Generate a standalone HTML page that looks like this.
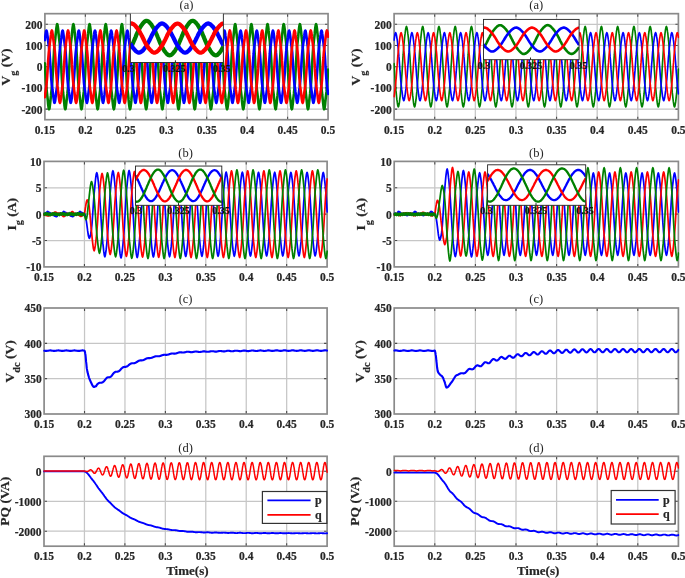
<!DOCTYPE html>
<html lang="en"><head><meta charset="utf-8"><title>Simulation results</title>
<style>
html,body{margin:0;padding:0;background:#fff}
svg{display:block;filter:blur(0.35px)}
text{stroke:#262626;stroke-width:0.2px;font-family:'Liberation Serif', serif;fill:#262626}
.tk{font-size:11.5px;font-weight:bold}
.tt{font-size:12.5px;stroke:none}
.in{font-size:10px;font-weight:bold;fill:#111}
.lg{font-size:12px;font-weight:bold}
.yl{font-size:13.5px;font-weight:bold}
.xl{font-size:13px;font-weight:bold}
</style></head><body>
<svg width="685" height="578" viewBox="0 0 685 578">
<defs>
<clipPath id="caL"><rect x="44.00" y="13.67" width="285.15" height="106.03"/></clipPath>
<clipPath id="cbL"><rect x="43.10" y="161.40" width="285.10" height="105.50"/></clipPath>
<clipPath id="ccL"><rect x="43.20" y="308.00" width="285.00" height="106.00"/></clipPath>
<clipPath id="cdL"><rect x="43.10" y="456.30" width="285.10" height="89.90"/></clipPath>
<clipPath id="caR"><rect x="393.20" y="13.67" width="286.30" height="106.03"/></clipPath>
<clipPath id="cbR"><rect x="393.30" y="161.40" width="286.20" height="105.50"/></clipPath>
<clipPath id="ccR"><rect x="393.30" y="308.00" width="286.20" height="106.00"/></clipPath>
<clipPath id="cdR"><rect x="393.30" y="456.30" width="286.20" height="89.90"/></clipPath>
</defs>
<rect width="685" height="578" fill="#fff"/>
<path d="M85.35,13.67V119.70M125.80,13.67V119.70M166.25,13.67V119.70M206.70,13.67V119.70M247.15,13.67V119.70M287.60,13.67V119.70M44.90,109.10H328.05M44.90,87.89H328.05M44.90,66.69H328.05M44.90,45.48H328.05M44.90,24.27H328.05" stroke="#c6c6c6" stroke-width="1.25" fill="none"/>
<path d="M84.44,161.40V266.90M124.89,161.40V266.90M165.33,161.40V266.90M205.77,161.40V266.90M246.21,161.40V266.90M286.66,161.40V266.90M44.00,240.52H327.10M44.00,214.15H327.10M44.00,187.78H327.10" stroke="#c6c6c6" stroke-width="1.25" fill="none"/>
<path d="M84.53,308.00V414.00M124.96,308.00V414.00M165.39,308.00V414.00M205.81,308.00V414.00M246.24,308.00V414.00M286.67,308.00V414.00M44.10,378.67H327.10M44.10,343.33H327.10" stroke="#c6c6c6" stroke-width="1.25" fill="none"/>
<path d="M84.44,456.30V546.20M124.89,456.30V546.20M165.33,456.30V546.20M205.77,456.30V546.20M246.21,456.30V546.20M286.66,456.30V546.20M44.00,531.22H327.10M44.00,501.25H327.10M44.00,471.28H327.10" stroke="#c6c6c6" stroke-width="1.25" fill="none"/>
<path d="M434.71,13.67V119.70M475.33,13.67V119.70M515.94,13.67V119.70M556.56,13.67V119.70M597.17,13.67V119.70M637.79,13.67V119.70M394.10,109.10H678.40M394.10,87.89H678.40M394.10,66.69H678.40M394.10,45.48H678.40M394.10,24.27H678.40" stroke="#c6c6c6" stroke-width="1.25" fill="none"/>
<path d="M434.80,161.40V266.90M475.40,161.40V266.90M516.00,161.40V266.90M556.60,161.40V266.90M597.20,161.40V266.90M637.80,161.40V266.90M394.20,240.52H678.40M394.20,214.15H678.40M394.20,187.78H678.40" stroke="#c6c6c6" stroke-width="1.25" fill="none"/>
<path d="M434.80,308.00V414.00M475.40,308.00V414.00M516.00,308.00V414.00M556.60,308.00V414.00M597.20,308.00V414.00M637.80,308.00V414.00M394.20,378.67H678.40M394.20,343.33H678.40" stroke="#c6c6c6" stroke-width="1.25" fill="none"/>
<path d="M434.80,456.30V546.20M475.40,456.30V546.20M516.00,456.30V546.20M556.60,456.30V546.20M597.20,456.30V546.20M637.80,456.30V546.20M394.20,531.22H678.40M394.20,501.25H678.40M394.20,471.28H678.40" stroke="#c6c6c6" stroke-width="1.25" fill="none"/>
<path d="M85.35,119.70v-3.0M85.35,13.67v3.0M125.80,119.70v-3.0M125.80,13.67v3.0M166.25,119.70v-3.0M166.25,13.67v3.0M206.70,119.70v-3.0M206.70,13.67v3.0M247.15,119.70v-3.0M247.15,13.67v3.0M287.60,119.70v-3.0M287.60,13.67v3.0M44.90,109.10h3.0M328.05,109.10h-3.0M44.90,87.89h3.0M328.05,87.89h-3.0M44.90,66.69h3.0M328.05,66.69h-3.0M44.90,45.48h3.0M328.05,45.48h-3.0M44.90,24.27h3.0M328.05,24.27h-3.0" stroke="#4a4a4a" stroke-width="1.1" fill="none"/>
<rect x="44.90" y="13.67" width="283.15" height="106.03" fill="none" stroke="#8a8a8a" stroke-width="1.7"/>
<path d="M84.44,266.90v-3.0M84.44,161.40v3.0M124.89,266.90v-3.0M124.89,161.40v3.0M165.33,266.90v-3.0M165.33,161.40v3.0M205.77,266.90v-3.0M205.77,161.40v3.0M246.21,266.90v-3.0M246.21,161.40v3.0M286.66,266.90v-3.0M286.66,161.40v3.0M44.00,240.52h3.0M327.10,240.52h-3.0M44.00,214.15h3.0M327.10,214.15h-3.0M44.00,187.78h3.0M327.10,187.78h-3.0" stroke="#4a4a4a" stroke-width="1.1" fill="none"/>
<rect x="44.00" y="161.40" width="283.10" height="105.50" fill="none" stroke="#8a8a8a" stroke-width="1.7"/>
<path d="M84.53,414.00v-3.0M84.53,308.00v3.0M124.96,414.00v-3.0M124.96,308.00v3.0M165.39,414.00v-3.0M165.39,308.00v3.0M205.81,414.00v-3.0M205.81,308.00v3.0M246.24,414.00v-3.0M246.24,308.00v3.0M286.67,414.00v-3.0M286.67,308.00v3.0M44.10,378.67h3.0M327.10,378.67h-3.0M44.10,343.33h3.0M327.10,343.33h-3.0" stroke="#4a4a4a" stroke-width="1.1" fill="none"/>
<rect x="44.10" y="308.00" width="283.00" height="106.00" fill="none" stroke="#8a8a8a" stroke-width="1.7"/>
<path d="M84.44,546.20v-3.0M84.44,456.30v3.0M124.89,546.20v-3.0M124.89,456.30v3.0M165.33,546.20v-3.0M165.33,456.30v3.0M205.77,546.20v-3.0M205.77,456.30v3.0M246.21,546.20v-3.0M246.21,456.30v3.0M286.66,546.20v-3.0M286.66,456.30v3.0M44.00,531.22h3.0M327.10,531.22h-3.0M44.00,501.25h3.0M327.10,501.25h-3.0M44.00,471.28h3.0M327.10,471.28h-3.0" stroke="#4a4a4a" stroke-width="1.1" fill="none"/>
<rect x="44.00" y="456.30" width="283.10" height="89.90" fill="none" stroke="#8a8a8a" stroke-width="1.7"/>
<path d="M434.71,119.70v-3.0M434.71,13.67v3.0M475.33,119.70v-3.0M475.33,13.67v3.0M515.94,119.70v-3.0M515.94,13.67v3.0M556.56,119.70v-3.0M556.56,13.67v3.0M597.17,119.70v-3.0M597.17,13.67v3.0M637.79,119.70v-3.0M637.79,13.67v3.0M394.10,109.10h3.0M678.40,109.10h-3.0M394.10,87.89h3.0M678.40,87.89h-3.0M394.10,66.69h3.0M678.40,66.69h-3.0M394.10,45.48h3.0M678.40,45.48h-3.0M394.10,24.27h3.0M678.40,24.27h-3.0" stroke="#4a4a4a" stroke-width="1.1" fill="none"/>
<rect x="394.10" y="13.67" width="284.30" height="106.03" fill="none" stroke="#8a8a8a" stroke-width="1.7"/>
<path d="M434.80,266.90v-3.0M434.80,161.40v3.0M475.40,266.90v-3.0M475.40,161.40v3.0M516.00,266.90v-3.0M516.00,161.40v3.0M556.60,266.90v-3.0M556.60,161.40v3.0M597.20,266.90v-3.0M597.20,161.40v3.0M637.80,266.90v-3.0M637.80,161.40v3.0M394.20,240.52h3.0M678.40,240.52h-3.0M394.20,214.15h3.0M678.40,214.15h-3.0M394.20,187.78h3.0M678.40,187.78h-3.0" stroke="#4a4a4a" stroke-width="1.1" fill="none"/>
<rect x="394.20" y="161.40" width="284.20" height="105.50" fill="none" stroke="#8a8a8a" stroke-width="1.7"/>
<path d="M434.80,414.00v-3.0M434.80,308.00v3.0M475.40,414.00v-3.0M475.40,308.00v3.0M516.00,414.00v-3.0M516.00,308.00v3.0M556.60,414.00v-3.0M556.60,308.00v3.0M597.20,414.00v-3.0M597.20,308.00v3.0M637.80,414.00v-3.0M637.80,308.00v3.0M394.20,378.67h3.0M678.40,378.67h-3.0M394.20,343.33h3.0M678.40,343.33h-3.0" stroke="#4a4a4a" stroke-width="1.1" fill="none"/>
<rect x="394.20" y="308.00" width="284.20" height="106.00" fill="none" stroke="#8a8a8a" stroke-width="1.7"/>
<path d="M434.80,546.20v-3.0M434.80,456.30v3.0M475.40,546.20v-3.0M475.40,456.30v3.0M516.00,546.20v-3.0M516.00,456.30v3.0M556.60,546.20v-3.0M556.60,456.30v3.0M597.20,546.20v-3.0M597.20,456.30v3.0M637.80,546.20v-3.0M637.80,456.30v3.0M394.20,531.22h3.0M678.40,531.22h-3.0M394.20,501.25h3.0M678.40,501.25h-3.0M394.20,471.28h3.0M678.40,471.28h-3.0" stroke="#4a4a4a" stroke-width="1.1" fill="none"/>
<rect x="394.20" y="456.30" width="284.20" height="89.90" fill="none" stroke="#8a8a8a" stroke-width="1.7"/>
<g clip-path="url(#caL)"><path transform="scale(0.8125,1)" d="M55.3,63.6 L55.5,68.0 L55.8,72.4 L56.1,76.5 L56.4,80.3 L56.7,83.6 L57.0,86.5 L57.3,88.9 L57.5,91.1 L57.8,93.1 L58.1,95.1 L58.4,97.2 L58.7,99.4 L59.0,101.6 L59.2,103.8 L59.5,105.8 L59.8,107.4 L60.1,108.5 L60.4,109.0 L60.7,108.8 L61.0,107.9 L61.2,106.5 L61.5,104.6 L61.8,102.5 L62.1,100.2 L62.4,98.0 L62.7,95.9 L62.9,93.9 L63.2,91.9 L63.5,89.8 L63.8,87.5 L64.1,84.8 L64.4,81.7 L64.6,78.1 L64.9,74.1 L65.2,69.8 L65.5,65.4 L65.8,61.0 L66.1,56.8 L66.4,53.1 L66.6,49.7 L66.9,46.9 L67.2,44.4 L67.5,42.3 L67.8,40.2 L68.1,38.2 L68.3,36.2 L68.6,34.0 L68.9,31.8 L69.2,29.6 L69.5,27.6 L69.8,26.0 L70.1,24.9 L70.3,24.4 L70.6,24.6 L70.9,25.5 L71.2,26.9 L71.5,28.8 L71.8,30.9 L72.0,33.1 L72.3,35.3 L72.6,37.4 L72.9,39.4 L73.2,41.4 L73.5,43.5 L73.8,45.9 L74.0,48.5 L74.3,51.7 L74.6,55.3 L74.9,59.3 L75.2,63.6 L75.5,68.0 L75.7,72.4 L76.0,76.5 L76.3,80.3 L76.6,83.6 L76.9,86.5 L77.2,88.9 L77.5,91.1 L77.7,93.1 L78.0,95.1 L78.3,97.2 L78.6,99.4 L78.9,101.6 L79.2,103.8 L79.4,105.8 L79.7,107.4 L80.0,108.5 L80.3,109.0 L80.6,108.8 L80.9,107.9 L81.1,106.5 L81.4,104.6 L81.7,102.5 L82.0,100.2 L82.3,98.0 L82.6,95.9 L82.9,93.9 L83.1,91.9 L83.4,89.8 L83.7,87.5 L84.0,84.8 L84.3,81.7 L84.6,78.1 L84.8,74.1 L85.1,69.8 L85.4,65.4 L85.7,61.0 L86.0,56.8 L86.3,53.1 L86.6,49.7 L86.8,46.9 L87.1,44.4 L87.4,42.3 L87.7,40.2 L88.0,38.2 L88.3,36.2 L88.5,34.0 L88.8,31.8 L89.1,29.6 L89.4,27.6 L89.7,26.0 L90.0,24.9 L90.3,24.4 L90.5,24.6 L90.8,25.5 L91.1,26.9 L91.4,28.8 L91.7,30.9 L92.0,33.1 L92.2,35.3 L92.5,37.4 L92.8,39.4 L93.1,41.4 L93.4,43.5 L93.7,45.9 L94.0,48.5 L94.2,51.7 L94.5,55.3 L94.8,59.3 L95.1,63.6 L95.4,68.0 L95.7,72.4 L95.9,76.5 L96.2,80.3 L96.5,83.6 L96.8,86.5 L97.1,88.9 L97.4,91.1 L97.6,93.1 L97.9,95.1 L98.2,97.2 L98.5,99.4 L98.8,101.6 L99.1,103.8 L99.4,105.8 L99.6,107.4 L99.9,108.5 L100.2,109.0 L100.5,108.8 L100.8,107.9 L101.1,106.5 L101.3,104.6 L101.6,102.5 L101.9,100.2 L102.2,98.0 L102.5,95.9 L102.8,93.9 L103.1,91.9 L103.3,89.8 L103.6,87.5 L103.9,84.8 L104.2,81.7 L104.5,78.1 L104.8,74.1 L105.0,69.8 L105.3,65.4 L105.6,61.0 L105.9,56.8 L106.2,53.1 L106.5,49.7 L106.8,46.9 L107.0,44.4 L107.3,42.3 L107.6,40.2 L107.9,38.2 L108.2,36.2 L108.5,34.0 L108.7,31.8 L109.0,29.6 L109.3,27.6 L109.6,26.0 L109.9,24.9 L110.2,24.4 L110.5,24.6 L110.7,25.5 L111.0,26.9 L111.3,28.8 L111.6,30.9 L111.9,33.1 L112.2,35.3 L112.4,37.4 L112.7,39.4 L113.0,41.4 L113.3,43.5 L113.6,45.9 L113.9,48.5 L114.1,51.7 L114.4,55.3 L114.7,59.3 L115.0,63.6 L115.3,68.0 L115.6,72.4 L115.9,76.5 L116.1,80.3 L116.4,83.6 L116.7,86.5 L117.0,88.9 L117.3,91.1 L117.6,93.1 L117.8,95.1 L118.1,97.2 L118.4,99.4 L118.7,101.6 L119.0,103.8 L119.3,105.8 L119.6,107.4 L119.8,108.5 L120.1,109.0 L120.4,108.8 L120.7,107.9 L121.0,106.5 L121.3,104.6 L121.5,102.5 L121.8,100.2 L122.1,98.0 L122.4,95.9 L122.7,93.9 L123.0,91.9 L123.3,89.8 L123.5,87.5 L123.8,84.8 L124.1,81.7 L124.4,78.1 L124.7,74.1 L125.0,69.8 L125.2,65.4 L125.5,61.0 L125.8,56.8 L126.1,53.1 L126.4,49.7 L126.7,46.9 L127.0,44.4 L127.2,42.3 L127.5,40.2 L127.8,38.2 L128.1,36.2 L128.4,34.0 L128.7,31.8 L128.9,29.6 L129.2,27.6 L129.5,26.0 L129.8,24.9 L130.1,24.4 L130.4,24.6 L130.6,25.5 L130.9,26.9 L131.2,28.8 L131.5,30.9 L131.8,33.1 L132.1,35.3 L132.4,37.4 L132.6,39.4 L132.9,41.4 L133.2,43.5 L133.5,45.9 L133.8,48.5 L134.1,51.7 L134.3,55.3 L134.6,59.3 L134.9,63.6 L135.2,68.0 L135.5,72.4 L135.8,76.5 L136.1,80.3 L136.3,83.6 L136.6,86.5 L136.9,88.9 L137.2,91.1 L137.5,93.1 L137.8,95.1 L138.0,97.2 L138.3,99.4 L138.6,101.6 L138.9,103.8 L139.2,105.8 L139.5,107.4 L139.8,108.5 L140.0,109.0 L140.3,108.8 L140.6,107.9 L140.9,106.5 L141.2,104.6 L141.5,102.5 L141.7,100.2 L142.0,98.0 L142.3,95.9 L142.6,93.9 L142.9,91.9 L143.2,89.8 L143.5,87.5 L143.7,84.8 L144.0,81.7 L144.3,78.1 L144.6,74.1 L144.9,69.8 L145.2,65.4 L145.4,61.0 L145.7,56.8 L146.0,53.1 L146.3,49.7 L146.6,46.9 L146.9,44.4 L147.1,42.3 L147.4,40.2 L147.7,38.2 L148.0,36.2 L148.3,34.0 L148.6,31.8 L148.9,29.6 L149.1,27.6 L149.4,26.0 L149.7,24.9 L150.0,24.4 L150.3,24.6 L150.6,25.5 L150.8,26.9 L151.1,28.8 L151.4,30.9 L151.7,33.1 L152.0,35.3 L152.3,37.4 L152.6,39.4 L152.8,41.4 L153.1,43.5 L153.4,45.9 L153.7,48.5 L154.0,51.7 L154.3,55.3 L154.5,59.3 L154.8,63.6 L155.1,68.0 L155.4,72.4 L155.7,76.5 L156.0,80.3 L156.3,83.6 L156.5,86.5 L156.8,88.9 L157.1,91.1 L157.4,93.1 L157.7,95.1 L158.0,97.2 L158.2,99.4 L158.5,101.6 L158.8,103.8 L159.1,105.8 L159.4,107.4 L159.7,108.5 L160.0,109.0 L160.2,108.8 L160.5,107.9 L160.8,106.5 L161.1,104.6 L161.4,102.5 L161.7,100.2 L161.9,98.0 L162.2,95.9 L162.5,93.9 L162.8,91.9 L163.1,89.8 L163.4,87.5 L163.6,84.8 L163.9,81.7 L164.2,78.1 L164.5,74.1 L164.8,69.8 L165.1,65.4 L165.4,61.0 L165.6,56.8 L165.9,53.1 L166.2,49.7 L166.5,46.9 L166.8,44.4 L167.1,42.3 L167.3,40.2 L167.6,38.2 L167.9,36.2 L168.2,34.0 L168.5,31.8 L168.8,29.6 L169.1,27.6 L169.3,26.0 L169.6,24.9 L169.9,24.4 L170.2,24.6 L170.5,25.5 L170.8,26.9 L171.0,28.8 L171.3,30.9 L171.6,33.1 L171.9,35.3 L172.2,37.4 L172.5,39.4 L172.8,41.4 L173.0,43.5 L173.3,45.9 L173.6,48.5 L173.9,51.7 L174.2,55.3 L174.5,59.3 L174.7,63.6 L175.0,68.0 L175.3,72.4 L175.6,76.5 L175.9,80.3 L176.2,83.6 L176.5,86.5 L176.7,88.9 L177.0,91.1 L177.3,93.1 L177.6,95.1 L177.9,97.2 L178.2,99.4 L178.4,101.6 L178.7,103.8 L179.0,105.8 L179.3,107.4 L179.6,108.5 L179.9,109.0 L180.1,108.8 L180.4,107.9 L180.7,106.5 L181.0,104.6 L181.3,102.5 L181.6,100.2 L181.9,98.0 L182.1,95.9 L182.4,93.9 L182.7,91.9 L183.0,89.8 L183.3,87.5 L183.6,84.8 L183.8,81.7 L184.1,78.1 L184.4,74.1 L184.7,69.8 L185.0,65.4 L185.3,61.0 L185.6,56.8 L185.8,53.1 L186.1,49.7 L186.4,46.9 L186.7,44.4 L187.0,42.3 L187.3,40.2 L187.5,38.2 L187.8,36.2 L188.1,34.0 L188.4,31.8 L188.7,29.6 L189.0,27.6 L189.3,26.0 L189.5,24.9 L189.8,24.4 L190.1,24.6 L190.4,25.5 L190.7,26.9 L191.0,28.8 L191.2,30.9 L191.5,33.1 L191.8,35.3 L192.1,37.4 L192.4,39.4 L192.7,41.4 L193.0,43.5 L193.2,45.9 L193.5,48.5 L193.8,51.7 L194.1,55.3 L194.4,59.3 L194.7,63.6 L194.9,68.0 L195.2,72.4 L195.5,76.5 L195.8,80.3 L196.1,83.6 L196.4,86.5 L196.6,88.9 L196.9,91.1 L197.2,93.1 L197.5,95.1 L197.8,97.2 L198.1,99.4 L198.4,101.6 L198.6,103.8 L198.9,105.8 L199.2,107.4 L199.5,108.5 L199.8,109.0 L200.1,108.8 L200.3,107.9 L200.6,106.5 L200.9,104.6 L201.2,102.5 L201.5,100.2 L201.8,98.0 L202.1,95.9 L202.3,93.9 L202.6,91.9 L202.9,89.8 L203.2,87.5 L203.5,84.8 L203.8,81.7 L204.0,78.1 L204.3,74.1 L204.6,69.8 L204.9,65.4 L205.2,61.0 L205.5,56.8 L205.8,53.1 L206.0,49.7 L206.3,46.9 L206.6,44.4 L206.9,42.3 L207.2,40.2 L207.5,38.2 L207.7,36.2 L208.0,34.0 L208.3,31.8 L208.6,29.6 L208.9,27.6 L209.2,26.0 L209.5,24.9 L209.7,24.4 L210.0,24.6 L210.3,25.5 L210.6,26.9 L210.9,28.8 L211.2,30.9 L211.4,33.1 L211.7,35.3 L212.0,37.4 L212.3,39.4 L212.6,41.4 L212.9,43.5 L213.1,45.9 L213.4,48.5 L213.7,51.7 L214.0,55.3 L214.3,59.3 L214.6,63.6 L214.9,68.0 L215.1,72.4 L215.4,76.5 L215.7,80.3 L216.0,83.6 L216.3,86.5 L216.6,88.9 L216.8,91.1 L217.1,93.1 L217.4,95.1 L217.7,97.2 L218.0,99.4 L218.3,101.6 L218.6,103.8 L218.8,105.8 L219.1,107.4 L219.4,108.5 L219.7,109.0 L220.0,108.8 L220.3,107.9 L220.5,106.5 L220.8,104.6 L221.1,102.5 L221.4,100.2 L221.7,98.0 L222.0,95.9 L222.3,93.9 L222.5,91.9 L222.8,89.8 L223.1,87.5 L223.4,84.8 L223.7,81.7 L224.0,78.1 L224.2,74.1 L224.5,69.8 L224.8,65.4 L225.1,61.0 L225.4,56.8 L225.7,53.1 L226.0,49.7 L226.2,46.9 L226.5,44.4 L226.8,42.3 L227.1,40.2 L227.4,38.2 L227.7,36.2 L227.9,34.0 L228.2,31.8 L228.5,29.6 L228.8,27.6 L229.1,26.0 L229.4,24.9 L229.6,24.4 L229.9,24.6 L230.2,25.5 L230.5,26.9 L230.8,28.8 L231.1,30.9 L231.4,33.1 L231.6,35.3 L231.9,37.4 L232.2,39.4 L232.5,41.4 L232.8,43.5 L233.1,45.9 L233.3,48.5 L233.6,51.7 L233.9,55.3 L234.2,59.3 L234.5,63.6 L234.8,68.0 L235.1,72.4 L235.3,76.5 L235.6,80.3 L235.9,83.6 L236.2,86.5 L236.5,88.9 L236.8,91.1 L237.0,93.1 L237.3,95.1 L237.6,97.2 L237.9,99.4 L238.2,101.6 L238.5,103.8 L238.8,105.8 L239.0,107.4 L239.3,108.5 L239.6,109.0 L239.9,108.8 L240.2,107.9 L240.5,106.5 L240.7,104.6 L241.0,102.5 L241.3,100.2 L241.6,98.0 L241.9,95.9 L242.2,93.9 L242.5,91.9 L242.7,89.8 L243.0,87.5 L243.3,84.8 L243.6,81.7 L243.9,78.1 L244.2,74.1 L244.4,69.8 L244.7,65.4 L245.0,61.0 L245.3,56.8 L245.6,53.1 L245.9,49.7 L246.1,46.9 L246.4,44.4 L246.7,42.3 L247.0,40.2 L247.3,38.2 L247.6,36.2 L247.9,34.0 L248.1,31.8 L248.4,29.6 L248.7,27.6 L249.0,26.0 L249.3,24.9 L249.6,24.4 L249.8,24.6 L250.1,25.5 L250.4,26.9 L250.7,28.8 L251.0,30.9 L251.3,33.1 L251.6,35.3 L251.8,37.4 L252.1,39.4 L252.4,41.4 L252.7,43.5 L253.0,45.9 L253.3,48.5 L253.5,51.7 L253.8,55.3 L254.1,59.3 L254.4,63.6 L254.7,68.0 L255.0,72.4 L255.3,76.5 L255.5,80.3 L255.8,83.6 L256.1,86.5 L256.4,88.9 L256.7,91.1 L257.0,93.1 L257.2,95.1 L257.5,97.2 L257.8,99.4 L258.1,101.6 L258.4,103.8 L258.7,105.8 L259.0,107.4 L259.2,108.5 L259.5,109.0 L259.8,108.8 L260.1,107.9 L260.4,106.5 L260.7,104.6 L260.9,102.5 L261.2,100.2 L261.5,98.0 L261.8,95.9 L262.1,93.9 L262.4,91.9 L262.7,89.8 L262.9,87.5 L263.2,84.8 L263.5,81.7 L263.8,78.1 L264.1,74.1 L264.4,69.8 L264.6,65.4 L264.9,61.0 L265.2,56.8 L265.5,53.1 L265.8,49.7 L266.1,46.9 L266.3,44.4 L266.6,42.3 L266.9,40.2 L267.2,38.2 L267.5,36.2 L267.8,34.0 L268.1,31.8 L268.3,29.6 L268.6,27.6 L268.9,26.0 L269.2,24.9 L269.5,24.4 L269.8,24.6 L270.0,25.5 L270.3,26.9 L270.6,28.8 L270.9,30.9 L271.2,33.1 L271.5,35.3 L271.8,37.4 L272.0,39.4 L272.3,41.4 L272.6,43.5 L272.9,45.9 L273.2,48.5 L273.5,51.7 L273.7,55.3 L274.0,59.3 L274.3,63.6 L274.6,68.0 L274.9,72.4 L275.2,76.5 L275.5,80.3 L275.7,83.6 L276.0,86.5 L276.3,88.9 L276.6,91.1 L276.9,93.1 L277.2,95.1 L277.4,97.2 L277.7,99.4 L278.0,101.6 L278.3,103.8 L278.6,105.8 L278.9,107.4 L279.2,108.5 L279.4,109.0 L279.7,108.8 L280.0,107.9 L280.3,106.5 L280.6,104.6 L280.9,102.5 L281.1,100.2 L281.4,98.0 L281.7,95.9 L282.0,93.9 L282.3,91.9 L282.6,89.8 L282.8,87.5 L283.1,84.8 L283.4,81.7 L283.7,78.1 L284.0,74.1 L284.3,69.8 L284.6,65.4 L284.8,61.0 L285.1,56.8 L285.4,53.1 L285.7,49.7 L286.0,46.9 L286.3,44.4 L286.5,42.3 L286.8,40.2 L287.1,38.2 L287.4,36.2 L287.7,34.0 L288.0,31.8 L288.3,29.6 L288.5,27.6 L288.8,26.0 L289.1,24.9 L289.4,24.4 L289.7,24.6 L290.0,25.5 L290.2,26.9 L290.5,28.8 L290.8,30.9 L291.1,33.1 L291.4,35.3 L291.7,37.4 L292.0,39.4 L292.2,41.4 L292.5,43.5 L292.8,45.9 L293.1,48.5 L293.4,51.7 L293.7,55.3 L293.9,59.3 L294.2,63.6 L294.5,68.0 L294.8,72.4 L295.1,76.5 L295.4,80.3 L295.7,83.6 L295.9,86.5 L296.2,88.9 L296.5,91.1 L296.8,93.1 L297.1,95.1 L297.4,97.2 L297.6,99.4 L297.9,101.6 L298.2,103.8 L298.5,105.8 L298.8,107.4 L299.1,108.5 L299.3,109.0 L299.6,108.8 L299.9,107.9 L300.2,106.5 L300.5,104.6 L300.8,102.5 L301.1,100.2 L301.3,98.0 L301.6,95.9 L301.9,93.9 L302.2,91.9 L302.5,89.8 L302.8,87.5 L303.0,84.8 L303.3,81.7 L303.6,78.1 L303.9,74.1 L304.2,69.8 L304.5,65.4 L304.8,61.0 L305.0,56.8 L305.3,53.1 L305.6,49.7 L305.9,46.9 L306.2,44.4 L306.5,42.3 L306.7,40.2 L307.0,38.2 L307.3,36.2 L307.6,34.0 L307.9,31.8 L308.2,29.6 L308.5,27.6 L308.7,26.0 L309.0,24.9 L309.3,24.4 L309.6,24.6 L309.9,25.5 L310.2,26.9 L310.4,28.8 L310.7,30.9 L311.0,33.1 L311.3,35.3 L311.6,37.4 L311.9,39.4 L312.2,41.4 L312.4,43.5 L312.7,45.9 L313.0,48.5 L313.3,51.7 L313.6,55.3 L313.9,59.3 L314.1,63.6 L314.4,68.0 L314.7,72.4 L315.0,76.5 L315.3,80.3 L315.6,83.6 L315.8,86.5 L316.1,88.9 L316.4,91.1 L316.7,93.1 L317.0,95.1 L317.3,97.2 L317.6,99.4 L317.8,101.6 L318.1,103.8 L318.4,105.8 L318.7,107.4 L319.0,108.5 L319.3,109.0 L319.5,108.8 L319.8,107.9 L320.1,106.5 L320.4,104.6 L320.7,102.5 L321.0,100.2 L321.3,98.0 L321.5,95.9 L321.8,93.9 L322.1,91.9 L322.4,89.8 L322.7,87.5 L323.0,84.8 L323.2,81.7 L323.5,78.1 L323.8,74.1 L324.1,69.8 L324.4,65.4 L324.7,61.0 L325.0,56.8 L325.2,53.1 L325.5,49.7 L325.8,46.9 L326.1,44.4 L326.4,42.3 L326.7,40.2 L326.9,38.2 L327.2,36.2 L327.5,34.0 L327.8,31.8 L328.1,29.6 L328.4,27.6 L328.7,26.0 L328.9,24.9 L329.2,24.4 L329.5,24.6 L329.8,25.5 L330.1,26.9 L330.4,28.8 L330.6,30.9 L330.9,33.1 L331.2,35.3 L331.5,37.4 L331.8,39.4 L332.1,41.4 L332.3,43.5 L332.6,45.9 L332.9,48.5 L333.2,51.7 L333.5,55.3 L333.8,59.3 L334.1,63.6 L334.3,68.0 L334.6,72.4 L334.9,76.5 L335.2,80.3 L335.5,83.6 L335.8,86.5 L336.0,88.9 L336.3,91.1 L336.6,93.1 L336.9,95.1 L337.2,97.2 L337.5,99.4 L337.8,101.6 L338.0,103.8 L338.3,105.8 L338.6,107.4 L338.9,108.5 L339.2,109.0 L339.5,108.8 L339.7,107.9 L340.0,106.5 L340.3,104.6 L340.6,102.5 L340.9,100.2 L341.2,98.0 L341.5,95.9 L341.7,93.9 L342.0,91.9 L342.3,89.8 L342.6,87.5 L342.9,84.8 L343.2,81.7 L343.4,78.1 L343.7,74.1 L344.0,69.8 L344.3,65.4 L344.6,61.0 L344.9,56.8 L345.2,53.1 L345.4,49.7 L345.7,46.9 L346.0,44.4 L346.3,42.3 L346.6,40.2 L346.9,38.2 L347.1,36.2 L347.4,34.0 L347.7,31.8 L348.0,29.6 L348.3,27.6 L348.6,26.0 L348.8,24.9 L349.1,24.4 L349.4,24.6 L349.7,25.5 L350.0,26.9 L350.3,28.8 L350.6,30.9 L350.8,33.1 L351.1,35.3 L351.4,37.4 L351.7,39.4 L352.0,41.4 L352.3,43.5 L352.5,45.9 L352.8,48.5 L353.1,51.7 L353.4,55.3 L353.7,59.3 L354.0,63.6 L354.3,68.0 L354.5,72.4 L354.8,76.5 L355.1,80.3 L355.4,83.6 L355.7,86.5 L356.0,88.9 L356.2,91.1 L356.5,93.1 L356.8,95.1 L357.1,97.2 L357.4,99.4 L357.7,101.6 L358.0,103.8 L358.2,105.8 L358.5,107.4 L358.8,108.5 L359.1,109.0 L359.4,108.8 L359.7,107.9 L359.9,106.5 L360.2,104.6 L360.5,102.5 L360.8,100.2 L361.1,98.0 L361.4,95.9 L361.7,93.9 L361.9,91.9 L362.2,89.8 L362.5,87.5 L362.8,84.8 L363.1,81.7 L363.4,78.1 L363.6,74.1 L363.9,69.8 L364.2,65.4 L364.5,61.0 L364.8,56.8 L365.1,53.1 L365.3,49.7 L365.6,46.9 L365.9,44.4 L366.2,42.3 L366.5,40.2 L366.8,38.2 L367.1,36.2 L367.3,34.0 L367.6,31.8 L367.9,29.6 L368.2,27.6 L368.5,26.0 L368.8,24.9 L369.0,24.4 L369.3,24.6 L369.6,25.5 L369.9,26.9 L370.2,28.8 L370.5,30.9 L370.8,33.1 L371.0,35.3 L371.3,37.4 L371.6,39.4 L371.9,41.4 L372.2,43.5 L372.5,45.9 L372.7,48.5 L373.0,51.7 L373.3,55.3 L373.6,59.3 L373.9,63.6 L374.2,68.0 L374.5,72.4 L374.7,76.5 L375.0,80.3 L375.3,83.6 L375.6,86.5 L375.9,88.9 L376.2,91.1 L376.4,93.1 L376.7,95.1 L377.0,97.2 L377.3,99.4 L377.6,101.6 L377.9,103.8 L378.2,105.8 L378.4,107.4 L378.7,108.5 L379.0,109.0 L379.3,108.8 L379.6,107.9 L379.9,106.5 L380.1,104.6 L380.4,102.5 L380.7,100.2 L381.0,98.0 L381.3,95.9 L381.6,93.9 L381.8,91.9 L382.1,89.8 L382.4,87.5 L382.7,84.8 L383.0,81.7 L383.3,78.1 L383.6,74.1 L383.8,69.8 L384.1,65.4 L384.4,61.0 L384.7,56.8 L385.0,53.1 L385.3,49.7 L385.5,46.9 L385.8,44.4 L386.1,42.3 L386.4,40.2 L386.7,38.2 L387.0,36.2 L387.3,34.0 L387.5,31.8 L387.8,29.6 L388.1,27.6 L388.4,26.0 L388.7,24.9 L389.0,24.4 L389.2,24.6 L389.5,25.5 L389.8,26.9 L390.1,28.8 L390.4,30.9 L390.7,33.1 L391.0,35.3 L391.2,37.4 L391.5,39.4 L391.8,41.4 L392.1,43.5 L392.4,45.9 L392.7,48.5 L392.9,51.7 L393.2,55.3 L393.5,59.3 L393.8,63.6 L394.1,68.0 L394.4,72.4 L394.7,76.5 L394.9,80.3 L395.2,83.6 L395.5,86.5 L395.8,88.9 L396.1,91.1 L396.4,93.1 L396.6,95.1 L396.9,97.2 L397.2,99.4 L397.5,101.6 L397.8,103.8 L398.1,105.8 L398.3,107.4 L398.6,108.5 L398.9,109.0 L399.2,108.8 L399.5,107.9 L399.8,106.5 L400.1,104.6 L400.3,102.5 L400.6,100.2 L400.9,98.0 L401.2,95.9 L401.5,93.9 L401.8,91.9 L402.0,89.8 L402.3,87.5 L402.6,84.8 L402.9,81.7 L403.2,78.1 L403.5,74.1 L403.8,69.8" stroke="#008000" stroke-width="3.2" fill="none" stroke-linejoin="round" stroke-linecap="round"/></g>
<g clip-path="url(#caL)"><path transform="scale(0.8125,1)" d="M55.3,39.8 L55.5,37.9 L55.8,36.0 L56.1,34.2 L56.4,32.7 L56.7,31.5 L57.0,30.9 L57.3,30.8 L57.5,31.3 L57.8,32.3 L58.1,33.7 L58.4,35.5 L58.7,37.3 L59.0,39.2 L59.2,41.0 L59.5,42.8 L59.8,44.5 L60.1,46.2 L60.4,48.1 L60.7,50.2 L61.0,52.7 L61.2,55.6 L61.5,58.8 L61.8,62.4 L62.1,66.1 L62.4,69.9 L62.7,73.5 L62.9,76.9 L63.2,79.9 L63.5,82.5 L63.8,84.7 L64.1,86.6 L64.4,88.4 L64.6,90.1 L64.9,91.8 L65.2,93.6 L65.5,95.5 L65.8,97.4 L66.1,99.1 L66.4,100.7 L66.6,101.8 L66.9,102.5 L67.2,102.6 L67.5,102.1 L67.8,101.1 L68.1,99.6 L68.3,97.9 L68.6,96.0 L68.9,94.2 L69.2,92.3 L69.5,90.6 L69.8,88.9 L70.1,87.2 L70.3,85.3 L70.6,83.2 L70.9,80.7 L71.2,77.8 L71.5,74.6 L71.8,71.0 L72.0,67.3 L72.3,63.5 L72.6,59.9 L72.9,56.5 L73.2,53.5 L73.5,50.9 L73.8,48.7 L74.0,46.7 L74.3,45.0 L74.6,43.3 L74.9,41.6 L75.2,39.8 L75.5,37.9 L75.7,36.0 L76.0,34.2 L76.3,32.7 L76.6,31.5 L76.9,30.9 L77.2,30.8 L77.5,31.3 L77.7,32.3 L78.0,33.7 L78.3,35.5 L78.6,37.3 L78.9,39.2 L79.2,41.0 L79.4,42.8 L79.7,44.5 L80.0,46.2 L80.3,48.1 L80.6,50.2 L80.9,52.7 L81.1,55.6 L81.4,58.8 L81.7,62.4 L82.0,66.1 L82.3,69.9 L82.6,73.5 L82.9,76.9 L83.1,79.9 L83.4,82.5 L83.7,84.7 L84.0,86.6 L84.3,88.4 L84.6,90.1 L84.8,91.8 L85.1,93.6 L85.4,95.5 L85.7,97.4 L86.0,99.1 L86.3,100.7 L86.6,101.8 L86.8,102.5 L87.1,102.6 L87.4,102.1 L87.7,101.1 L88.0,99.6 L88.3,97.9 L88.5,96.0 L88.8,94.2 L89.1,92.3 L89.4,90.6 L89.7,88.9 L90.0,87.2 L90.3,85.3 L90.5,83.2 L90.8,80.7 L91.1,77.8 L91.4,74.6 L91.7,71.0 L92.0,67.3 L92.2,63.5 L92.5,59.9 L92.8,56.5 L93.1,53.5 L93.4,50.9 L93.7,48.7 L94.0,46.7 L94.2,45.0 L94.5,43.3 L94.8,41.6 L95.1,39.8 L95.4,37.9 L95.7,36.0 L95.9,34.2 L96.2,32.7 L96.5,31.5 L96.8,30.9 L97.1,30.8 L97.4,31.3 L97.6,32.3 L97.9,33.7 L98.2,35.5 L98.5,37.3 L98.8,39.2 L99.1,41.0 L99.4,42.8 L99.6,44.5 L99.9,46.2 L100.2,48.1 L100.5,50.2 L100.8,52.7 L101.1,55.6 L101.3,58.8 L101.6,62.4 L101.9,66.1 L102.2,69.9 L102.5,73.5 L102.8,76.9 L103.1,79.9 L103.3,82.5 L103.6,84.7 L103.9,86.6 L104.2,88.4 L104.5,90.1 L104.8,91.8 L105.0,93.6 L105.3,95.5 L105.6,97.4 L105.9,99.1 L106.2,100.7 L106.5,101.8 L106.8,102.5 L107.0,102.6 L107.3,102.1 L107.6,101.1 L107.9,99.6 L108.2,97.9 L108.5,96.0 L108.7,94.2 L109.0,92.3 L109.3,90.6 L109.6,88.9 L109.9,87.2 L110.2,85.3 L110.5,83.2 L110.7,80.7 L111.0,77.8 L111.3,74.6 L111.6,71.0 L111.9,67.3 L112.2,63.5 L112.4,59.9 L112.7,56.5 L113.0,53.5 L113.3,50.9 L113.6,48.7 L113.9,46.7 L114.1,45.0 L114.4,43.3 L114.7,41.6 L115.0,39.8 L115.3,37.9 L115.6,36.0 L115.9,34.2 L116.1,32.7 L116.4,31.5 L116.7,30.9 L117.0,30.8 L117.3,31.3 L117.6,32.3 L117.8,33.7 L118.1,35.5 L118.4,37.3 L118.7,39.2 L119.0,41.0 L119.3,42.8 L119.6,44.5 L119.8,46.2 L120.1,48.1 L120.4,50.2 L120.7,52.7 L121.0,55.6 L121.3,58.8 L121.5,62.4 L121.8,66.1 L122.1,69.9 L122.4,73.5 L122.7,76.9 L123.0,79.9 L123.3,82.5 L123.5,84.7 L123.8,86.6 L124.1,88.4 L124.4,90.1 L124.7,91.8 L125.0,93.6 L125.2,95.5 L125.5,97.4 L125.8,99.1 L126.1,100.7 L126.4,101.8 L126.7,102.5 L127.0,102.6 L127.2,102.1 L127.5,101.1 L127.8,99.6 L128.1,97.9 L128.4,96.0 L128.7,94.2 L128.9,92.3 L129.2,90.6 L129.5,88.9 L129.8,87.2 L130.1,85.3 L130.4,83.2 L130.6,80.7 L130.9,77.8 L131.2,74.6 L131.5,71.0 L131.8,67.3 L132.1,63.5 L132.4,59.9 L132.6,56.5 L132.9,53.5 L133.2,50.9 L133.5,48.7 L133.8,46.7 L134.1,45.0 L134.3,43.3 L134.6,41.6 L134.9,39.8 L135.2,37.9 L135.5,36.0 L135.8,34.2 L136.1,32.7 L136.3,31.5 L136.6,30.9 L136.9,30.8 L137.2,31.3 L137.5,32.3 L137.8,33.7 L138.0,35.5 L138.3,37.3 L138.6,39.2 L138.9,41.0 L139.2,42.8 L139.5,44.5 L139.8,46.2 L140.0,48.1 L140.3,50.2 L140.6,52.7 L140.9,55.6 L141.2,58.8 L141.5,62.4 L141.7,66.1 L142.0,69.9 L142.3,73.5 L142.6,76.9 L142.9,79.9 L143.2,82.5 L143.5,84.7 L143.7,86.6 L144.0,88.4 L144.3,90.1 L144.6,91.8 L144.9,93.6 L145.2,95.5 L145.4,97.4 L145.7,99.1 L146.0,100.7 L146.3,101.8 L146.6,102.5 L146.9,102.6 L147.1,102.1 L147.4,101.1 L147.7,99.6 L148.0,97.9 L148.3,96.0 L148.6,94.2 L148.9,92.3 L149.1,90.6 L149.4,88.9 L149.7,87.2 L150.0,85.3 L150.3,83.2 L150.6,80.7 L150.8,77.8 L151.1,74.6 L151.4,71.0 L151.7,67.3 L152.0,63.5 L152.3,59.9 L152.6,56.5 L152.8,53.5 L153.1,50.9 L153.4,48.7 L153.7,46.7 L154.0,45.0 L154.3,43.3 L154.5,41.6 L154.8,39.8 L155.1,37.9 L155.4,36.0 L155.7,34.2 L156.0,32.7 L156.3,31.5 L156.5,30.9 L156.8,30.8 L157.1,31.3 L157.4,32.3 L157.7,33.7 L158.0,35.5 L158.2,37.3 L158.5,39.2 L158.8,41.0 L159.1,42.8 L159.4,44.5 L159.7,46.2 L160.0,48.1 L160.2,50.2 L160.5,52.7 L160.8,55.6 L161.1,58.8 L161.4,62.4 L161.7,66.1 L161.9,69.9 L162.2,73.5 L162.5,76.9 L162.8,79.9 L163.1,82.5 L163.4,84.7 L163.6,86.6 L163.9,88.4 L164.2,90.1 L164.5,91.8 L164.8,93.6 L165.1,95.5 L165.4,97.4 L165.6,99.1 L165.9,100.7 L166.2,101.8 L166.5,102.5 L166.8,102.6 L167.1,102.1 L167.3,101.1 L167.6,99.6 L167.9,97.9 L168.2,96.0 L168.5,94.2 L168.8,92.3 L169.1,90.6 L169.3,88.9 L169.6,87.2 L169.9,85.3 L170.2,83.2 L170.5,80.7 L170.8,77.8 L171.0,74.6 L171.3,71.0 L171.6,67.3 L171.9,63.5 L172.2,59.9 L172.5,56.5 L172.8,53.5 L173.0,50.9 L173.3,48.7 L173.6,46.7 L173.9,45.0 L174.2,43.3 L174.5,41.6 L174.7,39.8 L175.0,37.9 L175.3,36.0 L175.6,34.2 L175.9,32.7 L176.2,31.5 L176.5,30.9 L176.7,30.8 L177.0,31.3 L177.3,32.3 L177.6,33.7 L177.9,35.5 L178.2,37.3 L178.4,39.2 L178.7,41.0 L179.0,42.8 L179.3,44.5 L179.6,46.2 L179.9,48.1 L180.1,50.2 L180.4,52.7 L180.7,55.6 L181.0,58.8 L181.3,62.4 L181.6,66.1 L181.9,69.9 L182.1,73.5 L182.4,76.9 L182.7,79.9 L183.0,82.5 L183.3,84.7 L183.6,86.6 L183.8,88.4 L184.1,90.1 L184.4,91.8 L184.7,93.6 L185.0,95.5 L185.3,97.4 L185.6,99.1 L185.8,100.7 L186.1,101.8 L186.4,102.5 L186.7,102.6 L187.0,102.1 L187.3,101.1 L187.5,99.6 L187.8,97.9 L188.1,96.0 L188.4,94.2 L188.7,92.3 L189.0,90.6 L189.3,88.9 L189.5,87.2 L189.8,85.3 L190.1,83.2 L190.4,80.7 L190.7,77.8 L191.0,74.6 L191.2,71.0 L191.5,67.3 L191.8,63.5 L192.1,59.9 L192.4,56.5 L192.7,53.5 L193.0,50.9 L193.2,48.7 L193.5,46.7 L193.8,45.0 L194.1,43.3 L194.4,41.6 L194.7,39.8 L194.9,37.9 L195.2,36.0 L195.5,34.2 L195.8,32.7 L196.1,31.5 L196.4,30.9 L196.6,30.8 L196.9,31.3 L197.2,32.3 L197.5,33.7 L197.8,35.5 L198.1,37.3 L198.4,39.2 L198.6,41.0 L198.9,42.8 L199.2,44.5 L199.5,46.2 L199.8,48.1 L200.1,50.2 L200.3,52.7 L200.6,55.6 L200.9,58.8 L201.2,62.4 L201.5,66.1 L201.8,69.9 L202.1,73.5 L202.3,76.9 L202.6,79.9 L202.9,82.5 L203.2,84.7 L203.5,86.6 L203.8,88.4 L204.0,90.1 L204.3,91.8 L204.6,93.6 L204.9,95.5 L205.2,97.4 L205.5,99.1 L205.8,100.7 L206.0,101.8 L206.3,102.5 L206.6,102.6 L206.9,102.1 L207.2,101.1 L207.5,99.6 L207.7,97.9 L208.0,96.0 L208.3,94.2 L208.6,92.3 L208.9,90.6 L209.2,88.9 L209.5,87.2 L209.7,85.3 L210.0,83.2 L210.3,80.7 L210.6,77.8 L210.9,74.6 L211.2,71.0 L211.4,67.3 L211.7,63.5 L212.0,59.9 L212.3,56.5 L212.6,53.5 L212.9,50.9 L213.1,48.7 L213.4,46.7 L213.7,45.0 L214.0,43.3 L214.3,41.6 L214.6,39.8 L214.9,37.9 L215.1,36.0 L215.4,34.2 L215.7,32.7 L216.0,31.5 L216.3,30.9 L216.6,30.8 L216.8,31.3 L217.1,32.3 L217.4,33.7 L217.7,35.5 L218.0,37.3 L218.3,39.2 L218.6,41.0 L218.8,42.8 L219.1,44.5 L219.4,46.2 L219.7,48.1 L220.0,50.2 L220.3,52.7 L220.5,55.6 L220.8,58.8 L221.1,62.4 L221.4,66.1 L221.7,69.9 L222.0,73.5 L222.3,76.9 L222.5,79.9 L222.8,82.5 L223.1,84.7 L223.4,86.6 L223.7,88.4 L224.0,90.1 L224.2,91.8 L224.5,93.6 L224.8,95.5 L225.1,97.4 L225.4,99.1 L225.7,100.7 L226.0,101.8 L226.2,102.5 L226.5,102.6 L226.8,102.1 L227.1,101.1 L227.4,99.6 L227.7,97.9 L227.9,96.0 L228.2,94.2 L228.5,92.3 L228.8,90.6 L229.1,88.9 L229.4,87.2 L229.6,85.3 L229.9,83.2 L230.2,80.7 L230.5,77.8 L230.8,74.6 L231.1,71.0 L231.4,67.3 L231.6,63.5 L231.9,59.9 L232.2,56.5 L232.5,53.5 L232.8,50.9 L233.1,48.7 L233.3,46.7 L233.6,45.0 L233.9,43.3 L234.2,41.6 L234.5,39.8 L234.8,37.9 L235.1,36.0 L235.3,34.2 L235.6,32.7 L235.9,31.5 L236.2,30.9 L236.5,30.8 L236.8,31.3 L237.0,32.3 L237.3,33.7 L237.6,35.5 L237.9,37.3 L238.2,39.2 L238.5,41.0 L238.8,42.8 L239.0,44.5 L239.3,46.2 L239.6,48.1 L239.9,50.2 L240.2,52.7 L240.5,55.6 L240.7,58.8 L241.0,62.4 L241.3,66.1 L241.6,69.9 L241.9,73.5 L242.2,76.9 L242.5,79.9 L242.7,82.5 L243.0,84.7 L243.3,86.6 L243.6,88.4 L243.9,90.1 L244.2,91.8 L244.4,93.6 L244.7,95.5 L245.0,97.4 L245.3,99.1 L245.6,100.7 L245.9,101.8 L246.1,102.5 L246.4,102.6 L246.7,102.1 L247.0,101.1 L247.3,99.6 L247.6,97.9 L247.9,96.0 L248.1,94.2 L248.4,92.3 L248.7,90.6 L249.0,88.9 L249.3,87.2 L249.6,85.3 L249.8,83.2 L250.1,80.7 L250.4,77.8 L250.7,74.6 L251.0,71.0 L251.3,67.3 L251.6,63.5 L251.8,59.9 L252.1,56.5 L252.4,53.5 L252.7,50.9 L253.0,48.7 L253.3,46.7 L253.5,45.0 L253.8,43.3 L254.1,41.6 L254.4,39.8 L254.7,37.9 L255.0,36.0 L255.3,34.2 L255.5,32.7 L255.8,31.5 L256.1,30.9 L256.4,30.8 L256.7,31.3 L257.0,32.3 L257.2,33.7 L257.5,35.5 L257.8,37.3 L258.1,39.2 L258.4,41.0 L258.7,42.8 L259.0,44.5 L259.2,46.2 L259.5,48.1 L259.8,50.2 L260.1,52.7 L260.4,55.6 L260.7,58.8 L260.9,62.4 L261.2,66.1 L261.5,69.9 L261.8,73.5 L262.1,76.9 L262.4,79.9 L262.7,82.5 L262.9,84.7 L263.2,86.6 L263.5,88.4 L263.8,90.1 L264.1,91.8 L264.4,93.6 L264.6,95.5 L264.9,97.4 L265.2,99.1 L265.5,100.7 L265.8,101.8 L266.1,102.5 L266.3,102.6 L266.6,102.1 L266.9,101.1 L267.2,99.6 L267.5,97.9 L267.8,96.0 L268.1,94.2 L268.3,92.3 L268.6,90.6 L268.9,88.9 L269.2,87.2 L269.5,85.3 L269.8,83.2 L270.0,80.7 L270.3,77.8 L270.6,74.6 L270.9,71.0 L271.2,67.3 L271.5,63.5 L271.8,59.9 L272.0,56.5 L272.3,53.5 L272.6,50.9 L272.9,48.7 L273.2,46.7 L273.5,45.0 L273.7,43.3 L274.0,41.6 L274.3,39.8 L274.6,37.9 L274.9,36.0 L275.2,34.2 L275.5,32.7 L275.7,31.5 L276.0,30.9 L276.3,30.8 L276.6,31.3 L276.9,32.3 L277.2,33.7 L277.4,35.5 L277.7,37.3 L278.0,39.2 L278.3,41.0 L278.6,42.8 L278.9,44.5 L279.2,46.2 L279.4,48.1 L279.7,50.2 L280.0,52.7 L280.3,55.6 L280.6,58.8 L280.9,62.4 L281.1,66.1 L281.4,69.9 L281.7,73.5 L282.0,76.9 L282.3,79.9 L282.6,82.5 L282.8,84.7 L283.1,86.6 L283.4,88.4 L283.7,90.1 L284.0,91.8 L284.3,93.6 L284.6,95.5 L284.8,97.4 L285.1,99.1 L285.4,100.7 L285.7,101.8 L286.0,102.5 L286.3,102.6 L286.5,102.1 L286.8,101.1 L287.1,99.6 L287.4,97.9 L287.7,96.0 L288.0,94.2 L288.3,92.3 L288.5,90.6 L288.8,88.9 L289.1,87.2 L289.4,85.3 L289.7,83.2 L290.0,80.7 L290.2,77.8 L290.5,74.6 L290.8,71.0 L291.1,67.3 L291.4,63.5 L291.7,59.9 L292.0,56.5 L292.2,53.5 L292.5,50.9 L292.8,48.7 L293.1,46.7 L293.4,45.0 L293.7,43.3 L293.9,41.6 L294.2,39.8 L294.5,37.9 L294.8,36.0 L295.1,34.2 L295.4,32.7 L295.7,31.5 L295.9,30.9 L296.2,30.8 L296.5,31.3 L296.8,32.3 L297.1,33.7 L297.4,35.5 L297.6,37.3 L297.9,39.2 L298.2,41.0 L298.5,42.8 L298.8,44.5 L299.1,46.2 L299.3,48.1 L299.6,50.2 L299.9,52.7 L300.2,55.6 L300.5,58.8 L300.8,62.4 L301.1,66.1 L301.3,69.9 L301.6,73.5 L301.9,76.9 L302.2,79.9 L302.5,82.5 L302.8,84.7 L303.0,86.6 L303.3,88.4 L303.6,90.1 L303.9,91.8 L304.2,93.6 L304.5,95.5 L304.8,97.4 L305.0,99.1 L305.3,100.7 L305.6,101.8 L305.9,102.5 L306.2,102.6 L306.5,102.1 L306.7,101.1 L307.0,99.6 L307.3,97.9 L307.6,96.0 L307.9,94.2 L308.2,92.3 L308.5,90.6 L308.7,88.9 L309.0,87.2 L309.3,85.3 L309.6,83.2 L309.9,80.7 L310.2,77.8 L310.4,74.6 L310.7,71.0 L311.0,67.3 L311.3,63.5 L311.6,59.9 L311.9,56.5 L312.2,53.5 L312.4,50.9 L312.7,48.7 L313.0,46.7 L313.3,45.0 L313.6,43.3 L313.9,41.6 L314.1,39.8 L314.4,37.9 L314.7,36.0 L315.0,34.2 L315.3,32.7 L315.6,31.5 L315.8,30.9 L316.1,30.8 L316.4,31.3 L316.7,32.3 L317.0,33.7 L317.3,35.5 L317.6,37.3 L317.8,39.2 L318.1,41.0 L318.4,42.8 L318.7,44.5 L319.0,46.2 L319.3,48.1 L319.5,50.2 L319.8,52.7 L320.1,55.6 L320.4,58.8 L320.7,62.4 L321.0,66.1 L321.3,69.9 L321.5,73.5 L321.8,76.9 L322.1,79.9 L322.4,82.5 L322.7,84.7 L323.0,86.6 L323.2,88.4 L323.5,90.1 L323.8,91.8 L324.1,93.6 L324.4,95.5 L324.7,97.4 L325.0,99.1 L325.2,100.7 L325.5,101.8 L325.8,102.5 L326.1,102.6 L326.4,102.1 L326.7,101.1 L326.9,99.6 L327.2,97.9 L327.5,96.0 L327.8,94.2 L328.1,92.3 L328.4,90.6 L328.7,88.9 L328.9,87.2 L329.2,85.3 L329.5,83.2 L329.8,80.7 L330.1,77.8 L330.4,74.6 L330.6,71.0 L330.9,67.3 L331.2,63.5 L331.5,59.9 L331.8,56.5 L332.1,53.5 L332.3,50.9 L332.6,48.7 L332.9,46.7 L333.2,45.0 L333.5,43.3 L333.8,41.6 L334.1,39.8 L334.3,37.9 L334.6,36.0 L334.9,34.2 L335.2,32.7 L335.5,31.5 L335.8,30.9 L336.0,30.8 L336.3,31.3 L336.6,32.3 L336.9,33.7 L337.2,35.5 L337.5,37.3 L337.8,39.2 L338.0,41.0 L338.3,42.8 L338.6,44.5 L338.9,46.2 L339.2,48.1 L339.5,50.2 L339.7,52.7 L340.0,55.6 L340.3,58.8 L340.6,62.4 L340.9,66.1 L341.2,69.9 L341.5,73.5 L341.7,76.9 L342.0,79.9 L342.3,82.5 L342.6,84.7 L342.9,86.6 L343.2,88.4 L343.4,90.1 L343.7,91.8 L344.0,93.6 L344.3,95.5 L344.6,97.4 L344.9,99.1 L345.2,100.7 L345.4,101.8 L345.7,102.5 L346.0,102.6 L346.3,102.1 L346.6,101.1 L346.9,99.6 L347.1,97.9 L347.4,96.0 L347.7,94.2 L348.0,92.3 L348.3,90.6 L348.6,88.9 L348.8,87.2 L349.1,85.3 L349.4,83.2 L349.7,80.7 L350.0,77.8 L350.3,74.6 L350.6,71.0 L350.8,67.3 L351.1,63.5 L351.4,59.9 L351.7,56.5 L352.0,53.5 L352.3,50.9 L352.5,48.7 L352.8,46.7 L353.1,45.0 L353.4,43.3 L353.7,41.6 L354.0,39.8 L354.3,37.9 L354.5,36.0 L354.8,34.2 L355.1,32.7 L355.4,31.5 L355.7,30.9 L356.0,30.8 L356.2,31.3 L356.5,32.3 L356.8,33.7 L357.1,35.5 L357.4,37.3 L357.7,39.2 L358.0,41.0 L358.2,42.8 L358.5,44.5 L358.8,46.2 L359.1,48.1 L359.4,50.2 L359.7,52.7 L359.9,55.6 L360.2,58.8 L360.5,62.4 L360.8,66.1 L361.1,69.9 L361.4,73.5 L361.7,76.9 L361.9,79.9 L362.2,82.5 L362.5,84.7 L362.8,86.6 L363.1,88.4 L363.4,90.1 L363.6,91.8 L363.9,93.6 L364.2,95.5 L364.5,97.4 L364.8,99.1 L365.1,100.7 L365.3,101.8 L365.6,102.5 L365.9,102.6 L366.2,102.1 L366.5,101.1 L366.8,99.6 L367.1,97.9 L367.3,96.0 L367.6,94.2 L367.9,92.3 L368.2,90.6 L368.5,88.9 L368.8,87.2 L369.0,85.3 L369.3,83.2 L369.6,80.7 L369.9,77.8 L370.2,74.6 L370.5,71.0 L370.8,67.3 L371.0,63.5 L371.3,59.9 L371.6,56.5 L371.9,53.5 L372.2,50.9 L372.5,48.7 L372.7,46.7 L373.0,45.0 L373.3,43.3 L373.6,41.6 L373.9,39.8 L374.2,37.9 L374.5,36.0 L374.7,34.2 L375.0,32.7 L375.3,31.5 L375.6,30.9 L375.9,30.8 L376.2,31.3 L376.4,32.3 L376.7,33.7 L377.0,35.5 L377.3,37.3 L377.6,39.2 L377.9,41.0 L378.2,42.8 L378.4,44.5 L378.7,46.2 L379.0,48.1 L379.3,50.2 L379.6,52.7 L379.9,55.6 L380.1,58.8 L380.4,62.4 L380.7,66.1 L381.0,69.9 L381.3,73.5 L381.6,76.9 L381.8,79.9 L382.1,82.5 L382.4,84.7 L382.7,86.6 L383.0,88.4 L383.3,90.1 L383.6,91.8 L383.8,93.6 L384.1,95.5 L384.4,97.4 L384.7,99.1 L385.0,100.7 L385.3,101.8 L385.5,102.5 L385.8,102.6 L386.1,102.1 L386.4,101.1 L386.7,99.6 L387.0,97.9 L387.3,96.0 L387.5,94.2 L387.8,92.3 L388.1,90.6 L388.4,88.9 L388.7,87.2 L389.0,85.3 L389.2,83.2 L389.5,80.7 L389.8,77.8 L390.1,74.6 L390.4,71.0 L390.7,67.3 L391.0,63.5 L391.2,59.9 L391.5,56.5 L391.8,53.5 L392.1,50.9 L392.4,48.7 L392.7,46.7 L392.9,45.0 L393.2,43.3 L393.5,41.6 L393.8,39.8 L394.1,37.9 L394.4,36.0 L394.7,34.2 L394.9,32.7 L395.2,31.5 L395.5,30.9 L395.8,30.8 L396.1,31.3 L396.4,32.3 L396.6,33.7 L396.9,35.5 L397.2,37.3 L397.5,39.2 L397.8,41.0 L398.1,42.8 L398.3,44.5 L398.6,46.2 L398.9,48.1 L399.2,50.2 L399.5,52.7 L399.8,55.6 L400.1,58.8 L400.3,62.4 L400.6,66.1 L400.9,69.9 L401.2,73.5 L401.5,76.9 L401.8,79.9 L402.0,82.5 L402.3,84.7 L402.6,86.6 L402.9,88.4 L403.2,90.1 L403.5,91.8 L403.8,93.6" stroke="#0000ff" stroke-width="3.2" fill="none" stroke-linejoin="round" stroke-linecap="round"/></g>
<g clip-path="url(#caL)"><path transform="scale(0.8125,1)" d="M55.3,96.9 L55.5,95.0 L55.8,93.1 L56.1,91.4 L56.4,89.7 L56.7,88.0 L57.0,86.2 L57.3,84.2 L57.5,81.8 L57.8,79.2 L58.1,76.1 L58.4,72.6 L58.7,68.9 L59.0,65.2 L59.2,61.5 L59.5,58.0 L59.8,54.8 L60.1,52.0 L60.4,49.6 L60.7,47.6 L61.0,45.8 L61.2,44.0 L61.5,42.3 L61.8,40.6 L62.1,38.7 L62.4,36.8 L62.7,35.0 L62.9,33.3 L63.2,32.0 L63.5,31.1 L63.8,30.7 L64.1,31.0 L64.4,31.8 L64.6,33.0 L64.9,34.7 L65.2,36.5 L65.5,38.4 L65.8,40.2 L66.1,42.0 L66.4,43.7 L66.6,45.4 L66.9,47.2 L67.2,49.2 L67.5,51.5 L67.8,54.2 L68.1,57.3 L68.3,60.7 L68.6,64.4 L68.9,68.2 L69.2,71.9 L69.5,75.4 L69.8,78.6 L70.1,81.3 L70.3,83.7 L70.6,85.8 L70.9,87.6 L71.2,89.3 L71.5,91.0 L71.8,92.8 L72.0,94.6 L72.3,96.5 L72.6,98.4 L72.9,100.0 L73.2,101.4 L73.5,102.3 L73.8,102.6 L74.0,102.4 L74.3,101.6 L74.6,100.3 L74.9,98.7 L75.2,96.9 L75.5,95.0 L75.7,93.1 L76.0,91.4 L76.3,89.7 L76.6,88.0 L76.9,86.2 L77.2,84.2 L77.5,81.8 L77.7,79.2 L78.0,76.1 L78.3,72.6 L78.6,68.9 L78.9,65.2 L79.2,61.5 L79.4,58.0 L79.7,54.8 L80.0,52.0 L80.3,49.6 L80.6,47.6 L80.9,45.8 L81.1,44.0 L81.4,42.3 L81.7,40.6 L82.0,38.7 L82.3,36.8 L82.6,35.0 L82.9,33.3 L83.1,32.0 L83.4,31.1 L83.7,30.7 L84.0,31.0 L84.3,31.8 L84.6,33.0 L84.8,34.7 L85.1,36.5 L85.4,38.4 L85.7,40.2 L86.0,42.0 L86.3,43.7 L86.6,45.4 L86.8,47.2 L87.1,49.2 L87.4,51.5 L87.7,54.2 L88.0,57.3 L88.3,60.7 L88.5,64.4 L88.8,68.2 L89.1,71.9 L89.4,75.4 L89.7,78.6 L90.0,81.3 L90.3,83.7 L90.5,85.8 L90.8,87.6 L91.1,89.3 L91.4,91.0 L91.7,92.8 L92.0,94.6 L92.2,96.5 L92.5,98.4 L92.8,100.0 L93.1,101.4 L93.4,102.3 L93.7,102.6 L94.0,102.4 L94.2,101.6 L94.5,100.3 L94.8,98.7 L95.1,96.9 L95.4,95.0 L95.7,93.1 L95.9,91.4 L96.2,89.7 L96.5,88.0 L96.8,86.2 L97.1,84.2 L97.4,81.8 L97.6,79.2 L97.9,76.1 L98.2,72.6 L98.5,68.9 L98.8,65.2 L99.1,61.5 L99.4,58.0 L99.6,54.8 L99.9,52.0 L100.2,49.6 L100.5,47.6 L100.8,45.8 L101.1,44.0 L101.3,42.3 L101.6,40.6 L101.9,38.7 L102.2,36.8 L102.5,35.0 L102.8,33.3 L103.1,32.0 L103.3,31.1 L103.6,30.7 L103.9,31.0 L104.2,31.8 L104.5,33.0 L104.8,34.7 L105.0,36.5 L105.3,38.4 L105.6,40.2 L105.9,42.0 L106.2,43.7 L106.5,45.4 L106.8,47.2 L107.0,49.2 L107.3,51.5 L107.6,54.2 L107.9,57.3 L108.2,60.7 L108.5,64.4 L108.7,68.2 L109.0,71.9 L109.3,75.4 L109.6,78.6 L109.9,81.3 L110.2,83.7 L110.5,85.8 L110.7,87.6 L111.0,89.3 L111.3,91.0 L111.6,92.8 L111.9,94.6 L112.2,96.5 L112.4,98.4 L112.7,100.0 L113.0,101.4 L113.3,102.3 L113.6,102.6 L113.9,102.4 L114.1,101.6 L114.4,100.3 L114.7,98.7 L115.0,96.9 L115.3,95.0 L115.6,93.1 L115.9,91.4 L116.1,89.7 L116.4,88.0 L116.7,86.2 L117.0,84.2 L117.3,81.8 L117.6,79.2 L117.8,76.1 L118.1,72.6 L118.4,68.9 L118.7,65.2 L119.0,61.5 L119.3,58.0 L119.6,54.8 L119.8,52.0 L120.1,49.6 L120.4,47.6 L120.7,45.8 L121.0,44.0 L121.3,42.3 L121.5,40.6 L121.8,38.7 L122.1,36.8 L122.4,35.0 L122.7,33.3 L123.0,32.0 L123.3,31.1 L123.5,30.7 L123.8,31.0 L124.1,31.8 L124.4,33.0 L124.7,34.7 L125.0,36.5 L125.2,38.4 L125.5,40.2 L125.8,42.0 L126.1,43.7 L126.4,45.4 L126.7,47.2 L127.0,49.2 L127.2,51.5 L127.5,54.2 L127.8,57.3 L128.1,60.7 L128.4,64.4 L128.7,68.2 L128.9,71.9 L129.2,75.4 L129.5,78.6 L129.8,81.3 L130.1,83.7 L130.4,85.8 L130.6,87.6 L130.9,89.3 L131.2,91.0 L131.5,92.8 L131.8,94.6 L132.1,96.5 L132.4,98.4 L132.6,100.0 L132.9,101.4 L133.2,102.3 L133.5,102.6 L133.8,102.4 L134.1,101.6 L134.3,100.3 L134.6,98.7 L134.9,96.9 L135.2,95.0 L135.5,93.1 L135.8,91.4 L136.1,89.7 L136.3,88.0 L136.6,86.2 L136.9,84.2 L137.2,81.8 L137.5,79.2 L137.8,76.1 L138.0,72.6 L138.3,68.9 L138.6,65.2 L138.9,61.5 L139.2,58.0 L139.5,54.8 L139.8,52.0 L140.0,49.6 L140.3,47.6 L140.6,45.8 L140.9,44.0 L141.2,42.3 L141.5,40.6 L141.7,38.7 L142.0,36.8 L142.3,35.0 L142.6,33.3 L142.9,32.0 L143.2,31.1 L143.5,30.7 L143.7,31.0 L144.0,31.8 L144.3,33.0 L144.6,34.7 L144.9,36.5 L145.2,38.4 L145.4,40.2 L145.7,42.0 L146.0,43.7 L146.3,45.4 L146.6,47.2 L146.9,49.2 L147.1,51.5 L147.4,54.2 L147.7,57.3 L148.0,60.7 L148.3,64.4 L148.6,68.2 L148.9,71.9 L149.1,75.4 L149.4,78.6 L149.7,81.3 L150.0,83.7 L150.3,85.8 L150.6,87.6 L150.8,89.3 L151.1,91.0 L151.4,92.8 L151.7,94.6 L152.0,96.5 L152.3,98.4 L152.6,100.0 L152.8,101.4 L153.1,102.3 L153.4,102.6 L153.7,102.4 L154.0,101.6 L154.3,100.3 L154.5,98.7 L154.8,96.9 L155.1,95.0 L155.4,93.1 L155.7,91.4 L156.0,89.7 L156.3,88.0 L156.5,86.2 L156.8,84.2 L157.1,81.8 L157.4,79.2 L157.7,76.1 L158.0,72.6 L158.2,68.9 L158.5,65.2 L158.8,61.5 L159.1,58.0 L159.4,54.8 L159.7,52.0 L160.0,49.6 L160.2,47.6 L160.5,45.8 L160.8,44.0 L161.1,42.3 L161.4,40.6 L161.7,38.7 L161.9,36.8 L162.2,35.0 L162.5,33.3 L162.8,32.0 L163.1,31.1 L163.4,30.7 L163.6,31.0 L163.9,31.8 L164.2,33.0 L164.5,34.7 L164.8,36.5 L165.1,38.4 L165.4,40.2 L165.6,42.0 L165.9,43.7 L166.2,45.4 L166.5,47.2 L166.8,49.2 L167.1,51.5 L167.3,54.2 L167.6,57.3 L167.9,60.7 L168.2,64.4 L168.5,68.2 L168.8,71.9 L169.1,75.4 L169.3,78.6 L169.6,81.3 L169.9,83.7 L170.2,85.8 L170.5,87.6 L170.8,89.3 L171.0,91.0 L171.3,92.8 L171.6,94.6 L171.9,96.5 L172.2,98.4 L172.5,100.0 L172.8,101.4 L173.0,102.3 L173.3,102.6 L173.6,102.4 L173.9,101.6 L174.2,100.3 L174.5,98.7 L174.7,96.9 L175.0,95.0 L175.3,93.1 L175.6,91.4 L175.9,89.7 L176.2,88.0 L176.5,86.2 L176.7,84.2 L177.0,81.8 L177.3,79.2 L177.6,76.1 L177.9,72.6 L178.2,68.9 L178.4,65.2 L178.7,61.5 L179.0,58.0 L179.3,54.8 L179.6,52.0 L179.9,49.6 L180.1,47.6 L180.4,45.8 L180.7,44.0 L181.0,42.3 L181.3,40.6 L181.6,38.7 L181.9,36.8 L182.1,35.0 L182.4,33.3 L182.7,32.0 L183.0,31.1 L183.3,30.7 L183.6,31.0 L183.8,31.8 L184.1,33.0 L184.4,34.7 L184.7,36.5 L185.0,38.4 L185.3,40.2 L185.6,42.0 L185.8,43.7 L186.1,45.4 L186.4,47.2 L186.7,49.2 L187.0,51.5 L187.3,54.2 L187.5,57.3 L187.8,60.7 L188.1,64.4 L188.4,68.2 L188.7,71.9 L189.0,75.4 L189.3,78.6 L189.5,81.3 L189.8,83.7 L190.1,85.8 L190.4,87.6 L190.7,89.3 L191.0,91.0 L191.2,92.8 L191.5,94.6 L191.8,96.5 L192.1,98.4 L192.4,100.0 L192.7,101.4 L193.0,102.3 L193.2,102.6 L193.5,102.4 L193.8,101.6 L194.1,100.3 L194.4,98.7 L194.7,96.9 L194.9,95.0 L195.2,93.1 L195.5,91.4 L195.8,89.7 L196.1,88.0 L196.4,86.2 L196.6,84.2 L196.9,81.8 L197.2,79.2 L197.5,76.1 L197.8,72.6 L198.1,68.9 L198.4,65.2 L198.6,61.5 L198.9,58.0 L199.2,54.8 L199.5,52.0 L199.8,49.6 L200.1,47.6 L200.3,45.8 L200.6,44.0 L200.9,42.3 L201.2,40.6 L201.5,38.7 L201.8,36.8 L202.1,35.0 L202.3,33.3 L202.6,32.0 L202.9,31.1 L203.2,30.7 L203.5,31.0 L203.8,31.8 L204.0,33.0 L204.3,34.7 L204.6,36.5 L204.9,38.4 L205.2,40.2 L205.5,42.0 L205.8,43.7 L206.0,45.4 L206.3,47.2 L206.6,49.2 L206.9,51.5 L207.2,54.2 L207.5,57.3 L207.7,60.7 L208.0,64.4 L208.3,68.2 L208.6,71.9 L208.9,75.4 L209.2,78.6 L209.5,81.3 L209.7,83.7 L210.0,85.8 L210.3,87.6 L210.6,89.3 L210.9,91.0 L211.2,92.8 L211.4,94.6 L211.7,96.5 L212.0,98.4 L212.3,100.0 L212.6,101.4 L212.9,102.3 L213.1,102.6 L213.4,102.4 L213.7,101.6 L214.0,100.3 L214.3,98.7 L214.6,96.9 L214.9,95.0 L215.1,93.1 L215.4,91.4 L215.7,89.7 L216.0,88.0 L216.3,86.2 L216.6,84.2 L216.8,81.8 L217.1,79.2 L217.4,76.1 L217.7,72.6 L218.0,68.9 L218.3,65.2 L218.6,61.5 L218.8,58.0 L219.1,54.8 L219.4,52.0 L219.7,49.6 L220.0,47.6 L220.3,45.8 L220.5,44.0 L220.8,42.3 L221.1,40.6 L221.4,38.7 L221.7,36.8 L222.0,35.0 L222.3,33.3 L222.5,32.0 L222.8,31.1 L223.1,30.7 L223.4,31.0 L223.7,31.8 L224.0,33.0 L224.2,34.7 L224.5,36.5 L224.8,38.4 L225.1,40.2 L225.4,42.0 L225.7,43.7 L226.0,45.4 L226.2,47.2 L226.5,49.2 L226.8,51.5 L227.1,54.2 L227.4,57.3 L227.7,60.7 L227.9,64.4 L228.2,68.2 L228.5,71.9 L228.8,75.4 L229.1,78.6 L229.4,81.3 L229.6,83.7 L229.9,85.8 L230.2,87.6 L230.5,89.3 L230.8,91.0 L231.1,92.8 L231.4,94.6 L231.6,96.5 L231.9,98.4 L232.2,100.0 L232.5,101.4 L232.8,102.3 L233.1,102.6 L233.3,102.4 L233.6,101.6 L233.9,100.3 L234.2,98.7 L234.5,96.9 L234.8,95.0 L235.1,93.1 L235.3,91.4 L235.6,89.7 L235.9,88.0 L236.2,86.2 L236.5,84.2 L236.8,81.8 L237.0,79.2 L237.3,76.1 L237.6,72.6 L237.9,68.9 L238.2,65.2 L238.5,61.5 L238.8,58.0 L239.0,54.8 L239.3,52.0 L239.6,49.6 L239.9,47.6 L240.2,45.8 L240.5,44.0 L240.7,42.3 L241.0,40.6 L241.3,38.7 L241.6,36.8 L241.9,35.0 L242.2,33.3 L242.5,32.0 L242.7,31.1 L243.0,30.7 L243.3,31.0 L243.6,31.8 L243.9,33.0 L244.2,34.7 L244.4,36.5 L244.7,38.4 L245.0,40.2 L245.3,42.0 L245.6,43.7 L245.9,45.4 L246.1,47.2 L246.4,49.2 L246.7,51.5 L247.0,54.2 L247.3,57.3 L247.6,60.7 L247.9,64.4 L248.1,68.2 L248.4,71.9 L248.7,75.4 L249.0,78.6 L249.3,81.3 L249.6,83.7 L249.8,85.8 L250.1,87.6 L250.4,89.3 L250.7,91.0 L251.0,92.8 L251.3,94.6 L251.6,96.5 L251.8,98.4 L252.1,100.0 L252.4,101.4 L252.7,102.3 L253.0,102.6 L253.3,102.4 L253.5,101.6 L253.8,100.3 L254.1,98.7 L254.4,96.9 L254.7,95.0 L255.0,93.1 L255.3,91.4 L255.5,89.7 L255.8,88.0 L256.1,86.2 L256.4,84.2 L256.7,81.8 L257.0,79.2 L257.2,76.1 L257.5,72.6 L257.8,68.9 L258.1,65.2 L258.4,61.5 L258.7,58.0 L259.0,54.8 L259.2,52.0 L259.5,49.6 L259.8,47.6 L260.1,45.8 L260.4,44.0 L260.7,42.3 L260.9,40.6 L261.2,38.7 L261.5,36.8 L261.8,35.0 L262.1,33.3 L262.4,32.0 L262.7,31.1 L262.9,30.7 L263.2,31.0 L263.5,31.8 L263.8,33.0 L264.1,34.7 L264.4,36.5 L264.6,38.4 L264.9,40.2 L265.2,42.0 L265.5,43.7 L265.8,45.4 L266.1,47.2 L266.3,49.2 L266.6,51.5 L266.9,54.2 L267.2,57.3 L267.5,60.7 L267.8,64.4 L268.1,68.2 L268.3,71.9 L268.6,75.4 L268.9,78.6 L269.2,81.3 L269.5,83.7 L269.8,85.8 L270.0,87.6 L270.3,89.3 L270.6,91.0 L270.9,92.8 L271.2,94.6 L271.5,96.5 L271.8,98.4 L272.0,100.0 L272.3,101.4 L272.6,102.3 L272.9,102.6 L273.2,102.4 L273.5,101.6 L273.7,100.3 L274.0,98.7 L274.3,96.9 L274.6,95.0 L274.9,93.1 L275.2,91.4 L275.5,89.7 L275.7,88.0 L276.0,86.2 L276.3,84.2 L276.6,81.8 L276.9,79.2 L277.2,76.1 L277.4,72.6 L277.7,68.9 L278.0,65.2 L278.3,61.5 L278.6,58.0 L278.9,54.8 L279.2,52.0 L279.4,49.6 L279.7,47.6 L280.0,45.8 L280.3,44.0 L280.6,42.3 L280.9,40.6 L281.1,38.7 L281.4,36.8 L281.7,35.0 L282.0,33.3 L282.3,32.0 L282.6,31.1 L282.8,30.7 L283.1,31.0 L283.4,31.8 L283.7,33.0 L284.0,34.7 L284.3,36.5 L284.6,38.4 L284.8,40.2 L285.1,42.0 L285.4,43.7 L285.7,45.4 L286.0,47.2 L286.3,49.2 L286.5,51.5 L286.8,54.2 L287.1,57.3 L287.4,60.7 L287.7,64.4 L288.0,68.2 L288.3,71.9 L288.5,75.4 L288.8,78.6 L289.1,81.3 L289.4,83.7 L289.7,85.8 L290.0,87.6 L290.2,89.3 L290.5,91.0 L290.8,92.8 L291.1,94.6 L291.4,96.5 L291.7,98.4 L292.0,100.0 L292.2,101.4 L292.5,102.3 L292.8,102.6 L293.1,102.4 L293.4,101.6 L293.7,100.3 L293.9,98.7 L294.2,96.9 L294.5,95.0 L294.8,93.1 L295.1,91.4 L295.4,89.7 L295.7,88.0 L295.9,86.2 L296.2,84.2 L296.5,81.8 L296.8,79.2 L297.1,76.1 L297.4,72.6 L297.6,68.9 L297.9,65.2 L298.2,61.5 L298.5,58.0 L298.8,54.8 L299.1,52.0 L299.3,49.6 L299.6,47.6 L299.9,45.8 L300.2,44.0 L300.5,42.3 L300.8,40.6 L301.1,38.7 L301.3,36.8 L301.6,35.0 L301.9,33.3 L302.2,32.0 L302.5,31.1 L302.8,30.7 L303.0,31.0 L303.3,31.8 L303.6,33.0 L303.9,34.7 L304.2,36.5 L304.5,38.4 L304.8,40.2 L305.0,42.0 L305.3,43.7 L305.6,45.4 L305.9,47.2 L306.2,49.2 L306.5,51.5 L306.7,54.2 L307.0,57.3 L307.3,60.7 L307.6,64.4 L307.9,68.2 L308.2,71.9 L308.5,75.4 L308.7,78.6 L309.0,81.3 L309.3,83.7 L309.6,85.8 L309.9,87.6 L310.2,89.3 L310.4,91.0 L310.7,92.8 L311.0,94.6 L311.3,96.5 L311.6,98.4 L311.9,100.0 L312.2,101.4 L312.4,102.3 L312.7,102.6 L313.0,102.4 L313.3,101.6 L313.6,100.3 L313.9,98.7 L314.1,96.9 L314.4,95.0 L314.7,93.1 L315.0,91.4 L315.3,89.7 L315.6,88.0 L315.8,86.2 L316.1,84.2 L316.4,81.8 L316.7,79.2 L317.0,76.1 L317.3,72.6 L317.6,68.9 L317.8,65.2 L318.1,61.5 L318.4,58.0 L318.7,54.8 L319.0,52.0 L319.3,49.6 L319.5,47.6 L319.8,45.8 L320.1,44.0 L320.4,42.3 L320.7,40.6 L321.0,38.7 L321.3,36.8 L321.5,35.0 L321.8,33.3 L322.1,32.0 L322.4,31.1 L322.7,30.7 L323.0,31.0 L323.2,31.8 L323.5,33.0 L323.8,34.7 L324.1,36.5 L324.4,38.4 L324.7,40.2 L325.0,42.0 L325.2,43.7 L325.5,45.4 L325.8,47.2 L326.1,49.2 L326.4,51.5 L326.7,54.2 L326.9,57.3 L327.2,60.7 L327.5,64.4 L327.8,68.2 L328.1,71.9 L328.4,75.4 L328.7,78.6 L328.9,81.3 L329.2,83.7 L329.5,85.8 L329.8,87.6 L330.1,89.3 L330.4,91.0 L330.6,92.8 L330.9,94.6 L331.2,96.5 L331.5,98.4 L331.8,100.0 L332.1,101.4 L332.3,102.3 L332.6,102.6 L332.9,102.4 L333.2,101.6 L333.5,100.3 L333.8,98.7 L334.1,96.9 L334.3,95.0 L334.6,93.1 L334.9,91.4 L335.2,89.7 L335.5,88.0 L335.8,86.2 L336.0,84.2 L336.3,81.8 L336.6,79.2 L336.9,76.1 L337.2,72.6 L337.5,68.9 L337.8,65.2 L338.0,61.5 L338.3,58.0 L338.6,54.8 L338.9,52.0 L339.2,49.6 L339.5,47.6 L339.7,45.8 L340.0,44.0 L340.3,42.3 L340.6,40.6 L340.9,38.7 L341.2,36.8 L341.5,35.0 L341.7,33.3 L342.0,32.0 L342.3,31.1 L342.6,30.7 L342.9,31.0 L343.2,31.8 L343.4,33.0 L343.7,34.7 L344.0,36.5 L344.3,38.4 L344.6,40.2 L344.9,42.0 L345.2,43.7 L345.4,45.4 L345.7,47.2 L346.0,49.2 L346.3,51.5 L346.6,54.2 L346.9,57.3 L347.1,60.7 L347.4,64.4 L347.7,68.2 L348.0,71.9 L348.3,75.4 L348.6,78.6 L348.8,81.3 L349.1,83.7 L349.4,85.8 L349.7,87.6 L350.0,89.3 L350.3,91.0 L350.6,92.8 L350.8,94.6 L351.1,96.5 L351.4,98.4 L351.7,100.0 L352.0,101.4 L352.3,102.3 L352.5,102.6 L352.8,102.4 L353.1,101.6 L353.4,100.3 L353.7,98.7 L354.0,96.9 L354.3,95.0 L354.5,93.1 L354.8,91.4 L355.1,89.7 L355.4,88.0 L355.7,86.2 L356.0,84.2 L356.2,81.8 L356.5,79.2 L356.8,76.1 L357.1,72.6 L357.4,68.9 L357.7,65.2 L358.0,61.5 L358.2,58.0 L358.5,54.8 L358.8,52.0 L359.1,49.6 L359.4,47.6 L359.7,45.8 L359.9,44.0 L360.2,42.3 L360.5,40.6 L360.8,38.7 L361.1,36.8 L361.4,35.0 L361.7,33.3 L361.9,32.0 L362.2,31.1 L362.5,30.7 L362.8,31.0 L363.1,31.8 L363.4,33.0 L363.6,34.7 L363.9,36.5 L364.2,38.4 L364.5,40.2 L364.8,42.0 L365.1,43.7 L365.3,45.4 L365.6,47.2 L365.9,49.2 L366.2,51.5 L366.5,54.2 L366.8,57.3 L367.1,60.7 L367.3,64.4 L367.6,68.2 L367.9,71.9 L368.2,75.4 L368.5,78.6 L368.8,81.3 L369.0,83.7 L369.3,85.8 L369.6,87.6 L369.9,89.3 L370.2,91.0 L370.5,92.8 L370.8,94.6 L371.0,96.5 L371.3,98.4 L371.6,100.0 L371.9,101.4 L372.2,102.3 L372.5,102.6 L372.7,102.4 L373.0,101.6 L373.3,100.3 L373.6,98.7 L373.9,96.9 L374.2,95.0 L374.5,93.1 L374.7,91.4 L375.0,89.7 L375.3,88.0 L375.6,86.2 L375.9,84.2 L376.2,81.8 L376.4,79.2 L376.7,76.1 L377.0,72.6 L377.3,68.9 L377.6,65.2 L377.9,61.5 L378.2,58.0 L378.4,54.8 L378.7,52.0 L379.0,49.6 L379.3,47.6 L379.6,45.8 L379.9,44.0 L380.1,42.3 L380.4,40.6 L380.7,38.7 L381.0,36.8 L381.3,35.0 L381.6,33.3 L381.8,32.0 L382.1,31.1 L382.4,30.7 L382.7,31.0 L383.0,31.8 L383.3,33.0 L383.6,34.7 L383.8,36.5 L384.1,38.4 L384.4,40.2 L384.7,42.0 L385.0,43.7 L385.3,45.4 L385.5,47.2 L385.8,49.2 L386.1,51.5 L386.4,54.2 L386.7,57.3 L387.0,60.7 L387.3,64.4 L387.5,68.2 L387.8,71.9 L388.1,75.4 L388.4,78.6 L388.7,81.3 L389.0,83.7 L389.2,85.8 L389.5,87.6 L389.8,89.3 L390.1,91.0 L390.4,92.8 L390.7,94.6 L391.0,96.5 L391.2,98.4 L391.5,100.0 L391.8,101.4 L392.1,102.3 L392.4,102.6 L392.7,102.4 L392.9,101.6 L393.2,100.3 L393.5,98.7 L393.8,96.9 L394.1,95.0 L394.4,93.1 L394.7,91.4 L394.9,89.7 L395.2,88.0 L395.5,86.2 L395.8,84.2 L396.1,81.8 L396.4,79.2 L396.6,76.1 L396.9,72.6 L397.2,68.9 L397.5,65.2 L397.8,61.5 L398.1,58.0 L398.3,54.8 L398.6,52.0 L398.9,49.6 L399.2,47.6 L399.5,45.8 L399.8,44.0 L400.1,42.3 L400.3,40.6 L400.6,38.7 L400.9,36.8 L401.2,35.0 L401.5,33.3 L401.8,32.0 L402.0,31.1 L402.3,30.7 L402.6,31.0 L402.9,31.8 L403.2,33.0 L403.5,34.7 L403.8,36.5" stroke="#ff0000" stroke-width="3.2" fill="none" stroke-linejoin="round" stroke-linecap="round"/></g>
<g clip-path="url(#caR)"><path transform="scale(0.7174,1)" d="M549.4,64.0 L549.7,67.8 L550.0,71.6 L550.3,75.3 L550.6,78.9 L551.0,82.1 L551.3,85.2 L551.6,87.9 L551.9,90.5 L552.3,92.9 L552.6,95.2 L552.9,97.3 L553.2,99.4 L553.6,101.3 L553.9,103.0 L554.2,104.4 L554.5,105.6 L554.9,106.3 L555.2,106.6 L555.5,106.5 L555.8,105.9 L556.1,104.9 L556.5,103.6 L556.8,102.0 L557.1,100.1 L557.4,98.2 L557.8,96.1 L558.1,93.8 L558.4,91.5 L558.7,89.0 L559.1,86.3 L559.4,83.4 L559.7,80.2 L560.0,76.8 L560.4,73.1 L560.7,69.4 L561.0,65.5 L561.3,61.7 L561.6,58.0 L562.0,54.5 L562.3,51.2 L562.6,48.2 L562.9,45.4 L563.3,42.9 L563.6,40.5 L563.9,38.2 L564.2,36.0 L564.6,34.0 L564.9,32.1 L565.2,30.4 L565.5,28.9 L565.9,27.8 L566.2,27.0 L566.5,26.7 L566.8,26.9 L567.1,27.4 L567.5,28.4 L567.8,29.8 L568.1,31.4 L568.4,33.2 L568.8,35.2 L569.1,37.3 L569.4,39.5 L569.7,41.9 L570.1,44.4 L570.4,47.1 L570.7,50.0 L571.0,53.2 L571.4,56.6 L571.7,60.2 L572.0,64.0 L572.3,67.8 L572.6,71.6 L573.0,75.3 L573.3,78.9 L573.6,82.1 L573.9,85.2 L574.3,87.9 L574.6,90.5 L574.9,92.9 L575.2,95.2 L575.6,97.3 L575.9,99.4 L576.2,101.3 L576.5,103.0 L576.8,104.4 L577.2,105.6 L577.5,106.3 L577.8,106.6 L578.1,106.5 L578.5,105.9 L578.8,104.9 L579.1,103.6 L579.4,102.0 L579.8,100.1 L580.1,98.2 L580.4,96.1 L580.7,93.8 L581.1,91.5 L581.4,89.0 L581.7,86.3 L582.0,83.4 L582.3,80.2 L582.7,76.8 L583.0,73.1 L583.3,69.4 L583.6,65.5 L584.0,61.7 L584.3,58.0 L584.6,54.5 L584.9,51.2 L585.3,48.2 L585.6,45.4 L585.9,42.9 L586.2,40.5 L586.6,38.2 L586.9,36.0 L587.2,34.0 L587.5,32.1 L587.8,30.4 L588.2,28.9 L588.5,27.8 L588.8,27.0 L589.1,26.7 L589.5,26.9 L589.8,27.4 L590.1,28.4 L590.4,29.8 L590.8,31.4 L591.1,33.2 L591.4,35.2 L591.7,37.3 L592.1,39.5 L592.4,41.9 L592.7,44.4 L593.0,47.1 L593.3,50.0 L593.7,53.2 L594.0,56.6 L594.3,60.2 L594.6,64.0 L595.0,67.8 L595.3,71.6 L595.6,75.3 L595.9,78.9 L596.3,82.1 L596.6,85.2 L596.9,87.9 L597.2,90.5 L597.6,92.9 L597.9,95.2 L598.2,97.3 L598.5,99.4 L598.8,101.3 L599.2,103.0 L599.5,104.4 L599.8,105.6 L600.1,106.3 L600.5,106.6 L600.8,106.5 L601.1,105.9 L601.4,104.9 L601.8,103.6 L602.1,102.0 L602.4,100.1 L602.7,98.2 L603.1,96.1 L603.4,93.8 L603.7,91.5 L604.0,89.0 L604.3,86.3 L604.7,83.4 L605.0,80.2 L605.3,76.8 L605.6,73.1 L606.0,69.4 L606.3,65.5 L606.6,61.7 L606.9,58.0 L607.3,54.5 L607.6,51.2 L607.9,48.2 L608.2,45.4 L608.6,42.9 L608.9,40.5 L609.2,38.2 L609.5,36.0 L609.8,34.0 L610.2,32.1 L610.5,30.4 L610.8,28.9 L611.1,27.8 L611.5,27.0 L611.8,26.7 L612.1,26.9 L612.4,27.4 L612.8,28.4 L613.1,29.8 L613.4,31.4 L613.7,33.2 L614.1,35.2 L614.4,37.3 L614.7,39.5 L615.0,41.9 L615.3,44.4 L615.7,47.1 L616.0,50.0 L616.3,53.2 L616.6,56.6 L617.0,60.2 L617.3,64.0 L617.6,67.8 L617.9,71.6 L618.3,75.3 L618.6,78.9 L618.9,82.1 L619.2,85.2 L619.6,87.9 L619.9,90.5 L620.2,92.9 L620.5,95.2 L620.8,97.3 L621.2,99.4 L621.5,101.3 L621.8,103.0 L622.1,104.4 L622.5,105.6 L622.8,106.3 L623.1,106.6 L623.4,106.5 L623.8,105.9 L624.1,104.9 L624.4,103.6 L624.7,102.0 L625.1,100.1 L625.4,98.2 L625.7,96.1 L626.0,93.8 L626.3,91.5 L626.7,89.0 L627.0,86.3 L627.3,83.4 L627.6,80.2 L628.0,76.8 L628.3,73.1 L628.6,69.4 L628.9,65.5 L629.3,61.7 L629.6,58.0 L629.9,54.5 L630.2,51.2 L630.6,48.2 L630.9,45.4 L631.2,42.9 L631.5,40.5 L631.8,38.2 L632.2,36.0 L632.5,34.0 L632.8,32.1 L633.1,30.4 L633.5,28.9 L633.8,27.8 L634.1,27.0 L634.4,26.7 L634.8,26.9 L635.1,27.4 L635.4,28.4 L635.7,29.8 L636.1,31.4 L636.4,33.2 L636.7,35.2 L637.0,37.3 L637.3,39.5 L637.7,41.9 L638.0,44.4 L638.3,47.1 L638.6,50.0 L639.0,53.2 L639.3,56.6 L639.6,60.2 L639.9,64.0 L640.3,67.8 L640.6,71.6 L640.9,75.3 L641.2,78.9 L641.6,82.1 L641.9,85.2 L642.2,87.9 L642.5,90.5 L642.8,92.9 L643.2,95.2 L643.5,97.3 L643.8,99.4 L644.1,101.3 L644.5,103.0 L644.8,104.4 L645.1,105.6 L645.4,106.3 L645.8,106.6 L646.1,106.5 L646.4,105.9 L646.7,104.9 L647.1,103.6 L647.4,102.0 L647.7,100.1 L648.0,98.2 L648.3,96.1 L648.7,93.8 L649.0,91.5 L649.3,89.0 L649.6,86.3 L650.0,83.4 L650.3,80.2 L650.6,76.8 L650.9,73.1 L651.3,69.4 L651.6,65.5 L651.9,61.7 L652.2,58.0 L652.6,54.5 L652.9,51.2 L653.2,48.2 L653.5,45.4 L653.8,42.9 L654.2,40.5 L654.5,38.2 L654.8,36.0 L655.1,34.0 L655.5,32.1 L655.8,30.4 L656.1,28.9 L656.4,27.8 L656.8,27.0 L657.1,26.7 L657.4,26.9 L657.7,27.4 L658.1,28.4 L658.4,29.8 L658.7,31.4 L659.0,33.2 L659.3,35.2 L659.7,37.3 L660.0,39.5 L660.3,41.9 L660.6,44.4 L661.0,47.1 L661.3,50.0 L661.6,53.2 L661.9,56.6 L662.3,60.2 L662.6,64.0 L662.9,67.8 L663.2,71.6 L663.5,75.3 L663.9,78.9 L664.2,82.1 L664.5,85.2 L664.8,87.9 L665.2,90.5 L665.5,92.9 L665.8,95.2 L666.1,97.3 L666.5,99.4 L666.8,101.3 L667.1,103.0 L667.4,104.4 L667.8,105.6 L668.1,106.3 L668.4,106.6 L668.7,106.5 L669.0,105.9 L669.4,104.9 L669.7,103.6 L670.0,102.0 L670.3,100.1 L670.7,98.2 L671.0,96.1 L671.3,93.8 L671.6,91.5 L672.0,89.0 L672.3,86.3 L672.6,83.4 L672.9,80.2 L673.3,76.8 L673.6,73.1 L673.9,69.4 L674.2,65.5 L674.5,61.7 L674.9,58.0 L675.2,54.5 L675.5,51.2 L675.8,48.2 L676.2,45.4 L676.5,42.9 L676.8,40.5 L677.1,38.2 L677.5,36.0 L677.8,34.0 L678.1,32.1 L678.4,30.4 L678.8,28.9 L679.1,27.8 L679.4,27.0 L679.7,26.7 L680.0,26.9 L680.4,27.4 L680.7,28.4 L681.0,29.8 L681.3,31.4 L681.7,33.2 L682.0,35.2 L682.3,37.3 L682.6,39.5 L683.0,41.9 L683.3,44.4 L683.6,47.1 L683.9,50.0 L684.3,53.2 L684.6,56.6 L684.9,60.2 L685.2,64.0 L685.5,67.8 L685.9,71.6 L686.2,75.3 L686.5,78.9 L686.8,82.1 L687.2,85.2 L687.5,87.9 L687.8,90.5 L688.1,92.9 L688.5,95.2 L688.8,97.3 L689.1,99.4 L689.4,101.3 L689.8,103.0 L690.1,104.4 L690.4,105.6 L690.7,106.3 L691.0,106.6 L691.4,106.5 L691.7,105.9 L692.0,104.9 L692.3,103.6 L692.7,102.0 L693.0,100.1 L693.3,98.2 L693.6,96.1 L694.0,93.8 L694.3,91.5 L694.6,89.0 L694.9,86.3 L695.3,83.4 L695.6,80.2 L695.9,76.8 L696.2,73.1 L696.5,69.4 L696.9,65.5 L697.2,61.7 L697.5,58.0 L697.8,54.5 L698.2,51.2 L698.5,48.2 L698.8,45.4 L699.1,42.9 L699.5,40.5 L699.8,38.2 L700.1,36.0 L700.4,34.0 L700.8,32.1 L701.1,30.4 L701.4,28.9 L701.7,27.8 L702.0,27.0 L702.4,26.7 L702.7,26.9 L703.0,27.4 L703.3,28.4 L703.7,29.8 L704.0,31.4 L704.3,33.2 L704.6,35.2 L705.0,37.3 L705.3,39.5 L705.6,41.9 L705.9,44.4 L706.3,47.1 L706.6,50.0 L706.9,53.2 L707.2,56.6 L707.5,60.2 L707.9,64.0 L708.2,67.8 L708.5,71.6 L708.8,75.3 L709.2,78.9 L709.5,82.1 L709.8,85.2 L710.1,87.9 L710.5,90.5 L710.8,92.9 L711.1,95.2 L711.4,97.3 L711.8,99.4 L712.1,101.3 L712.4,103.0 L712.7,104.4 L713.0,105.6 L713.4,106.3 L713.7,106.6 L714.0,106.5 L714.3,105.9 L714.7,104.9 L715.0,103.6 L715.3,102.0 L715.6,100.1 L716.0,98.2 L716.3,96.1 L716.6,93.8 L716.9,91.5 L717.3,89.0 L717.6,86.3 L717.9,83.4 L718.2,80.2 L718.5,76.8 L718.9,73.1 L719.2,69.4 L719.5,65.5 L719.8,61.7 L720.2,58.0 L720.5,54.5 L720.8,51.2 L721.1,48.2 L721.5,45.4 L721.8,42.9 L722.1,40.5 L722.4,38.2 L722.8,36.0 L723.1,34.0 L723.4,32.1 L723.7,30.4 L724.0,28.9 L724.4,27.8 L724.7,27.0 L725.0,26.7 L725.3,26.9 L725.7,27.4 L726.0,28.4 L726.3,29.8 L726.6,31.4 L727.0,33.2 L727.3,35.2 L727.6,37.3 L727.9,39.5 L728.3,41.9 L728.6,44.4 L728.9,47.1 L729.2,50.0 L729.5,53.2 L729.9,56.6 L730.2,60.2 L730.5,64.0 L730.8,67.8 L731.2,71.6 L731.5,75.3 L731.8,78.9 L732.1,82.1 L732.5,85.2 L732.8,87.9 L733.1,90.5 L733.4,92.9 L733.8,95.2 L734.1,97.3 L734.4,99.4 L734.7,101.3 L735.0,103.0 L735.4,104.4 L735.7,105.6 L736.0,106.3 L736.3,106.6 L736.7,106.5 L737.0,105.9 L737.3,104.9 L737.6,103.6 L738.0,102.0 L738.3,100.1 L738.6,98.2 L738.9,96.1 L739.3,93.8 L739.6,91.5 L739.9,89.0 L740.2,86.3 L740.5,83.4 L740.9,80.2 L741.2,76.8 L741.5,73.1 L741.8,69.4 L742.2,65.5 L742.5,61.7 L742.8,58.0 L743.1,54.5 L743.5,51.2 L743.8,48.2 L744.1,45.4 L744.4,42.9 L744.8,40.5 L745.1,38.2 L745.4,36.0 L745.7,34.0 L746.0,32.1 L746.4,30.4 L746.7,28.9 L747.0,27.8 L747.3,27.0 L747.7,26.7 L748.0,26.9 L748.3,27.4 L748.6,28.4 L749.0,29.8 L749.3,31.4 L749.6,33.2 L749.9,35.2 L750.2,37.3 L750.6,39.5 L750.9,41.9 L751.2,44.4 L751.5,47.1 L751.9,50.0 L752.2,53.2 L752.5,56.6 L752.8,60.2 L753.2,64.0 L753.5,67.8 L753.8,71.6 L754.1,75.3 L754.5,78.9 L754.8,82.1 L755.1,85.2 L755.4,87.9 L755.7,90.5 L756.1,92.9 L756.4,95.2 L756.7,97.3 L757.0,99.4 L757.4,101.3 L757.7,103.0 L758.0,104.4 L758.3,105.6 L758.7,106.3 L759.0,106.6 L759.3,106.5 L759.6,105.9 L760.0,104.9 L760.3,103.6 L760.6,102.0 L760.9,100.1 L761.2,98.2 L761.6,96.1 L761.9,93.8 L762.2,91.5 L762.5,89.0 L762.9,86.3 L763.2,83.4 L763.5,80.2 L763.8,76.8 L764.2,73.1 L764.5,69.4 L764.8,65.5 L765.1,61.7 L765.5,58.0 L765.8,54.5 L766.1,51.2 L766.4,48.2 L766.7,45.4 L767.1,42.9 L767.4,40.5 L767.7,38.2 L768.0,36.0 L768.4,34.0 L768.7,32.1 L769.0,30.4 L769.3,28.9 L769.7,27.8 L770.0,27.0 L770.3,26.7 L770.6,26.9 L771.0,27.4 L771.3,28.4 L771.6,29.8 L771.9,31.4 L772.2,33.2 L772.6,35.2 L772.9,37.3 L773.2,39.5 L773.5,41.9 L773.9,44.4 L774.2,47.1 L774.5,50.0 L774.8,53.2 L775.2,56.6 L775.5,60.2 L775.8,64.0 L776.1,67.8 L776.5,71.6 L776.8,75.3 L777.1,78.9 L777.4,82.1 L777.7,85.2 L778.1,87.9 L778.4,90.5 L778.7,92.9 L779.0,95.2 L779.4,97.3 L779.7,99.4 L780.0,101.3 L780.3,103.0 L780.7,104.4 L781.0,105.6 L781.3,106.3 L781.6,106.6 L782.0,106.5 L782.3,105.9 L782.6,104.9 L782.9,103.6 L783.2,102.0 L783.6,100.1 L783.9,98.2 L784.2,96.1 L784.5,93.8 L784.9,91.5 L785.2,89.0 L785.5,86.3 L785.8,83.4 L786.2,80.2 L786.5,76.8 L786.8,73.1 L787.1,69.4 L787.5,65.5 L787.8,61.7 L788.1,58.0 L788.4,54.5 L788.7,51.2 L789.1,48.2 L789.4,45.4 L789.7,42.9 L790.0,40.5 L790.4,38.2 L790.7,36.0 L791.0,34.0 L791.3,32.1 L791.7,30.4 L792.0,28.9 L792.3,27.8 L792.6,27.0 L793.0,26.7 L793.3,26.9 L793.6,27.4 L793.9,28.4 L794.2,29.8 L794.6,31.4 L794.9,33.2 L795.2,35.2 L795.5,37.3 L795.9,39.5 L796.2,41.9 L796.5,44.4 L796.8,47.1 L797.2,50.0 L797.5,53.2 L797.8,56.6 L798.1,60.2 L798.5,64.0 L798.8,67.8 L799.1,71.6 L799.4,75.3 L799.7,78.9 L800.1,82.1 L800.4,85.2 L800.7,87.9 L801.0,90.5 L801.4,92.9 L801.7,95.2 L802.0,97.3 L802.3,99.4 L802.7,101.3 L803.0,103.0 L803.3,104.4 L803.6,105.6 L804.0,106.3 L804.3,106.6 L804.6,106.5 L804.9,105.9 L805.2,104.9 L805.6,103.6 L805.9,102.0 L806.2,100.1 L806.5,98.2 L806.9,96.1 L807.2,93.8 L807.5,91.5 L807.8,89.0 L808.2,86.3 L808.5,83.4 L808.8,80.2 L809.1,76.8 L809.5,73.1 L809.8,69.4 L810.1,65.5 L810.4,61.7 L810.7,58.0 L811.1,54.5 L811.4,51.2 L811.7,48.2 L812.0,45.4 L812.4,42.9 L812.7,40.5 L813.0,38.2 L813.3,36.0 L813.7,34.0 L814.0,32.1 L814.3,30.4 L814.6,28.9 L815.0,27.8 L815.3,27.0 L815.6,26.7 L815.9,26.9 L816.2,27.4 L816.6,28.4 L816.9,29.8 L817.2,31.4 L817.5,33.2 L817.9,35.2 L818.2,37.3 L818.5,39.5 L818.8,41.9 L819.2,44.4 L819.5,47.1 L819.8,50.0 L820.1,53.2 L820.5,56.6 L820.8,60.2 L821.1,64.0 L821.4,67.8 L821.7,71.6 L822.1,75.3 L822.4,78.9 L822.7,82.1 L823.0,85.2 L823.4,87.9 L823.7,90.5 L824.0,92.9 L824.3,95.2 L824.7,97.3 L825.0,99.4 L825.3,101.3 L825.6,103.0 L826.0,104.4 L826.3,105.6 L826.6,106.3 L826.9,106.6 L827.2,106.5 L827.6,105.9 L827.9,104.9 L828.2,103.6 L828.5,102.0 L828.9,100.1 L829.2,98.2 L829.5,96.1 L829.8,93.8 L830.2,91.5 L830.5,89.0 L830.8,86.3 L831.1,83.4 L831.5,80.2 L831.8,76.8 L832.1,73.1 L832.4,69.4 L832.7,65.5 L833.1,61.7 L833.4,58.0 L833.7,54.5 L834.0,51.2 L834.4,48.2 L834.7,45.4 L835.0,42.9 L835.3,40.5 L835.7,38.2 L836.0,36.0 L836.3,34.0 L836.6,32.1 L836.9,30.4 L837.3,28.9 L837.6,27.8 L837.9,27.0 L838.2,26.7 L838.6,26.9 L838.9,27.4 L839.2,28.4 L839.5,29.8 L839.9,31.4 L840.2,33.2 L840.5,35.2 L840.8,37.3 L841.2,39.5 L841.5,41.9 L841.8,44.4 L842.1,47.1 L842.4,50.0 L842.8,53.2 L843.1,56.6 L843.4,60.2 L843.7,64.0 L844.1,67.8 L844.4,71.6 L844.7,75.3 L845.0,78.9 L845.4,82.1 L845.7,85.2 L846.0,87.9 L846.3,90.5 L846.7,92.9 L847.0,95.2 L847.3,97.3 L847.6,99.4 L847.9,101.3 L848.3,103.0 L848.6,104.4 L848.9,105.6 L849.2,106.3 L849.6,106.6 L849.9,106.5 L850.2,105.9 L850.5,104.9 L850.9,103.6 L851.2,102.0 L851.5,100.1 L851.8,98.2 L852.2,96.1 L852.5,93.8 L852.8,91.5 L853.1,89.0 L853.4,86.3 L853.8,83.4 L854.1,80.2 L854.4,76.8 L854.7,73.1 L855.1,69.4 L855.4,65.5 L855.7,61.7 L856.0,58.0 L856.4,54.5 L856.7,51.2 L857.0,48.2 L857.3,45.4 L857.7,42.9 L858.0,40.5 L858.3,38.2 L858.6,36.0 L858.9,34.0 L859.3,32.1 L859.6,30.4 L859.9,28.9 L860.2,27.8 L860.6,27.0 L860.9,26.7 L861.2,26.9 L861.5,27.4 L861.9,28.4 L862.2,29.8 L862.5,31.4 L862.8,33.2 L863.2,35.2 L863.5,37.3 L863.8,39.5 L864.1,41.9 L864.4,44.4 L864.8,47.1 L865.1,50.0 L865.4,53.2 L865.7,56.6 L866.1,60.2 L866.4,64.0 L866.7,67.8 L867.0,71.6 L867.4,75.3 L867.7,78.9 L868.0,82.1 L868.3,85.2 L868.7,87.9 L869.0,90.5 L869.3,92.9 L869.6,95.2 L869.9,97.3 L870.3,99.4 L870.6,101.3 L870.9,103.0 L871.2,104.4 L871.6,105.6 L871.9,106.3 L872.2,106.6 L872.5,106.5 L872.9,105.9 L873.2,104.9 L873.5,103.6 L873.8,102.0 L874.2,100.1 L874.5,98.2 L874.8,96.1 L875.1,93.8 L875.4,91.5 L875.8,89.0 L876.1,86.3 L876.4,83.4 L876.7,80.2 L877.1,76.8 L877.4,73.1 L877.7,69.4 L878.0,65.5 L878.4,61.7 L878.7,58.0 L879.0,54.5 L879.3,51.2 L879.7,48.2 L880.0,45.4 L880.3,42.9 L880.6,40.5 L880.9,38.2 L881.3,36.0 L881.6,34.0 L881.9,32.1 L882.2,30.4 L882.6,28.9 L882.9,27.8 L883.2,27.0 L883.5,26.7 L883.9,26.9 L884.2,27.4 L884.5,28.4 L884.8,29.8 L885.2,31.4 L885.5,33.2 L885.8,35.2 L886.1,37.3 L886.4,39.5 L886.8,41.9 L887.1,44.4 L887.4,47.1 L887.7,50.0 L888.1,53.2 L888.4,56.6 L888.7,60.2 L889.0,64.0 L889.4,67.8 L889.7,71.6 L890.0,75.3 L890.3,78.9 L890.7,82.1 L891.0,85.2 L891.3,87.9 L891.6,90.5 L891.9,92.9 L892.3,95.2 L892.6,97.3 L892.9,99.4 L893.2,101.3 L893.6,103.0 L893.9,104.4 L894.2,105.6 L894.5,106.3 L894.9,106.6 L895.2,106.5 L895.5,105.9 L895.8,104.9 L896.2,103.6 L896.5,102.0 L896.8,100.1 L897.1,98.2 L897.4,96.1 L897.8,93.8 L898.1,91.5 L898.4,89.0 L898.7,86.3 L899.1,83.4 L899.4,80.2 L899.7,76.8 L900.0,73.1 L900.4,69.4 L900.7,65.5 L901.0,61.7 L901.3,58.0 L901.7,54.5 L902.0,51.2 L902.3,48.2 L902.6,45.4 L902.9,42.9 L903.3,40.5 L903.6,38.2 L903.9,36.0 L904.2,34.0 L904.6,32.1 L904.9,30.4 L905.2,28.9 L905.5,27.8 L905.9,27.0 L906.2,26.7 L906.5,26.9 L906.8,27.4 L907.2,28.4 L907.5,29.8 L907.8,31.4 L908.1,33.2 L908.4,35.2 L908.8,37.3 L909.1,39.5 L909.4,41.9 L909.7,44.4 L910.1,47.1 L910.4,50.0 L910.7,53.2 L911.0,56.6 L911.4,60.2 L911.7,64.0 L912.0,67.8 L912.3,71.6 L912.7,75.3 L913.0,78.9 L913.3,82.1 L913.6,85.2 L913.9,87.9 L914.3,90.5 L914.6,92.9 L914.9,95.2 L915.2,97.3 L915.6,99.4 L915.9,101.3 L916.2,103.0 L916.5,104.4 L916.9,105.6 L917.2,106.3 L917.5,106.6 L917.8,106.5 L918.2,105.9 L918.5,104.9 L918.8,103.6 L919.1,102.0 L919.4,100.1 L919.8,98.2 L920.1,96.1 L920.4,93.8 L920.7,91.5 L921.1,89.0 L921.4,86.3 L921.7,83.4 L922.0,80.2 L922.4,76.8 L922.7,73.1 L923.0,69.4 L923.3,65.5 L923.6,61.7 L924.0,58.0 L924.3,54.5 L924.6,51.2 L924.9,48.2 L925.3,45.4 L925.6,42.9 L925.9,40.5 L926.2,38.2 L926.6,36.0 L926.9,34.0 L927.2,32.1 L927.5,30.4 L927.9,28.9 L928.2,27.8 L928.5,27.0 L928.8,26.7 L929.1,26.9 L929.5,27.4 L929.8,28.4 L930.1,29.8 L930.4,31.4 L930.8,33.2 L931.1,35.2 L931.4,37.3 L931.7,39.5 L932.1,41.9 L932.4,44.4 L932.7,47.1 L933.0,50.0 L933.4,53.2 L933.7,56.6 L934.0,60.2 L934.3,64.0 L934.6,67.8 L935.0,71.6 L935.3,75.3 L935.6,78.9 L935.9,82.1 L936.3,85.2 L936.6,87.9 L936.9,90.5 L937.2,92.9 L937.6,95.2 L937.9,97.3 L938.2,99.4 L938.5,101.3 L938.9,103.0 L939.2,104.4 L939.5,105.6 L939.8,106.3 L940.1,106.6 L940.5,106.5 L940.8,105.9 L941.1,104.9 L941.4,103.6 L941.8,102.0 L942.1,100.1 L942.4,98.2 L942.7,96.1 L943.1,93.8 L943.4,91.5 L943.7,89.0 L944.0,86.3 L944.4,83.4 L944.7,80.2 L945.0,76.8 L945.3,73.1 L945.6,69.4" stroke="#008000" stroke-width="2.3" fill="none" stroke-linejoin="round" stroke-linecap="round"/></g>
<g clip-path="url(#caR)"><path transform="scale(0.7174,1)" d="M549.4,39.9 L549.7,38.2 L550.0,36.7 L550.3,35.4 L550.6,34.3 L551.0,33.5 L551.3,33.0 L551.6,33.0 L551.9,33.3 L552.3,34.0 L552.6,35.0 L552.9,36.3 L553.2,37.7 L553.6,39.4 L553.9,41.1 L554.2,42.9 L554.5,44.9 L554.9,46.9 L555.2,49.1 L555.5,51.5 L555.8,54.1 L556.1,56.9 L556.5,59.8 L556.8,63.0 L557.1,66.2 L557.4,69.4 L557.8,72.6 L558.1,75.6 L558.4,78.5 L558.7,81.1 L559.1,83.6 L559.4,85.8 L559.7,87.9 L560.0,89.9 L560.4,91.7 L560.7,93.5 L561.0,95.1 L561.3,96.7 L561.6,98.0 L562.0,99.1 L562.3,99.9 L562.6,100.3 L562.9,100.4 L563.3,100.1 L563.6,99.4 L563.9,98.4 L564.2,97.1 L564.6,95.6 L564.9,94.0 L565.2,92.3 L565.5,90.4 L565.9,88.5 L566.2,86.5 L566.5,84.3 L566.8,81.9 L567.1,79.3 L567.5,76.5 L567.8,73.5 L568.1,70.4 L568.4,67.2 L568.8,63.9 L569.1,60.8 L569.4,57.7 L569.7,54.9 L570.1,52.2 L570.4,49.8 L570.7,47.5 L571.0,45.5 L571.4,43.5 L571.7,41.6 L572.0,39.9 L572.3,38.2 L572.6,36.7 L573.0,35.4 L573.3,34.3 L573.6,33.5 L573.9,33.0 L574.3,33.0 L574.6,33.3 L574.9,34.0 L575.2,35.0 L575.6,36.3 L575.9,37.7 L576.2,39.4 L576.5,41.1 L576.8,42.9 L577.2,44.9 L577.5,46.9 L577.8,49.1 L578.1,51.5 L578.5,54.1 L578.8,56.9 L579.1,59.8 L579.4,63.0 L579.8,66.2 L580.1,69.4 L580.4,72.6 L580.7,75.6 L581.1,78.5 L581.4,81.1 L581.7,83.6 L582.0,85.8 L582.3,87.9 L582.7,89.9 L583.0,91.7 L583.3,93.5 L583.6,95.1 L584.0,96.7 L584.3,98.0 L584.6,99.1 L584.9,99.9 L585.3,100.3 L585.6,100.4 L585.9,100.1 L586.2,99.4 L586.6,98.4 L586.9,97.1 L587.2,95.6 L587.5,94.0 L587.8,92.3 L588.2,90.4 L588.5,88.5 L588.8,86.5 L589.1,84.3 L589.5,81.9 L589.8,79.3 L590.1,76.5 L590.4,73.5 L590.8,70.4 L591.1,67.2 L591.4,63.9 L591.7,60.8 L592.1,57.7 L592.4,54.9 L592.7,52.2 L593.0,49.8 L593.3,47.5 L593.7,45.5 L594.0,43.5 L594.3,41.6 L594.6,39.9 L595.0,38.2 L595.3,36.7 L595.6,35.4 L595.9,34.3 L596.3,33.5 L596.6,33.0 L596.9,33.0 L597.2,33.3 L597.6,34.0 L597.9,35.0 L598.2,36.3 L598.5,37.7 L598.8,39.4 L599.2,41.1 L599.5,42.9 L599.8,44.9 L600.1,46.9 L600.5,49.1 L600.8,51.5 L601.1,54.1 L601.4,56.9 L601.8,59.8 L602.1,63.0 L602.4,66.2 L602.7,69.4 L603.1,72.6 L603.4,75.6 L603.7,78.5 L604.0,81.1 L604.3,83.6 L604.7,85.8 L605.0,87.9 L605.3,89.9 L605.6,91.7 L606.0,93.5 L606.3,95.1 L606.6,96.7 L606.9,98.0 L607.3,99.1 L607.6,99.9 L607.9,100.3 L608.2,100.4 L608.6,100.1 L608.9,99.4 L609.2,98.4 L609.5,97.1 L609.8,95.6 L610.2,94.0 L610.5,92.3 L610.8,90.4 L611.1,88.5 L611.5,86.5 L611.8,84.3 L612.1,81.9 L612.4,79.3 L612.8,76.5 L613.1,73.5 L613.4,70.4 L613.7,67.2 L614.1,63.9 L614.4,60.8 L614.7,57.7 L615.0,54.9 L615.3,52.2 L615.7,49.8 L616.0,47.5 L616.3,45.5 L616.6,43.5 L617.0,41.6 L617.3,39.9 L617.6,38.2 L617.9,36.7 L618.3,35.4 L618.6,34.3 L618.9,33.5 L619.2,33.0 L619.6,33.0 L619.9,33.3 L620.2,34.0 L620.5,35.0 L620.8,36.3 L621.2,37.7 L621.5,39.4 L621.8,41.1 L622.1,42.9 L622.5,44.9 L622.8,46.9 L623.1,49.1 L623.4,51.5 L623.8,54.1 L624.1,56.9 L624.4,59.8 L624.7,63.0 L625.1,66.2 L625.4,69.4 L625.7,72.6 L626.0,75.6 L626.3,78.5 L626.7,81.1 L627.0,83.6 L627.3,85.8 L627.6,87.9 L628.0,89.9 L628.3,91.7 L628.6,93.5 L628.9,95.1 L629.3,96.7 L629.6,98.0 L629.9,99.1 L630.2,99.9 L630.6,100.3 L630.9,100.4 L631.2,100.1 L631.5,99.4 L631.8,98.4 L632.2,97.1 L632.5,95.6 L632.8,94.0 L633.1,92.3 L633.5,90.4 L633.8,88.5 L634.1,86.5 L634.4,84.3 L634.8,81.9 L635.1,79.3 L635.4,76.5 L635.7,73.5 L636.1,70.4 L636.4,67.2 L636.7,63.9 L637.0,60.8 L637.3,57.7 L637.7,54.9 L638.0,52.2 L638.3,49.8 L638.6,47.5 L639.0,45.5 L639.3,43.5 L639.6,41.6 L639.9,39.9 L640.3,38.2 L640.6,36.7 L640.9,35.4 L641.2,34.3 L641.6,33.5 L641.9,33.0 L642.2,33.0 L642.5,33.3 L642.8,34.0 L643.2,35.0 L643.5,36.3 L643.8,37.7 L644.1,39.4 L644.5,41.1 L644.8,42.9 L645.1,44.9 L645.4,46.9 L645.8,49.1 L646.1,51.5 L646.4,54.1 L646.7,56.9 L647.1,59.8 L647.4,63.0 L647.7,66.2 L648.0,69.4 L648.3,72.6 L648.7,75.6 L649.0,78.5 L649.3,81.1 L649.6,83.6 L650.0,85.8 L650.3,87.9 L650.6,89.9 L650.9,91.7 L651.3,93.5 L651.6,95.1 L651.9,96.7 L652.2,98.0 L652.6,99.1 L652.9,99.9 L653.2,100.3 L653.5,100.4 L653.8,100.1 L654.2,99.4 L654.5,98.4 L654.8,97.1 L655.1,95.6 L655.5,94.0 L655.8,92.3 L656.1,90.4 L656.4,88.5 L656.8,86.5 L657.1,84.3 L657.4,81.9 L657.7,79.3 L658.1,76.5 L658.4,73.5 L658.7,70.4 L659.0,67.2 L659.3,63.9 L659.7,60.8 L660.0,57.7 L660.3,54.9 L660.6,52.2 L661.0,49.8 L661.3,47.5 L661.6,45.5 L661.9,43.5 L662.3,41.6 L662.6,39.9 L662.9,38.2 L663.2,36.7 L663.5,35.4 L663.9,34.3 L664.2,33.5 L664.5,33.0 L664.8,33.0 L665.2,33.3 L665.5,34.0 L665.8,35.0 L666.1,36.3 L666.5,37.7 L666.8,39.4 L667.1,41.1 L667.4,42.9 L667.8,44.9 L668.1,46.9 L668.4,49.1 L668.7,51.5 L669.0,54.1 L669.4,56.9 L669.7,59.8 L670.0,63.0 L670.3,66.2 L670.7,69.4 L671.0,72.6 L671.3,75.6 L671.6,78.5 L672.0,81.1 L672.3,83.6 L672.6,85.8 L672.9,87.9 L673.3,89.9 L673.6,91.7 L673.9,93.5 L674.2,95.1 L674.5,96.7 L674.9,98.0 L675.2,99.1 L675.5,99.9 L675.8,100.3 L676.2,100.4 L676.5,100.1 L676.8,99.4 L677.1,98.4 L677.5,97.1 L677.8,95.6 L678.1,94.0 L678.4,92.3 L678.8,90.4 L679.1,88.5 L679.4,86.5 L679.7,84.3 L680.0,81.9 L680.4,79.3 L680.7,76.5 L681.0,73.5 L681.3,70.4 L681.7,67.2 L682.0,63.9 L682.3,60.8 L682.6,57.7 L683.0,54.9 L683.3,52.2 L683.6,49.8 L683.9,47.5 L684.3,45.5 L684.6,43.5 L684.9,41.6 L685.2,39.9 L685.5,38.2 L685.9,36.7 L686.2,35.4 L686.5,34.3 L686.8,33.5 L687.2,33.0 L687.5,33.0 L687.8,33.3 L688.1,34.0 L688.5,35.0 L688.8,36.3 L689.1,37.7 L689.4,39.4 L689.8,41.1 L690.1,42.9 L690.4,44.9 L690.7,46.9 L691.0,49.1 L691.4,51.5 L691.7,54.1 L692.0,56.9 L692.3,59.8 L692.7,63.0 L693.0,66.2 L693.3,69.4 L693.6,72.6 L694.0,75.6 L694.3,78.5 L694.6,81.1 L694.9,83.6 L695.3,85.8 L695.6,87.9 L695.9,89.9 L696.2,91.7 L696.5,93.5 L696.9,95.1 L697.2,96.7 L697.5,98.0 L697.8,99.1 L698.2,99.9 L698.5,100.3 L698.8,100.4 L699.1,100.1 L699.5,99.4 L699.8,98.4 L700.1,97.1 L700.4,95.6 L700.8,94.0 L701.1,92.3 L701.4,90.4 L701.7,88.5 L702.0,86.5 L702.4,84.3 L702.7,81.9 L703.0,79.3 L703.3,76.5 L703.7,73.5 L704.0,70.4 L704.3,67.2 L704.6,63.9 L705.0,60.8 L705.3,57.7 L705.6,54.9 L705.9,52.2 L706.3,49.8 L706.6,47.5 L706.9,45.5 L707.2,43.5 L707.5,41.6 L707.9,39.9 L708.2,38.2 L708.5,36.7 L708.8,35.4 L709.2,34.3 L709.5,33.5 L709.8,33.0 L710.1,33.0 L710.5,33.3 L710.8,34.0 L711.1,35.0 L711.4,36.3 L711.8,37.7 L712.1,39.4 L712.4,41.1 L712.7,42.9 L713.0,44.9 L713.4,46.9 L713.7,49.1 L714.0,51.5 L714.3,54.1 L714.7,56.9 L715.0,59.8 L715.3,63.0 L715.6,66.2 L716.0,69.4 L716.3,72.6 L716.6,75.6 L716.9,78.5 L717.3,81.1 L717.6,83.6 L717.9,85.8 L718.2,87.9 L718.5,89.9 L718.9,91.7 L719.2,93.5 L719.5,95.1 L719.8,96.7 L720.2,98.0 L720.5,99.1 L720.8,99.9 L721.1,100.3 L721.5,100.4 L721.8,100.1 L722.1,99.4 L722.4,98.4 L722.8,97.1 L723.1,95.6 L723.4,94.0 L723.7,92.3 L724.0,90.4 L724.4,88.5 L724.7,86.5 L725.0,84.3 L725.3,81.9 L725.7,79.3 L726.0,76.5 L726.3,73.5 L726.6,70.4 L727.0,67.2 L727.3,63.9 L727.6,60.8 L727.9,57.7 L728.3,54.9 L728.6,52.2 L728.9,49.8 L729.2,47.5 L729.5,45.5 L729.9,43.5 L730.2,41.6 L730.5,39.9 L730.8,38.2 L731.2,36.7 L731.5,35.4 L731.8,34.3 L732.1,33.5 L732.5,33.0 L732.8,33.0 L733.1,33.3 L733.4,34.0 L733.8,35.0 L734.1,36.3 L734.4,37.7 L734.7,39.4 L735.0,41.1 L735.4,42.9 L735.7,44.9 L736.0,46.9 L736.3,49.1 L736.7,51.5 L737.0,54.1 L737.3,56.9 L737.6,59.8 L738.0,63.0 L738.3,66.2 L738.6,69.4 L738.9,72.6 L739.3,75.6 L739.6,78.5 L739.9,81.1 L740.2,83.6 L740.5,85.8 L740.9,87.9 L741.2,89.9 L741.5,91.7 L741.8,93.5 L742.2,95.1 L742.5,96.7 L742.8,98.0 L743.1,99.1 L743.5,99.9 L743.8,100.3 L744.1,100.4 L744.4,100.1 L744.8,99.4 L745.1,98.4 L745.4,97.1 L745.7,95.6 L746.0,94.0 L746.4,92.3 L746.7,90.4 L747.0,88.5 L747.3,86.5 L747.7,84.3 L748.0,81.9 L748.3,79.3 L748.6,76.5 L749.0,73.5 L749.3,70.4 L749.6,67.2 L749.9,63.9 L750.2,60.8 L750.6,57.7 L750.9,54.9 L751.2,52.2 L751.5,49.8 L751.9,47.5 L752.2,45.5 L752.5,43.5 L752.8,41.6 L753.2,39.9 L753.5,38.2 L753.8,36.7 L754.1,35.4 L754.5,34.3 L754.8,33.5 L755.1,33.0 L755.4,33.0 L755.7,33.3 L756.1,34.0 L756.4,35.0 L756.7,36.3 L757.0,37.7 L757.4,39.4 L757.7,41.1 L758.0,42.9 L758.3,44.9 L758.7,46.9 L759.0,49.1 L759.3,51.5 L759.6,54.1 L760.0,56.9 L760.3,59.8 L760.6,63.0 L760.9,66.2 L761.2,69.4 L761.6,72.6 L761.9,75.6 L762.2,78.5 L762.5,81.1 L762.9,83.6 L763.2,85.8 L763.5,87.9 L763.8,89.9 L764.2,91.7 L764.5,93.5 L764.8,95.1 L765.1,96.7 L765.5,98.0 L765.8,99.1 L766.1,99.9 L766.4,100.3 L766.7,100.4 L767.1,100.1 L767.4,99.4 L767.7,98.4 L768.0,97.1 L768.4,95.6 L768.7,94.0 L769.0,92.3 L769.3,90.4 L769.7,88.5 L770.0,86.5 L770.3,84.3 L770.6,81.9 L771.0,79.3 L771.3,76.5 L771.6,73.5 L771.9,70.4 L772.2,67.2 L772.6,63.9 L772.9,60.8 L773.2,57.7 L773.5,54.9 L773.9,52.2 L774.2,49.8 L774.5,47.5 L774.8,45.5 L775.2,43.5 L775.5,41.6 L775.8,39.9 L776.1,38.2 L776.5,36.7 L776.8,35.4 L777.1,34.3 L777.4,33.5 L777.7,33.0 L778.1,33.0 L778.4,33.3 L778.7,34.0 L779.0,35.0 L779.4,36.3 L779.7,37.7 L780.0,39.4 L780.3,41.1 L780.7,42.9 L781.0,44.9 L781.3,46.9 L781.6,49.1 L782.0,51.5 L782.3,54.1 L782.6,56.9 L782.9,59.8 L783.2,63.0 L783.6,66.2 L783.9,69.4 L784.2,72.6 L784.5,75.6 L784.9,78.5 L785.2,81.1 L785.5,83.6 L785.8,85.8 L786.2,87.9 L786.5,89.9 L786.8,91.7 L787.1,93.5 L787.5,95.1 L787.8,96.7 L788.1,98.0 L788.4,99.1 L788.7,99.9 L789.1,100.3 L789.4,100.4 L789.7,100.1 L790.0,99.4 L790.4,98.4 L790.7,97.1 L791.0,95.6 L791.3,94.0 L791.7,92.3 L792.0,90.4 L792.3,88.5 L792.6,86.5 L793.0,84.3 L793.3,81.9 L793.6,79.3 L793.9,76.5 L794.2,73.5 L794.6,70.4 L794.9,67.2 L795.2,63.9 L795.5,60.8 L795.9,57.7 L796.2,54.9 L796.5,52.2 L796.8,49.8 L797.2,47.5 L797.5,45.5 L797.8,43.5 L798.1,41.6 L798.5,39.9 L798.8,38.2 L799.1,36.7 L799.4,35.4 L799.7,34.3 L800.1,33.5 L800.4,33.0 L800.7,33.0 L801.0,33.3 L801.4,34.0 L801.7,35.0 L802.0,36.3 L802.3,37.7 L802.7,39.4 L803.0,41.1 L803.3,42.9 L803.6,44.9 L804.0,46.9 L804.3,49.1 L804.6,51.5 L804.9,54.1 L805.2,56.9 L805.6,59.8 L805.9,63.0 L806.2,66.2 L806.5,69.4 L806.9,72.6 L807.2,75.6 L807.5,78.5 L807.8,81.1 L808.2,83.6 L808.5,85.8 L808.8,87.9 L809.1,89.9 L809.5,91.7 L809.8,93.5 L810.1,95.1 L810.4,96.7 L810.7,98.0 L811.1,99.1 L811.4,99.9 L811.7,100.3 L812.0,100.4 L812.4,100.1 L812.7,99.4 L813.0,98.4 L813.3,97.1 L813.7,95.6 L814.0,94.0 L814.3,92.3 L814.6,90.4 L815.0,88.5 L815.3,86.5 L815.6,84.3 L815.9,81.9 L816.2,79.3 L816.6,76.5 L816.9,73.5 L817.2,70.4 L817.5,67.2 L817.9,63.9 L818.2,60.8 L818.5,57.7 L818.8,54.9 L819.2,52.2 L819.5,49.8 L819.8,47.5 L820.1,45.5 L820.5,43.5 L820.8,41.6 L821.1,39.9 L821.4,38.2 L821.7,36.7 L822.1,35.4 L822.4,34.3 L822.7,33.5 L823.0,33.0 L823.4,33.0 L823.7,33.3 L824.0,34.0 L824.3,35.0 L824.7,36.3 L825.0,37.7 L825.3,39.4 L825.6,41.1 L826.0,42.9 L826.3,44.9 L826.6,46.9 L826.9,49.1 L827.2,51.5 L827.6,54.1 L827.9,56.9 L828.2,59.8 L828.5,63.0 L828.9,66.2 L829.2,69.4 L829.5,72.6 L829.8,75.6 L830.2,78.5 L830.5,81.1 L830.8,83.6 L831.1,85.8 L831.5,87.9 L831.8,89.9 L832.1,91.7 L832.4,93.5 L832.7,95.1 L833.1,96.7 L833.4,98.0 L833.7,99.1 L834.0,99.9 L834.4,100.3 L834.7,100.4 L835.0,100.1 L835.3,99.4 L835.7,98.4 L836.0,97.1 L836.3,95.6 L836.6,94.0 L836.9,92.3 L837.3,90.4 L837.6,88.5 L837.9,86.5 L838.2,84.3 L838.6,81.9 L838.9,79.3 L839.2,76.5 L839.5,73.5 L839.9,70.4 L840.2,67.2 L840.5,63.9 L840.8,60.8 L841.2,57.7 L841.5,54.9 L841.8,52.2 L842.1,49.8 L842.4,47.5 L842.8,45.5 L843.1,43.5 L843.4,41.6 L843.7,39.9 L844.1,38.2 L844.4,36.7 L844.7,35.4 L845.0,34.3 L845.4,33.5 L845.7,33.0 L846.0,33.0 L846.3,33.3 L846.7,34.0 L847.0,35.0 L847.3,36.3 L847.6,37.7 L847.9,39.4 L848.3,41.1 L848.6,42.9 L848.9,44.9 L849.2,46.9 L849.6,49.1 L849.9,51.5 L850.2,54.1 L850.5,56.9 L850.9,59.8 L851.2,63.0 L851.5,66.2 L851.8,69.4 L852.2,72.6 L852.5,75.6 L852.8,78.5 L853.1,81.1 L853.4,83.6 L853.8,85.8 L854.1,87.9 L854.4,89.9 L854.7,91.7 L855.1,93.5 L855.4,95.1 L855.7,96.7 L856.0,98.0 L856.4,99.1 L856.7,99.9 L857.0,100.3 L857.3,100.4 L857.7,100.1 L858.0,99.4 L858.3,98.4 L858.6,97.1 L858.9,95.6 L859.3,94.0 L859.6,92.3 L859.9,90.4 L860.2,88.5 L860.6,86.5 L860.9,84.3 L861.2,81.9 L861.5,79.3 L861.9,76.5 L862.2,73.5 L862.5,70.4 L862.8,67.2 L863.2,63.9 L863.5,60.8 L863.8,57.7 L864.1,54.9 L864.4,52.2 L864.8,49.8 L865.1,47.5 L865.4,45.5 L865.7,43.5 L866.1,41.6 L866.4,39.9 L866.7,38.2 L867.0,36.7 L867.4,35.4 L867.7,34.3 L868.0,33.5 L868.3,33.0 L868.7,33.0 L869.0,33.3 L869.3,34.0 L869.6,35.0 L869.9,36.3 L870.3,37.7 L870.6,39.4 L870.9,41.1 L871.2,42.9 L871.6,44.9 L871.9,46.9 L872.2,49.1 L872.5,51.5 L872.9,54.1 L873.2,56.9 L873.5,59.8 L873.8,63.0 L874.2,66.2 L874.5,69.4 L874.8,72.6 L875.1,75.6 L875.4,78.5 L875.8,81.1 L876.1,83.6 L876.4,85.8 L876.7,87.9 L877.1,89.9 L877.4,91.7 L877.7,93.5 L878.0,95.1 L878.4,96.7 L878.7,98.0 L879.0,99.1 L879.3,99.9 L879.7,100.3 L880.0,100.4 L880.3,100.1 L880.6,99.4 L880.9,98.4 L881.3,97.1 L881.6,95.6 L881.9,94.0 L882.2,92.3 L882.6,90.4 L882.9,88.5 L883.2,86.5 L883.5,84.3 L883.9,81.9 L884.2,79.3 L884.5,76.5 L884.8,73.5 L885.2,70.4 L885.5,67.2 L885.8,63.9 L886.1,60.8 L886.4,57.7 L886.8,54.9 L887.1,52.2 L887.4,49.8 L887.7,47.5 L888.1,45.5 L888.4,43.5 L888.7,41.6 L889.0,39.9 L889.4,38.2 L889.7,36.7 L890.0,35.4 L890.3,34.3 L890.7,33.5 L891.0,33.0 L891.3,33.0 L891.6,33.3 L891.9,34.0 L892.3,35.0 L892.6,36.3 L892.9,37.7 L893.2,39.4 L893.6,41.1 L893.9,42.9 L894.2,44.9 L894.5,46.9 L894.9,49.1 L895.2,51.5 L895.5,54.1 L895.8,56.9 L896.2,59.8 L896.5,63.0 L896.8,66.2 L897.1,69.4 L897.4,72.6 L897.8,75.6 L898.1,78.5 L898.4,81.1 L898.7,83.6 L899.1,85.8 L899.4,87.9 L899.7,89.9 L900.0,91.7 L900.4,93.5 L900.7,95.1 L901.0,96.7 L901.3,98.0 L901.7,99.1 L902.0,99.9 L902.3,100.3 L902.6,100.4 L902.9,100.1 L903.3,99.4 L903.6,98.4 L903.9,97.1 L904.2,95.6 L904.6,94.0 L904.9,92.3 L905.2,90.4 L905.5,88.5 L905.9,86.5 L906.2,84.3 L906.5,81.9 L906.8,79.3 L907.2,76.5 L907.5,73.5 L907.8,70.4 L908.1,67.2 L908.4,63.9 L908.8,60.8 L909.1,57.7 L909.4,54.9 L909.7,52.2 L910.1,49.8 L910.4,47.5 L910.7,45.5 L911.0,43.5 L911.4,41.6 L911.7,39.9 L912.0,38.2 L912.3,36.7 L912.7,35.4 L913.0,34.3 L913.3,33.5 L913.6,33.0 L913.9,33.0 L914.3,33.3 L914.6,34.0 L914.9,35.0 L915.2,36.3 L915.6,37.7 L915.9,39.4 L916.2,41.1 L916.5,42.9 L916.9,44.9 L917.2,46.9 L917.5,49.1 L917.8,51.5 L918.2,54.1 L918.5,56.9 L918.8,59.8 L919.1,63.0 L919.4,66.2 L919.8,69.4 L920.1,72.6 L920.4,75.6 L920.7,78.5 L921.1,81.1 L921.4,83.6 L921.7,85.8 L922.0,87.9 L922.4,89.9 L922.7,91.7 L923.0,93.5 L923.3,95.1 L923.6,96.7 L924.0,98.0 L924.3,99.1 L924.6,99.9 L924.9,100.3 L925.3,100.4 L925.6,100.1 L925.9,99.4 L926.2,98.4 L926.6,97.1 L926.9,95.6 L927.2,94.0 L927.5,92.3 L927.9,90.4 L928.2,88.5 L928.5,86.5 L928.8,84.3 L929.1,81.9 L929.5,79.3 L929.8,76.5 L930.1,73.5 L930.4,70.4 L930.8,67.2 L931.1,63.9 L931.4,60.8 L931.7,57.7 L932.1,54.9 L932.4,52.2 L932.7,49.8 L933.0,47.5 L933.4,45.5 L933.7,43.5 L934.0,41.6 L934.3,39.9 L934.6,38.2 L935.0,36.7 L935.3,35.4 L935.6,34.3 L935.9,33.5 L936.3,33.0 L936.6,33.0 L936.9,33.3 L937.2,34.0 L937.6,35.0 L937.9,36.3 L938.2,37.7 L938.5,39.4 L938.9,41.1 L939.2,42.9 L939.5,44.9 L939.8,46.9 L940.1,49.1 L940.5,51.5 L940.8,54.1 L941.1,56.9 L941.4,59.8 L941.8,63.0 L942.1,66.2 L942.4,69.4 L942.7,72.6 L943.1,75.6 L943.4,78.5 L943.7,81.1 L944.0,83.6 L944.4,85.8 L944.7,87.9 L945.0,89.9 L945.3,91.7 L945.6,93.5" stroke="#0000ff" stroke-width="2.3" fill="none" stroke-linejoin="round" stroke-linecap="round"/></g>
<g clip-path="url(#caR)"><path transform="scale(0.7174,1)" d="M549.4,96.3 L549.7,94.7 L550.0,93.1 L550.3,91.3 L550.6,89.4 L551.0,87.4 L551.3,85.3 L551.6,83.0 L551.9,80.5 L552.3,77.8 L552.6,74.9 L552.9,71.8 L553.2,68.6 L553.6,65.4 L553.9,62.2 L554.2,59.1 L554.5,56.1 L554.9,53.4 L555.2,50.9 L555.5,48.5 L555.8,46.4 L556.1,44.4 L556.5,42.5 L556.8,40.7 L557.1,39.0 L557.4,37.4 L557.8,35.9 L558.1,34.7 L558.4,33.8 L558.7,33.2 L559.1,33.0 L559.4,33.1 L559.7,33.7 L560.0,34.5 L560.4,35.7 L560.7,37.1 L561.0,38.6 L561.3,40.3 L561.6,42.1 L562.0,44.0 L562.3,46.0 L562.6,48.1 L562.9,50.4 L563.3,52.9 L563.6,55.6 L563.9,58.5 L564.2,61.6 L564.6,64.7 L564.9,68.0 L565.2,71.2 L565.5,74.3 L565.9,77.2 L566.2,80.0 L566.5,82.5 L566.8,84.8 L567.1,87.0 L567.5,89.0 L567.8,90.9 L568.1,92.7 L568.4,94.4 L568.8,96.0 L569.1,97.4 L569.4,98.6 L569.7,99.6 L570.1,100.2 L570.4,100.4 L570.7,100.2 L571.0,99.7 L571.4,98.8 L571.7,97.7 L572.0,96.3 L572.3,94.7 L572.6,93.1 L573.0,91.3 L573.3,89.4 L573.6,87.4 L573.9,85.3 L574.3,83.0 L574.6,80.5 L574.9,77.8 L575.2,74.9 L575.6,71.8 L575.9,68.6 L576.2,65.4 L576.5,62.2 L576.8,59.1 L577.2,56.1 L577.5,53.4 L577.8,50.9 L578.1,48.5 L578.5,46.4 L578.8,44.4 L579.1,42.5 L579.4,40.7 L579.8,39.0 L580.1,37.4 L580.4,35.9 L580.7,34.7 L581.1,33.8 L581.4,33.2 L581.7,33.0 L582.0,33.1 L582.3,33.7 L582.7,34.5 L583.0,35.7 L583.3,37.1 L583.6,38.6 L584.0,40.3 L584.3,42.1 L584.6,44.0 L584.9,46.0 L585.3,48.1 L585.6,50.4 L585.9,52.9 L586.2,55.6 L586.6,58.5 L586.9,61.6 L587.2,64.7 L587.5,68.0 L587.8,71.2 L588.2,74.3 L588.5,77.2 L588.8,80.0 L589.1,82.5 L589.5,84.8 L589.8,87.0 L590.1,89.0 L590.4,90.9 L590.8,92.7 L591.1,94.4 L591.4,96.0 L591.7,97.4 L592.1,98.6 L592.4,99.6 L592.7,100.2 L593.0,100.4 L593.3,100.2 L593.7,99.7 L594.0,98.8 L594.3,97.7 L594.6,96.3 L595.0,94.7 L595.3,93.1 L595.6,91.3 L595.9,89.4 L596.3,87.4 L596.6,85.3 L596.9,83.0 L597.2,80.5 L597.6,77.8 L597.9,74.9 L598.2,71.8 L598.5,68.6 L598.8,65.4 L599.2,62.2 L599.5,59.1 L599.8,56.1 L600.1,53.4 L600.5,50.9 L600.8,48.5 L601.1,46.4 L601.4,44.4 L601.8,42.5 L602.1,40.7 L602.4,39.0 L602.7,37.4 L603.1,35.9 L603.4,34.7 L603.7,33.8 L604.0,33.2 L604.3,33.0 L604.7,33.1 L605.0,33.7 L605.3,34.5 L605.6,35.7 L606.0,37.1 L606.3,38.6 L606.6,40.3 L606.9,42.1 L607.3,44.0 L607.6,46.0 L607.9,48.1 L608.2,50.4 L608.6,52.9 L608.9,55.6 L609.2,58.5 L609.5,61.6 L609.8,64.7 L610.2,68.0 L610.5,71.2 L610.8,74.3 L611.1,77.2 L611.5,80.0 L611.8,82.5 L612.1,84.8 L612.4,87.0 L612.8,89.0 L613.1,90.9 L613.4,92.7 L613.7,94.4 L614.1,96.0 L614.4,97.4 L614.7,98.6 L615.0,99.6 L615.3,100.2 L615.7,100.4 L616.0,100.2 L616.3,99.7 L616.6,98.8 L617.0,97.7 L617.3,96.3 L617.6,94.7 L617.9,93.1 L618.3,91.3 L618.6,89.4 L618.9,87.4 L619.2,85.3 L619.6,83.0 L619.9,80.5 L620.2,77.8 L620.5,74.9 L620.8,71.8 L621.2,68.6 L621.5,65.4 L621.8,62.2 L622.1,59.1 L622.5,56.1 L622.8,53.4 L623.1,50.9 L623.4,48.5 L623.8,46.4 L624.1,44.4 L624.4,42.5 L624.7,40.7 L625.1,39.0 L625.4,37.4 L625.7,35.9 L626.0,34.7 L626.3,33.8 L626.7,33.2 L627.0,33.0 L627.3,33.1 L627.6,33.7 L628.0,34.5 L628.3,35.7 L628.6,37.1 L628.9,38.6 L629.3,40.3 L629.6,42.1 L629.9,44.0 L630.2,46.0 L630.6,48.1 L630.9,50.4 L631.2,52.9 L631.5,55.6 L631.8,58.5 L632.2,61.6 L632.5,64.7 L632.8,68.0 L633.1,71.2 L633.5,74.3 L633.8,77.2 L634.1,80.0 L634.4,82.5 L634.8,84.8 L635.1,87.0 L635.4,89.0 L635.7,90.9 L636.1,92.7 L636.4,94.4 L636.7,96.0 L637.0,97.4 L637.3,98.6 L637.7,99.6 L638.0,100.2 L638.3,100.4 L638.6,100.2 L639.0,99.7 L639.3,98.8 L639.6,97.7 L639.9,96.3 L640.3,94.7 L640.6,93.1 L640.9,91.3 L641.2,89.4 L641.6,87.4 L641.9,85.3 L642.2,83.0 L642.5,80.5 L642.8,77.8 L643.2,74.9 L643.5,71.8 L643.8,68.6 L644.1,65.4 L644.5,62.2 L644.8,59.1 L645.1,56.1 L645.4,53.4 L645.8,50.9 L646.1,48.5 L646.4,46.4 L646.7,44.4 L647.1,42.5 L647.4,40.7 L647.7,39.0 L648.0,37.4 L648.3,35.9 L648.7,34.7 L649.0,33.8 L649.3,33.2 L649.6,33.0 L650.0,33.1 L650.3,33.7 L650.6,34.5 L650.9,35.7 L651.3,37.1 L651.6,38.6 L651.9,40.3 L652.2,42.1 L652.6,44.0 L652.9,46.0 L653.2,48.1 L653.5,50.4 L653.8,52.9 L654.2,55.6 L654.5,58.5 L654.8,61.6 L655.1,64.7 L655.5,68.0 L655.8,71.2 L656.1,74.3 L656.4,77.2 L656.8,80.0 L657.1,82.5 L657.4,84.8 L657.7,87.0 L658.1,89.0 L658.4,90.9 L658.7,92.7 L659.0,94.4 L659.3,96.0 L659.7,97.4 L660.0,98.6 L660.3,99.6 L660.6,100.2 L661.0,100.4 L661.3,100.2 L661.6,99.7 L661.9,98.8 L662.3,97.7 L662.6,96.3 L662.9,94.7 L663.2,93.1 L663.5,91.3 L663.9,89.4 L664.2,87.4 L664.5,85.3 L664.8,83.0 L665.2,80.5 L665.5,77.8 L665.8,74.9 L666.1,71.8 L666.5,68.6 L666.8,65.4 L667.1,62.2 L667.4,59.1 L667.8,56.1 L668.1,53.4 L668.4,50.9 L668.7,48.5 L669.0,46.4 L669.4,44.4 L669.7,42.5 L670.0,40.7 L670.3,39.0 L670.7,37.4 L671.0,35.9 L671.3,34.7 L671.6,33.8 L672.0,33.2 L672.3,33.0 L672.6,33.1 L672.9,33.7 L673.3,34.5 L673.6,35.7 L673.9,37.1 L674.2,38.6 L674.5,40.3 L674.9,42.1 L675.2,44.0 L675.5,46.0 L675.8,48.1 L676.2,50.4 L676.5,52.9 L676.8,55.6 L677.1,58.5 L677.5,61.6 L677.8,64.7 L678.1,68.0 L678.4,71.2 L678.8,74.3 L679.1,77.2 L679.4,80.0 L679.7,82.5 L680.0,84.8 L680.4,87.0 L680.7,89.0 L681.0,90.9 L681.3,92.7 L681.7,94.4 L682.0,96.0 L682.3,97.4 L682.6,98.6 L683.0,99.6 L683.3,100.2 L683.6,100.4 L683.9,100.2 L684.3,99.7 L684.6,98.8 L684.9,97.7 L685.2,96.3 L685.5,94.7 L685.9,93.1 L686.2,91.3 L686.5,89.4 L686.8,87.4 L687.2,85.3 L687.5,83.0 L687.8,80.5 L688.1,77.8 L688.5,74.9 L688.8,71.8 L689.1,68.6 L689.4,65.4 L689.8,62.2 L690.1,59.1 L690.4,56.1 L690.7,53.4 L691.0,50.9 L691.4,48.5 L691.7,46.4 L692.0,44.4 L692.3,42.5 L692.7,40.7 L693.0,39.0 L693.3,37.4 L693.6,35.9 L694.0,34.7 L694.3,33.8 L694.6,33.2 L694.9,33.0 L695.3,33.1 L695.6,33.7 L695.9,34.5 L696.2,35.7 L696.5,37.1 L696.9,38.6 L697.2,40.3 L697.5,42.1 L697.8,44.0 L698.2,46.0 L698.5,48.1 L698.8,50.4 L699.1,52.9 L699.5,55.6 L699.8,58.5 L700.1,61.6 L700.4,64.7 L700.8,68.0 L701.1,71.2 L701.4,74.3 L701.7,77.2 L702.0,80.0 L702.4,82.5 L702.7,84.8 L703.0,87.0 L703.3,89.0 L703.7,90.9 L704.0,92.7 L704.3,94.4 L704.6,96.0 L705.0,97.4 L705.3,98.6 L705.6,99.6 L705.9,100.2 L706.3,100.4 L706.6,100.2 L706.9,99.7 L707.2,98.8 L707.5,97.7 L707.9,96.3 L708.2,94.7 L708.5,93.1 L708.8,91.3 L709.2,89.4 L709.5,87.4 L709.8,85.3 L710.1,83.0 L710.5,80.5 L710.8,77.8 L711.1,74.9 L711.4,71.8 L711.8,68.6 L712.1,65.4 L712.4,62.2 L712.7,59.1 L713.0,56.1 L713.4,53.4 L713.7,50.9 L714.0,48.5 L714.3,46.4 L714.7,44.4 L715.0,42.5 L715.3,40.7 L715.6,39.0 L716.0,37.4 L716.3,35.9 L716.6,34.7 L716.9,33.8 L717.3,33.2 L717.6,33.0 L717.9,33.1 L718.2,33.7 L718.5,34.5 L718.9,35.7 L719.2,37.1 L719.5,38.6 L719.8,40.3 L720.2,42.1 L720.5,44.0 L720.8,46.0 L721.1,48.1 L721.5,50.4 L721.8,52.9 L722.1,55.6 L722.4,58.5 L722.8,61.6 L723.1,64.7 L723.4,68.0 L723.7,71.2 L724.0,74.3 L724.4,77.2 L724.7,80.0 L725.0,82.5 L725.3,84.8 L725.7,87.0 L726.0,89.0 L726.3,90.9 L726.6,92.7 L727.0,94.4 L727.3,96.0 L727.6,97.4 L727.9,98.6 L728.3,99.6 L728.6,100.2 L728.9,100.4 L729.2,100.2 L729.5,99.7 L729.9,98.8 L730.2,97.7 L730.5,96.3 L730.8,94.7 L731.2,93.1 L731.5,91.3 L731.8,89.4 L732.1,87.4 L732.5,85.3 L732.8,83.0 L733.1,80.5 L733.4,77.8 L733.8,74.9 L734.1,71.8 L734.4,68.6 L734.7,65.4 L735.0,62.2 L735.4,59.1 L735.7,56.1 L736.0,53.4 L736.3,50.9 L736.7,48.5 L737.0,46.4 L737.3,44.4 L737.6,42.5 L738.0,40.7 L738.3,39.0 L738.6,37.4 L738.9,35.9 L739.3,34.7 L739.6,33.8 L739.9,33.2 L740.2,33.0 L740.5,33.1 L740.9,33.7 L741.2,34.5 L741.5,35.7 L741.8,37.1 L742.2,38.6 L742.5,40.3 L742.8,42.1 L743.1,44.0 L743.5,46.0 L743.8,48.1 L744.1,50.4 L744.4,52.9 L744.8,55.6 L745.1,58.5 L745.4,61.6 L745.7,64.7 L746.0,68.0 L746.4,71.2 L746.7,74.3 L747.0,77.2 L747.3,80.0 L747.7,82.5 L748.0,84.8 L748.3,87.0 L748.6,89.0 L749.0,90.9 L749.3,92.7 L749.6,94.4 L749.9,96.0 L750.2,97.4 L750.6,98.6 L750.9,99.6 L751.2,100.2 L751.5,100.4 L751.9,100.2 L752.2,99.7 L752.5,98.8 L752.8,97.7 L753.2,96.3 L753.5,94.7 L753.8,93.1 L754.1,91.3 L754.5,89.4 L754.8,87.4 L755.1,85.3 L755.4,83.0 L755.7,80.5 L756.1,77.8 L756.4,74.9 L756.7,71.8 L757.0,68.6 L757.4,65.4 L757.7,62.2 L758.0,59.1 L758.3,56.1 L758.7,53.4 L759.0,50.9 L759.3,48.5 L759.6,46.4 L760.0,44.4 L760.3,42.5 L760.6,40.7 L760.9,39.0 L761.2,37.4 L761.6,35.9 L761.9,34.7 L762.2,33.8 L762.5,33.2 L762.9,33.0 L763.2,33.1 L763.5,33.7 L763.8,34.5 L764.2,35.7 L764.5,37.1 L764.8,38.6 L765.1,40.3 L765.5,42.1 L765.8,44.0 L766.1,46.0 L766.4,48.1 L766.7,50.4 L767.1,52.9 L767.4,55.6 L767.7,58.5 L768.0,61.6 L768.4,64.7 L768.7,68.0 L769.0,71.2 L769.3,74.3 L769.7,77.2 L770.0,80.0 L770.3,82.5 L770.6,84.8 L771.0,87.0 L771.3,89.0 L771.6,90.9 L771.9,92.7 L772.2,94.4 L772.6,96.0 L772.9,97.4 L773.2,98.6 L773.5,99.6 L773.9,100.2 L774.2,100.4 L774.5,100.2 L774.8,99.7 L775.2,98.8 L775.5,97.7 L775.8,96.3 L776.1,94.7 L776.5,93.1 L776.8,91.3 L777.1,89.4 L777.4,87.4 L777.7,85.3 L778.1,83.0 L778.4,80.5 L778.7,77.8 L779.0,74.9 L779.4,71.8 L779.7,68.6 L780.0,65.4 L780.3,62.2 L780.7,59.1 L781.0,56.1 L781.3,53.4 L781.6,50.9 L782.0,48.5 L782.3,46.4 L782.6,44.4 L782.9,42.5 L783.2,40.7 L783.6,39.0 L783.9,37.4 L784.2,35.9 L784.5,34.7 L784.9,33.8 L785.2,33.2 L785.5,33.0 L785.8,33.1 L786.2,33.7 L786.5,34.5 L786.8,35.7 L787.1,37.1 L787.5,38.6 L787.8,40.3 L788.1,42.1 L788.4,44.0 L788.7,46.0 L789.1,48.1 L789.4,50.4 L789.7,52.9 L790.0,55.6 L790.4,58.5 L790.7,61.6 L791.0,64.7 L791.3,68.0 L791.7,71.2 L792.0,74.3 L792.3,77.2 L792.6,80.0 L793.0,82.5 L793.3,84.8 L793.6,87.0 L793.9,89.0 L794.2,90.9 L794.6,92.7 L794.9,94.4 L795.2,96.0 L795.5,97.4 L795.9,98.6 L796.2,99.6 L796.5,100.2 L796.8,100.4 L797.2,100.2 L797.5,99.7 L797.8,98.8 L798.1,97.7 L798.5,96.3 L798.8,94.7 L799.1,93.1 L799.4,91.3 L799.7,89.4 L800.1,87.4 L800.4,85.3 L800.7,83.0 L801.0,80.5 L801.4,77.8 L801.7,74.9 L802.0,71.8 L802.3,68.6 L802.7,65.4 L803.0,62.2 L803.3,59.1 L803.6,56.1 L804.0,53.4 L804.3,50.9 L804.6,48.5 L804.9,46.4 L805.2,44.4 L805.6,42.5 L805.9,40.7 L806.2,39.0 L806.5,37.4 L806.9,35.9 L807.2,34.7 L807.5,33.8 L807.8,33.2 L808.2,33.0 L808.5,33.1 L808.8,33.7 L809.1,34.5 L809.5,35.7 L809.8,37.1 L810.1,38.6 L810.4,40.3 L810.7,42.1 L811.1,44.0 L811.4,46.0 L811.7,48.1 L812.0,50.4 L812.4,52.9 L812.7,55.6 L813.0,58.5 L813.3,61.6 L813.7,64.7 L814.0,68.0 L814.3,71.2 L814.6,74.3 L815.0,77.2 L815.3,80.0 L815.6,82.5 L815.9,84.8 L816.2,87.0 L816.6,89.0 L816.9,90.9 L817.2,92.7 L817.5,94.4 L817.9,96.0 L818.2,97.4 L818.5,98.6 L818.8,99.6 L819.2,100.2 L819.5,100.4 L819.8,100.2 L820.1,99.7 L820.5,98.8 L820.8,97.7 L821.1,96.3 L821.4,94.7 L821.7,93.1 L822.1,91.3 L822.4,89.4 L822.7,87.4 L823.0,85.3 L823.4,83.0 L823.7,80.5 L824.0,77.8 L824.3,74.9 L824.7,71.8 L825.0,68.6 L825.3,65.4 L825.6,62.2 L826.0,59.1 L826.3,56.1 L826.6,53.4 L826.9,50.9 L827.2,48.5 L827.6,46.4 L827.9,44.4 L828.2,42.5 L828.5,40.7 L828.9,39.0 L829.2,37.4 L829.5,35.9 L829.8,34.7 L830.2,33.8 L830.5,33.2 L830.8,33.0 L831.1,33.1 L831.5,33.7 L831.8,34.5 L832.1,35.7 L832.4,37.1 L832.7,38.6 L833.1,40.3 L833.4,42.1 L833.7,44.0 L834.0,46.0 L834.4,48.1 L834.7,50.4 L835.0,52.9 L835.3,55.6 L835.7,58.5 L836.0,61.6 L836.3,64.7 L836.6,68.0 L836.9,71.2 L837.3,74.3 L837.6,77.2 L837.9,80.0 L838.2,82.5 L838.6,84.8 L838.9,87.0 L839.2,89.0 L839.5,90.9 L839.9,92.7 L840.2,94.4 L840.5,96.0 L840.8,97.4 L841.2,98.6 L841.5,99.6 L841.8,100.2 L842.1,100.4 L842.4,100.2 L842.8,99.7 L843.1,98.8 L843.4,97.7 L843.7,96.3 L844.1,94.7 L844.4,93.1 L844.7,91.3 L845.0,89.4 L845.4,87.4 L845.7,85.3 L846.0,83.0 L846.3,80.5 L846.7,77.8 L847.0,74.9 L847.3,71.8 L847.6,68.6 L847.9,65.4 L848.3,62.2 L848.6,59.1 L848.9,56.1 L849.2,53.4 L849.6,50.9 L849.9,48.5 L850.2,46.4 L850.5,44.4 L850.9,42.5 L851.2,40.7 L851.5,39.0 L851.8,37.4 L852.2,35.9 L852.5,34.7 L852.8,33.8 L853.1,33.2 L853.4,33.0 L853.8,33.1 L854.1,33.7 L854.4,34.5 L854.7,35.7 L855.1,37.1 L855.4,38.6 L855.7,40.3 L856.0,42.1 L856.4,44.0 L856.7,46.0 L857.0,48.1 L857.3,50.4 L857.7,52.9 L858.0,55.6 L858.3,58.5 L858.6,61.6 L858.9,64.7 L859.3,68.0 L859.6,71.2 L859.9,74.3 L860.2,77.2 L860.6,80.0 L860.9,82.5 L861.2,84.8 L861.5,87.0 L861.9,89.0 L862.2,90.9 L862.5,92.7 L862.8,94.4 L863.2,96.0 L863.5,97.4 L863.8,98.6 L864.1,99.6 L864.4,100.2 L864.8,100.4 L865.1,100.2 L865.4,99.7 L865.7,98.8 L866.1,97.7 L866.4,96.3 L866.7,94.7 L867.0,93.1 L867.4,91.3 L867.7,89.4 L868.0,87.4 L868.3,85.3 L868.7,83.0 L869.0,80.5 L869.3,77.8 L869.6,74.9 L869.9,71.8 L870.3,68.6 L870.6,65.4 L870.9,62.2 L871.2,59.1 L871.6,56.1 L871.9,53.4 L872.2,50.9 L872.5,48.5 L872.9,46.4 L873.2,44.4 L873.5,42.5 L873.8,40.7 L874.2,39.0 L874.5,37.4 L874.8,35.9 L875.1,34.7 L875.4,33.8 L875.8,33.2 L876.1,33.0 L876.4,33.1 L876.7,33.7 L877.1,34.5 L877.4,35.7 L877.7,37.1 L878.0,38.6 L878.4,40.3 L878.7,42.1 L879.0,44.0 L879.3,46.0 L879.7,48.1 L880.0,50.4 L880.3,52.9 L880.6,55.6 L880.9,58.5 L881.3,61.6 L881.6,64.7 L881.9,68.0 L882.2,71.2 L882.6,74.3 L882.9,77.2 L883.2,80.0 L883.5,82.5 L883.9,84.8 L884.2,87.0 L884.5,89.0 L884.8,90.9 L885.2,92.7 L885.5,94.4 L885.8,96.0 L886.1,97.4 L886.4,98.6 L886.8,99.6 L887.1,100.2 L887.4,100.4 L887.7,100.2 L888.1,99.7 L888.4,98.8 L888.7,97.7 L889.0,96.3 L889.4,94.7 L889.7,93.1 L890.0,91.3 L890.3,89.4 L890.7,87.4 L891.0,85.3 L891.3,83.0 L891.6,80.5 L891.9,77.8 L892.3,74.9 L892.6,71.8 L892.9,68.6 L893.2,65.4 L893.6,62.2 L893.9,59.1 L894.2,56.1 L894.5,53.4 L894.9,50.9 L895.2,48.5 L895.5,46.4 L895.8,44.4 L896.2,42.5 L896.5,40.7 L896.8,39.0 L897.1,37.4 L897.4,35.9 L897.8,34.7 L898.1,33.8 L898.4,33.2 L898.7,33.0 L899.1,33.1 L899.4,33.7 L899.7,34.5 L900.0,35.7 L900.4,37.1 L900.7,38.6 L901.0,40.3 L901.3,42.1 L901.7,44.0 L902.0,46.0 L902.3,48.1 L902.6,50.4 L902.9,52.9 L903.3,55.6 L903.6,58.5 L903.9,61.6 L904.2,64.7 L904.6,68.0 L904.9,71.2 L905.2,74.3 L905.5,77.2 L905.9,80.0 L906.2,82.5 L906.5,84.8 L906.8,87.0 L907.2,89.0 L907.5,90.9 L907.8,92.7 L908.1,94.4 L908.4,96.0 L908.8,97.4 L909.1,98.6 L909.4,99.6 L909.7,100.2 L910.1,100.4 L910.4,100.2 L910.7,99.7 L911.0,98.8 L911.4,97.7 L911.7,96.3 L912.0,94.7 L912.3,93.1 L912.7,91.3 L913.0,89.4 L913.3,87.4 L913.6,85.3 L913.9,83.0 L914.3,80.5 L914.6,77.8 L914.9,74.9 L915.2,71.8 L915.6,68.6 L915.9,65.4 L916.2,62.2 L916.5,59.1 L916.9,56.1 L917.2,53.4 L917.5,50.9 L917.8,48.5 L918.2,46.4 L918.5,44.4 L918.8,42.5 L919.1,40.7 L919.4,39.0 L919.8,37.4 L920.1,35.9 L920.4,34.7 L920.7,33.8 L921.1,33.2 L921.4,33.0 L921.7,33.1 L922.0,33.7 L922.4,34.5 L922.7,35.7 L923.0,37.1 L923.3,38.6 L923.6,40.3 L924.0,42.1 L924.3,44.0 L924.6,46.0 L924.9,48.1 L925.3,50.4 L925.6,52.9 L925.9,55.6 L926.2,58.5 L926.6,61.6 L926.9,64.7 L927.2,68.0 L927.5,71.2 L927.9,74.3 L928.2,77.2 L928.5,80.0 L928.8,82.5 L929.1,84.8 L929.5,87.0 L929.8,89.0 L930.1,90.9 L930.4,92.7 L930.8,94.4 L931.1,96.0 L931.4,97.4 L931.7,98.6 L932.1,99.6 L932.4,100.2 L932.7,100.4 L933.0,100.2 L933.4,99.7 L933.7,98.8 L934.0,97.7 L934.3,96.3 L934.6,94.7 L935.0,93.1 L935.3,91.3 L935.6,89.4 L935.9,87.4 L936.3,85.3 L936.6,83.0 L936.9,80.5 L937.2,77.8 L937.6,74.9 L937.9,71.8 L938.2,68.6 L938.5,65.4 L938.9,62.2 L939.2,59.1 L939.5,56.1 L939.8,53.4 L940.1,50.9 L940.5,48.5 L940.8,46.4 L941.1,44.4 L941.4,42.5 L941.8,40.7 L942.1,39.0 L942.4,37.4 L942.7,35.9 L943.1,34.7 L943.4,33.8 L943.7,33.2 L944.0,33.0 L944.4,33.1 L944.7,33.7 L945.0,34.5 L945.3,35.7 L945.6,37.1" stroke="#ff0000" stroke-width="2.3" fill="none" stroke-linejoin="round" stroke-linecap="round"/></g>
<g clip-path="url(#cbL)"><path transform="scale(0.5667,1)" d="M77.6,214.1 L78.1,214.0 L78.5,213.9 L78.9,213.8 L79.3,213.8 L79.7,213.8 L80.1,213.8 L80.5,213.8 L80.9,213.7 L81.3,213.6 L81.7,213.3 L82.1,213.0 L82.5,212.7 L82.9,212.4 L83.4,212.2 L83.8,212.1 L84.2,212.1 L84.6,212.2 L85.0,212.4 L85.4,212.6 L85.8,212.7 L86.2,212.9 L86.6,213.0 L87.0,213.0 L87.4,213.1 L87.8,213.2 L88.3,213.3 L88.7,213.5 L89.1,213.7 L89.5,213.9 L89.9,214.2 L90.3,214.3 L90.7,214.4 L91.1,214.4 L91.5,214.3 L91.9,214.2 L92.3,214.0 L92.7,213.9 L93.1,214.0 L93.6,214.1 L94.0,214.3 L94.4,214.5 L94.8,214.8 L95.2,215.1 L95.6,215.3 L96.0,215.4 L96.4,215.5 L96.8,215.5 L97.2,215.6 L97.6,215.6 L98.0,215.7 L98.4,215.8 L98.9,216.0 L99.3,216.1 L99.7,216.1 L100.1,216.1 L100.5,215.9 L100.9,215.7 L101.3,215.4 L101.7,215.0 L102.1,214.7 L102.5,214.5 L102.9,214.3 L103.3,214.3 L103.7,214.3 L104.2,214.4 L104.6,214.4 L105.0,214.4 L105.4,214.4 L105.8,214.3 L106.2,214.1 L106.6,214.0 L107.0,213.9 L107.4,213.8 L107.8,213.8 L108.2,213.8 L108.6,213.8 L109.0,213.8 L109.5,213.7 L109.9,213.6 L110.3,213.3 L110.7,213.0 L111.1,212.7 L111.5,212.4 L111.9,212.2 L112.3,212.1 L112.7,212.1 L113.1,212.2 L113.5,212.4 L113.9,212.6 L114.4,212.7 L114.8,212.9 L115.2,213.0 L115.6,213.0 L116.0,213.1 L116.4,213.2 L116.8,213.3 L117.2,213.5 L117.6,213.7 L118.0,213.9 L118.4,214.2 L118.8,214.3 L119.2,214.4 L119.7,214.4 L120.1,214.3 L120.5,214.2 L120.9,214.0 L121.3,213.9 L121.7,214.0 L122.1,214.1 L122.5,214.3 L122.9,214.5 L123.3,214.8 L123.7,215.1 L124.1,215.3 L124.5,215.4 L125.0,215.5 L125.4,215.5 L125.8,215.6 L126.2,215.6 L126.6,215.7 L127.0,215.8 L127.4,216.0 L127.8,216.1 L128.2,216.1 L128.6,216.1 L129.0,215.9 L129.4,215.7 L129.8,215.4 L130.3,215.0 L130.7,214.7 L131.1,214.5 L131.5,214.3 L131.9,214.3 L132.3,214.3 L132.7,214.4 L133.1,214.4 L133.5,214.4 L133.9,214.4 L134.3,214.3 L134.7,214.1 L135.2,214.0 L135.6,213.9 L136.0,213.8 L136.4,213.8 L136.8,213.8 L137.2,213.8 L137.6,213.8 L138.0,213.7 L138.4,213.6 L138.8,213.3 L139.2,213.0 L139.6,212.7 L140.0,212.4 L140.5,212.2 L140.9,212.1 L141.3,212.1 L141.7,212.2 L142.1,212.4 L142.5,212.6 L142.9,212.7 L143.3,212.9 L143.7,213.0 L144.1,213.0 L144.5,213.1 L144.9,213.2 L145.3,213.3 L145.8,213.5 L146.2,213.7 L146.6,213.9 L147.0,214.2 L147.4,214.3 L147.8,214.4 L148.2,214.4 L148.6,214.3 L149.0,214.2 L149.4,214.2 L149.8,214.5 L150.2,215.1 L150.6,215.9 L151.1,216.9 L151.5,218.1 L151.9,219.4 L152.3,220.8 L152.7,222.3 L153.1,223.9 L153.5,225.6 L153.9,227.3 L154.3,229.0 L154.7,230.8 L155.1,232.4 L155.5,234.0 L155.9,235.3 L156.4,236.3 L156.8,237.1 L157.2,237.5 L157.6,237.7 L158.0,237.5 L158.4,237.2 L158.8,236.6 L159.2,235.9 L159.6,235.0 L160.0,234.0 L160.4,232.8 L160.8,231.3 L161.3,229.6 L161.7,227.6 L162.1,225.3 L162.5,222.7 L162.9,219.7 L163.3,216.5 L163.7,213.1 L164.1,209.6 L164.5,206.2 L164.9,202.8 L165.3,199.5 L165.7,196.5 L166.1,193.6 L166.6,190.9 L167.0,188.4 L167.4,186.0 L167.8,183.6 L168.2,181.4 L168.6,179.3 L169.0,177.4 L169.4,175.8 L169.8,174.5 L170.2,173.7 L170.6,173.3 L171.0,173.3 L171.4,173.9 L171.9,174.9 L172.3,176.3 L172.7,177.9 L173.1,179.8 L173.5,181.8 L173.9,184.0 L174.3,186.2 L174.7,188.6 L175.1,191.1 L175.5,193.8 L175.9,196.8 L176.3,200.1 L176.7,203.6 L177.2,207.4 L177.6,211.3 L178.0,215.4 L178.4,219.4 L178.8,223.2 L179.2,226.9 L179.6,230.3 L180.0,233.5 L180.4,236.3 L180.8,239.0 L181.2,241.5 L181.6,243.8 L182.1,246.1 L182.5,248.2 L182.9,250.3 L183.3,252.1 L183.7,253.7 L184.1,255.0 L184.5,255.8 L184.9,256.2 L185.3,256.1 L185.7,255.5 L186.1,254.4 L186.5,253.0 L186.9,251.3 L187.4,249.3 L187.8,247.3 L188.2,245.1 L188.6,242.8 L189.0,240.3 L189.4,237.7 L189.8,234.9 L190.2,231.9 L190.6,228.5 L191.0,224.9 L191.4,221.1 L191.8,217.0 L192.2,212.9 L192.7,208.8 L193.1,204.9 L193.5,201.1 L193.9,197.6 L194.3,194.4 L194.7,191.5 L195.1,188.8 L195.5,186.2 L195.9,183.8 L196.3,181.6 L196.7,179.4 L197.1,177.3 L197.5,175.4 L198.0,173.8 L198.4,172.5 L198.8,171.7 L199.2,171.3 L199.6,171.5 L200.0,172.1 L200.4,173.2 L200.8,174.6 L201.2,176.4 L201.6,178.4 L202.0,180.5 L202.4,182.7 L202.8,185.1 L203.3,187.5 L203.7,190.2 L204.1,193.0 L204.5,196.1 L204.9,199.5 L205.3,203.2 L205.7,207.1 L206.1,211.2 L206.5,215.4 L206.9,219.5 L207.3,223.5 L207.7,227.3 L208.2,230.9 L208.6,234.1 L209.0,237.1 L209.4,239.8 L209.8,242.4 L210.2,244.8 L210.6,247.1 L211.0,249.3 L211.4,251.4 L211.8,253.3 L212.2,254.9 L212.6,256.1 L213.0,257.0 L213.5,257.3 L213.9,257.2 L214.3,256.5 L214.7,255.4 L215.1,253.9 L215.5,252.2 L215.9,250.2 L216.3,248.0 L216.7,245.7 L217.1,243.4 L217.5,240.9 L217.9,238.2 L218.3,235.3 L218.8,232.2 L219.2,228.8 L219.6,225.1 L220.0,221.2 L220.4,217.1 L220.8,212.9 L221.2,208.8 L221.6,204.8 L222.0,201.0 L222.4,197.4 L222.8,194.2 L223.2,191.2 L223.6,188.5 L224.1,185.9 L224.5,183.5 L224.9,181.2 L225.3,179.0 L225.7,177.0 L226.1,175.1 L226.5,173.5 L226.9,172.3 L227.3,171.4 L227.7,171.1 L228.1,171.2 L228.5,171.9 L229.0,173.0 L229.4,174.5 L229.8,176.3 L230.2,178.3 L230.6,180.4 L231.0,182.7 L231.4,185.0 L231.8,187.5 L232.2,190.2 L232.6,193.0 L233.0,196.2 L233.4,199.6 L233.8,203.2 L234.3,207.2 L234.7,211.2 L235.1,215.4 L235.5,219.5 L235.9,223.5 L236.3,227.3 L236.7,230.8 L237.1,234.0 L237.5,237.0 L237.9,239.7 L238.3,242.2 L238.7,244.6 L239.1,246.9 L239.6,249.1 L240.0,251.1 L240.4,253.0 L240.8,254.6 L241.2,255.8 L241.6,256.6 L242.0,257.0 L242.4,256.8 L242.8,256.2 L243.2,255.1 L243.6,253.6 L244.0,251.8 L244.4,249.8 L244.9,247.7 L245.3,245.4 L245.7,243.1 L246.1,240.6 L246.5,238.0 L246.9,235.1 L247.3,232.0 L247.7,228.6 L248.1,225.0 L248.5,221.1 L248.9,217.0 L249.3,212.9 L249.8,208.8 L250.2,204.9 L250.6,201.1 L251.0,197.6 L251.4,194.4 L251.8,191.5 L252.2,188.8 L252.6,186.3 L253.0,183.9 L253.4,181.6 L253.8,179.5 L254.2,177.4 L254.6,175.6 L255.1,174.0 L255.5,172.8 L255.9,172.0 L256.3,171.6 L256.7,171.8 L257.1,172.4 L257.5,173.5 L257.9,175.0 L258.3,176.8 L258.7,178.7 L259.1,180.9 L259.5,183.1 L259.9,185.4 L260.4,187.9 L260.8,190.5 L261.2,193.3 L261.6,196.4 L262.0,199.8 L262.4,203.4 L262.8,207.3 L263.2,211.3 L263.6,215.4 L264.0,219.4 L264.4,223.4 L264.8,227.1 L265.2,230.6 L265.7,233.7 L266.1,236.6 L266.5,239.3 L266.9,241.8 L267.3,244.2 L267.7,246.4 L268.1,248.6 L268.5,250.6 L268.9,252.4 L269.3,254.0 L269.7,255.2 L270.1,256.0 L270.5,256.4 L271.0,256.2 L271.4,255.6 L271.8,254.5 L272.2,253.0 L272.6,251.3 L273.0,249.3 L273.4,247.2 L273.8,245.0 L274.2,242.7 L274.6,240.2 L275.0,237.7 L275.4,234.8 L275.9,231.8 L276.3,228.4 L276.7,224.8 L277.1,221.0 L277.5,217.0 L277.9,212.9 L278.3,208.9 L278.7,205.0 L279.1,201.3 L279.5,197.8 L279.9,194.7 L280.3,191.8 L280.7,189.1 L281.2,186.6 L281.6,184.3 L282.0,182.1 L282.4,179.9 L282.8,177.9 L283.2,176.1 L283.6,174.5 L284.0,173.3 L284.4,172.5 L284.8,172.1 L285.2,172.3 L285.6,172.9 L286.0,174.0 L286.5,175.4 L286.9,177.2 L287.3,179.1 L287.7,181.2 L288.1,183.4 L288.5,185.7 L288.9,188.2 L289.3,190.8 L289.7,193.5 L290.1,196.6 L290.5,199.9 L290.9,203.5 L291.3,207.3 L291.8,211.3 L292.2,215.4 L292.6,219.4 L293.0,223.3 L293.4,227.0 L293.8,230.4 L294.2,233.6 L294.6,236.4 L295.0,239.1 L295.4,241.6 L295.8,243.9 L296.2,246.2 L296.7,248.3 L297.1,250.3 L297.5,252.1 L297.9,253.7 L298.3,254.9 L298.7,255.7 L299.1,256.1 L299.5,255.9 L299.9,255.3 L300.3,254.2 L300.7,252.8 L301.1,251.0 L301.5,249.1 L302.0,247.0 L302.4,244.8 L302.8,242.5 L303.2,240.1 L303.6,237.5 L304.0,234.7 L304.4,231.7 L304.8,228.4 L305.2,224.8 L305.6,221.0 L306.0,217.0 L306.4,212.9 L306.8,208.9 L307.3,205.0 L307.7,201.3 L308.1,197.9 L308.5,194.8 L308.9,191.9 L309.3,189.2 L309.7,186.8 L310.1,184.4 L310.5,182.2 L310.9,180.1 L311.3,178.1 L311.7,176.2 L312.1,174.7 L312.6,173.5 L313.0,172.7 L313.4,172.3 L313.8,172.5 L314.2,173.1 L314.6,174.2 L315.0,175.6 L315.4,177.3 L315.8,179.3 L316.2,181.4 L316.6,183.6 L317.0,185.8 L317.4,188.3 L317.9,190.8 L318.3,193.6 L318.7,196.7 L319.1,200.0 L319.5,203.5 L319.9,207.4 L320.3,211.3 L320.7,215.4 L321.1,219.4 L321.5,223.3 L321.9,226.9 L322.3,230.3 L322.8,233.5 L323.2,236.4 L323.6,239.0 L324.0,241.5 L324.4,243.8 L324.8,246.0 L325.2,248.2 L325.6,250.2 L326.0,252.0 L326.4,253.5 L326.8,254.8 L327.2,255.6 L327.6,255.9 L328.1,255.8 L328.5,255.1 L328.9,254.1 L329.3,252.6 L329.7,250.9 L330.1,249.0 L330.5,246.9 L330.9,244.7 L331.3,242.4 L331.7,240.0 L332.1,237.4 L332.5,234.6 L332.9,231.6 L333.4,228.3 L333.8,224.7 L334.2,220.9 L334.6,217.0 L335.0,212.9 L335.4,208.9 L335.8,205.1 L336.2,201.4 L336.6,198.0 L337.0,194.8 L337.4,192.0 L337.8,189.3 L338.2,186.9 L338.7,184.5 L339.1,182.3 L339.5,180.2 L339.9,178.2 L340.3,176.4 L340.7,174.8 L341.1,173.6 L341.5,172.8 L341.9,172.4 L342.3,172.6 L342.7,173.2 L343.1,174.3 L343.6,175.7 L344.0,177.5 L344.4,179.4 L344.8,181.5 L345.2,183.7 L345.6,185.9 L346.0,188.3 L346.4,190.9 L346.8,193.7 L347.2,196.7 L347.6,200.0 L348.0,203.6 L348.4,207.4 L348.9,211.3 L349.3,215.4 L349.7,219.4 L350.1,223.2 L350.5,226.9 L350.9,230.3 L351.3,233.4 L351.7,236.3 L352.1,238.9 L352.5,241.4 L352.9,243.7 L353.3,245.9 L353.7,248.1 L354.2,250.1 L354.6,251.9 L355.0,253.4 L355.4,254.6 L355.8,255.4 L356.2,255.8 L356.6,255.6 L357.0,255.0 L357.4,253.9 L357.8,252.5 L358.2,250.8 L358.6,248.9 L359.0,246.8 L359.5,244.6 L359.9,242.3 L360.3,239.9 L360.7,237.3 L361.1,234.6 L361.5,231.6 L361.9,228.3 L362.3,224.7 L362.7,220.9 L363.1,217.0 L363.5,212.9 L363.9,209.0 L364.3,205.1 L364.8,201.4 L365.2,198.0 L365.6,194.9 L366.0,192.0 L366.4,189.4 L366.8,186.9 L367.2,184.6 L367.6,182.4 L368.0,180.3 L368.4,178.3 L368.8,176.5 L369.2,174.9 L369.7,173.7 L370.1,172.9 L370.5,172.6 L370.9,172.7 L371.3,173.4 L371.7,174.4 L372.1,175.8 L372.5,177.6 L372.9,179.5 L373.3,181.6 L373.7,183.7 L374.1,186.0 L374.5,188.4 L375.0,191.0 L375.4,193.8 L375.8,196.8 L376.2,200.1 L376.6,203.6 L377.0,207.4 L377.4,211.3 L377.8,215.4 L378.2,219.3 L378.6,223.2 L379.0,226.9 L379.4,230.2 L379.8,233.4 L380.3,236.2 L380.7,238.9 L381.1,241.3 L381.5,243.6 L381.9,245.9 L382.3,248.0 L382.7,250.0 L383.1,251.8 L383.5,253.3 L383.9,254.5 L384.3,255.3 L384.7,255.7 L385.1,255.5 L385.6,254.9 L386.0,253.8 L386.4,252.4 L386.8,250.7 L387.2,248.8 L387.6,246.7 L388.0,244.5 L388.4,242.2 L388.8,239.8 L389.2,237.3 L389.6,234.5 L390.0,231.5 L390.5,228.2 L390.9,224.7 L391.3,220.9 L391.7,217.0 L392.1,212.9 L392.5,209.0 L392.9,205.1 L393.3,201.5 L393.7,198.1 L394.1,195.0 L394.5,192.1 L394.9,189.5 L395.3,187.0 L395.8,184.7 L396.2,182.5 L396.6,180.4 L397.0,178.4 L397.4,176.6 L397.8,175.0 L398.2,173.8 L398.6,173.0 L399.0,172.7 L399.4,172.8 L399.8,173.5 L400.2,174.5 L400.6,175.9 L401.1,177.7 L401.5,179.6 L401.9,181.6 L402.3,183.8 L402.7,186.1 L403.1,188.5 L403.5,191.0 L403.9,193.8 L404.3,196.8 L404.7,200.1 L405.1,203.6 L405.5,207.4 L405.9,211.3 L406.4,215.4 L406.8,219.3 L407.2,223.2 L407.6,226.8 L408.0,230.2 L408.4,233.3 L408.8,236.2 L409.2,238.8 L409.6,241.2 L410.0,243.6 L410.4,245.8 L410.8,247.9 L411.2,249.9 L411.7,251.7 L412.1,253.2 L412.5,254.4 L412.9,255.2 L413.3,255.6 L413.7,255.4 L414.1,254.8 L414.5,253.7 L414.9,252.3 L415.3,250.6 L415.7,248.7 L416.1,246.6 L416.6,244.4 L417.0,242.2 L417.4,239.8 L417.8,237.2 L418.2,234.5 L418.6,231.5 L419.0,228.2 L419.4,224.7 L419.8,220.9 L420.2,216.9 L420.6,212.9 L421.0,209.0 L421.4,205.1 L421.9,201.5 L422.3,198.1 L422.7,195.0 L423.1,192.2 L423.5,189.5 L423.9,187.1 L424.3,184.8 L424.7,182.6 L425.1,180.5 L425.5,178.5 L425.9,176.7 L426.3,175.1 L426.7,173.9 L427.2,173.1 L427.6,172.8 L428.0,172.9 L428.4,173.6 L428.8,174.6 L429.2,176.0 L429.6,177.7 L430.0,179.7 L430.4,181.7 L430.8,183.9 L431.2,186.2 L431.6,188.5 L432.0,191.1 L432.5,193.8 L432.9,196.8 L433.3,200.1 L433.7,203.7 L434.1,207.4 L434.5,211.4 L434.9,215.4 L435.3,219.3 L435.7,223.2 L436.1,226.8 L436.5,230.2 L436.9,233.3 L437.4,236.1 L437.8,238.7 L438.2,241.2 L438.6,243.5 L439.0,245.7 L439.4,247.8 L439.8,249.8 L440.2,251.6 L440.6,253.1 L441.0,254.3 L441.4,255.1 L441.8,255.5 L442.2,255.3 L442.7,254.7 L443.1,253.7 L443.5,252.2 L443.9,250.5 L444.3,248.6 L444.7,246.5 L445.1,244.4 L445.5,242.1 L445.9,239.7 L446.3,237.2 L446.7,234.4 L447.1,231.4 L447.5,228.2 L448.0,224.6 L448.4,220.9 L448.8,216.9 L449.2,213.0 L449.6,209.0 L450.0,205.2 L450.4,201.5 L450.8,198.1 L451.2,195.0 L451.6,192.2 L452.0,189.6 L452.4,187.1 L452.8,184.8 L453.3,182.6 L453.7,180.5 L454.1,178.5 L454.5,176.8 L454.9,175.2 L455.3,174.0 L455.7,173.2 L456.1,172.9 L456.5,173.0 L456.9,173.6 L457.3,174.7 L457.7,176.1 L458.1,177.8 L458.6,179.7 L459.0,181.8 L459.4,183.9 L459.8,186.2 L460.2,188.6 L460.6,191.1 L461.0,193.9 L461.4,196.9 L461.8,200.1 L462.2,203.7 L462.6,207.4 L463.0,211.4 L463.5,215.3 L463.9,219.3 L464.3,223.1 L464.7,226.8 L465.1,230.1 L465.5,233.2 L465.9,236.1 L466.3,238.7 L466.7,241.1 L467.1,243.4 L467.5,245.6 L467.9,247.7 L468.3,249.7 L468.8,251.5 L469.2,253.1 L469.6,254.3 L470.0,255.1 L470.4,255.4 L470.8,255.3 L471.2,254.6 L471.6,253.6 L472.0,252.2 L472.4,250.5 L472.8,248.5 L473.2,246.5 L473.6,244.3 L474.1,242.1 L474.5,239.7 L474.9,237.1 L475.3,234.4 L475.7,231.4 L476.1,228.1 L476.5,224.6 L476.9,220.9 L477.3,216.9 L477.7,213.0 L478.1,209.0 L478.5,205.2 L478.9,201.5 L479.4,198.2 L479.8,195.1 L480.2,192.2 L480.6,189.6 L481.0,187.2 L481.4,184.9 L481.8,182.7 L482.2,180.6 L482.6,178.6 L483.0,176.8 L483.4,175.3 L483.8,174.1 L484.3,173.3 L484.7,172.9 L485.1,173.1 L485.5,173.7 L485.9,174.7 L486.3,176.2 L486.7,177.9 L487.1,179.8 L487.5,181.8 L487.9,184.0 L488.3,186.3 L488.7,188.6 L489.1,191.2 L489.6,193.9 L490.0,196.9 L490.4,200.2 L490.8,203.7 L491.2,207.4 L491.6,211.4 L492.0,215.3 L492.4,219.3 L492.8,223.1 L493.2,226.8 L493.6,230.1 L494.0,233.2 L494.4,236.1 L494.9,238.7 L495.3,241.1 L495.7,243.4 L496.1,245.6 L496.5,247.7 L496.9,249.7 L497.3,251.5 L497.7,253.0 L498.1,254.2 L498.5,255.0 L498.9,255.4 L499.3,255.2 L499.7,254.6 L500.2,253.5 L500.6,252.1 L501.0,250.4 L501.4,248.5 L501.8,246.4 L502.2,244.3 L502.6,242.0 L503.0,239.6 L503.4,237.1 L503.8,234.4 L504.2,231.4 L504.6,228.1 L505.0,224.6 L505.5,220.8 L505.9,216.9 L506.3,213.0 L506.7,209.0 L507.1,205.2 L507.5,201.6 L507.9,198.2 L508.3,195.1 L508.7,192.3 L509.1,189.6 L509.5,187.2 L509.9,184.9 L510.4,182.7 L510.8,180.6 L511.2,178.6 L511.6,176.9 L512.0,175.3 L512.4,174.1 L512.8,173.3 L513.2,173.0 L513.6,173.1 L514.0,173.7 L514.4,174.8 L514.8,176.2 L515.2,177.9 L515.7,179.8 L516.1,181.9 L516.5,184.0 L516.9,186.3 L517.3,188.7 L517.7,191.2 L518.1,193.9 L518.5,196.9 L518.9,200.2 L519.3,203.7 L519.7,207.5 L520.1,211.4 L520.5,215.3 L521.0,219.3 L521.4,223.1 L521.8,226.7 L522.2,230.1 L522.6,233.2 L523.0,236.0 L523.4,238.6 L523.8,241.1 L524.2,243.4 L524.6,245.6 L525.0,247.7 L525.4,249.6 L525.8,251.4 L526.3,253.0 L526.7,254.2 L527.1,255.0 L527.5,255.3 L527.9,255.2 L528.3,254.5 L528.7,253.5 L529.1,252.1 L529.5,250.4 L529.9,248.5 L530.3,246.4 L530.7,244.3 L531.2,242.0 L531.6,239.6 L532.0,237.1 L532.4,234.4 L532.8,231.4 L533.2,228.1 L533.6,224.6 L534.0,220.8 L534.4,216.9 L534.8,213.0 L535.2,209.0 L535.6,205.2 L536.0,201.6 L536.5,198.2 L536.9,195.1 L537.3,192.3 L537.7,189.7 L538.1,187.2 L538.5,184.9 L538.9,182.7 L539.3,180.6 L539.7,178.7 L540.1,176.9 L540.5,175.3 L540.9,174.1 L541.3,173.3 L541.8,173.0 L542.2,173.1 L542.6,173.8 L543.0,174.8 L543.4,176.2 L543.8,177.9 L544.2,179.8 L544.6,181.9 L545.0,184.0 L545.4,186.3 L545.8,188.7 L546.2,191.2 L546.6,194.0 L547.1,196.9 L547.5,200.2 L547.9,203.7 L548.3,207.5 L548.7,211.4 L549.1,215.3 L549.5,219.3 L549.9,223.1 L550.3,226.7 L550.7,230.1 L551.1,233.2 L551.5,236.0 L552.0,238.6 L552.4,241.1 L552.8,243.4 L553.2,245.6 L553.6,247.7 L554.0,249.6 L554.4,251.4 L554.8,252.9 L555.2,254.2 L555.6,255.0 L556.0,255.3 L556.4,255.1 L556.8,254.5 L557.3,253.5 L557.7,252.1 L558.1,250.4 L558.5,248.5 L558.9,246.4 L559.3,244.2 L559.7,242.0 L560.1,239.6 L560.5,237.1 L560.9,234.3 L561.3,231.4 L561.7,228.1 L562.1,224.6 L562.6,220.8 L563.0,216.9 L563.4,213.0 L563.8,209.0 L564.2,205.2 L564.6,201.6 L565.0,198.2 L565.4,195.1 L565.8,192.3 L566.2,189.7 L566.6,187.2 L567.0,184.9 L567.4,182.7 L567.9,180.7 L568.3,178.7 L568.7,176.9 L569.1,175.4 L569.5,174.2 L569.9,173.4 L570.3,173.0 L570.7,173.2 L571.1,173.8 L571.5,174.8 L571.9,176.2 L572.3,177.9 L572.7,179.8 L573.2,181.9 L573.6,184.1 L574.0,186.3 L574.4,188.7 L574.8,191.2 L575.2,194.0 L575.6,196.9 L576.0,200.2 L576.4,203.7 L576.8,207.5 L577.2,211.4" stroke="#0000ff" stroke-width="3.0" fill="none" stroke-linejoin="round" stroke-linecap="round"/></g>
<g clip-path="url(#cbL)"><path transform="scale(0.5667,1)" d="M77.6,214.5 L78.1,214.6 L78.5,214.6 L78.9,214.6 L79.3,214.6 L79.7,214.7 L80.1,214.7 L80.5,214.7 L80.9,214.8 L81.3,214.8 L81.7,214.9 L82.1,214.9 L82.5,215.0 L82.9,215.1 L83.4,215.1 L83.8,215.2 L84.2,215.2 L84.6,215.2 L85.0,215.2 L85.4,215.2 L85.8,215.2 L86.2,215.2 L86.6,215.1 L87.0,215.1 L87.4,215.0 L87.8,215.0 L88.3,214.9 L88.7,214.8 L89.1,214.8 L89.5,214.7 L89.9,214.6 L90.3,214.6 L90.7,214.5 L91.1,214.4 L91.5,214.3 L91.9,214.3 L92.3,214.2 L92.7,214.0 L93.1,213.9 L93.6,213.8 L94.0,213.6 L94.4,213.5 L94.8,213.4 L95.2,213.2 L95.6,213.1 L96.0,213.0 L96.4,212.9 L96.8,212.8 L97.2,212.8 L97.6,212.8 L98.0,212.8 L98.4,212.8 L98.9,212.9 L99.3,213.0 L99.7,213.1 L100.1,213.3 L100.5,213.4 L100.9,213.5 L101.3,213.6 L101.7,213.7 L102.1,213.8 L102.5,213.9 L102.9,213.9 L103.3,213.9 L103.7,213.9 L104.2,213.9 L104.6,213.8 L105.0,213.8 L105.4,213.8 L105.8,213.7 L106.2,213.7 L106.6,213.8 L107.0,213.8 L107.4,213.9 L107.8,214.0 L108.2,214.2 L108.6,214.4 L109.0,214.6 L109.5,214.8 L109.9,215.0 L110.3,215.3 L110.7,215.5 L111.1,215.7 L111.5,215.8 L111.9,215.9 L112.3,216.0 L112.7,216.0 L113.1,215.9 L113.5,215.8 L113.9,215.6 L114.4,215.4 L114.8,215.2 L115.2,215.0 L115.6,214.8 L116.0,214.6 L116.4,214.4 L116.8,214.2 L117.2,214.1 L117.6,214.0 L118.0,213.9 L118.4,213.9 L118.8,214.0 L119.2,214.0 L119.7,214.1 L120.1,214.2 L120.5,214.3 L120.9,214.4 L121.3,214.4 L121.7,214.5 L122.1,214.5 L122.5,214.4 L122.9,214.3 L123.3,214.2 L123.7,214.0 L124.1,213.8 L124.5,213.5 L125.0,213.3 L125.4,213.0 L125.8,212.8 L126.2,212.6 L126.6,212.4 L127.0,212.3 L127.4,212.3 L127.8,212.3 L128.2,212.3 L128.6,212.4 L129.0,212.6 L129.4,212.8 L129.8,213.0 L130.3,213.3 L130.7,213.5 L131.1,213.8 L131.5,214.0 L131.9,214.2 L132.3,214.3 L132.7,214.4 L133.1,214.5 L133.5,214.6 L133.9,214.6 L134.3,214.5 L134.7,214.5 L135.2,214.4 L135.6,214.3 L136.0,214.3 L136.4,214.2 L136.8,214.2 L137.2,214.2 L137.6,214.2 L138.0,214.3 L138.4,214.4 L138.8,214.5 L139.2,214.7 L139.6,214.9 L140.0,215.0 L140.5,215.2 L140.9,215.4 L141.3,215.5 L141.7,215.6 L142.1,215.7 L142.5,215.7 L142.9,215.7 L143.3,215.7 L143.7,215.6 L144.1,215.5 L144.5,215.3 L144.9,215.2 L145.3,215.0 L145.8,214.8 L146.2,214.6 L146.6,214.5 L147.0,214.3 L147.4,214.2 L147.8,214.0 L148.2,213.9 L148.6,213.9 L149.0,213.8 L149.4,212.8 L149.8,211.3 L150.2,209.8 L150.6,208.2 L151.1,206.6 L151.5,205.1 L151.9,203.7 L152.3,202.6 L152.7,201.7 L153.1,201.0 L153.5,200.7 L153.9,200.5 L154.3,200.6 L154.7,200.7 L155.1,201.1 L155.5,201.6 L155.9,202.3 L156.4,203.2 L156.8,204.4 L157.2,205.9 L157.6,207.7 L158.0,209.8 L158.4,212.1 L158.8,214.7 L159.2,217.4 L159.6,220.1 L160.0,222.9 L160.4,225.6 L160.8,228.2 L161.3,230.6 L161.7,233.0 L162.1,235.3 L162.5,237.5 L162.9,239.6 L163.3,241.7 L163.7,243.7 L164.1,245.5 L164.5,247.2 L164.9,248.5 L165.3,249.4 L165.7,250.0 L166.1,250.2 L166.6,249.9 L167.0,249.2 L167.4,248.2 L167.8,246.8 L168.2,245.3 L168.6,243.6 L169.0,241.8 L169.4,239.9 L169.8,237.9 L170.2,235.6 L170.6,233.2 L171.0,230.5 L171.4,227.6 L171.9,224.3 L172.3,220.8 L172.7,217.2 L173.1,213.4 L173.5,209.6 L173.9,205.9 L174.3,202.4 L174.7,199.1 L175.1,196.1 L175.5,193.3 L175.9,190.7 L176.3,188.3 L176.7,186.0 L177.2,183.8 L177.6,181.7 L178.0,179.7 L178.4,178.0 L178.8,176.4 L179.2,175.2 L179.6,174.4 L180.0,174.0 L180.4,174.1 L180.8,174.7 L181.2,175.7 L181.6,177.0 L182.1,178.7 L182.5,180.5 L182.9,182.5 L183.3,184.6 L183.7,186.8 L184.1,189.1 L184.5,191.6 L184.9,194.2 L185.3,197.1 L185.7,200.3 L186.1,203.7 L186.5,207.3 L186.9,211.1 L187.4,214.9 L187.8,218.8 L188.2,222.5 L188.6,226.0 L189.0,229.3 L189.4,232.3 L189.8,235.0 L190.2,237.6 L190.6,239.9 L191.0,242.2 L191.4,244.3 L191.8,246.3 L192.2,248.2 L192.7,250.0 L193.1,251.5 L193.5,252.7 L193.9,253.5 L194.3,253.9 L194.7,253.8 L195.1,253.3 L195.5,252.3 L195.9,251.0 L196.3,249.4 L196.7,247.6 L197.1,245.6 L197.5,243.6 L198.0,241.4 L198.4,239.2 L198.8,236.7 L199.2,234.1 L199.6,231.3 L200.0,228.1 L200.4,224.7 L200.8,221.1 L201.2,217.3 L201.6,213.4 L202.0,209.5 L202.4,205.7 L202.8,202.1 L203.3,198.7 L203.7,195.6 L204.1,192.8 L204.5,190.2 L204.9,187.7 L205.3,185.4 L205.7,183.2 L206.1,181.0 L206.5,179.0 L206.9,177.2 L207.3,175.6 L207.7,174.4 L208.2,173.5 L208.6,173.1 L209.0,173.2 L209.4,173.7 L209.8,174.7 L210.2,176.1 L210.6,177.7 L211.0,179.6 L211.4,181.6 L211.8,183.8 L212.2,186.0 L212.6,188.3 L213.0,190.9 L213.5,193.6 L213.9,196.5 L214.3,199.8 L214.7,203.3 L215.1,207.0 L215.5,210.9 L215.9,215.0 L216.3,218.9 L216.7,222.8 L217.1,226.5 L217.5,229.9 L217.9,233.1 L218.3,236.0 L218.8,238.6 L219.2,241.1 L219.6,243.4 L220.0,245.7 L220.4,247.8 L220.8,249.8 L221.2,251.7 L221.6,253.3 L222.0,254.5 L222.4,255.4 L222.8,255.8 L223.2,255.7 L223.6,255.2 L224.1,254.1 L224.5,252.7 L224.9,251.1 L225.3,249.2 L225.7,247.1 L226.1,244.9 L226.5,242.6 L226.9,240.3 L227.3,237.7 L227.7,235.0 L228.1,232.0 L228.5,228.7 L229.0,225.1 L229.4,221.3 L229.8,217.4 L230.2,213.3 L230.6,209.3 L231.0,205.4 L231.4,201.7 L231.8,198.2 L232.2,195.1 L232.6,192.1 L233.0,189.5 L233.4,187.0 L233.8,184.6 L234.3,182.3 L234.7,180.2 L235.1,178.2 L235.5,176.3 L235.9,174.7 L236.3,173.4 L236.7,172.5 L237.1,172.1 L237.5,172.2 L237.9,172.8 L238.3,173.8 L238.7,175.2 L239.1,176.9 L239.6,178.9 L240.0,180.9 L240.4,183.1 L240.8,185.4 L241.2,187.8 L241.6,190.4 L242.0,193.2 L242.4,196.2 L242.8,199.5 L243.2,203.1 L243.6,206.9 L244.0,210.9 L244.4,215.0 L244.9,219.0 L245.3,223.0 L245.7,226.7 L246.1,230.2 L246.5,233.4 L246.9,236.3 L247.3,239.0 L247.7,241.5 L248.1,243.9 L248.5,246.2 L248.9,248.4 L249.3,250.4 L249.8,252.3 L250.2,253.9 L250.6,255.2 L251.0,256.0 L251.4,256.4 L251.8,256.4 L252.2,255.8 L252.6,254.7 L253.0,253.3 L253.4,251.6 L253.8,249.7 L254.2,247.6 L254.6,245.4 L255.1,243.1 L255.5,240.6 L255.9,238.1 L256.3,235.3 L256.7,232.2 L257.1,228.9 L257.5,225.3 L257.9,221.4 L258.3,217.4 L258.7,213.3 L259.1,209.2 L259.5,205.3 L259.9,201.5 L260.4,198.0 L260.8,194.8 L261.2,191.9 L261.6,189.1 L262.0,186.6 L262.4,184.2 L262.8,181.9 L263.2,179.7 L263.6,177.7 L264.0,175.8 L264.4,174.2 L264.8,172.9 L265.2,172.0 L265.7,171.6 L266.1,171.7 L266.5,172.3 L266.9,173.3 L267.3,174.8 L267.7,176.5 L268.1,178.4 L268.5,180.6 L268.9,182.8 L269.3,185.1 L269.7,187.5 L270.1,190.1 L270.5,192.9 L271.0,196.0 L271.4,199.3 L271.8,203.0 L272.2,206.8 L272.6,210.9 L273.0,215.0 L273.4,219.1 L273.8,223.0 L274.2,226.8 L274.6,230.3 L275.0,233.6 L275.4,236.5 L275.9,239.3 L276.3,241.8 L276.7,244.2 L277.1,246.5 L277.5,248.7 L277.9,250.7 L278.3,252.6 L278.7,254.2 L279.1,255.5 L279.5,256.4 L279.9,256.8 L280.3,256.7 L280.7,256.1 L281.2,255.1 L281.6,253.6 L282.0,251.9 L282.4,250.0 L282.8,247.8 L283.2,245.6 L283.6,243.3 L284.0,240.8 L284.4,238.2 L284.8,235.4 L285.2,232.3 L285.6,229.0 L286.0,225.4 L286.5,221.5 L286.9,217.4 L287.3,213.3 L287.7,209.2 L288.1,205.2 L288.5,201.5 L288.9,197.9 L289.3,194.7 L289.7,191.7 L290.1,189.0 L290.5,186.5 L290.9,184.1 L291.3,181.8 L291.8,179.6 L292.2,177.5 L292.6,175.6 L293.0,174.0 L293.4,172.7 L293.8,171.8 L294.2,171.4 L294.6,171.5 L295.0,172.1 L295.4,173.2 L295.8,174.6 L296.2,176.4 L296.7,178.3 L297.1,180.4 L297.5,182.7 L297.9,185.0 L298.3,187.5 L298.7,190.1 L299.1,192.9 L299.5,196.0 L299.9,199.3 L300.3,202.9 L300.7,206.8 L301.1,210.9 L301.5,215.0 L302.0,219.1 L302.4,223.1 L302.8,226.8 L303.2,230.4 L303.6,233.6 L304.0,236.6 L304.4,239.3 L304.8,241.8 L305.2,244.2 L305.6,246.5 L306.0,248.7 L306.4,250.8 L306.8,252.7 L307.3,254.3 L307.7,255.6 L308.1,256.5 L308.5,256.9 L308.9,256.8 L309.3,256.2 L309.7,255.1 L310.1,253.7 L310.5,251.9 L310.9,250.0 L311.3,247.9 L311.7,245.6 L312.1,243.3 L312.6,240.8 L313.0,238.2 L313.4,235.4 L313.8,232.3 L314.2,229.0 L314.6,225.4 L315.0,221.5 L315.4,217.4 L315.8,213.3 L316.2,209.2 L316.6,205.2 L317.0,201.5 L317.4,197.9 L317.9,194.7 L318.3,191.7 L318.7,189.0 L319.1,186.5 L319.5,184.1 L319.9,181.8 L320.3,179.6 L320.7,177.5 L321.1,175.6 L321.5,174.0 L321.9,172.7 L322.3,171.8 L322.8,171.4 L323.2,171.5 L323.6,172.1 L324.0,173.2 L324.4,174.6 L324.8,176.4 L325.2,178.3 L325.6,180.4 L326.0,182.7 L326.4,185.0 L326.8,187.5 L327.2,190.1 L327.6,192.9 L328.1,196.0 L328.5,199.3 L328.9,202.9 L329.3,206.8 L329.7,210.9 L330.1,215.0 L330.5,219.1 L330.9,223.1 L331.3,226.8 L331.7,230.4 L332.1,233.6 L332.5,236.6 L332.9,239.3 L333.4,241.8 L333.8,244.2 L334.2,246.5 L334.6,248.7 L335.0,250.8 L335.4,252.7 L335.8,254.3 L336.2,255.6 L336.6,256.5 L337.0,256.9 L337.4,256.8 L337.8,256.2 L338.2,255.1 L338.7,253.7 L339.1,251.9 L339.5,250.0 L339.9,247.9 L340.3,245.6 L340.7,243.3 L341.1,240.8 L341.5,238.2 L341.9,235.4 L342.3,232.3 L342.7,229.0 L343.1,225.4 L343.6,221.5 L344.0,217.4 L344.4,213.3 L344.8,209.2 L345.2,205.2 L345.6,201.5 L346.0,197.9 L346.4,194.7 L346.8,191.7 L347.2,189.0 L347.6,186.5 L348.0,184.1 L348.4,181.8 L348.9,179.6 L349.3,177.5 L349.7,175.6 L350.1,174.0 L350.5,172.7 L350.9,171.8 L351.3,171.4 L351.7,171.5 L352.1,172.1 L352.5,173.2 L352.9,174.6 L353.3,176.4 L353.7,178.3 L354.2,180.4 L354.6,182.7 L355.0,185.0 L355.4,187.5 L355.8,190.1 L356.2,192.9 L356.6,196.0 L357.0,199.3 L357.4,202.9 L357.8,206.8 L358.2,210.9 L358.6,215.0 L359.0,219.1 L359.5,223.1 L359.9,226.8 L360.3,230.4 L360.7,233.6 L361.1,236.6 L361.5,239.3 L361.9,241.8 L362.3,244.2 L362.7,246.5 L363.1,248.7 L363.5,250.8 L363.9,252.7 L364.3,254.3 L364.8,255.6 L365.2,256.5 L365.6,256.9 L366.0,256.8 L366.4,256.2 L366.8,255.1 L367.2,253.7 L367.6,251.9 L368.0,250.0 L368.4,247.9 L368.8,245.6 L369.2,243.3 L369.7,240.8 L370.1,238.2 L370.5,235.4 L370.9,232.3 L371.3,229.0 L371.7,225.4 L372.1,221.5 L372.5,217.4 L372.9,213.3 L373.3,209.2 L373.7,205.2 L374.1,201.5 L374.5,197.9 L375.0,194.7 L375.4,191.7 L375.8,189.0 L376.2,186.5 L376.6,184.1 L377.0,181.8 L377.4,179.6 L377.8,177.5 L378.2,175.6 L378.6,174.0 L379.0,172.7 L379.4,171.8 L379.8,171.4 L380.3,171.5 L380.7,172.1 L381.1,173.2 L381.5,174.6 L381.9,176.4 L382.3,178.3 L382.7,180.4 L383.1,182.7 L383.5,185.0 L383.9,187.5 L384.3,190.1 L384.7,192.9 L385.1,196.0 L385.6,199.3 L386.0,202.9 L386.4,206.8 L386.8,210.9 L387.2,215.0 L387.6,219.1 L388.0,223.1 L388.4,226.8 L388.8,230.4 L389.2,233.6 L389.6,236.6 L390.0,239.3 L390.5,241.8 L390.9,244.2 L391.3,246.5 L391.7,248.7 L392.1,250.8 L392.5,252.7 L392.9,254.3 L393.3,255.6 L393.7,256.5 L394.1,256.9 L394.5,256.8 L394.9,256.2 L395.3,255.1 L395.8,253.7 L396.2,251.9 L396.6,250.0 L397.0,247.9 L397.4,245.6 L397.8,243.3 L398.2,240.8 L398.6,238.2 L399.0,235.4 L399.4,232.3 L399.8,229.0 L400.2,225.4 L400.6,221.5 L401.1,217.4 L401.5,213.3 L401.9,209.2 L402.3,205.2 L402.7,201.5 L403.1,197.9 L403.5,194.7 L403.9,191.7 L404.3,189.0 L404.7,186.5 L405.1,184.1 L405.5,181.8 L405.9,179.6 L406.4,177.5 L406.8,175.6 L407.2,174.0 L407.6,172.7 L408.0,171.8 L408.4,171.4 L408.8,171.5 L409.2,172.1 L409.6,173.2 L410.0,174.6 L410.4,176.4 L410.8,178.3 L411.2,180.4 L411.7,182.7 L412.1,185.0 L412.5,187.5 L412.9,190.1 L413.3,192.9 L413.7,196.0 L414.1,199.3 L414.5,202.9 L414.9,206.8 L415.3,210.9 L415.7,215.0 L416.1,219.1 L416.6,223.1 L417.0,226.8 L417.4,230.4 L417.8,233.6 L418.2,236.6 L418.6,239.3 L419.0,241.8 L419.4,244.2 L419.8,246.5 L420.2,248.7 L420.6,250.8 L421.0,252.7 L421.4,254.3 L421.9,255.6 L422.3,256.5 L422.7,256.9 L423.1,256.8 L423.5,256.2 L423.9,255.1 L424.3,253.7 L424.7,251.9 L425.1,250.0 L425.5,247.9 L425.9,245.6 L426.3,243.3 L426.7,240.8 L427.2,238.2 L427.6,235.4 L428.0,232.3 L428.4,229.0 L428.8,225.4 L429.2,221.5 L429.6,217.4 L430.0,213.3 L430.4,209.2 L430.8,205.2 L431.2,201.5 L431.6,197.9 L432.0,194.7 L432.5,191.7 L432.9,189.0 L433.3,186.5 L433.7,184.1 L434.1,181.8 L434.5,179.6 L434.9,177.5 L435.3,175.6 L435.7,174.0 L436.1,172.7 L436.5,171.8 L436.9,171.4 L437.4,171.5 L437.8,172.1 L438.2,173.2 L438.6,174.6 L439.0,176.4 L439.4,178.3 L439.8,180.4 L440.2,182.7 L440.6,185.0 L441.0,187.5 L441.4,190.1 L441.8,192.9 L442.2,196.0 L442.7,199.3 L443.1,202.9 L443.5,206.8 L443.9,210.9 L444.3,215.0 L444.7,219.1 L445.1,223.1 L445.5,226.8 L445.9,230.4 L446.3,233.6 L446.7,236.6 L447.1,239.3 L447.5,241.8 L448.0,244.2 L448.4,246.5 L448.8,248.7 L449.2,250.8 L449.6,252.7 L450.0,254.3 L450.4,255.6 L450.8,256.5 L451.2,256.9 L451.6,256.8 L452.0,256.2 L452.4,255.1 L452.8,253.7 L453.3,251.9 L453.7,250.0 L454.1,247.9 L454.5,245.6 L454.9,243.3 L455.3,240.8 L455.7,238.2 L456.1,235.4 L456.5,232.3 L456.9,229.0 L457.3,225.4 L457.7,221.5 L458.1,217.4 L458.6,213.3 L459.0,209.2 L459.4,205.2 L459.8,201.5 L460.2,197.9 L460.6,194.7 L461.0,191.7 L461.4,189.0 L461.8,186.5 L462.2,184.1 L462.6,181.8 L463.0,179.6 L463.5,177.5 L463.9,175.6 L464.3,174.0 L464.7,172.7 L465.1,171.8 L465.5,171.4 L465.9,171.5 L466.3,172.1 L466.7,173.2 L467.1,174.6 L467.5,176.4 L467.9,178.3 L468.3,180.4 L468.8,182.7 L469.2,185.0 L469.6,187.5 L470.0,190.1 L470.4,192.9 L470.8,196.0 L471.2,199.3 L471.6,202.9 L472.0,206.8 L472.4,210.9 L472.8,215.0 L473.2,219.1 L473.6,223.1 L474.1,226.8 L474.5,230.4 L474.9,233.6 L475.3,236.6 L475.7,239.3 L476.1,241.8 L476.5,244.2 L476.9,246.5 L477.3,248.7 L477.7,250.8 L478.1,252.7 L478.5,254.3 L478.9,255.6 L479.4,256.5 L479.8,256.9 L480.2,256.8 L480.6,256.2 L481.0,255.1 L481.4,253.7 L481.8,251.9 L482.2,250.0 L482.6,247.9 L483.0,245.6 L483.4,243.3 L483.8,240.8 L484.3,238.2 L484.7,235.4 L485.1,232.3 L485.5,229.0 L485.9,225.4 L486.3,221.5 L486.7,217.4 L487.1,213.3 L487.5,209.2 L487.9,205.2 L488.3,201.5 L488.7,197.9 L489.1,194.7 L489.6,191.7 L490.0,189.0 L490.4,186.5 L490.8,184.1 L491.2,181.8 L491.6,179.6 L492.0,177.5 L492.4,175.6 L492.8,174.0 L493.2,172.7 L493.6,171.8 L494.0,171.4 L494.4,171.5 L494.9,172.1 L495.3,173.2 L495.7,174.6 L496.1,176.4 L496.5,178.3 L496.9,180.4 L497.3,182.7 L497.7,185.0 L498.1,187.5 L498.5,190.1 L498.9,192.9 L499.3,196.0 L499.7,199.3 L500.2,202.9 L500.6,206.8 L501.0,210.9 L501.4,215.0 L501.8,219.1 L502.2,223.1 L502.6,226.8 L503.0,230.4 L503.4,233.6 L503.8,236.6 L504.2,239.3 L504.6,241.8 L505.0,244.2 L505.5,246.5 L505.9,248.7 L506.3,250.8 L506.7,252.7 L507.1,254.3 L507.5,255.6 L507.9,256.5 L508.3,256.9 L508.7,256.8 L509.1,256.2 L509.5,255.1 L509.9,253.7 L510.4,251.9 L510.8,250.0 L511.2,247.9 L511.6,245.6 L512.0,243.3 L512.4,240.8 L512.8,238.2 L513.2,235.4 L513.6,232.3 L514.0,229.0 L514.4,225.4 L514.8,221.5 L515.2,217.4 L515.7,213.3 L516.1,209.2 L516.5,205.2 L516.9,201.5 L517.3,197.9 L517.7,194.7 L518.1,191.7 L518.5,189.0 L518.9,186.5 L519.3,184.1 L519.7,181.8 L520.1,179.6 L520.5,177.5 L521.0,175.6 L521.4,174.0 L521.8,172.7 L522.2,171.8 L522.6,171.4 L523.0,171.5 L523.4,172.1 L523.8,173.2 L524.2,174.6 L524.6,176.4 L525.0,178.3 L525.4,180.4 L525.8,182.7 L526.3,185.0 L526.7,187.5 L527.1,190.1 L527.5,192.9 L527.9,196.0 L528.3,199.3 L528.7,202.9 L529.1,206.8 L529.5,210.9 L529.9,215.0 L530.3,219.1 L530.7,223.1 L531.2,226.8 L531.6,230.4 L532.0,233.6 L532.4,236.6 L532.8,239.3 L533.2,241.8 L533.6,244.2 L534.0,246.5 L534.4,248.7 L534.8,250.8 L535.2,252.7 L535.6,254.3 L536.0,255.6 L536.5,256.5 L536.9,256.9 L537.3,256.8 L537.7,256.2 L538.1,255.1 L538.5,253.7 L538.9,251.9 L539.3,250.0 L539.7,247.9 L540.1,245.6 L540.5,243.3 L540.9,240.8 L541.3,238.2 L541.8,235.4 L542.2,232.3 L542.6,229.0 L543.0,225.4 L543.4,221.5 L543.8,217.4 L544.2,213.3 L544.6,209.2 L545.0,205.2 L545.4,201.5 L545.8,197.9 L546.2,194.7 L546.6,191.7 L547.1,189.0 L547.5,186.5 L547.9,184.1 L548.3,181.8 L548.7,179.6 L549.1,177.5 L549.5,175.6 L549.9,174.0 L550.3,172.7 L550.7,171.8 L551.1,171.4 L551.5,171.5 L552.0,172.1 L552.4,173.2 L552.8,174.6 L553.2,176.4 L553.6,178.3 L554.0,180.4 L554.4,182.7 L554.8,185.0 L555.2,187.5 L555.6,190.1 L556.0,192.9 L556.4,196.0 L556.8,199.3 L557.3,202.9 L557.7,206.8 L558.1,210.9 L558.5,215.0 L558.9,219.1 L559.3,223.1 L559.7,226.8 L560.1,230.4 L560.5,233.6 L560.9,236.6 L561.3,239.3 L561.7,241.8 L562.1,244.2 L562.6,246.5 L563.0,248.7 L563.4,250.8 L563.8,252.7 L564.2,254.3 L564.6,255.6 L565.0,256.5 L565.4,256.9 L565.8,256.8 L566.2,256.2 L566.6,255.1 L567.0,253.7 L567.4,251.9 L567.9,250.0 L568.3,247.9 L568.7,245.6 L569.1,243.3 L569.5,240.8 L569.9,238.2 L570.3,235.4 L570.7,232.3 L571.1,229.0 L571.5,225.4 L571.9,221.5 L572.3,217.4 L572.7,213.3 L573.2,209.2 L573.6,205.2 L574.0,201.5 L574.4,197.9 L574.8,194.7 L575.2,191.7 L575.6,189.0 L576.0,186.5 L576.4,184.1 L576.8,181.8 L577.2,179.6" stroke="#ff0000" stroke-width="3.0" fill="none" stroke-linejoin="round" stroke-linecap="round"/></g>
<g clip-path="url(#cbL)"><path transform="scale(0.5667,1)" d="M77.6,214.1 L78.1,214.5 L78.5,214.6 L78.9,214.4 L79.3,214.0 L79.7,213.5 L80.1,213.3 L80.5,213.4 L80.9,213.8 L81.3,214.2 L81.7,214.4 L82.1,214.3 L82.5,214.0 L82.9,213.6 L83.4,213.4 L83.8,213.5 L84.2,213.9 L84.6,214.4 L85.0,214.7 L85.4,214.7 L85.8,214.4 L86.2,214.1 L86.6,213.8 L87.0,213.9 L87.4,214.3 L87.8,214.7 L88.3,215.0 L88.7,215.0 L89.1,214.7 L89.5,214.2 L89.9,213.9 L90.3,213.8 L90.7,214.1 L91.1,214.5 L91.5,214.7 L91.9,214.7 L92.3,214.4 L92.7,213.9 L93.1,213.5 L93.6,213.4 L94.0,213.6 L94.4,214.0 L94.8,214.3 L95.2,214.4 L95.6,214.2 L96.0,213.7 L96.4,213.4 L96.8,213.3 L97.2,213.6 L97.6,214.0 L98.0,214.5 L98.4,214.6 L98.9,214.5 L99.3,214.1 L99.7,213.8 L100.1,213.7 L100.5,213.9 L100.9,214.4 L101.3,214.8 L101.7,215.0 L102.1,214.9 L102.5,214.5 L102.9,214.1 L103.3,213.9 L103.7,214.0 L104.2,214.3 L104.6,214.7 L105.0,214.9 L105.4,214.7 L105.8,214.3 L106.2,213.8 L106.6,213.5 L107.0,213.6 L107.4,213.9 L107.8,214.3 L108.2,214.5 L108.6,214.4 L109.0,214.0 L109.5,213.5 L109.9,213.3 L110.3,213.3 L110.7,213.7 L111.1,214.1 L111.5,214.5 L111.9,214.5 L112.3,214.2 L112.7,213.8 L113.1,213.6 L113.5,213.6 L113.9,214.0 L114.4,214.5 L114.8,214.9 L115.2,214.9 L115.6,214.7 L116.0,214.3 L116.4,213.9 L116.8,213.9 L117.2,214.2 L117.6,214.6 L118.0,214.9 L118.4,215.0 L118.8,214.7 L119.2,214.2 L119.7,213.8 L120.1,213.6 L120.5,213.8 L120.9,214.2 L121.3,214.5 L121.7,214.6 L122.1,214.3 L122.5,213.9 L122.9,213.4 L123.3,213.3 L123.7,213.4 L124.1,213.9 L124.5,214.3 L125.0,214.4 L125.4,214.3 L125.8,213.9 L126.2,213.6 L126.6,213.4 L127.0,213.6 L127.4,214.1 L127.8,214.6 L128.2,214.8 L128.6,214.7 L129.0,214.4 L129.4,214.0 L129.8,213.8 L130.3,214.0 L130.7,214.4 L131.1,214.8 L131.5,215.0 L131.9,214.9 L132.3,214.6 L132.7,214.1 L133.1,213.8 L133.5,213.8 L133.9,214.1 L134.3,214.5 L134.7,214.7 L135.2,214.6 L135.6,214.2 L136.0,213.7 L136.4,213.4 L136.8,213.4 L137.2,213.6 L137.6,214.1 L138.0,214.4 L138.4,214.4 L138.8,214.1 L139.2,213.7 L139.6,213.4 L140.0,213.4 L140.5,213.7 L140.9,214.2 L141.3,214.6 L141.7,214.7 L142.1,214.5 L142.5,214.1 L142.9,213.8 L143.3,213.8 L143.7,214.0 L144.1,214.5 L144.5,214.9 L144.9,215.0 L145.3,214.8 L145.8,214.4 L146.2,214.0 L146.6,213.9 L147.0,214.0 L147.4,214.4 L147.8,214.7 L148.2,214.8 L148.6,214.6 L149.0,214.2 L149.4,215.4 L149.8,216.5 L150.2,217.4 L150.6,218.2 L151.1,218.7 L151.5,219.0 L151.9,219.1 L152.3,218.8 L152.7,218.3 L153.1,217.4 L153.5,216.1 L153.9,214.6 L154.3,212.8 L154.7,210.7 L155.1,208.6 L155.5,206.4 L155.9,204.1 L156.4,201.9 L156.8,199.7 L157.2,197.5 L157.6,195.4 L158.0,193.4 L158.4,191.3 L158.8,189.4 L159.2,187.6 L159.6,185.9 L160.0,184.6 L160.4,183.4 L160.8,182.6 L161.3,182.2 L161.7,182.2 L162.1,182.5 L162.5,183.2 L162.9,184.2 L163.3,185.4 L163.7,186.8 L164.1,188.3 L164.5,190.0 L164.9,191.7 L165.3,193.6 L165.7,195.7 L166.1,198.0 L166.6,200.6 L167.0,203.4 L167.4,206.5 L167.8,209.8 L168.2,213.3 L168.6,216.8 L169.0,220.3 L169.4,223.6 L169.8,226.8 L170.2,229.8 L170.6,232.5 L171.0,235.0 L171.4,237.4 L171.9,239.7 L172.3,241.8 L172.7,243.9 L173.1,245.8 L173.5,247.7 L173.9,249.4 L174.3,250.8 L174.7,251.8 L175.1,252.5 L175.5,252.7 L175.9,252.4 L176.3,251.8 L176.7,250.7 L177.2,249.3 L177.6,247.7 L178.0,245.9 L178.4,243.9 L178.8,241.9 L179.2,239.8 L179.6,237.5 L180.0,235.0 L180.4,232.3 L180.8,229.3 L181.2,226.1 L181.6,222.6 L182.1,218.9 L182.5,215.1 L182.9,211.3 L183.3,207.5 L183.7,203.8 L184.1,200.4 L184.5,197.2 L184.9,194.3 L185.3,191.6 L185.7,189.1 L186.1,186.7 L186.5,184.5 L186.9,182.3 L187.4,180.3 L187.8,178.4 L188.2,176.6 L188.6,175.2 L189.0,174.2 L189.4,173.5 L189.8,173.4 L190.2,173.7 L190.6,174.4 L191.0,175.6 L191.4,177.1 L191.8,178.9 L192.2,180.8 L192.7,182.9 L193.1,185.1 L193.5,187.3 L193.9,189.8 L194.3,192.4 L194.7,195.2 L195.1,198.3 L195.5,201.7 L195.9,205.3 L196.3,209.2 L196.7,213.1 L197.1,217.2 L197.5,221.1 L198.0,224.9 L198.4,228.4 L198.8,231.7 L199.2,234.7 L199.6,237.5 L200.0,240.1 L200.4,242.5 L200.8,244.8 L201.2,247.1 L201.6,249.2 L202.0,251.1 L202.4,252.9 L202.8,254.3 L203.3,255.4 L203.7,256.1 L204.1,256.2 L204.5,255.9 L204.9,255.1 L205.3,253.9 L205.7,252.3 L206.1,250.5 L206.5,248.5 L206.9,246.4 L207.3,244.2 L207.7,241.8 L208.2,239.3 L208.6,236.7 L209.0,233.7 L209.4,230.5 L209.8,227.0 L210.2,223.3 L210.6,219.3 L211.0,215.2 L211.4,211.0 L211.8,207.0 L212.2,203.1 L212.6,199.4 L213.0,196.0 L213.5,192.8 L213.9,190.0 L214.3,187.3 L214.7,184.8 L215.1,182.4 L215.5,180.1 L215.9,178.0 L216.3,175.9 L216.7,174.2 L217.1,172.7 L217.5,171.6 L217.9,170.9 L218.3,170.8 L218.8,171.2 L219.2,172.0 L219.6,173.3 L220.0,174.9 L220.4,176.8 L220.8,178.9 L221.2,181.1 L221.6,183.4 L222.0,185.9 L222.4,188.4 L222.8,191.2 L223.2,194.2 L223.6,197.5 L224.1,201.0 L224.5,204.9 L224.9,208.9 L225.3,213.1 L225.7,217.3 L226.1,221.4 L226.5,225.4 L226.9,229.1 L227.3,232.5 L227.7,235.7 L228.1,238.5 L228.5,241.2 L229.0,243.7 L229.4,246.1 L229.8,248.4 L230.2,250.6 L230.6,252.6 L231.0,254.4 L231.4,255.9 L231.8,257.0 L232.2,257.6 L232.6,257.7 L233.0,257.3 L233.4,256.5 L233.8,255.2 L234.3,253.6 L234.7,251.6 L235.1,249.6 L235.5,247.3 L235.9,245.0 L236.3,242.6 L236.7,240.0 L237.1,237.2 L237.5,234.2 L237.9,230.9 L238.3,227.3 L238.7,223.5 L239.1,219.4 L239.6,215.2 L240.0,211.0 L240.4,206.8 L240.8,202.9 L241.2,199.2 L241.6,195.7 L242.0,192.6 L242.4,189.7 L242.8,187.0 L243.2,184.5 L243.6,182.1 L244.0,179.8 L244.4,177.6 L244.9,175.6 L245.3,173.8 L245.7,172.3 L246.1,171.2 L246.5,170.6 L246.9,170.4 L247.3,170.8 L247.7,171.7 L248.1,173.0 L248.5,174.6 L248.9,176.5 L249.3,178.6 L249.8,180.9 L250.2,183.2 L250.6,185.7 L251.0,188.3 L251.4,191.0 L251.8,194.1 L252.2,197.4 L252.6,201.0 L253.0,204.8 L253.4,208.9 L253.8,213.1 L254.2,217.3 L254.6,221.5 L255.1,225.4 L255.5,229.2 L255.9,232.6 L256.3,235.8 L256.7,238.7 L257.1,241.4 L257.5,243.9 L257.9,246.3 L258.3,248.6 L258.7,250.8 L259.1,252.8 L259.5,254.6 L259.9,256.1 L260.4,257.2 L260.8,257.8 L261.2,257.9 L261.6,257.5 L262.0,256.7 L262.4,255.4 L262.8,253.7 L263.2,251.8 L263.6,249.7 L264.0,247.4 L264.4,245.1 L264.8,242.7 L265.2,240.1 L265.7,237.3 L266.1,234.2 L266.5,230.9 L266.9,227.3 L267.3,223.5 L267.7,219.4 L268.1,215.2 L268.5,211.0 L268.9,206.8 L269.3,202.9 L269.7,199.1 L270.1,195.7 L270.5,192.5 L271.0,189.6 L271.4,186.9 L271.8,184.4 L272.2,182.0 L272.6,179.7 L273.0,177.5 L273.4,175.5 L273.8,173.7 L274.2,172.2 L274.6,171.1 L275.0,170.5 L275.4,170.4 L275.9,170.8 L276.3,171.6 L276.7,172.9 L277.1,174.6 L277.5,176.5 L277.9,178.6 L278.3,180.9 L278.7,183.2 L279.1,185.6 L279.5,188.2 L279.9,191.0 L280.3,194.1 L280.7,197.4 L281.2,201.0 L281.6,204.8 L282.0,208.9 L282.4,213.1 L282.8,217.3 L283.2,221.5 L283.6,225.4 L284.0,229.2 L284.4,232.6 L284.8,235.8 L285.2,238.7 L285.6,241.4 L286.0,243.9 L286.5,246.3 L286.9,248.6 L287.3,250.8 L287.7,252.8 L288.1,254.6 L288.5,256.1 L288.9,257.2 L289.3,257.8 L289.7,257.9 L290.1,257.5 L290.5,256.7 L290.9,255.4 L291.3,253.7 L291.8,251.8 L292.2,249.7 L292.6,247.4 L293.0,245.1 L293.4,242.7 L293.8,240.1 L294.2,237.3 L294.6,234.2 L295.0,230.9 L295.4,227.3 L295.8,223.5 L296.2,219.4 L296.7,215.2 L297.1,211.0 L297.5,206.8 L297.9,202.9 L298.3,199.1 L298.7,195.7 L299.1,192.5 L299.5,189.6 L299.9,186.9 L300.3,184.4 L300.7,182.0 L301.1,179.7 L301.5,177.5 L302.0,175.5 L302.4,173.7 L302.8,172.2 L303.2,171.1 L303.6,170.5 L304.0,170.4 L304.4,170.8 L304.8,171.6 L305.2,172.9 L305.6,174.6 L306.0,176.5 L306.4,178.6 L306.8,180.9 L307.3,183.2 L307.7,185.6 L308.1,188.2 L308.5,191.0 L308.9,194.1 L309.3,197.4 L309.7,201.0 L310.1,204.8 L310.5,208.9 L310.9,213.1 L311.3,217.3 L311.7,221.5 L312.1,225.4 L312.6,229.2 L313.0,232.6 L313.4,235.8 L313.8,238.7 L314.2,241.4 L314.6,243.9 L315.0,246.3 L315.4,248.6 L315.8,250.8 L316.2,252.8 L316.6,254.6 L317.0,256.1 L317.4,257.2 L317.9,257.8 L318.3,257.9 L318.7,257.5 L319.1,256.7 L319.5,255.4 L319.9,253.7 L320.3,251.8 L320.7,249.7 L321.1,247.4 L321.5,245.1 L321.9,242.7 L322.3,240.1 L322.8,237.3 L323.2,234.2 L323.6,230.9 L324.0,227.3 L324.4,223.5 L324.8,219.4 L325.2,215.2 L325.6,211.0 L326.0,206.8 L326.4,202.9 L326.8,199.1 L327.2,195.7 L327.6,192.5 L328.1,189.6 L328.5,186.9 L328.9,184.4 L329.3,182.0 L329.7,179.7 L330.1,177.5 L330.5,175.5 L330.9,173.7 L331.3,172.2 L331.7,171.1 L332.1,170.5 L332.5,170.4 L332.9,170.8 L333.4,171.6 L333.8,172.9 L334.2,174.6 L334.6,176.5 L335.0,178.6 L335.4,180.9 L335.8,183.2 L336.2,185.6 L336.6,188.2 L337.0,191.0 L337.4,194.1 L337.8,197.4 L338.2,201.0 L338.7,204.8 L339.1,208.9 L339.5,213.1 L339.9,217.3 L340.3,221.5 L340.7,225.4 L341.1,229.2 L341.5,232.6 L341.9,235.8 L342.3,238.7 L342.7,241.4 L343.1,243.9 L343.6,246.3 L344.0,248.6 L344.4,250.8 L344.8,252.8 L345.2,254.6 L345.6,256.1 L346.0,257.2 L346.4,257.8 L346.8,257.9 L347.2,257.5 L347.6,256.7 L348.0,255.4 L348.4,253.7 L348.9,251.8 L349.3,249.7 L349.7,247.4 L350.1,245.1 L350.5,242.7 L350.9,240.1 L351.3,237.3 L351.7,234.2 L352.1,230.9 L352.5,227.3 L352.9,223.5 L353.3,219.4 L353.7,215.2 L354.2,211.0 L354.6,206.8 L355.0,202.9 L355.4,199.1 L355.8,195.7 L356.2,192.5 L356.6,189.6 L357.0,186.9 L357.4,184.4 L357.8,182.0 L358.2,179.7 L358.6,177.5 L359.0,175.5 L359.5,173.7 L359.9,172.2 L360.3,171.1 L360.7,170.5 L361.1,170.4 L361.5,170.8 L361.9,171.6 L362.3,172.9 L362.7,174.6 L363.1,176.5 L363.5,178.6 L363.9,180.9 L364.3,183.2 L364.8,185.6 L365.2,188.2 L365.6,191.0 L366.0,194.1 L366.4,197.4 L366.8,201.0 L367.2,204.8 L367.6,208.9 L368.0,213.1 L368.4,217.3 L368.8,221.5 L369.2,225.4 L369.7,229.2 L370.1,232.6 L370.5,235.8 L370.9,238.7 L371.3,241.4 L371.7,243.9 L372.1,246.3 L372.5,248.6 L372.9,250.8 L373.3,252.8 L373.7,254.6 L374.1,256.1 L374.5,257.2 L375.0,257.8 L375.4,257.9 L375.8,257.5 L376.2,256.7 L376.6,255.4 L377.0,253.7 L377.4,251.8 L377.8,249.7 L378.2,247.4 L378.6,245.1 L379.0,242.7 L379.4,240.1 L379.8,237.3 L380.3,234.2 L380.7,230.9 L381.1,227.3 L381.5,223.5 L381.9,219.4 L382.3,215.2 L382.7,211.0 L383.1,206.8 L383.5,202.9 L383.9,199.1 L384.3,195.7 L384.7,192.5 L385.1,189.6 L385.6,186.9 L386.0,184.4 L386.4,182.0 L386.8,179.7 L387.2,177.5 L387.6,175.5 L388.0,173.7 L388.4,172.2 L388.8,171.1 L389.2,170.5 L389.6,170.4 L390.0,170.8 L390.5,171.6 L390.9,172.9 L391.3,174.6 L391.7,176.5 L392.1,178.6 L392.5,180.9 L392.9,183.2 L393.3,185.6 L393.7,188.2 L394.1,191.0 L394.5,194.1 L394.9,197.4 L395.3,201.0 L395.8,204.8 L396.2,208.9 L396.6,213.1 L397.0,217.3 L397.4,221.5 L397.8,225.4 L398.2,229.2 L398.6,232.6 L399.0,235.8 L399.4,238.7 L399.8,241.4 L400.2,243.9 L400.6,246.3 L401.1,248.6 L401.5,250.8 L401.9,252.8 L402.3,254.6 L402.7,256.1 L403.1,257.2 L403.5,257.8 L403.9,257.9 L404.3,257.5 L404.7,256.7 L405.1,255.4 L405.5,253.7 L405.9,251.8 L406.4,249.7 L406.8,247.4 L407.2,245.1 L407.6,242.7 L408.0,240.1 L408.4,237.3 L408.8,234.2 L409.2,230.9 L409.6,227.3 L410.0,223.5 L410.4,219.4 L410.8,215.2 L411.2,211.0 L411.7,206.8 L412.1,202.9 L412.5,199.1 L412.9,195.7 L413.3,192.5 L413.7,189.6 L414.1,186.9 L414.5,184.4 L414.9,182.0 L415.3,179.7 L415.7,177.5 L416.1,175.5 L416.6,173.7 L417.0,172.2 L417.4,171.1 L417.8,170.5 L418.2,170.4 L418.6,170.8 L419.0,171.6 L419.4,172.9 L419.8,174.6 L420.2,176.5 L420.6,178.6 L421.0,180.9 L421.4,183.2 L421.9,185.6 L422.3,188.2 L422.7,191.0 L423.1,194.1 L423.5,197.4 L423.9,201.0 L424.3,204.8 L424.7,208.9 L425.1,213.1 L425.5,217.3 L425.9,221.5 L426.3,225.4 L426.7,229.2 L427.2,232.6 L427.6,235.8 L428.0,238.7 L428.4,241.4 L428.8,243.9 L429.2,246.3 L429.6,248.6 L430.0,250.8 L430.4,252.8 L430.8,254.6 L431.2,256.1 L431.6,257.2 L432.0,257.8 L432.5,257.9 L432.9,257.5 L433.3,256.7 L433.7,255.4 L434.1,253.7 L434.5,251.8 L434.9,249.7 L435.3,247.4 L435.7,245.1 L436.1,242.7 L436.5,240.1 L436.9,237.3 L437.4,234.2 L437.8,230.9 L438.2,227.3 L438.6,223.5 L439.0,219.4 L439.4,215.2 L439.8,211.0 L440.2,206.8 L440.6,202.9 L441.0,199.1 L441.4,195.7 L441.8,192.5 L442.2,189.6 L442.7,186.9 L443.1,184.4 L443.5,182.0 L443.9,179.7 L444.3,177.5 L444.7,175.5 L445.1,173.7 L445.5,172.2 L445.9,171.1 L446.3,170.5 L446.7,170.4 L447.1,170.8 L447.5,171.6 L448.0,172.9 L448.4,174.6 L448.8,176.5 L449.2,178.6 L449.6,180.9 L450.0,183.2 L450.4,185.6 L450.8,188.2 L451.2,191.0 L451.6,194.1 L452.0,197.4 L452.4,201.0 L452.8,204.8 L453.3,208.9 L453.7,213.1 L454.1,217.3 L454.5,221.5 L454.9,225.4 L455.3,229.2 L455.7,232.6 L456.1,235.8 L456.5,238.7 L456.9,241.4 L457.3,243.9 L457.7,246.3 L458.1,248.6 L458.6,250.8 L459.0,252.8 L459.4,254.6 L459.8,256.1 L460.2,257.2 L460.6,257.8 L461.0,257.9 L461.4,257.5 L461.8,256.7 L462.2,255.4 L462.6,253.7 L463.0,251.8 L463.5,249.7 L463.9,247.4 L464.3,245.1 L464.7,242.7 L465.1,240.1 L465.5,237.3 L465.9,234.2 L466.3,230.9 L466.7,227.3 L467.1,223.5 L467.5,219.4 L467.9,215.2 L468.3,211.0 L468.8,206.8 L469.2,202.9 L469.6,199.1 L470.0,195.7 L470.4,192.5 L470.8,189.6 L471.2,186.9 L471.6,184.4 L472.0,182.0 L472.4,179.7 L472.8,177.5 L473.2,175.5 L473.6,173.7 L474.1,172.2 L474.5,171.1 L474.9,170.5 L475.3,170.4 L475.7,170.8 L476.1,171.6 L476.5,172.9 L476.9,174.6 L477.3,176.5 L477.7,178.6 L478.1,180.9 L478.5,183.2 L478.9,185.6 L479.4,188.2 L479.8,191.0 L480.2,194.1 L480.6,197.4 L481.0,201.0 L481.4,204.8 L481.8,208.9 L482.2,213.1 L482.6,217.3 L483.0,221.5 L483.4,225.4 L483.8,229.2 L484.3,232.6 L484.7,235.8 L485.1,238.7 L485.5,241.4 L485.9,243.9 L486.3,246.3 L486.7,248.6 L487.1,250.8 L487.5,252.8 L487.9,254.6 L488.3,256.1 L488.7,257.2 L489.1,257.8 L489.6,257.9 L490.0,257.5 L490.4,256.7 L490.8,255.4 L491.2,253.7 L491.6,251.8 L492.0,249.7 L492.4,247.4 L492.8,245.1 L493.2,242.7 L493.6,240.1 L494.0,237.3 L494.4,234.2 L494.9,230.9 L495.3,227.3 L495.7,223.5 L496.1,219.4 L496.5,215.2 L496.9,211.0 L497.3,206.8 L497.7,202.9 L498.1,199.1 L498.5,195.7 L498.9,192.5 L499.3,189.6 L499.7,186.9 L500.2,184.4 L500.6,182.0 L501.0,179.7 L501.4,177.5 L501.8,175.5 L502.2,173.7 L502.6,172.2 L503.0,171.1 L503.4,170.5 L503.8,170.4 L504.2,170.8 L504.6,171.6 L505.0,172.9 L505.5,174.6 L505.9,176.5 L506.3,178.6 L506.7,180.9 L507.1,183.2 L507.5,185.6 L507.9,188.2 L508.3,191.0 L508.7,194.1 L509.1,197.4 L509.5,201.0 L509.9,204.8 L510.4,208.9 L510.8,213.1 L511.2,217.3 L511.6,221.5 L512.0,225.4 L512.4,229.2 L512.8,232.6 L513.2,235.8 L513.6,238.7 L514.0,241.4 L514.4,243.9 L514.8,246.3 L515.2,248.6 L515.7,250.8 L516.1,252.8 L516.5,254.6 L516.9,256.1 L517.3,257.2 L517.7,257.8 L518.1,257.9 L518.5,257.5 L518.9,256.7 L519.3,255.4 L519.7,253.7 L520.1,251.8 L520.5,249.7 L521.0,247.4 L521.4,245.1 L521.8,242.7 L522.2,240.1 L522.6,237.3 L523.0,234.2 L523.4,230.9 L523.8,227.3 L524.2,223.5 L524.6,219.4 L525.0,215.2 L525.4,211.0 L525.8,206.8 L526.3,202.9 L526.7,199.1 L527.1,195.7 L527.5,192.5 L527.9,189.6 L528.3,186.9 L528.7,184.4 L529.1,182.0 L529.5,179.7 L529.9,177.5 L530.3,175.5 L530.7,173.7 L531.2,172.2 L531.6,171.1 L532.0,170.5 L532.4,170.4 L532.8,170.8 L533.2,171.6 L533.6,172.9 L534.0,174.6 L534.4,176.5 L534.8,178.6 L535.2,180.9 L535.6,183.2 L536.0,185.6 L536.5,188.2 L536.9,191.0 L537.3,194.1 L537.7,197.4 L538.1,201.0 L538.5,204.8 L538.9,208.9 L539.3,213.1 L539.7,217.3 L540.1,221.5 L540.5,225.4 L540.9,229.2 L541.3,232.6 L541.8,235.8 L542.2,238.7 L542.6,241.4 L543.0,243.9 L543.4,246.3 L543.8,248.6 L544.2,250.8 L544.6,252.8 L545.0,254.6 L545.4,256.1 L545.8,257.2 L546.2,257.8 L546.6,257.9 L547.1,257.5 L547.5,256.7 L547.9,255.4 L548.3,253.7 L548.7,251.8 L549.1,249.7 L549.5,247.4 L549.9,245.1 L550.3,242.7 L550.7,240.1 L551.1,237.3 L551.5,234.2 L552.0,230.9 L552.4,227.3 L552.8,223.5 L553.2,219.4 L553.6,215.2 L554.0,211.0 L554.4,206.8 L554.8,202.9 L555.2,199.1 L555.6,195.7 L556.0,192.5 L556.4,189.6 L556.8,186.9 L557.3,184.4 L557.7,182.0 L558.1,179.7 L558.5,177.5 L558.9,175.5 L559.3,173.7 L559.7,172.2 L560.1,171.1 L560.5,170.5 L560.9,170.4 L561.3,170.8 L561.7,171.6 L562.1,172.9 L562.6,174.6 L563.0,176.5 L563.4,178.6 L563.8,180.9 L564.2,183.2 L564.6,185.6 L565.0,188.2 L565.4,191.0 L565.8,194.1 L566.2,197.4 L566.6,201.0 L567.0,204.8 L567.4,208.9 L567.9,213.1 L568.3,217.3 L568.7,221.5 L569.1,225.4 L569.5,229.2 L569.9,232.6 L570.3,235.8 L570.7,238.7 L571.1,241.4 L571.5,243.9 L571.9,246.3 L572.3,248.6 L572.7,250.8 L573.2,252.8 L573.6,254.6 L574.0,256.1 L574.4,257.2 L574.8,257.8 L575.2,257.9 L575.6,257.5 L576.0,256.7 L576.4,255.4 L576.8,253.7 L577.2,251.8" stroke="#008000" stroke-width="3.0" fill="none" stroke-linejoin="round" stroke-linecap="round"/></g>
<g clip-path="url(#cbR)"><path transform="scale(0.5667,1)" d="M695.6,214.2 L696.1,214.0 L696.5,214.0 L696.9,213.9 L697.3,214.0 L697.7,214.1 L698.1,214.2 L698.5,214.3 L698.9,214.3 L699.3,214.2 L699.7,214.1 L700.2,213.9 L700.6,213.6 L701.0,213.2 L701.4,212.9 L701.8,212.6 L702.2,212.4 L702.6,212.2 L703.0,212.2 L703.4,212.1 L703.8,212.1 L704.2,212.2 L704.7,212.3 L705.1,212.4 L705.5,212.5 L705.9,212.7 L706.3,212.9 L706.7,213.2 L707.1,213.5 L707.5,213.8 L707.9,214.0 L708.3,214.2 L708.7,214.3 L709.2,214.3 L709.6,214.3 L710.0,214.1 L710.4,214.0 L710.8,214.0 L711.2,213.9 L711.6,214.0 L712.0,214.1 L712.4,214.2 L712.8,214.3 L713.3,214.4 L713.7,214.5 L714.1,214.5 L714.5,214.4 L714.9,214.4 L715.3,214.3 L715.7,214.4 L716.1,214.4 L716.5,214.5 L716.9,214.7 L717.3,214.8 L717.8,214.9 L718.2,215.0 L718.6,215.0 L719.0,214.9 L719.4,214.8 L719.8,214.6 L720.2,214.4 L720.6,214.3 L721.0,214.3 L721.4,214.3 L721.8,214.3 L722.3,214.4 L722.7,214.4 L723.1,214.4 L723.5,214.4 L723.9,214.3 L724.3,214.2 L724.7,214.0 L725.1,214.0 L725.5,213.9 L725.9,214.0 L726.4,214.1 L726.8,214.2 L727.2,214.3 L727.6,214.3 L728.0,214.2 L728.4,214.1 L728.8,213.9 L729.2,213.6 L729.6,213.2 L730.0,212.9 L730.4,212.6 L730.9,212.4 L731.3,212.2 L731.7,212.2 L732.1,212.1 L732.5,212.1 L732.9,212.2 L733.3,212.3 L733.7,212.4 L734.1,212.5 L734.5,212.7 L735.0,212.9 L735.4,213.2 L735.8,213.5 L736.2,213.8 L736.6,214.0 L737.0,214.2 L737.4,214.3 L737.8,214.3 L738.2,214.3 L738.6,214.1 L739.0,214.0 L739.5,214.0 L739.9,213.9 L740.3,214.0 L740.7,214.1 L741.1,214.2 L741.5,214.3 L741.9,214.4 L742.3,214.5 L742.7,214.5 L743.1,214.4 L743.5,214.4 L744.0,214.3 L744.4,214.4 L744.8,214.4 L745.2,214.5 L745.6,214.7 L746.0,214.8 L746.4,214.9 L746.8,215.0 L747.2,215.0 L747.6,214.9 L748.1,214.8 L748.5,214.6 L748.9,214.4 L749.3,214.3 L749.7,214.3 L750.1,214.3 L750.5,214.3 L750.9,214.4 L751.3,214.4 L751.7,214.4 L752.1,214.4 L752.6,214.3 L753.0,214.2 L753.4,214.0 L753.8,214.0 L754.2,213.9 L754.6,214.0 L755.0,214.1 L755.4,214.2 L755.8,214.3 L756.2,214.3 L756.6,214.2 L757.1,214.1 L757.5,213.9 L757.9,213.6 L758.3,213.2 L758.7,212.9 L759.1,212.6 L759.5,212.4 L759.9,212.2 L760.3,212.2 L760.7,212.1 L761.2,212.1 L761.6,212.2 L762.0,212.3 L762.4,212.4 L762.8,212.5 L763.2,212.7 L763.6,212.9 L764.0,213.2 L764.4,213.5 L764.8,213.8 L765.2,214.0 L765.7,214.2 L766.1,214.3 L766.5,214.3 L766.9,214.3 L767.3,214.1 L767.7,214.2 L768.1,214.5 L768.5,215.2 L768.9,216.0 L769.3,217.1 L769.8,218.4 L770.2,219.8 L770.6,221.3 L771.0,222.9 L771.4,224.6 L771.8,226.4 L772.2,228.2 L772.6,230.1 L773.0,232.0 L773.4,233.8 L773.8,235.4 L774.3,236.9 L774.7,238.0 L775.1,238.8 L775.5,239.3 L775.9,239.5 L776.3,239.5 L776.7,239.1 L777.1,238.5 L777.5,237.8 L777.9,236.9 L778.3,235.8 L778.8,234.5 L779.2,232.9 L779.6,231.1 L780.0,228.9 L780.4,226.4 L780.8,223.5 L781.2,220.3 L781.6,216.7 L782.0,213.0 L782.4,209.2 L782.9,205.3 L783.3,201.6 L783.7,198.0 L784.1,194.7 L784.5,191.5 L784.9,188.5 L785.3,185.7 L785.7,183.1 L786.1,180.5 L786.5,178.1 L786.9,175.8 L787.4,173.7 L787.8,172.0 L788.2,170.7 L788.6,169.9 L789.0,169.5 L789.4,169.7 L789.8,170.4 L790.2,171.6 L790.6,173.2 L791.0,175.1 L791.4,177.3 L791.9,179.5 L792.3,181.9 L792.7,184.4 L793.1,187.0 L793.5,189.8 L793.9,192.7 L794.3,196.0 L794.7,199.4 L795.1,203.2 L795.5,207.1 L796.0,211.2 L796.4,215.4 L796.8,219.5 L797.2,223.4 L797.6,227.2 L798.0,230.6 L798.4,233.7 L798.8,236.6 L799.2,239.2 L799.6,241.7 L800.0,244.0 L800.5,246.2 L800.9,248.3 L801.3,250.2 L801.7,252.0 L802.1,253.6 L802.5,254.8 L802.9,255.6 L803.3,256.0 L803.7,255.9 L804.1,255.3 L804.6,254.2 L805.0,252.8 L805.4,251.1 L805.8,249.2 L806.2,247.1 L806.6,244.9 L807.0,242.7 L807.4,240.3 L807.8,237.7 L808.2,234.9 L808.6,231.9 L809.1,228.5 L809.5,224.9 L809.9,221.1 L810.3,217.0 L810.7,212.9 L811.1,208.8 L811.5,204.8 L811.9,201.1 L812.3,197.6 L812.7,194.3 L813.1,191.4 L813.6,188.6 L814.0,186.1 L814.4,183.6 L814.8,181.3 L815.2,179.1 L815.6,177.1 L816.0,175.2 L816.4,173.6 L816.8,172.3 L817.2,171.5 L817.7,171.1 L818.1,171.3 L818.5,171.9 L818.9,173.0 L819.3,174.5 L819.7,176.3 L820.1,178.3 L820.5,180.5 L820.9,182.7 L821.3,185.1 L821.7,187.6 L822.2,190.2 L822.6,193.1 L823.0,196.2 L823.4,199.6 L823.8,203.3 L824.2,207.2 L824.6,211.3 L825.0,215.4 L825.4,219.5 L825.8,223.4 L826.2,227.2 L826.7,230.7 L827.1,233.8 L827.5,236.8 L827.9,239.4 L828.3,241.9 L828.7,244.3 L829.1,246.5 L829.5,248.6 L829.9,250.6 L830.3,252.4 L830.8,254.0 L831.2,255.2 L831.6,256.0 L832.0,256.3 L832.4,256.1 L832.8,255.4 L833.2,254.3 L833.6,252.8 L834.0,251.0 L834.4,249.1 L834.8,246.9 L835.3,244.7 L835.7,242.4 L836.1,240.0 L836.5,237.4 L836.9,234.6 L837.3,231.6 L837.7,228.2 L838.1,224.7 L838.5,220.9 L838.9,217.0 L839.4,212.9 L839.8,209.0 L840.2,205.1 L840.6,201.5 L841.0,198.2 L841.4,195.1 L841.8,192.3 L842.2,189.7 L842.6,187.3 L843.0,185.0 L843.4,182.8 L843.9,180.8 L844.3,178.8 L844.7,177.1 L845.1,175.6 L845.5,174.4 L845.9,173.6 L846.3,173.3 L846.7,173.5 L847.1,174.1 L847.5,175.2 L847.9,176.6 L848.4,178.3 L848.8,180.2 L849.2,182.2 L849.6,184.4 L850.0,186.6 L850.4,189.0 L850.8,191.5 L851.2,194.2 L851.6,197.2 L852.0,200.4 L852.5,203.8 L852.9,207.5 L853.3,211.4 L853.7,215.3 L854.1,219.2 L854.5,223.0 L854.9,226.6 L855.3,229.9 L855.7,232.9 L856.1,235.7 L856.5,238.3 L857.0,240.7 L857.4,243.0 L857.8,245.1 L858.2,247.2 L858.6,249.2 L859.0,250.9 L859.4,252.4 L859.8,253.6 L860.2,254.4 L860.6,254.8 L861.0,254.6 L861.5,254.0 L861.9,253.0 L862.3,251.6 L862.7,249.9 L863.1,248.0 L863.5,246.0 L863.9,243.9 L864.3,241.6 L864.7,239.3 L865.1,236.8 L865.6,234.1 L866.0,231.1 L866.4,227.9 L866.8,224.5 L867.2,220.8 L867.6,216.9 L868.0,213.0 L868.4,209.1 L868.8,205.3 L869.2,201.7 L869.6,198.4 L870.1,195.4 L870.5,192.6 L870.9,190.0 L871.3,187.6 L871.7,185.3 L872.1,183.2 L872.5,181.1 L872.9,179.1 L873.3,177.4 L873.7,175.9 L874.2,174.7 L874.6,173.9 L875.0,173.5 L875.4,173.7 L875.8,174.3 L876.2,175.3 L876.6,176.7 L877.0,178.4 L877.4,180.3 L877.8,182.3 L878.2,184.4 L878.7,186.7 L879.1,189.0 L879.5,191.5 L879.9,194.2 L880.3,197.2 L880.7,200.4 L881.1,203.8 L881.5,207.5 L881.9,211.4 L882.3,215.3 L882.7,219.2 L883.2,223.0 L883.6,226.6 L884.0,229.9 L884.4,232.9 L884.8,235.7 L885.2,238.3 L885.6,240.7 L886.0,243.0 L886.4,245.1 L886.8,247.2 L887.3,249.2 L887.7,250.9 L888.1,252.4 L888.5,253.6 L888.9,254.4 L889.3,254.8 L889.7,254.6 L890.1,254.0 L890.5,253.0 L890.9,251.6 L891.3,249.9 L891.8,248.0 L892.2,246.0 L892.6,243.9 L893.0,241.6 L893.4,239.3 L893.8,236.8 L894.2,234.1 L894.6,231.1 L895.0,227.9 L895.4,224.5 L895.8,220.8 L896.3,216.9 L896.7,213.0 L897.1,209.1 L897.5,205.3 L897.9,201.7 L898.3,198.4 L898.7,195.4 L899.1,192.6 L899.5,190.0 L899.9,187.6 L900.4,185.3 L900.8,183.2 L901.2,181.1 L901.6,179.1 L902.0,177.4 L902.4,175.9 L902.8,174.7 L903.2,173.9 L903.6,173.5 L904.0,173.7 L904.4,174.3 L904.9,175.3 L905.3,176.7 L905.7,178.4 L906.1,180.3 L906.5,182.3 L906.9,184.4 L907.3,186.7 L907.7,189.0 L908.1,191.5 L908.5,194.2 L909.0,197.2 L909.4,200.4 L909.8,203.8 L910.2,207.5 L910.6,211.4 L911.0,215.3 L911.4,219.2 L911.8,223.0 L912.2,226.6 L912.6,229.9 L913.0,232.9 L913.5,235.7 L913.9,238.3 L914.3,240.7 L914.7,243.0 L915.1,245.1 L915.5,247.2 L915.9,249.2 L916.3,250.9 L916.7,252.4 L917.1,253.6 L917.5,254.4 L918.0,254.8 L918.4,254.6 L918.8,254.0 L919.2,253.0 L919.6,251.6 L920.0,249.9 L920.4,248.0 L920.8,246.0 L921.2,243.9 L921.6,241.6 L922.1,239.3 L922.5,236.8 L922.9,234.1 L923.3,231.1 L923.7,227.9 L924.1,224.5 L924.5,220.8 L924.9,216.9 L925.3,213.0 L925.7,209.1 L926.1,205.3 L926.6,201.7 L927.0,198.4 L927.4,195.4 L927.8,192.6 L928.2,190.0 L928.6,187.6 L929.0,185.3 L929.4,183.2 L929.8,181.1 L930.2,179.1 L930.6,177.4 L931.1,175.9 L931.5,174.7 L931.9,173.9 L932.3,173.5 L932.7,173.7 L933.1,174.3 L933.5,175.3 L933.9,176.7 L934.3,178.4 L934.7,180.3 L935.2,182.3 L935.6,184.4 L936.0,186.7 L936.4,189.0 L936.8,191.5 L937.2,194.2 L937.6,197.2 L938.0,200.4 L938.4,203.8 L938.8,207.5 L939.2,211.4 L939.7,215.3 L940.1,219.2 L940.5,223.0 L940.9,226.6 L941.3,229.9 L941.7,232.9 L942.1,235.7 L942.5,238.3 L942.9,240.7 L943.3,243.0 L943.8,245.1 L944.2,247.2 L944.6,249.2 L945.0,250.9 L945.4,252.4 L945.8,253.6 L946.2,254.4 L946.6,254.8 L947.0,254.6 L947.4,254.0 L947.8,253.0 L948.3,251.6 L948.7,249.9 L949.1,248.0 L949.5,246.0 L949.9,243.9 L950.3,241.6 L950.7,239.3 L951.1,236.8 L951.5,234.1 L951.9,231.1 L952.3,227.9 L952.8,224.5 L953.2,220.8 L953.6,216.9 L954.0,213.0 L954.4,209.1 L954.8,205.3 L955.2,201.7 L955.6,198.4 L956.0,195.4 L956.4,192.6 L956.9,190.0 L957.3,187.6 L957.7,185.3 L958.1,183.2 L958.5,181.1 L958.9,179.1 L959.3,177.4 L959.7,175.9 L960.1,174.7 L960.5,173.9 L960.9,173.5 L961.4,173.7 L961.8,174.3 L962.2,175.3 L962.6,176.7 L963.0,178.4 L963.4,180.3 L963.8,182.3 L964.2,184.4 L964.6,186.7 L965.0,189.0 L965.4,191.5 L965.9,194.2 L966.3,197.2 L966.7,200.4 L967.1,203.8 L967.5,207.5 L967.9,211.4 L968.3,215.3 L968.7,219.2 L969.1,223.0 L969.5,226.6 L970.0,229.9 L970.4,232.9 L970.8,235.7 L971.2,238.3 L971.6,240.7 L972.0,243.0 L972.4,245.1 L972.8,247.2 L973.2,249.2 L973.6,250.9 L974.0,252.4 L974.5,253.6 L974.9,254.4 L975.3,254.8 L975.7,254.6 L976.1,254.0 L976.5,253.0 L976.9,251.6 L977.3,249.9 L977.7,248.0 L978.1,246.0 L978.6,243.9 L979.0,241.6 L979.4,239.3 L979.8,236.8 L980.2,234.1 L980.6,231.1 L981.0,227.9 L981.4,224.5 L981.8,220.8 L982.2,216.9 L982.6,213.0 L983.1,209.1 L983.5,205.3 L983.9,201.7 L984.3,198.4 L984.7,195.4 L985.1,192.6 L985.5,190.0 L985.9,187.6 L986.3,185.3 L986.7,183.2 L987.1,181.1 L987.6,179.1 L988.0,177.4 L988.4,175.9 L988.8,174.7 L989.2,173.9 L989.6,173.5 L990.0,173.7 L990.4,174.3 L990.8,175.3 L991.2,176.7 L991.7,178.4 L992.1,180.3 L992.5,182.3 L992.9,184.4 L993.3,186.7 L993.7,189.0 L994.1,191.5 L994.5,194.2 L994.9,197.2 L995.3,200.4 L995.7,203.8 L996.2,207.5 L996.6,211.4 L997.0,215.3 L997.4,219.2 L997.8,223.0 L998.2,226.6 L998.6,229.9 L999.0,232.9 L999.4,235.7 L999.8,238.3 L1000.2,240.7 L1000.7,243.0 L1001.1,245.1 L1001.5,247.2 L1001.9,249.2 L1002.3,250.9 L1002.7,252.4 L1003.1,253.6 L1003.5,254.4 L1003.9,254.8 L1004.3,254.6 L1004.8,254.0 L1005.2,253.0 L1005.6,251.6 L1006.0,249.9 L1006.4,248.0 L1006.8,246.0 L1007.2,243.9 L1007.6,241.6 L1008.0,239.3 L1008.4,236.8 L1008.8,234.1 L1009.3,231.1 L1009.7,227.9 L1010.1,224.5 L1010.5,220.8 L1010.9,216.9 L1011.3,213.0 L1011.7,209.1 L1012.1,205.3 L1012.5,201.7 L1012.9,198.4 L1013.4,195.4 L1013.8,192.6 L1014.2,190.0 L1014.6,187.6 L1015.0,185.3 L1015.4,183.2 L1015.8,181.1 L1016.2,179.1 L1016.6,177.4 L1017.0,175.9 L1017.4,174.7 L1017.9,173.9 L1018.3,173.5 L1018.7,173.7 L1019.1,174.3 L1019.5,175.3 L1019.9,176.7 L1020.3,178.4 L1020.7,180.3 L1021.1,182.3 L1021.5,184.4 L1021.9,186.7 L1022.4,189.0 L1022.8,191.5 L1023.2,194.2 L1023.6,197.2 L1024.0,200.4 L1024.4,203.8 L1024.8,207.5 L1025.2,211.4 L1025.6,215.3 L1026.0,219.2 L1026.5,223.0 L1026.9,226.6 L1027.3,229.9 L1027.7,232.9 L1028.1,235.7 L1028.5,238.3 L1028.9,240.7 L1029.3,243.0 L1029.7,245.1 L1030.1,247.2 L1030.5,249.2 L1031.0,250.9 L1031.4,252.4 L1031.8,253.6 L1032.2,254.4 L1032.6,254.8 L1033.0,254.6 L1033.4,254.0 L1033.8,253.0 L1034.2,251.6 L1034.6,249.9 L1035.0,248.0 L1035.5,246.0 L1035.9,243.9 L1036.3,241.6 L1036.7,239.3 L1037.1,236.8 L1037.5,234.1 L1037.9,231.1 L1038.3,227.9 L1038.7,224.5 L1039.1,220.8 L1039.6,216.9 L1040.0,213.0 L1040.4,209.1 L1040.8,205.3 L1041.2,201.7 L1041.6,198.4 L1042.0,195.4 L1042.4,192.6 L1042.8,190.0 L1043.2,187.6 L1043.6,185.3 L1044.1,183.2 L1044.5,181.1 L1044.9,179.1 L1045.3,177.4 L1045.7,175.9 L1046.1,174.7 L1046.5,173.9 L1046.9,173.5 L1047.3,173.7 L1047.7,174.3 L1048.2,175.3 L1048.6,176.7 L1049.0,178.4 L1049.4,180.3 L1049.8,182.3 L1050.2,184.4 L1050.6,186.7 L1051.0,189.0 L1051.4,191.5 L1051.8,194.2 L1052.2,197.2 L1052.7,200.4 L1053.1,203.8 L1053.5,207.5 L1053.9,211.4 L1054.3,215.3 L1054.7,219.2 L1055.1,223.0 L1055.5,226.6 L1055.9,229.9 L1056.3,232.9 L1056.7,235.7 L1057.2,238.3 L1057.6,240.7 L1058.0,243.0 L1058.4,245.1 L1058.8,247.2 L1059.2,249.2 L1059.6,250.9 L1060.0,252.4 L1060.4,253.6 L1060.8,254.4 L1061.3,254.8 L1061.7,254.6 L1062.1,254.0 L1062.5,253.0 L1062.9,251.6 L1063.3,249.9 L1063.7,248.0 L1064.1,246.0 L1064.5,243.9 L1064.9,241.6 L1065.3,239.3 L1065.8,236.8 L1066.2,234.1 L1066.6,231.1 L1067.0,227.9 L1067.4,224.5 L1067.8,220.8 L1068.2,216.9 L1068.6,213.0 L1069.0,209.1 L1069.4,205.3 L1069.8,201.7 L1070.3,198.4 L1070.7,195.4 L1071.1,192.6 L1071.5,190.0 L1071.9,187.6 L1072.3,185.3 L1072.7,183.2 L1073.1,181.1 L1073.5,179.1 L1073.9,177.4 L1074.4,175.9 L1074.8,174.7 L1075.2,173.9 L1075.6,173.5 L1076.0,173.7 L1076.4,174.3 L1076.8,175.3 L1077.2,176.7 L1077.6,178.4 L1078.0,180.3 L1078.4,182.3 L1078.9,184.4 L1079.3,186.7 L1079.7,189.0 L1080.1,191.5 L1080.5,194.2 L1080.9,197.2 L1081.3,200.4 L1081.7,203.8 L1082.1,207.5 L1082.5,211.4 L1083.0,215.3 L1083.4,219.2 L1083.8,223.0 L1084.2,226.6 L1084.6,229.9 L1085.0,232.9 L1085.4,235.7 L1085.8,238.3 L1086.2,240.7 L1086.6,243.0 L1087.0,245.1 L1087.5,247.2 L1087.9,249.2 L1088.3,250.9 L1088.7,252.4 L1089.1,253.6 L1089.5,254.4 L1089.9,254.8 L1090.3,254.6 L1090.7,254.0 L1091.1,253.0 L1091.5,251.6 L1092.0,249.9 L1092.4,248.0 L1092.8,246.0 L1093.2,243.9 L1093.6,241.6 L1094.0,239.3 L1094.4,236.8 L1094.8,234.1 L1095.2,231.1 L1095.6,227.9 L1096.1,224.5 L1096.5,220.8 L1096.9,216.9 L1097.3,213.0 L1097.7,209.1 L1098.1,205.3 L1098.5,201.7 L1098.9,198.4 L1099.3,195.4 L1099.7,192.6 L1100.1,190.0 L1100.6,187.6 L1101.0,185.3 L1101.4,183.2 L1101.8,181.1 L1102.2,179.1 L1102.6,177.4 L1103.0,175.9 L1103.4,174.7 L1103.8,173.9 L1104.2,173.5 L1104.6,173.7 L1105.1,174.3 L1105.5,175.3 L1105.9,176.7 L1106.3,178.4 L1106.7,180.3 L1107.1,182.3 L1107.5,184.4 L1107.9,186.7 L1108.3,189.0 L1108.7,191.5 L1109.2,194.2 L1109.6,197.2 L1110.0,200.4 L1110.4,203.8 L1110.8,207.5 L1111.2,211.4 L1111.6,215.3 L1112.0,219.2 L1112.4,223.0 L1112.8,226.6 L1113.2,229.9 L1113.7,232.9 L1114.1,235.7 L1114.5,238.3 L1114.9,240.7 L1115.3,243.0 L1115.7,245.1 L1116.1,247.2 L1116.5,249.2 L1116.9,250.9 L1117.3,252.4 L1117.8,253.6 L1118.2,254.4 L1118.6,254.8 L1119.0,254.6 L1119.4,254.0 L1119.8,253.0 L1120.2,251.6 L1120.6,249.9 L1121.0,248.0 L1121.4,246.0 L1121.8,243.9 L1122.3,241.6 L1122.7,239.3 L1123.1,236.8 L1123.5,234.1 L1123.9,231.1 L1124.3,227.9 L1124.7,224.5 L1125.1,220.8 L1125.5,216.9 L1125.9,213.0 L1126.3,209.1 L1126.8,205.3 L1127.2,201.7 L1127.6,198.4 L1128.0,195.4 L1128.4,192.6 L1128.8,190.0 L1129.2,187.6 L1129.6,185.3 L1130.0,183.2 L1130.4,181.1 L1130.9,179.1 L1131.3,177.4 L1131.7,175.9 L1132.1,174.7 L1132.5,173.9 L1132.9,173.5 L1133.3,173.7 L1133.7,174.3 L1134.1,175.3 L1134.5,176.7 L1134.9,178.4 L1135.4,180.3 L1135.8,182.3 L1136.2,184.4 L1136.6,186.7 L1137.0,189.0 L1137.4,191.5 L1137.8,194.2 L1138.2,197.2 L1138.6,200.4 L1139.0,203.8 L1139.4,207.5 L1139.9,211.4 L1140.3,215.3 L1140.7,219.2 L1141.1,223.0 L1141.5,226.6 L1141.9,229.9 L1142.3,232.9 L1142.7,235.7 L1143.1,238.3 L1143.5,240.7 L1144.0,243.0 L1144.4,245.1 L1144.8,247.2 L1145.2,249.2 L1145.6,250.9 L1146.0,252.4 L1146.4,253.6 L1146.8,254.4 L1147.2,254.8 L1147.6,254.6 L1148.0,254.0 L1148.5,253.0 L1148.9,251.6 L1149.3,249.9 L1149.7,248.0 L1150.1,246.0 L1150.5,243.9 L1150.9,241.6 L1151.3,239.3 L1151.7,236.8 L1152.1,234.1 L1152.6,231.1 L1153.0,227.9 L1153.4,224.5 L1153.8,220.8 L1154.2,216.9 L1154.6,213.0 L1155.0,209.1 L1155.4,205.3 L1155.8,201.7 L1156.2,198.4 L1156.6,195.4 L1157.1,192.6 L1157.5,190.0 L1157.9,187.6 L1158.3,185.3 L1158.7,183.2 L1159.1,181.1 L1159.5,179.1 L1159.9,177.4 L1160.3,175.9 L1160.7,174.7 L1161.1,173.9 L1161.6,173.5 L1162.0,173.7 L1162.4,174.3 L1162.8,175.3 L1163.2,176.7 L1163.6,178.4 L1164.0,180.3 L1164.4,182.3 L1164.8,184.4 L1165.2,186.7 L1165.7,189.0 L1166.1,191.5 L1166.5,194.2 L1166.9,197.2 L1167.3,200.4 L1167.7,203.8 L1168.1,207.5 L1168.5,211.4 L1168.9,215.3 L1169.3,219.2 L1169.7,223.0 L1170.2,226.6 L1170.6,229.9 L1171.0,232.9 L1171.4,235.7 L1171.8,238.3 L1172.2,240.7 L1172.6,243.0 L1173.0,245.1 L1173.4,247.2 L1173.8,249.2 L1174.2,250.9 L1174.7,252.4 L1175.1,253.6 L1175.5,254.4 L1175.9,254.8 L1176.3,254.6 L1176.7,254.0 L1177.1,253.0 L1177.5,251.6 L1177.9,249.9 L1178.3,248.0 L1178.8,246.0 L1179.2,243.9 L1179.6,241.6 L1180.0,239.3 L1180.4,236.8 L1180.8,234.1 L1181.2,231.1 L1181.6,227.9 L1182.0,224.5 L1182.4,220.8 L1182.8,216.9 L1183.3,213.0 L1183.7,209.1 L1184.1,205.3 L1184.5,201.7 L1184.9,198.4 L1185.3,195.4 L1185.7,192.6 L1186.1,190.0 L1186.5,187.6 L1186.9,185.3 L1187.4,183.2 L1187.8,181.1 L1188.2,179.1 L1188.6,177.4 L1189.0,175.9 L1189.4,174.7 L1189.8,173.9 L1190.2,173.5 L1190.6,173.7 L1191.0,174.3 L1191.4,175.3 L1191.9,176.7 L1192.3,178.4 L1192.7,180.3 L1193.1,182.3 L1193.5,184.4 L1193.9,186.7 L1194.3,189.0 L1194.7,191.5 L1195.1,194.2 L1195.5,197.2 L1195.9,200.4 L1196.4,203.8 L1196.8,207.5 L1197.2,211.4" stroke="#0000ff" stroke-width="3.0" fill="none" stroke-linejoin="round" stroke-linecap="round"/></g>
<g clip-path="url(#cbR)"><path transform="scale(0.5667,1)" d="M695.6,214.5 L696.1,214.5 L696.5,214.5 L696.9,214.5 L697.3,214.5 L697.7,214.5 L698.1,214.4 L698.5,214.4 L698.9,214.3 L699.3,214.3 L699.7,214.3 L700.2,214.3 L700.6,214.3 L701.0,214.3 L701.4,214.4 L701.8,214.4 L702.2,214.5 L702.6,214.6 L703.0,214.6 L703.4,214.7 L703.8,214.8 L704.2,214.8 L704.7,214.9 L705.1,214.9 L705.5,215.0 L705.9,215.0 L706.3,214.9 L706.7,214.9 L707.1,214.9 L707.5,214.8 L707.9,214.7 L708.3,214.6 L708.7,214.5 L709.2,214.4 L709.6,214.3 L710.0,214.3 L710.4,214.2 L710.8,214.1 L711.2,214.0 L711.6,213.9 L712.0,213.8 L712.4,213.8 L712.8,213.7 L713.3,213.7 L713.7,213.7 L714.1,213.6 L714.5,213.6 L714.9,213.6 L715.3,213.6 L715.7,213.6 L716.1,213.6 L716.5,213.6 L716.9,213.6 L717.3,213.6 L717.8,213.6 L718.2,213.7 L718.6,213.7 L719.0,213.7 L719.4,213.7 L719.8,213.8 L720.2,213.8 L720.6,213.8 L721.0,213.8 L721.4,213.8 L721.8,213.8 L722.3,213.8 L722.7,213.8 L723.1,213.8 L723.5,213.8 L723.9,213.8 L724.3,213.8 L724.7,213.8 L725.1,213.8 L725.5,213.9 L725.9,213.9 L726.4,214.0 L726.8,214.1 L727.2,214.2 L727.6,214.4 L728.0,214.5 L728.4,214.6 L728.8,214.8 L729.2,214.9 L729.6,215.0 L730.0,215.1 L730.4,215.1 L730.9,215.1 L731.3,215.1 L731.7,215.1 L732.1,215.1 L732.5,215.0 L732.9,214.9 L733.3,214.8 L733.7,214.7 L734.1,214.5 L734.5,214.4 L735.0,214.3 L735.4,214.2 L735.8,214.2 L736.2,214.1 L736.6,214.1 L737.0,214.1 L737.4,214.1 L737.8,214.2 L738.2,214.2 L738.6,214.3 L739.0,214.4 L739.5,214.4 L739.9,214.5 L740.3,214.5 L740.7,214.5 L741.1,214.5 L741.5,214.4 L741.9,214.3 L742.3,214.2 L742.7,214.1 L743.1,213.9 L743.5,213.8 L744.0,213.6 L744.4,213.4 L744.8,213.3 L745.2,213.2 L745.6,213.0 L746.0,213.0 L746.4,212.9 L746.8,213.0 L747.2,213.0 L747.6,213.1 L748.1,213.2 L748.5,213.3 L748.9,213.5 L749.3,213.7 L749.7,213.8 L750.1,214.0 L750.5,214.2 L750.9,214.3 L751.3,214.4 L751.7,214.4 L752.1,214.5 L752.6,214.5 L753.0,214.4 L753.4,214.4 L753.8,214.3 L754.2,214.2 L754.6,214.1 L755.0,214.1 L755.4,214.0 L755.8,214.0 L756.2,213.9 L756.6,213.9 L757.1,214.0 L757.5,214.1 L757.9,214.2 L758.3,214.3 L758.7,214.4 L759.1,214.6 L759.5,214.7 L759.9,214.9 L760.3,215.0 L760.7,215.1 L761.2,215.2 L761.6,215.3 L762.0,215.3 L762.4,215.3 L762.8,215.2 L763.2,215.1 L763.6,215.0 L764.0,214.9 L764.4,214.7 L764.8,214.6 L765.2,214.4 L765.7,214.3 L766.1,214.1 L766.5,214.0 L766.9,213.9 L767.3,213.8 L767.7,212.8 L768.1,211.3 L768.5,209.7 L768.9,208.0 L769.3,206.4 L769.8,204.9 L770.2,203.6 L770.6,202.5 L771.0,201.6 L771.4,201.1 L771.8,200.9 L772.2,200.9 L772.6,201.2 L773.0,201.5 L773.4,202.0 L773.8,202.7 L774.3,203.5 L774.7,204.5 L775.1,205.7 L775.5,207.1 L775.9,208.7 L776.3,210.5 L776.7,212.5 L777.1,214.6 L777.5,216.8 L777.9,218.9 L778.3,221.1 L778.8,223.2 L779.2,225.1 L779.6,227.0 L780.0,228.8 L780.4,230.5 L780.8,232.2 L781.2,233.9 L781.6,235.5 L782.0,237.2 L782.4,238.8 L782.9,240.2 L783.3,241.5 L783.7,242.6 L784.1,243.4 L784.5,243.9 L784.9,244.1 L785.3,243.9 L785.7,243.4 L786.1,242.7 L786.5,241.8 L786.9,240.7 L787.4,239.5 L787.8,238.1 L788.2,236.5 L788.6,234.7 L789.0,232.6 L789.4,230.3 L789.8,227.5 L790.2,224.4 L790.6,221.0 L791.0,217.3 L791.4,213.4 L791.9,209.3 L792.3,205.3 L792.7,201.4 L793.1,197.7 L793.5,194.2 L793.9,190.9 L794.3,187.8 L794.7,184.9 L795.1,182.2 L795.5,179.5 L796.0,177.0 L796.4,174.7 L796.8,172.5 L797.2,170.7 L797.6,169.3 L798.0,168.4 L798.4,168.0 L798.8,168.2 L799.2,168.9 L799.6,170.1 L800.0,171.8 L800.5,173.8 L800.9,176.0 L801.3,178.4 L801.7,180.9 L802.1,183.5 L802.5,186.2 L802.9,189.0 L803.3,192.1 L803.7,195.3 L804.1,198.9 L804.6,202.7 L805.0,206.7 L805.4,210.8 L805.8,215.0 L806.2,219.1 L806.6,223.1 L807.0,226.8 L807.4,230.2 L807.8,233.3 L808.2,236.2 L808.6,238.8 L809.1,241.2 L809.5,243.4 L809.9,245.6 L810.3,247.6 L810.7,249.6 L811.1,251.4 L811.5,252.9 L811.9,254.2 L812.3,255.0 L812.7,255.4 L813.1,255.3 L813.6,254.7 L814.0,253.7 L814.4,252.3 L814.8,250.7 L815.2,248.8 L815.6,246.8 L816.0,244.6 L816.4,242.4 L816.8,240.0 L817.2,237.5 L817.7,234.8 L818.1,231.8 L818.5,228.5 L818.9,225.0 L819.3,221.3 L819.7,217.4 L820.1,213.3 L820.5,209.4 L820.9,205.5 L821.3,201.8 L821.7,198.4 L822.2,195.2 L822.6,192.3 L823.0,189.6 L823.4,187.2 L823.8,184.8 L824.2,182.6 L824.6,180.4 L825.0,178.4 L825.4,176.6 L825.8,175.0 L826.2,173.7 L826.7,172.9 L827.1,172.5 L827.5,172.6 L827.9,173.2 L828.3,174.2 L828.7,175.6 L829.1,177.3 L829.5,179.2 L829.9,181.3 L830.3,183.4 L830.8,185.7 L831.2,188.1 L831.6,190.7 L832.0,193.4 L832.4,196.4 L832.8,199.7 L833.2,203.2 L833.6,207.0 L834.0,210.9 L834.4,215.0 L834.8,219.0 L835.3,222.8 L835.7,226.5 L836.1,230.0 L836.5,233.1 L836.9,236.0 L837.3,238.7 L837.7,241.2 L838.1,243.5 L838.5,245.7 L838.9,247.9 L839.4,249.9 L839.8,251.7 L840.2,253.3 L840.6,254.6 L841.0,255.4 L841.4,255.8 L841.8,255.7 L842.2,255.1 L842.6,254.1 L843.0,252.7 L843.4,251.0 L843.9,249.1 L844.3,247.0 L844.7,244.9 L845.1,242.6 L845.5,240.2 L845.9,237.6 L846.3,234.9 L846.7,231.9 L847.1,228.6 L847.5,225.1 L847.9,221.3 L848.4,217.4 L848.8,213.3 L849.2,209.3 L849.6,205.5 L850.0,201.8 L850.4,198.3 L850.8,195.2 L851.2,192.3 L851.6,189.6 L852.0,187.1 L852.5,184.8 L852.9,182.6 L853.3,180.4 L853.7,178.4 L854.1,176.6 L854.5,175.0 L854.9,173.7 L855.3,172.9 L855.7,172.5 L856.1,172.6 L856.5,173.2 L857.0,174.2 L857.4,175.6 L857.8,177.3 L858.2,179.2 L858.6,181.3 L859.0,183.4 L859.4,185.7 L859.8,188.1 L860.2,190.7 L860.6,193.4 L861.0,196.4 L861.5,199.7 L861.9,203.2 L862.3,207.0 L862.7,210.9 L863.1,215.0 L863.5,219.0 L863.9,222.8 L864.3,226.5 L864.7,230.0 L865.1,233.1 L865.6,236.0 L866.0,238.7 L866.4,241.2 L866.8,243.5 L867.2,245.7 L867.6,247.9 L868.0,249.9 L868.4,251.7 L868.8,253.3 L869.2,254.6 L869.6,255.4 L870.1,255.8 L870.5,255.7 L870.9,255.1 L871.3,254.1 L871.7,252.7 L872.1,251.0 L872.5,249.1 L872.9,247.0 L873.3,244.9 L873.7,242.6 L874.2,240.2 L874.6,237.6 L875.0,234.9 L875.4,231.9 L875.8,228.6 L876.2,225.1 L876.6,221.3 L877.0,217.4 L877.4,213.3 L877.8,209.3 L878.2,205.5 L878.7,201.8 L879.1,198.3 L879.5,195.2 L879.9,192.3 L880.3,189.6 L880.7,187.1 L881.1,184.8 L881.5,182.6 L881.9,180.4 L882.3,178.4 L882.7,176.6 L883.2,175.0 L883.6,173.7 L884.0,172.9 L884.4,172.5 L884.8,172.6 L885.2,173.2 L885.6,174.2 L886.0,175.6 L886.4,177.3 L886.8,179.2 L887.3,181.3 L887.7,183.4 L888.1,185.7 L888.5,188.1 L888.9,190.7 L889.3,193.4 L889.7,196.4 L890.1,199.7 L890.5,203.2 L890.9,207.0 L891.3,210.9 L891.8,215.0 L892.2,219.0 L892.6,222.8 L893.0,226.5 L893.4,230.0 L893.8,233.1 L894.2,236.0 L894.6,238.7 L895.0,241.2 L895.4,243.5 L895.8,245.7 L896.3,247.9 L896.7,249.9 L897.1,251.7 L897.5,253.3 L897.9,254.6 L898.3,255.4 L898.7,255.8 L899.1,255.7 L899.5,255.1 L899.9,254.1 L900.4,252.7 L900.8,251.0 L901.2,249.1 L901.6,247.0 L902.0,244.9 L902.4,242.6 L902.8,240.2 L903.2,237.6 L903.6,234.9 L904.0,231.9 L904.4,228.6 L904.9,225.1 L905.3,221.3 L905.7,217.4 L906.1,213.3 L906.5,209.3 L906.9,205.5 L907.3,201.8 L907.7,198.3 L908.1,195.2 L908.5,192.3 L909.0,189.6 L909.4,187.1 L909.8,184.8 L910.2,182.6 L910.6,180.4 L911.0,178.4 L911.4,176.6 L911.8,175.0 L912.2,173.7 L912.6,172.9 L913.0,172.5 L913.5,172.6 L913.9,173.2 L914.3,174.2 L914.7,175.6 L915.1,177.3 L915.5,179.2 L915.9,181.3 L916.3,183.4 L916.7,185.7 L917.1,188.1 L917.5,190.7 L918.0,193.4 L918.4,196.4 L918.8,199.7 L919.2,203.2 L919.6,207.0 L920.0,210.9 L920.4,215.0 L920.8,219.0 L921.2,222.8 L921.6,226.5 L922.1,230.0 L922.5,233.1 L922.9,236.0 L923.3,238.7 L923.7,241.2 L924.1,243.5 L924.5,245.7 L924.9,247.9 L925.3,249.9 L925.7,251.7 L926.1,253.3 L926.6,254.6 L927.0,255.4 L927.4,255.8 L927.8,255.7 L928.2,255.1 L928.6,254.1 L929.0,252.7 L929.4,251.0 L929.8,249.1 L930.2,247.0 L930.6,244.9 L931.1,242.6 L931.5,240.2 L931.9,237.6 L932.3,234.9 L932.7,231.9 L933.1,228.6 L933.5,225.1 L933.9,221.3 L934.3,217.4 L934.7,213.3 L935.2,209.3 L935.6,205.5 L936.0,201.8 L936.4,198.3 L936.8,195.2 L937.2,192.3 L937.6,189.6 L938.0,187.1 L938.4,184.8 L938.8,182.6 L939.2,180.4 L939.7,178.4 L940.1,176.6 L940.5,175.0 L940.9,173.7 L941.3,172.9 L941.7,172.5 L942.1,172.6 L942.5,173.2 L942.9,174.2 L943.3,175.6 L943.8,177.3 L944.2,179.2 L944.6,181.3 L945.0,183.4 L945.4,185.7 L945.8,188.1 L946.2,190.7 L946.6,193.4 L947.0,196.4 L947.4,199.7 L947.8,203.2 L948.3,207.0 L948.7,210.9 L949.1,215.0 L949.5,219.0 L949.9,222.8 L950.3,226.5 L950.7,230.0 L951.1,233.1 L951.5,236.0 L951.9,238.7 L952.3,241.2 L952.8,243.5 L953.2,245.7 L953.6,247.9 L954.0,249.9 L954.4,251.7 L954.8,253.3 L955.2,254.6 L955.6,255.4 L956.0,255.8 L956.4,255.7 L956.9,255.1 L957.3,254.1 L957.7,252.7 L958.1,251.0 L958.5,249.1 L958.9,247.0 L959.3,244.9 L959.7,242.6 L960.1,240.2 L960.5,237.6 L960.9,234.9 L961.4,231.9 L961.8,228.6 L962.2,225.1 L962.6,221.3 L963.0,217.4 L963.4,213.3 L963.8,209.3 L964.2,205.5 L964.6,201.8 L965.0,198.3 L965.4,195.2 L965.9,192.3 L966.3,189.6 L966.7,187.1 L967.1,184.8 L967.5,182.6 L967.9,180.4 L968.3,178.4 L968.7,176.6 L969.1,175.0 L969.5,173.7 L970.0,172.9 L970.4,172.5 L970.8,172.6 L971.2,173.2 L971.6,174.2 L972.0,175.6 L972.4,177.3 L972.8,179.2 L973.2,181.3 L973.6,183.4 L974.0,185.7 L974.5,188.1 L974.9,190.7 L975.3,193.4 L975.7,196.4 L976.1,199.7 L976.5,203.2 L976.9,207.0 L977.3,210.9 L977.7,215.0 L978.1,219.0 L978.6,222.8 L979.0,226.5 L979.4,230.0 L979.8,233.1 L980.2,236.0 L980.6,238.7 L981.0,241.2 L981.4,243.5 L981.8,245.7 L982.2,247.9 L982.6,249.9 L983.1,251.7 L983.5,253.3 L983.9,254.6 L984.3,255.4 L984.7,255.8 L985.1,255.7 L985.5,255.1 L985.9,254.1 L986.3,252.7 L986.7,251.0 L987.1,249.1 L987.6,247.0 L988.0,244.9 L988.4,242.6 L988.8,240.2 L989.2,237.6 L989.6,234.9 L990.0,231.9 L990.4,228.6 L990.8,225.1 L991.2,221.3 L991.7,217.4 L992.1,213.3 L992.5,209.3 L992.9,205.5 L993.3,201.8 L993.7,198.3 L994.1,195.2 L994.5,192.3 L994.9,189.6 L995.3,187.1 L995.7,184.8 L996.2,182.6 L996.6,180.4 L997.0,178.4 L997.4,176.6 L997.8,175.0 L998.2,173.7 L998.6,172.9 L999.0,172.5 L999.4,172.6 L999.8,173.2 L1000.2,174.2 L1000.7,175.6 L1001.1,177.3 L1001.5,179.2 L1001.9,181.3 L1002.3,183.4 L1002.7,185.7 L1003.1,188.1 L1003.5,190.7 L1003.9,193.4 L1004.3,196.4 L1004.8,199.7 L1005.2,203.2 L1005.6,207.0 L1006.0,210.9 L1006.4,215.0 L1006.8,219.0 L1007.2,222.8 L1007.6,226.5 L1008.0,230.0 L1008.4,233.1 L1008.8,236.0 L1009.3,238.7 L1009.7,241.2 L1010.1,243.5 L1010.5,245.7 L1010.9,247.9 L1011.3,249.9 L1011.7,251.7 L1012.1,253.3 L1012.5,254.6 L1012.9,255.4 L1013.4,255.8 L1013.8,255.7 L1014.2,255.1 L1014.6,254.1 L1015.0,252.7 L1015.4,251.0 L1015.8,249.1 L1016.2,247.0 L1016.6,244.9 L1017.0,242.6 L1017.4,240.2 L1017.9,237.6 L1018.3,234.9 L1018.7,231.9 L1019.1,228.6 L1019.5,225.1 L1019.9,221.3 L1020.3,217.4 L1020.7,213.3 L1021.1,209.3 L1021.5,205.5 L1021.9,201.8 L1022.4,198.3 L1022.8,195.2 L1023.2,192.3 L1023.6,189.6 L1024.0,187.1 L1024.4,184.8 L1024.8,182.6 L1025.2,180.4 L1025.6,178.4 L1026.0,176.6 L1026.5,175.0 L1026.9,173.7 L1027.3,172.9 L1027.7,172.5 L1028.1,172.6 L1028.5,173.2 L1028.9,174.2 L1029.3,175.6 L1029.7,177.3 L1030.1,179.2 L1030.5,181.3 L1031.0,183.4 L1031.4,185.7 L1031.8,188.1 L1032.2,190.7 L1032.6,193.4 L1033.0,196.4 L1033.4,199.7 L1033.8,203.2 L1034.2,207.0 L1034.6,210.9 L1035.0,215.0 L1035.5,219.0 L1035.9,222.8 L1036.3,226.5 L1036.7,230.0 L1037.1,233.1 L1037.5,236.0 L1037.9,238.7 L1038.3,241.2 L1038.7,243.5 L1039.1,245.7 L1039.6,247.9 L1040.0,249.9 L1040.4,251.7 L1040.8,253.3 L1041.2,254.6 L1041.6,255.4 L1042.0,255.8 L1042.4,255.7 L1042.8,255.1 L1043.2,254.1 L1043.6,252.7 L1044.1,251.0 L1044.5,249.1 L1044.9,247.0 L1045.3,244.9 L1045.7,242.6 L1046.1,240.2 L1046.5,237.6 L1046.9,234.9 L1047.3,231.9 L1047.7,228.6 L1048.2,225.1 L1048.6,221.3 L1049.0,217.4 L1049.4,213.3 L1049.8,209.3 L1050.2,205.5 L1050.6,201.8 L1051.0,198.3 L1051.4,195.2 L1051.8,192.3 L1052.2,189.6 L1052.7,187.1 L1053.1,184.8 L1053.5,182.6 L1053.9,180.4 L1054.3,178.4 L1054.7,176.6 L1055.1,175.0 L1055.5,173.7 L1055.9,172.9 L1056.3,172.5 L1056.7,172.6 L1057.2,173.2 L1057.6,174.2 L1058.0,175.6 L1058.4,177.3 L1058.8,179.2 L1059.2,181.3 L1059.6,183.4 L1060.0,185.7 L1060.4,188.1 L1060.8,190.7 L1061.3,193.4 L1061.7,196.4 L1062.1,199.7 L1062.5,203.2 L1062.9,207.0 L1063.3,210.9 L1063.7,215.0 L1064.1,219.0 L1064.5,222.8 L1064.9,226.5 L1065.3,230.0 L1065.8,233.1 L1066.2,236.0 L1066.6,238.7 L1067.0,241.2 L1067.4,243.5 L1067.8,245.7 L1068.2,247.9 L1068.6,249.9 L1069.0,251.7 L1069.4,253.3 L1069.8,254.6 L1070.3,255.4 L1070.7,255.8 L1071.1,255.7 L1071.5,255.1 L1071.9,254.1 L1072.3,252.7 L1072.7,251.0 L1073.1,249.1 L1073.5,247.0 L1073.9,244.9 L1074.4,242.6 L1074.8,240.2 L1075.2,237.6 L1075.6,234.9 L1076.0,231.9 L1076.4,228.6 L1076.8,225.1 L1077.2,221.3 L1077.6,217.4 L1078.0,213.3 L1078.4,209.3 L1078.9,205.5 L1079.3,201.8 L1079.7,198.3 L1080.1,195.2 L1080.5,192.3 L1080.9,189.6 L1081.3,187.1 L1081.7,184.8 L1082.1,182.6 L1082.5,180.4 L1083.0,178.4 L1083.4,176.6 L1083.8,175.0 L1084.2,173.7 L1084.6,172.9 L1085.0,172.5 L1085.4,172.6 L1085.8,173.2 L1086.2,174.2 L1086.6,175.6 L1087.0,177.3 L1087.5,179.2 L1087.9,181.3 L1088.3,183.4 L1088.7,185.7 L1089.1,188.1 L1089.5,190.7 L1089.9,193.4 L1090.3,196.4 L1090.7,199.7 L1091.1,203.2 L1091.5,207.0 L1092.0,210.9 L1092.4,215.0 L1092.8,219.0 L1093.2,222.8 L1093.6,226.5 L1094.0,230.0 L1094.4,233.1 L1094.8,236.0 L1095.2,238.7 L1095.6,241.2 L1096.1,243.5 L1096.5,245.7 L1096.9,247.9 L1097.3,249.9 L1097.7,251.7 L1098.1,253.3 L1098.5,254.6 L1098.9,255.4 L1099.3,255.8 L1099.7,255.7 L1100.1,255.1 L1100.6,254.1 L1101.0,252.7 L1101.4,251.0 L1101.8,249.1 L1102.2,247.0 L1102.6,244.9 L1103.0,242.6 L1103.4,240.2 L1103.8,237.6 L1104.2,234.9 L1104.6,231.9 L1105.1,228.6 L1105.5,225.1 L1105.9,221.3 L1106.3,217.4 L1106.7,213.3 L1107.1,209.3 L1107.5,205.5 L1107.9,201.8 L1108.3,198.3 L1108.7,195.2 L1109.2,192.3 L1109.6,189.6 L1110.0,187.1 L1110.4,184.8 L1110.8,182.6 L1111.2,180.4 L1111.6,178.4 L1112.0,176.6 L1112.4,175.0 L1112.8,173.7 L1113.2,172.9 L1113.7,172.5 L1114.1,172.6 L1114.5,173.2 L1114.9,174.2 L1115.3,175.6 L1115.7,177.3 L1116.1,179.2 L1116.5,181.3 L1116.9,183.4 L1117.3,185.7 L1117.8,188.1 L1118.2,190.7 L1118.6,193.4 L1119.0,196.4 L1119.4,199.7 L1119.8,203.2 L1120.2,207.0 L1120.6,210.9 L1121.0,215.0 L1121.4,219.0 L1121.8,222.8 L1122.3,226.5 L1122.7,230.0 L1123.1,233.1 L1123.5,236.0 L1123.9,238.7 L1124.3,241.2 L1124.7,243.5 L1125.1,245.7 L1125.5,247.9 L1125.9,249.9 L1126.3,251.7 L1126.8,253.3 L1127.2,254.6 L1127.6,255.4 L1128.0,255.8 L1128.4,255.7 L1128.8,255.1 L1129.2,254.1 L1129.6,252.7 L1130.0,251.0 L1130.4,249.1 L1130.9,247.0 L1131.3,244.9 L1131.7,242.6 L1132.1,240.2 L1132.5,237.6 L1132.9,234.9 L1133.3,231.9 L1133.7,228.6 L1134.1,225.1 L1134.5,221.3 L1134.9,217.4 L1135.4,213.3 L1135.8,209.3 L1136.2,205.5 L1136.6,201.8 L1137.0,198.3 L1137.4,195.2 L1137.8,192.3 L1138.2,189.6 L1138.6,187.1 L1139.0,184.8 L1139.4,182.6 L1139.9,180.4 L1140.3,178.4 L1140.7,176.6 L1141.1,175.0 L1141.5,173.7 L1141.9,172.9 L1142.3,172.5 L1142.7,172.6 L1143.1,173.2 L1143.5,174.2 L1144.0,175.6 L1144.4,177.3 L1144.8,179.2 L1145.2,181.3 L1145.6,183.4 L1146.0,185.7 L1146.4,188.1 L1146.8,190.7 L1147.2,193.4 L1147.6,196.4 L1148.0,199.7 L1148.5,203.2 L1148.9,207.0 L1149.3,210.9 L1149.7,215.0 L1150.1,219.0 L1150.5,222.8 L1150.9,226.5 L1151.3,230.0 L1151.7,233.1 L1152.1,236.0 L1152.6,238.7 L1153.0,241.2 L1153.4,243.5 L1153.8,245.7 L1154.2,247.9 L1154.6,249.9 L1155.0,251.7 L1155.4,253.3 L1155.8,254.6 L1156.2,255.4 L1156.6,255.8 L1157.1,255.7 L1157.5,255.1 L1157.9,254.1 L1158.3,252.7 L1158.7,251.0 L1159.1,249.1 L1159.5,247.0 L1159.9,244.9 L1160.3,242.6 L1160.7,240.2 L1161.1,237.6 L1161.6,234.9 L1162.0,231.9 L1162.4,228.6 L1162.8,225.1 L1163.2,221.3 L1163.6,217.4 L1164.0,213.3 L1164.4,209.3 L1164.8,205.5 L1165.2,201.8 L1165.7,198.3 L1166.1,195.2 L1166.5,192.3 L1166.9,189.6 L1167.3,187.1 L1167.7,184.8 L1168.1,182.6 L1168.5,180.4 L1168.9,178.4 L1169.3,176.6 L1169.7,175.0 L1170.2,173.7 L1170.6,172.9 L1171.0,172.5 L1171.4,172.6 L1171.8,173.2 L1172.2,174.2 L1172.6,175.6 L1173.0,177.3 L1173.4,179.2 L1173.8,181.3 L1174.2,183.4 L1174.7,185.7 L1175.1,188.1 L1175.5,190.7 L1175.9,193.4 L1176.3,196.4 L1176.7,199.7 L1177.1,203.2 L1177.5,207.0 L1177.9,210.9 L1178.3,215.0 L1178.8,219.0 L1179.2,222.8 L1179.6,226.5 L1180.0,230.0 L1180.4,233.1 L1180.8,236.0 L1181.2,238.7 L1181.6,241.2 L1182.0,243.5 L1182.4,245.7 L1182.8,247.9 L1183.3,249.9 L1183.7,251.7 L1184.1,253.3 L1184.5,254.6 L1184.9,255.4 L1185.3,255.8 L1185.7,255.7 L1186.1,255.1 L1186.5,254.1 L1186.9,252.7 L1187.4,251.0 L1187.8,249.1 L1188.2,247.0 L1188.6,244.9 L1189.0,242.6 L1189.4,240.2 L1189.8,237.6 L1190.2,234.9 L1190.6,231.9 L1191.0,228.6 L1191.4,225.1 L1191.9,221.3 L1192.3,217.4 L1192.7,213.3 L1193.1,209.3 L1193.5,205.5 L1193.9,201.8 L1194.3,198.3 L1194.7,195.2 L1195.1,192.3 L1195.5,189.6 L1195.9,187.1 L1196.4,184.8 L1196.8,182.6 L1197.2,180.4" stroke="#ff0000" stroke-width="3.0" fill="none" stroke-linejoin="round" stroke-linecap="round"/></g>
<g clip-path="url(#cbR)"><path transform="scale(0.5667,1)" d="M695.6,214.1 L696.1,214.5 L696.5,214.7 L696.9,214.6 L697.3,214.2 L697.7,213.8 L698.1,213.7 L698.5,213.8 L698.9,214.2 L699.3,214.7 L699.7,214.9 L700.2,214.8 L700.6,214.4 L701.0,214.0 L701.4,213.8 L701.8,213.9 L702.2,214.3 L702.6,214.7 L703.0,215.0 L703.4,214.9 L703.8,214.6 L704.2,214.1 L704.7,213.9 L705.1,213.9 L705.5,214.2 L705.9,214.6 L706.3,214.9 L706.7,214.9 L707.1,214.6 L707.5,214.1 L707.9,213.8 L708.3,213.8 L708.7,214.0 L709.2,214.4 L709.6,214.8 L710.0,214.8 L710.4,214.5 L710.8,214.0 L711.2,213.6 L711.6,213.6 L712.0,213.8 L712.4,214.2 L712.8,214.5 L713.3,214.6 L713.7,214.3 L714.1,213.9 L714.5,213.5 L714.9,213.4 L715.3,213.6 L715.7,214.0 L716.1,214.4 L716.5,214.5 L716.9,214.3 L717.3,213.8 L717.8,213.5 L718.2,213.3 L718.6,213.5 L719.0,213.9 L719.4,214.3 L719.8,214.5 L720.2,214.3 L720.6,213.9 L721.0,213.5 L721.4,213.4 L721.8,213.5 L722.3,213.9 L722.7,214.4 L723.1,214.6 L723.5,214.5 L723.9,214.2 L724.3,213.8 L724.7,213.5 L725.1,213.7 L725.5,214.0 L725.9,214.5 L726.4,214.8 L726.8,214.7 L727.2,214.4 L727.6,214.0 L728.0,213.7 L728.4,213.8 L728.8,214.2 L729.2,214.6 L729.6,214.9 L730.0,214.9 L730.4,214.6 L730.9,214.2 L731.3,213.9 L731.7,213.9 L732.1,214.2 L732.5,214.6 L732.9,214.9 L733.3,215.0 L733.7,214.7 L734.1,214.2 L734.5,213.9 L735.0,213.8 L735.4,214.1 L735.8,214.5 L736.2,214.8 L736.6,214.9 L737.0,214.6 L737.4,214.2 L737.8,213.8 L738.2,213.7 L738.6,213.9 L739.0,214.3 L739.5,214.6 L739.9,214.7 L740.3,214.5 L740.7,214.0 L741.1,213.6 L741.5,213.5 L741.9,213.6 L742.3,214.0 L742.7,214.4 L743.1,214.5 L743.5,214.4 L744.0,213.9 L744.4,213.5 L744.8,213.3 L745.2,213.5 L745.6,213.9 L746.0,214.3 L746.4,214.5 L746.8,214.3 L747.2,214.0 L747.6,213.5 L748.1,213.3 L748.5,213.4 L748.9,213.8 L749.3,214.2 L749.7,214.5 L750.1,214.4 L750.5,214.1 L750.9,213.7 L751.3,213.4 L751.7,213.5 L752.1,213.9 L752.6,214.3 L753.0,214.6 L753.4,214.6 L753.8,214.3 L754.2,213.9 L754.6,213.6 L755.0,213.7 L755.4,214.0 L755.8,214.5 L756.2,214.8 L756.6,214.8 L757.1,214.6 L757.5,214.1 L757.9,213.8 L758.3,213.8 L758.7,214.1 L759.1,214.5 L759.5,214.9 L759.9,215.0 L760.3,214.7 L760.7,214.3 L761.2,213.9 L761.6,213.8 L762.0,214.1 L762.4,214.5 L762.8,214.9 L763.2,215.0 L763.6,214.7 L764.0,214.3 L764.4,213.9 L764.8,213.8 L765.2,213.9 L765.7,214.3 L766.1,214.7 L766.5,214.8 L766.9,214.6 L767.3,214.2 L767.7,215.0 L768.1,215.8 L768.5,216.4 L768.9,216.9 L769.3,217.3 L769.8,217.5 L770.2,217.6 L770.6,217.4 L771.0,217.0 L771.4,216.4 L771.8,215.5 L772.2,214.5 L772.6,213.2 L773.0,211.8 L773.4,210.2 L773.8,208.6 L774.3,206.9 L774.7,205.3 L775.1,203.6 L775.5,201.9 L775.9,200.2 L776.3,198.5 L776.7,196.8 L777.1,195.0 L777.5,193.3 L777.9,191.6 L778.3,190.1 L778.8,188.8 L779.2,187.7 L779.6,186.8 L780.0,186.3 L780.4,186.1 L780.8,186.3 L781.2,186.7 L781.6,187.4 L782.0,188.2 L782.4,189.3 L782.9,190.5 L783.3,191.9 L783.7,193.5 L784.1,195.3 L784.5,197.4 L784.9,199.9 L785.3,202.7 L785.7,205.9 L786.1,209.4 L786.5,213.2 L786.9,217.1 L787.4,221.0 L787.8,224.9 L788.2,228.7 L788.6,232.2 L789.0,235.5 L789.4,238.7 L789.8,241.6 L790.2,244.4 L790.6,247.1 L791.0,249.8 L791.4,252.2 L791.9,254.6 L792.3,256.6 L792.7,258.3 L793.1,259.6 L793.5,260.3 L793.9,260.5 L794.3,260.1 L794.7,259.1 L795.1,257.7 L795.5,255.9 L796.0,253.8 L796.4,251.5 L796.8,249.1 L797.2,246.5 L797.6,243.9 L798.0,241.1 L798.4,238.1 L798.8,234.9 L799.2,231.4 L799.6,227.7 L800.0,223.7 L800.5,219.5 L800.9,215.2 L801.3,211.0 L801.7,206.8 L802.1,202.8 L802.5,199.2 L802.9,195.8 L803.3,192.7 L803.7,190.0 L804.1,187.4 L804.6,185.0 L805.0,182.8 L805.4,180.6 L805.8,178.6 L806.2,176.7 L806.6,175.1 L807.0,173.7 L807.4,172.7 L807.8,172.1 L808.2,172.0 L808.6,172.4 L809.1,173.3 L809.5,174.6 L809.9,176.2 L810.3,178.1 L810.7,180.1 L811.1,182.3 L811.5,184.6 L811.9,187.0 L812.3,189.4 L812.7,192.1 L813.1,195.0 L813.6,198.2 L814.0,201.6 L814.4,205.3 L814.8,209.2 L815.2,213.1 L815.6,217.2 L816.0,221.1 L816.4,224.8 L816.8,228.4 L817.2,231.6 L817.7,234.6 L818.1,237.3 L818.5,239.9 L818.9,242.2 L819.3,244.5 L819.7,246.6 L820.1,248.7 L820.5,250.6 L820.9,252.3 L821.3,253.7 L821.7,254.7 L822.2,255.3 L822.6,255.5 L823.0,255.1 L823.4,254.4 L823.8,253.2 L824.2,251.7 L824.6,249.9 L825.0,248.0 L825.4,245.9 L825.8,243.8 L826.2,241.5 L826.7,239.1 L827.1,236.4 L827.5,233.6 L827.9,230.4 L828.3,227.0 L828.7,223.3 L829.1,219.3 L829.5,215.2 L829.9,211.0 L830.3,206.9 L830.8,203.0 L831.2,199.2 L831.6,195.8 L832.0,192.5 L832.4,189.6 L832.8,186.8 L833.2,184.2 L833.6,181.8 L834.0,179.4 L834.4,177.1 L834.8,175.0 L835.3,173.1 L835.7,171.6 L836.1,170.4 L836.5,169.7 L836.9,169.6 L837.3,169.9 L837.7,170.8 L838.1,172.1 L838.5,173.8 L838.9,175.7 L839.4,177.8 L839.8,180.1 L840.2,182.5 L840.6,184.9 L841.0,187.6 L841.4,190.4 L841.8,193.5 L842.2,196.9 L842.6,200.6 L843.0,204.5 L843.4,208.7 L843.9,213.1 L844.3,217.4 L844.7,221.7 L845.1,225.8 L845.5,229.7 L845.9,233.2 L846.3,236.5 L846.7,239.5 L847.1,242.3 L847.5,244.9 L847.9,247.4 L848.4,249.8 L848.8,252.1 L849.2,254.2 L849.6,256.1 L850.0,257.6 L850.4,258.8 L850.8,259.5 L851.2,259.6 L851.6,259.2 L852.0,258.4 L852.5,257.0 L852.9,255.3 L853.3,253.3 L853.7,251.2 L854.1,248.8 L854.5,246.4 L854.9,243.9 L855.3,241.2 L855.7,238.3 L856.1,235.1 L856.5,231.7 L857.0,227.9 L857.4,223.9 L857.8,219.6 L858.2,215.3 L858.6,210.8 L859.0,206.5 L859.4,202.3 L859.8,198.4 L860.2,194.8 L860.6,191.5 L861.0,188.5 L861.5,185.6 L861.9,183.0 L862.3,180.5 L862.7,178.1 L863.1,175.8 L863.5,173.7 L863.9,171.8 L864.3,170.2 L864.7,169.1 L865.1,168.4 L865.6,168.3 L866.0,168.7 L866.4,169.6 L866.8,171.0 L867.2,172.7 L867.6,174.7 L868.0,176.9 L868.4,179.2 L868.8,181.7 L869.2,184.3 L869.6,187.0 L870.1,189.9 L870.5,193.1 L870.9,196.6 L871.3,200.3 L871.7,204.4 L872.1,208.6 L872.5,213.0 L872.9,217.5 L873.3,221.8 L873.7,226.0 L874.2,229.9 L874.6,233.5 L875.0,236.8 L875.4,239.9 L875.8,242.7 L876.2,245.3 L876.6,247.8 L877.0,250.2 L877.4,252.5 L877.8,254.6 L878.2,256.5 L878.7,258.1 L879.1,259.2 L879.5,259.9 L879.9,260.0 L880.3,259.6 L880.7,258.7 L881.1,257.3 L881.5,255.6 L881.9,253.6 L882.3,251.4 L882.7,249.1 L883.2,246.6 L883.6,244.0 L884.0,241.3 L884.4,238.4 L884.8,235.2 L885.2,231.7 L885.6,228.0 L886.0,223.9 L886.4,219.7 L886.8,215.3 L887.3,210.8 L887.7,206.5 L888.1,202.3 L888.5,198.4 L888.9,194.8 L889.3,191.5 L889.7,188.4 L890.1,185.6 L890.5,183.0 L890.9,180.5 L891.3,178.1 L891.8,175.8 L892.2,173.7 L892.6,171.8 L893.0,170.2 L893.4,169.1 L893.8,168.4 L894.2,168.3 L894.6,168.7 L895.0,169.6 L895.4,171.0 L895.8,172.7 L896.3,174.7 L896.7,176.9 L897.1,179.2 L897.5,181.7 L897.9,184.3 L898.3,187.0 L898.7,189.9 L899.1,193.1 L899.5,196.6 L899.9,200.3 L900.4,204.4 L900.8,208.6 L901.2,213.0 L901.6,217.5 L902.0,221.8 L902.4,226.0 L902.8,229.9 L903.2,233.5 L903.6,236.8 L904.0,239.9 L904.4,242.7 L904.9,245.3 L905.3,247.8 L905.7,250.2 L906.1,252.5 L906.5,254.6 L906.9,256.5 L907.3,258.1 L907.7,259.2 L908.1,259.9 L908.5,260.0 L909.0,259.6 L909.4,258.7 L909.8,257.3 L910.2,255.6 L910.6,253.6 L911.0,251.4 L911.4,249.1 L911.8,246.6 L912.2,244.0 L912.6,241.3 L913.0,238.4 L913.5,235.2 L913.9,231.7 L914.3,228.0 L914.7,223.9 L915.1,219.7 L915.5,215.3 L915.9,210.8 L916.3,206.5 L916.7,202.3 L917.1,198.4 L917.5,194.8 L918.0,191.5 L918.4,188.4 L918.8,185.6 L919.2,183.0 L919.6,180.5 L920.0,178.1 L920.4,175.8 L920.8,173.7 L921.2,171.8 L921.6,170.2 L922.1,169.1 L922.5,168.4 L922.9,168.3 L923.3,168.7 L923.7,169.6 L924.1,171.0 L924.5,172.7 L924.9,174.7 L925.3,176.9 L925.7,179.2 L926.1,181.7 L926.6,184.3 L927.0,187.0 L927.4,189.9 L927.8,193.1 L928.2,196.6 L928.6,200.3 L929.0,204.4 L929.4,208.6 L929.8,213.0 L930.2,217.5 L930.6,221.8 L931.1,226.0 L931.5,229.9 L931.9,233.5 L932.3,236.8 L932.7,239.9 L933.1,242.7 L933.5,245.3 L933.9,247.8 L934.3,250.2 L934.7,252.5 L935.2,254.6 L935.6,256.5 L936.0,258.1 L936.4,259.2 L936.8,259.9 L937.2,260.0 L937.6,259.6 L938.0,258.7 L938.4,257.3 L938.8,255.6 L939.2,253.6 L939.7,251.4 L940.1,249.1 L940.5,246.6 L940.9,244.0 L941.3,241.3 L941.7,238.4 L942.1,235.2 L942.5,231.7 L942.9,228.0 L943.3,223.9 L943.8,219.7 L944.2,215.3 L944.6,210.8 L945.0,206.5 L945.4,202.3 L945.8,198.4 L946.2,194.8 L946.6,191.5 L947.0,188.4 L947.4,185.6 L947.8,183.0 L948.3,180.5 L948.7,178.1 L949.1,175.8 L949.5,173.7 L949.9,171.8 L950.3,170.2 L950.7,169.1 L951.1,168.4 L951.5,168.3 L951.9,168.7 L952.3,169.6 L952.8,171.0 L953.2,172.7 L953.6,174.7 L954.0,176.9 L954.4,179.2 L954.8,181.7 L955.2,184.3 L955.6,187.0 L956.0,189.9 L956.4,193.1 L956.9,196.6 L957.3,200.3 L957.7,204.4 L958.1,208.6 L958.5,213.0 L958.9,217.5 L959.3,221.8 L959.7,226.0 L960.1,229.9 L960.5,233.5 L960.9,236.8 L961.4,239.9 L961.8,242.7 L962.2,245.3 L962.6,247.8 L963.0,250.2 L963.4,252.5 L963.8,254.6 L964.2,256.5 L964.6,258.1 L965.0,259.2 L965.4,259.9 L965.9,260.0 L966.3,259.6 L966.7,258.7 L967.1,257.3 L967.5,255.6 L967.9,253.6 L968.3,251.4 L968.7,249.1 L969.1,246.6 L969.5,244.0 L970.0,241.3 L970.4,238.4 L970.8,235.2 L971.2,231.7 L971.6,228.0 L972.0,223.9 L972.4,219.7 L972.8,215.3 L973.2,210.8 L973.6,206.5 L974.0,202.3 L974.5,198.4 L974.9,194.8 L975.3,191.5 L975.7,188.4 L976.1,185.6 L976.5,183.0 L976.9,180.5 L977.3,178.1 L977.7,175.8 L978.1,173.7 L978.6,171.8 L979.0,170.2 L979.4,169.1 L979.8,168.4 L980.2,168.3 L980.6,168.7 L981.0,169.6 L981.4,171.0 L981.8,172.7 L982.2,174.7 L982.6,176.9 L983.1,179.2 L983.5,181.7 L983.9,184.3 L984.3,187.0 L984.7,189.9 L985.1,193.1 L985.5,196.6 L985.9,200.3 L986.3,204.4 L986.7,208.6 L987.1,213.0 L987.6,217.5 L988.0,221.8 L988.4,226.0 L988.8,229.9 L989.2,233.5 L989.6,236.8 L990.0,239.9 L990.4,242.7 L990.8,245.3 L991.2,247.8 L991.7,250.2 L992.1,252.5 L992.5,254.6 L992.9,256.5 L993.3,258.1 L993.7,259.2 L994.1,259.9 L994.5,260.0 L994.9,259.6 L995.3,258.7 L995.7,257.3 L996.2,255.6 L996.6,253.6 L997.0,251.4 L997.4,249.1 L997.8,246.6 L998.2,244.0 L998.6,241.3 L999.0,238.4 L999.4,235.2 L999.8,231.7 L1000.2,228.0 L1000.7,223.9 L1001.1,219.7 L1001.5,215.3 L1001.9,210.8 L1002.3,206.5 L1002.7,202.3 L1003.1,198.4 L1003.5,194.8 L1003.9,191.5 L1004.3,188.4 L1004.8,185.6 L1005.2,183.0 L1005.6,180.5 L1006.0,178.1 L1006.4,175.8 L1006.8,173.7 L1007.2,171.8 L1007.6,170.2 L1008.0,169.1 L1008.4,168.4 L1008.8,168.3 L1009.3,168.7 L1009.7,169.6 L1010.1,171.0 L1010.5,172.7 L1010.9,174.7 L1011.3,176.9 L1011.7,179.2 L1012.1,181.7 L1012.5,184.3 L1012.9,187.0 L1013.4,189.9 L1013.8,193.1 L1014.2,196.6 L1014.6,200.3 L1015.0,204.4 L1015.4,208.6 L1015.8,213.0 L1016.2,217.5 L1016.6,221.8 L1017.0,226.0 L1017.4,229.9 L1017.9,233.5 L1018.3,236.8 L1018.7,239.9 L1019.1,242.7 L1019.5,245.3 L1019.9,247.8 L1020.3,250.2 L1020.7,252.5 L1021.1,254.6 L1021.5,256.5 L1021.9,258.1 L1022.4,259.2 L1022.8,259.9 L1023.2,260.0 L1023.6,259.6 L1024.0,258.7 L1024.4,257.3 L1024.8,255.6 L1025.2,253.6 L1025.6,251.4 L1026.0,249.1 L1026.5,246.6 L1026.9,244.0 L1027.3,241.3 L1027.7,238.4 L1028.1,235.2 L1028.5,231.7 L1028.9,228.0 L1029.3,223.9 L1029.7,219.7 L1030.1,215.3 L1030.5,210.8 L1031.0,206.5 L1031.4,202.3 L1031.8,198.4 L1032.2,194.8 L1032.6,191.5 L1033.0,188.4 L1033.4,185.6 L1033.8,183.0 L1034.2,180.5 L1034.6,178.1 L1035.0,175.8 L1035.5,173.7 L1035.9,171.8 L1036.3,170.2 L1036.7,169.1 L1037.1,168.4 L1037.5,168.3 L1037.9,168.7 L1038.3,169.6 L1038.7,171.0 L1039.1,172.7 L1039.6,174.7 L1040.0,176.9 L1040.4,179.2 L1040.8,181.7 L1041.2,184.3 L1041.6,187.0 L1042.0,189.9 L1042.4,193.1 L1042.8,196.6 L1043.2,200.3 L1043.6,204.4 L1044.1,208.6 L1044.5,213.0 L1044.9,217.5 L1045.3,221.8 L1045.7,226.0 L1046.1,229.9 L1046.5,233.5 L1046.9,236.8 L1047.3,239.9 L1047.7,242.7 L1048.2,245.3 L1048.6,247.8 L1049.0,250.2 L1049.4,252.5 L1049.8,254.6 L1050.2,256.5 L1050.6,258.1 L1051.0,259.2 L1051.4,259.9 L1051.8,260.0 L1052.2,259.6 L1052.7,258.7 L1053.1,257.3 L1053.5,255.6 L1053.9,253.6 L1054.3,251.4 L1054.7,249.1 L1055.1,246.6 L1055.5,244.0 L1055.9,241.3 L1056.3,238.4 L1056.7,235.2 L1057.2,231.7 L1057.6,228.0 L1058.0,223.9 L1058.4,219.7 L1058.8,215.3 L1059.2,210.8 L1059.6,206.5 L1060.0,202.3 L1060.4,198.4 L1060.8,194.8 L1061.3,191.5 L1061.7,188.4 L1062.1,185.6 L1062.5,183.0 L1062.9,180.5 L1063.3,178.1 L1063.7,175.8 L1064.1,173.7 L1064.5,171.8 L1064.9,170.2 L1065.3,169.1 L1065.8,168.4 L1066.2,168.3 L1066.6,168.7 L1067.0,169.6 L1067.4,171.0 L1067.8,172.7 L1068.2,174.7 L1068.6,176.9 L1069.0,179.2 L1069.4,181.7 L1069.8,184.3 L1070.3,187.0 L1070.7,189.9 L1071.1,193.1 L1071.5,196.6 L1071.9,200.3 L1072.3,204.4 L1072.7,208.6 L1073.1,213.0 L1073.5,217.5 L1073.9,221.8 L1074.4,226.0 L1074.8,229.9 L1075.2,233.5 L1075.6,236.8 L1076.0,239.9 L1076.4,242.7 L1076.8,245.3 L1077.2,247.8 L1077.6,250.2 L1078.0,252.5 L1078.4,254.6 L1078.9,256.5 L1079.3,258.1 L1079.7,259.2 L1080.1,259.9 L1080.5,260.0 L1080.9,259.6 L1081.3,258.7 L1081.7,257.3 L1082.1,255.6 L1082.5,253.6 L1083.0,251.4 L1083.4,249.1 L1083.8,246.6 L1084.2,244.0 L1084.6,241.3 L1085.0,238.4 L1085.4,235.2 L1085.8,231.7 L1086.2,228.0 L1086.6,223.9 L1087.0,219.7 L1087.5,215.3 L1087.9,210.8 L1088.3,206.5 L1088.7,202.3 L1089.1,198.4 L1089.5,194.8 L1089.9,191.5 L1090.3,188.4 L1090.7,185.6 L1091.1,183.0 L1091.5,180.5 L1092.0,178.1 L1092.4,175.8 L1092.8,173.7 L1093.2,171.8 L1093.6,170.2 L1094.0,169.1 L1094.4,168.4 L1094.8,168.3 L1095.2,168.7 L1095.6,169.6 L1096.1,171.0 L1096.5,172.7 L1096.9,174.7 L1097.3,176.9 L1097.7,179.2 L1098.1,181.7 L1098.5,184.3 L1098.9,187.0 L1099.3,189.9 L1099.7,193.1 L1100.1,196.6 L1100.6,200.3 L1101.0,204.4 L1101.4,208.6 L1101.8,213.0 L1102.2,217.5 L1102.6,221.8 L1103.0,226.0 L1103.4,229.9 L1103.8,233.5 L1104.2,236.8 L1104.6,239.9 L1105.1,242.7 L1105.5,245.3 L1105.9,247.8 L1106.3,250.2 L1106.7,252.5 L1107.1,254.6 L1107.5,256.5 L1107.9,258.1 L1108.3,259.2 L1108.7,259.9 L1109.2,260.0 L1109.6,259.6 L1110.0,258.7 L1110.4,257.3 L1110.8,255.6 L1111.2,253.6 L1111.6,251.4 L1112.0,249.1 L1112.4,246.6 L1112.8,244.0 L1113.2,241.3 L1113.7,238.4 L1114.1,235.2 L1114.5,231.7 L1114.9,228.0 L1115.3,223.9 L1115.7,219.7 L1116.1,215.3 L1116.5,210.8 L1116.9,206.5 L1117.3,202.3 L1117.8,198.4 L1118.2,194.8 L1118.6,191.5 L1119.0,188.4 L1119.4,185.6 L1119.8,183.0 L1120.2,180.5 L1120.6,178.1 L1121.0,175.8 L1121.4,173.7 L1121.8,171.8 L1122.3,170.2 L1122.7,169.1 L1123.1,168.4 L1123.5,168.3 L1123.9,168.7 L1124.3,169.6 L1124.7,171.0 L1125.1,172.7 L1125.5,174.7 L1125.9,176.9 L1126.3,179.2 L1126.8,181.7 L1127.2,184.3 L1127.6,187.0 L1128.0,189.9 L1128.4,193.1 L1128.8,196.6 L1129.2,200.3 L1129.6,204.4 L1130.0,208.6 L1130.4,213.0 L1130.9,217.5 L1131.3,221.8 L1131.7,226.0 L1132.1,229.9 L1132.5,233.5 L1132.9,236.8 L1133.3,239.9 L1133.7,242.7 L1134.1,245.3 L1134.5,247.8 L1134.9,250.2 L1135.4,252.5 L1135.8,254.6 L1136.2,256.5 L1136.6,258.1 L1137.0,259.2 L1137.4,259.9 L1137.8,260.0 L1138.2,259.6 L1138.6,258.7 L1139.0,257.3 L1139.4,255.6 L1139.9,253.6 L1140.3,251.4 L1140.7,249.1 L1141.1,246.6 L1141.5,244.0 L1141.9,241.3 L1142.3,238.4 L1142.7,235.2 L1143.1,231.7 L1143.5,228.0 L1144.0,223.9 L1144.4,219.7 L1144.8,215.3 L1145.2,210.8 L1145.6,206.5 L1146.0,202.3 L1146.4,198.4 L1146.8,194.8 L1147.2,191.5 L1147.6,188.4 L1148.0,185.6 L1148.5,183.0 L1148.9,180.5 L1149.3,178.1 L1149.7,175.8 L1150.1,173.7 L1150.5,171.8 L1150.9,170.2 L1151.3,169.1 L1151.7,168.4 L1152.1,168.3 L1152.6,168.7 L1153.0,169.6 L1153.4,171.0 L1153.8,172.7 L1154.2,174.7 L1154.6,176.9 L1155.0,179.2 L1155.4,181.7 L1155.8,184.3 L1156.2,187.0 L1156.6,189.9 L1157.1,193.1 L1157.5,196.6 L1157.9,200.3 L1158.3,204.4 L1158.7,208.6 L1159.1,213.0 L1159.5,217.5 L1159.9,221.8 L1160.3,226.0 L1160.7,229.9 L1161.1,233.5 L1161.6,236.8 L1162.0,239.9 L1162.4,242.7 L1162.8,245.3 L1163.2,247.8 L1163.6,250.2 L1164.0,252.5 L1164.4,254.6 L1164.8,256.5 L1165.2,258.1 L1165.7,259.2 L1166.1,259.9 L1166.5,260.0 L1166.9,259.6 L1167.3,258.7 L1167.7,257.3 L1168.1,255.6 L1168.5,253.6 L1168.9,251.4 L1169.3,249.1 L1169.7,246.6 L1170.2,244.0 L1170.6,241.3 L1171.0,238.4 L1171.4,235.2 L1171.8,231.7 L1172.2,228.0 L1172.6,223.9 L1173.0,219.7 L1173.4,215.3 L1173.8,210.8 L1174.2,206.5 L1174.7,202.3 L1175.1,198.4 L1175.5,194.8 L1175.9,191.5 L1176.3,188.4 L1176.7,185.6 L1177.1,183.0 L1177.5,180.5 L1177.9,178.1 L1178.3,175.8 L1178.8,173.7 L1179.2,171.8 L1179.6,170.2 L1180.0,169.1 L1180.4,168.4 L1180.8,168.3 L1181.2,168.7 L1181.6,169.6 L1182.0,171.0 L1182.4,172.7 L1182.8,174.7 L1183.3,176.9 L1183.7,179.2 L1184.1,181.7 L1184.5,184.3 L1184.9,187.0 L1185.3,189.9 L1185.7,193.1 L1186.1,196.6 L1186.5,200.3 L1186.9,204.4 L1187.4,208.6 L1187.8,213.0 L1188.2,217.5 L1188.6,221.8 L1189.0,226.0 L1189.4,229.9 L1189.8,233.5 L1190.2,236.8 L1190.6,239.9 L1191.0,242.7 L1191.4,245.3 L1191.9,247.8 L1192.3,250.2 L1192.7,252.5 L1193.1,254.6 L1193.5,256.5 L1193.9,258.1 L1194.3,259.2 L1194.7,259.9 L1195.1,260.0 L1195.5,259.6 L1195.9,258.7 L1196.4,257.3 L1196.8,255.6 L1197.2,253.6" stroke="#008000" stroke-width="3.0" fill="none" stroke-linejoin="round" stroke-linecap="round"/></g>
<g clip-path="url(#ccL)"><path d="M44.1,350.7 L44.3,350.7 L44.6,350.8 L44.8,350.8 L45.0,350.8 L45.3,350.9 L45.5,350.9 L45.7,350.9 L45.9,350.9 L46.2,350.9 L46.4,350.9 L46.6,350.9 L46.9,350.9 L47.1,350.9 L47.3,350.8 L47.6,350.8 L47.8,350.7 L48.0,350.7 L48.3,350.7 L48.5,350.6 L48.7,350.6 L49.0,350.5 L49.2,350.5 L49.4,350.5 L49.6,350.5 L49.9,350.4 L50.1,350.4 L50.3,350.4 L50.6,350.4 L50.8,350.5 L51.0,350.5 L51.3,350.5 L51.5,350.6 L51.7,350.6 L52.0,350.6 L52.2,350.7 L52.4,350.7 L52.6,350.8 L52.9,350.8 L53.1,350.8 L53.3,350.9 L53.6,350.9 L53.8,350.9 L54.0,350.9 L54.3,350.9 L54.5,350.9 L54.7,350.9 L55.0,350.9 L55.2,350.9 L55.4,350.8 L55.7,350.8 L55.9,350.7 L56.1,350.7 L56.3,350.7 L56.6,350.6 L56.8,350.6 L57.0,350.5 L57.3,350.5 L57.5,350.5 L57.7,350.5 L58.0,350.4 L58.2,350.4 L58.4,350.4 L58.7,350.4 L58.9,350.5 L59.1,350.5 L59.3,350.5 L59.6,350.6 L59.8,350.6 L60.0,350.6 L60.3,350.7 L60.5,350.7 L60.7,350.8 L61.0,350.8 L61.2,350.8 L61.4,350.9 L61.7,350.9 L61.9,350.9 L62.1,350.9 L62.4,350.9 L62.6,350.9 L62.8,350.9 L63.0,350.9 L63.3,350.9 L63.5,350.8 L63.7,350.8 L64.0,350.7 L64.2,350.7 L64.4,350.7 L64.7,350.6 L64.9,350.6 L65.1,350.5 L65.4,350.5 L65.6,350.5 L65.8,350.5 L66.0,350.4 L66.3,350.4 L66.5,350.4 L66.7,350.4 L67.0,350.5 L67.2,350.5 L67.4,350.5 L67.7,350.6 L67.9,350.6 L68.1,350.6 L68.4,350.7 L68.6,350.7 L68.8,350.8 L69.1,350.8 L69.3,350.8 L69.5,350.9 L69.7,350.9 L70.0,350.9 L70.2,350.9 L70.4,350.9 L70.7,350.9 L70.9,350.9 L71.1,350.9 L71.4,350.9 L71.6,350.8 L71.8,350.8 L72.1,350.7 L72.3,350.7 L72.5,350.7 L72.7,350.6 L73.0,350.6 L73.2,350.5 L73.4,350.5 L73.7,350.5 L73.9,350.5 L74.1,350.4 L74.4,350.4 L74.6,350.4 L74.8,350.4 L75.1,350.5 L75.3,350.5 L75.5,350.5 L75.7,350.6 L76.0,350.6 L76.2,350.6 L76.4,350.7 L76.7,350.7 L76.9,350.8 L77.1,350.8 L77.4,350.8 L77.6,350.9 L77.8,350.9 L78.1,350.9 L78.3,350.9 L78.5,350.9 L78.8,350.9 L79.0,350.9 L79.2,350.9 L79.4,350.9 L79.7,350.8 L79.9,350.8 L80.1,350.7 L80.4,350.7 L80.6,350.7 L80.8,350.6 L81.1,350.6 L81.3,350.5 L81.5,350.5 L81.8,350.5 L82.0,350.5 L82.2,350.4 L82.4,350.4 L82.7,350.4 L82.9,350.4 L83.1,350.5 L83.4,350.5 L83.6,350.5 L83.8,350.6 L84.1,350.6 L84.3,350.6 L84.5,350.7 L84.8,351.2 L85.0,352.2 L85.2,353.5 L85.5,355.0 L85.7,357.0 L85.9,359.3 L86.1,361.7 L86.4,364.2 L86.6,366.4 L86.8,368.4 L87.1,369.9 L87.3,371.1 L87.5,372.1 L87.8,373.1 L88.0,374.1 L88.2,374.9 L88.5,375.8 L88.7,376.5 L88.9,377.3 L89.1,378.0 L89.4,378.6 L89.6,379.2 L89.8,379.8 L90.1,380.4 L90.3,380.9 L90.5,381.4 L90.8,381.9 L91.0,382.4 L91.2,382.9 L91.5,383.4 L91.7,383.9 L91.9,384.4 L92.2,384.9 L92.4,385.3 L92.6,385.7 L92.8,386.0 L93.1,386.3 L93.3,386.6 L93.5,386.8 L93.8,386.9 L94.0,386.9 L94.2,386.9 L94.5,386.9 L94.7,386.8 L94.9,386.6 L95.2,386.5 L95.4,386.3 L95.6,386.2 L95.8,386.0 L96.1,386.2 L96.3,385.9 L96.5,385.5 L96.8,385.1 L97.0,384.7 L97.2,384.4 L97.5,384.2 L97.7,384.0 L97.9,383.7 L98.2,383.5 L98.4,383.4 L98.6,383.2 L98.9,383.1 L99.1,383.0 L99.3,382.9 L99.5,382.8 L99.8,382.8 L100.0,382.8 L100.2,382.7 L100.5,382.7 L100.7,382.7 L100.9,382.7 L101.2,382.7 L101.4,382.7 L101.6,382.7 L101.9,382.6 L102.1,382.5 L102.3,382.5 L102.5,382.4 L102.8,382.2 L103.0,382.1 L103.2,381.9 L103.5,381.7 L103.7,381.5 L103.9,381.2 L104.2,380.9 L104.4,380.7 L104.6,380.4 L104.9,380.1 L105.1,379.8 L105.3,379.5 L105.6,379.2 L105.8,378.9 L106.0,378.6 L106.2,378.3 L106.5,378.1 L106.7,377.9 L106.9,377.7 L107.2,377.6 L107.4,377.5 L107.6,377.4 L107.9,377.3 L108.1,377.3 L108.3,377.3 L108.6,377.2 L108.8,377.2 L109.0,377.2 L109.2,377.2 L109.5,377.2 L109.7,377.1 L109.9,377.1 L110.2,377.0 L110.4,376.9 L110.6,376.7 L110.9,376.6 L111.1,376.4 L111.3,376.1 L111.6,375.9 L111.8,375.6 L112.0,375.3 L112.3,375.0 L112.5,374.7 L112.7,374.4 L112.9,374.1 L113.2,373.8 L113.4,373.5 L113.6,373.2 L113.9,373.0 L114.1,372.8 L114.3,372.5 L114.6,372.4 L114.8,372.2 L115.0,372.0 L115.3,371.9 L115.5,371.8 L115.7,371.8 L115.9,371.7 L116.2,371.7 L116.4,371.7 L116.6,371.7 L116.9,371.7 L117.1,371.7 L117.3,371.6 L117.6,371.6 L117.8,371.6 L118.0,371.5 L118.3,371.5 L118.5,371.4 L118.7,371.3 L119.0,371.1 L119.2,371.0 L119.4,370.8 L119.6,370.6 L119.9,370.4 L120.1,370.1 L120.3,369.9 L120.6,369.6 L120.8,369.4 L121.0,369.1 L121.3,368.8 L121.5,368.6 L121.7,368.3 L122.0,368.1 L122.2,367.9 L122.4,367.7 L122.6,367.5 L122.9,367.4 L123.1,367.2 L123.3,367.1 L123.6,367.1 L123.8,367.0 L124.0,367.0 L124.3,366.9 L124.5,366.9 L124.7,366.9 L125.0,366.9 L125.2,366.9 L125.4,366.9 L125.7,366.9 L125.9,366.8 L126.1,366.8 L126.3,366.7 L126.6,366.6 L126.8,366.5 L127.0,366.4 L127.3,366.3 L127.5,366.1 L127.7,365.9 L128.0,365.8 L128.2,365.6 L128.4,365.4 L128.7,365.2 L128.9,365.0 L129.1,364.8 L129.3,364.6 L129.6,364.4 L129.8,364.2 L130.0,364.1 L130.3,363.9 L130.5,363.8 L130.7,363.7 L131.0,363.6 L131.2,363.5 L131.4,363.4 L131.7,363.3 L131.9,363.3 L132.1,363.3 L132.3,363.3 L132.6,363.2 L132.8,363.2 L133.0,363.2 L133.3,363.2 L133.5,363.2 L133.7,363.2 L134.0,363.2 L134.2,363.2 L134.4,363.1 L134.7,363.1 L134.9,363.0 L135.1,362.9 L135.4,362.8 L135.6,362.7 L135.8,362.6 L136.0,362.5 L136.3,362.3 L136.5,362.2 L136.7,362.0 L137.0,361.9 L137.2,361.7 L137.4,361.5 L137.7,361.4 L137.9,361.2 L138.1,361.1 L138.4,361.0 L138.6,360.9 L138.8,360.8 L139.0,360.7 L139.3,360.6 L139.5,360.6 L139.7,360.5 L140.0,360.5 L140.2,360.4 L140.4,360.4 L140.7,360.4 L140.9,360.4 L141.1,360.4 L141.4,360.4 L141.6,360.4 L141.8,360.4 L142.1,360.4 L142.3,360.3 L142.5,360.3 L142.7,360.3 L143.0,360.2 L143.2,360.1 L143.4,360.1 L143.7,360.0 L143.9,359.9 L144.1,359.7 L144.4,359.6 L144.6,359.5 L144.8,359.4 L145.1,359.3 L145.3,359.1 L145.5,359.0 L145.7,358.9 L146.0,358.8 L146.2,358.6 L146.4,358.5 L146.7,358.5 L146.9,358.4 L147.1,358.3 L147.4,358.2 L147.6,358.2 L147.8,358.2 L148.1,358.1 L148.3,358.1 L148.5,358.1 L148.8,358.1 L149.0,358.1 L149.2,358.1 L149.4,358.1 L149.7,358.1 L149.9,358.1 L150.1,358.1 L150.4,358.0 L150.6,358.0 L150.8,358.0 L151.1,357.9 L151.3,357.9 L151.5,357.8 L151.8,357.7 L152.0,357.6 L152.2,357.6 L152.4,357.5 L152.7,357.4 L152.9,357.3 L153.1,357.2 L153.4,357.1 L153.6,357.0 L153.8,356.9 L154.1,356.8 L154.3,356.7 L154.5,356.6 L154.8,356.5 L155.0,356.5 L155.2,356.4 L155.5,356.4 L155.7,356.3 L155.9,356.3 L156.1,356.3 L156.4,356.3 L156.6,356.3 L156.8,356.3 L157.1,356.3 L157.3,356.3 L157.5,356.3 L157.8,356.3 L158.0,356.3 L158.2,356.3 L158.5,356.3 L158.7,356.3 L158.9,356.3 L159.1,356.2 L159.4,356.2 L159.6,356.1 L159.8,356.1 L160.1,356.0 L160.3,355.9 L160.5,355.9 L160.8,355.8 L161.0,355.7 L161.2,355.6 L161.5,355.5 L161.7,355.4 L161.9,355.3 L162.2,355.3 L162.4,355.2 L162.6,355.1 L162.8,355.0 L163.1,355.0 L163.3,354.9 L163.5,354.9 L163.8,354.9 L164.0,354.8 L164.2,354.8 L164.5,354.8 L164.7,354.8 L164.9,354.8 L165.2,354.8 L165.4,354.9 L165.6,354.9 L165.8,354.9 L166.1,354.9 L166.3,354.9 L166.5,354.9 L166.8,354.9 L167.0,354.8 L167.2,354.8 L167.5,354.8 L167.7,354.7 L167.9,354.7 L168.2,354.6 L168.4,354.5 L168.6,354.5 L168.9,354.4 L169.1,354.3 L169.3,354.2 L169.5,354.1 L169.8,354.0 L170.0,354.0 L170.2,353.9 L170.5,353.8 L170.7,353.7 L170.9,353.7 L171.2,353.6 L171.4,353.6 L171.6,353.5 L171.9,353.5 L172.1,353.5 L172.3,353.5 L172.5,353.5 L172.8,353.5 L173.0,353.5 L173.2,353.5 L173.5,353.6 L173.7,353.6 L173.9,353.6 L174.2,353.6 L174.4,353.6 L174.6,353.6 L174.9,353.6 L175.1,353.6 L175.3,353.6 L175.6,353.5 L175.8,353.5 L176.0,353.5 L176.2,353.4 L176.5,353.3 L176.7,353.3 L176.9,353.2 L177.2,353.1 L177.4,353.0 L177.6,352.9 L177.9,352.8 L178.1,352.8 L178.3,352.7 L178.6,352.6 L178.8,352.5 L179.0,352.5 L179.2,352.4 L179.5,352.4 L179.7,352.4 L179.9,352.3 L180.2,352.3 L180.4,352.3 L180.6,352.3 L180.9,352.4 L181.1,352.4 L181.3,352.4 L181.6,352.4 L181.8,352.4 L182.0,352.5 L182.3,352.5 L182.5,352.5 L182.7,352.5 L182.9,352.5 L183.2,352.5 L183.4,352.5 L183.6,352.5 L183.9,352.5 L184.1,352.4 L184.3,352.4 L184.6,352.3 L184.8,352.3 L185.0,352.2 L185.3,352.2 L185.5,352.1 L185.7,352.1 L185.9,352.0 L186.2,351.9 L186.4,351.9 L186.6,351.8 L186.9,351.8 L187.1,351.8 L187.3,351.7 L187.6,351.7 L187.8,351.7 L188.0,351.7 L188.3,351.7 L188.5,351.8 L188.7,351.8 L188.9,351.8 L189.2,351.9 L189.4,351.9 L189.6,351.9 L189.9,352.0 L190.1,352.0 L190.3,352.1 L190.6,352.1 L190.8,352.1 L191.0,352.1 L191.3,352.2 L191.5,352.2 L191.7,352.2 L192.0,352.2 L192.2,352.1 L192.4,352.1 L192.6,352.1 L192.9,352.0 L193.1,352.0 L193.3,351.9 L193.6,351.9 L193.8,351.8 L194.0,351.8 L194.3,351.7 L194.5,351.7 L194.7,351.6 L195.0,351.6 L195.2,351.5 L195.4,351.5 L195.6,351.5 L195.9,351.5 L196.1,351.5 L196.3,351.5 L196.6,351.6 L196.8,351.6 L197.0,351.6 L197.3,351.7 L197.5,351.7 L197.7,351.8 L198.0,351.8 L198.2,351.9 L198.4,351.9 L198.7,351.9 L198.9,352.0 L199.1,352.0 L199.3,352.0 L199.6,352.0 L199.8,352.0 L200.0,352.0 L200.3,352.0 L200.5,351.9 L200.7,351.9 L201.0,351.9 L201.2,351.8 L201.4,351.8 L201.7,351.7 L201.9,351.7 L202.1,351.6 L202.3,351.6 L202.6,351.5 L202.8,351.5 L203.0,351.4 L203.3,351.4 L203.5,351.4 L203.7,351.4 L204.0,351.4 L204.2,351.4 L204.4,351.4 L204.7,351.4 L204.9,351.4 L205.1,351.5 L205.4,351.5 L205.6,351.6 L205.8,351.6 L206.0,351.6 L206.3,351.7 L206.5,351.7 L206.7,351.8 L207.0,351.8 L207.2,351.8 L207.4,351.8 L207.7,351.8 L207.9,351.8 L208.1,351.8 L208.4,351.8 L208.6,351.8 L208.8,351.7 L209.0,351.7 L209.3,351.6 L209.5,351.6 L209.7,351.5 L210.0,351.5 L210.2,351.4 L210.4,351.4 L210.7,351.3 L210.9,351.3 L211.1,351.2 L211.4,351.2 L211.6,351.2 L211.8,351.2 L212.1,351.2 L212.3,351.2 L212.5,351.2 L212.7,351.2 L213.0,351.2 L213.2,351.3 L213.4,351.3 L213.7,351.3 L213.9,351.4 L214.1,351.4 L214.4,351.5 L214.6,351.5 L214.8,351.6 L215.1,351.6 L215.3,351.6 L215.5,351.6 L215.7,351.6 L216.0,351.6 L216.2,351.6 L216.4,351.6 L216.7,351.6 L216.9,351.5 L217.1,351.5 L217.4,351.4 L217.6,351.4 L217.8,351.3 L218.1,351.3 L218.3,351.2 L218.5,351.1 L218.8,351.1 L219.0,351.1 L219.2,351.0 L219.4,351.0 L219.7,351.0 L219.9,351.0 L220.1,351.0 L220.4,351.0 L220.6,351.0 L220.8,351.0 L221.1,351.0 L221.3,351.1 L221.5,351.1 L221.8,351.1 L222.0,351.2 L222.2,351.2 L222.4,351.3 L222.7,351.3 L222.9,351.4 L223.1,351.4 L223.4,351.4 L223.6,351.4 L223.8,351.4 L224.1,351.4 L224.3,351.4 L224.5,351.4 L224.8,351.4 L225.0,351.3 L225.2,351.3 L225.5,351.2 L225.7,351.2 L225.9,351.1 L226.1,351.1 L226.4,351.0 L226.6,351.0 L226.8,350.9 L227.1,350.9 L227.3,350.8 L227.5,350.8 L227.8,350.8 L228.0,350.8 L228.2,350.8 L228.5,350.8 L228.7,350.8 L228.9,350.8 L229.1,350.9 L229.4,350.9 L229.6,350.9 L229.8,351.0 L230.1,351.0 L230.3,351.1 L230.5,351.1 L230.8,351.2 L231.0,351.2 L231.2,351.2 L231.5,351.3 L231.7,351.3 L231.9,351.3 L232.2,351.3 L232.4,351.3 L232.6,351.3 L232.8,351.2 L233.1,351.2 L233.3,351.1 L233.5,351.1 L233.8,351.1 L234.0,351.0 L234.2,350.9 L234.5,350.9 L234.7,350.8 L234.9,350.8 L235.2,350.8 L235.4,350.7 L235.6,350.7 L235.8,350.7 L236.1,350.7 L236.3,350.7 L236.5,350.7 L236.8,350.7 L237.0,350.7 L237.2,350.7 L237.5,350.8 L237.7,350.8 L237.9,350.9 L238.2,350.9 L238.4,351.0 L238.6,351.0 L238.9,351.0 L239.1,351.1 L239.3,351.1 L239.5,351.1 L239.8,351.2 L240.0,351.2 L240.2,351.2 L240.5,351.2 L240.7,351.1 L240.9,351.1 L241.2,351.1 L241.4,351.0 L241.6,351.0 L241.9,350.9 L242.1,350.9 L242.3,350.8 L242.5,350.8 L242.8,350.7 L243.0,350.7 L243.2,350.6 L243.5,350.6 L243.7,350.6 L243.9,350.6 L244.2,350.6 L244.4,350.6 L244.6,350.6 L244.9,350.6 L245.1,350.6 L245.3,350.6 L245.5,350.7 L245.8,350.7 L246.0,350.8 L246.2,350.8 L246.5,350.9 L246.7,350.9 L246.9,351.0 L247.2,351.0 L247.4,351.0 L247.6,351.1 L247.9,351.1 L248.1,351.1 L248.3,351.1 L248.6,351.1 L248.8,351.1 L249.0,351.0 L249.2,351.0 L249.5,351.0 L249.7,350.9 L249.9,350.9 L250.2,350.8 L250.4,350.8 L250.6,350.7 L250.9,350.7 L251.1,350.6 L251.3,350.6 L251.6,350.5 L251.8,350.5 L252.0,350.5 L252.2,350.5 L252.5,350.5 L252.7,350.5 L252.9,350.5 L253.2,350.5 L253.4,350.6 L253.6,350.6 L253.9,350.7 L254.1,350.7 L254.3,350.8 L254.6,350.8 L254.8,350.9 L255.0,350.9 L255.3,350.9 L255.5,351.0 L255.7,351.0 L255.9,351.0 L256.2,351.0 L256.4,351.0 L256.6,351.0 L256.9,351.0 L257.1,351.0 L257.3,350.9 L257.6,350.9 L257.8,350.9 L258.0,350.8 L258.3,350.8 L258.5,350.7 L258.7,350.7 L258.9,350.6 L259.2,350.6 L259.4,350.5 L259.6,350.5 L259.9,350.5 L260.1,350.4 L260.3,350.4 L260.6,350.4 L260.8,350.4 L261.0,350.5 L261.3,350.5 L261.5,350.5 L261.7,350.6 L262.0,350.6 L262.2,350.7 L262.4,350.7 L262.6,350.8 L262.9,350.8 L263.1,350.8 L263.3,350.9 L263.6,350.9 L263.8,350.9 L264.0,351.0 L264.3,351.0 L264.5,351.0 L264.7,351.0 L265.0,350.9 L265.2,350.9 L265.4,350.9 L265.6,350.8 L265.9,350.8 L266.1,350.8 L266.3,350.7 L266.6,350.7 L266.8,350.6 L267.0,350.6 L267.3,350.5 L267.5,350.5 L267.7,350.4 L268.0,350.4 L268.2,350.4 L268.4,350.4 L268.7,350.4 L268.9,350.4 L269.1,350.4 L269.3,350.4 L269.6,350.5 L269.8,350.5 L270.0,350.6 L270.3,350.6 L270.5,350.7 L270.7,350.7 L271.0,350.8 L271.2,350.8 L271.4,350.8 L271.7,350.9 L271.9,350.9 L272.1,350.9 L272.3,350.9 L272.6,350.9 L272.8,350.9 L273.0,350.9 L273.3,350.9 L273.5,350.8 L273.7,350.8 L274.0,350.8 L274.2,350.7 L274.4,350.7 L274.7,350.6 L274.9,350.6 L275.1,350.5 L275.4,350.5 L275.6,350.4 L275.8,350.4 L276.0,350.4 L276.3,350.4 L276.5,350.3 L276.7,350.3 L277.0,350.4 L277.2,350.4 L277.4,350.4 L277.7,350.4 L277.9,350.5 L278.1,350.5 L278.4,350.6 L278.6,350.6 L278.8,350.7 L279.0,350.7 L279.3,350.8 L279.5,350.8 L279.7,350.8 L280.0,350.9 L280.2,350.9 L280.4,350.9 L280.7,350.9 L280.9,350.9 L281.1,350.9 L281.4,350.9 L281.6,350.8 L281.8,350.8 L282.1,350.7 L282.3,350.7 L282.5,350.6 L282.7,350.6 L283.0,350.5 L283.2,350.5 L283.4,350.4 L283.7,350.4 L283.9,350.4 L284.1,350.4 L284.4,350.3 L284.6,350.3 L284.8,350.3 L285.1,350.3 L285.3,350.4 L285.5,350.4 L285.7,350.4 L286.0,350.5 L286.2,350.5 L286.4,350.6 L286.7,350.6 L286.9,350.7 L287.1,350.7 L287.4,350.8 L287.6,350.8 L287.8,350.8 L288.1,350.9 L288.3,350.9 L288.5,350.9 L288.8,350.9 L289.0,350.9 L289.2,350.9 L289.4,350.8 L289.7,350.8 L289.9,350.8 L290.1,350.7 L290.4,350.7 L290.6,350.6 L290.8,350.6 L291.1,350.5 L291.3,350.5 L291.5,350.4 L291.8,350.4 L292.0,350.4 L292.2,350.4 L292.4,350.3 L292.7,350.3 L292.9,350.3 L293.1,350.3 L293.4,350.4 L293.6,350.4 L293.8,350.4 L294.1,350.5 L294.3,350.5 L294.5,350.6 L294.8,350.6 L295.0,350.7 L295.2,350.7 L295.5,350.8 L295.7,350.8 L295.9,350.8 L296.1,350.9 L296.4,350.9 L296.6,350.9 L296.8,350.9 L297.1,350.9 L297.3,350.9 L297.5,350.8 L297.8,350.8 L298.0,350.8 L298.2,350.7 L298.5,350.7 L298.7,350.6 L298.9,350.6 L299.1,350.5 L299.4,350.5 L299.6,350.4 L299.8,350.4 L300.1,350.4 L300.3,350.4 L300.5,350.3 L300.8,350.3 L301.0,350.3 L301.2,350.3 L301.5,350.4 L301.7,350.4 L301.9,350.4 L302.1,350.5 L302.4,350.5 L302.6,350.6 L302.8,350.6 L303.1,350.7 L303.3,350.7 L303.5,350.8 L303.8,350.8 L304.0,350.8 L304.2,350.9 L304.5,350.9 L304.7,350.9 L304.9,350.9 L305.2,350.9 L305.4,350.9 L305.6,350.8 L305.8,350.8 L306.1,350.8 L306.3,350.7 L306.5,350.7 L306.8,350.6 L307.0,350.6 L307.2,350.5 L307.5,350.5 L307.7,350.4 L307.9,350.4 L308.2,350.4 L308.4,350.4 L308.6,350.3 L308.8,350.3 L309.1,350.3 L309.3,350.3 L309.5,350.4 L309.8,350.4 L310.0,350.4 L310.2,350.5 L310.5,350.5 L310.7,350.6 L310.9,350.6 L311.2,350.7 L311.4,350.7 L311.6,350.8 L311.9,350.8 L312.1,350.8 L312.3,350.9 L312.5,350.9 L312.8,350.9 L313.0,350.9 L313.2,350.9 L313.5,350.9 L313.7,350.8 L313.9,350.8 L314.2,350.8 L314.4,350.7 L314.6,350.7 L314.9,350.6 L315.1,350.6 L315.3,350.5 L315.5,350.5 L315.8,350.4 L316.0,350.4 L316.2,350.4 L316.5,350.4 L316.7,350.3 L316.9,350.3 L317.2,350.3 L317.4,350.3 L317.6,350.4 L317.9,350.4 L318.1,350.4 L318.3,350.5 L318.6,350.5 L318.8,350.6 L319.0,350.6 L319.2,350.7 L319.5,350.7 L319.7,350.8 L319.9,350.8 L320.2,350.8 L320.4,350.9 L320.6,350.9 L320.9,350.9 L321.1,350.9 L321.3,350.9 L321.6,350.9 L321.8,350.8 L322.0,350.8 L322.2,350.8 L322.5,350.7 L322.7,350.7 L322.9,350.6 L323.2,350.6 L323.4,350.5 L323.6,350.5 L323.9,350.4 L324.1,350.4 L324.3,350.4 L324.6,350.4 L324.8,350.3 L325.0,350.3 L325.3,350.3 L325.5,350.3 L325.7,350.4 L325.9,350.4 L326.2,350.4 L326.4,350.5 L326.6,350.5 L326.9,350.6 L327.1,350.6" stroke="#0000ff" stroke-width="2.1" fill="none" stroke-linejoin="round" stroke-linecap="round"/></g>
<g clip-path="url(#ccR)"><path d="M394.2,350.6 L394.4,350.5 L394.7,350.5 L394.9,350.4 L395.1,350.4 L395.4,350.4 L395.6,350.4 L395.8,350.4 L396.1,350.4 L396.3,350.4 L396.5,350.5 L396.8,350.5 L397.0,350.5 L397.2,350.6 L397.4,350.6 L397.7,350.7 L397.9,350.7 L398.1,350.8 L398.4,350.8 L398.6,350.9 L398.8,350.9 L399.1,350.9 L399.3,351.0 L399.5,351.0 L399.8,351.0 L400.0,351.0 L400.2,350.9 L400.5,350.9 L400.7,350.9 L400.9,350.9 L401.2,350.8 L401.4,350.8 L401.6,350.7 L401.9,350.7 L402.1,350.6 L402.3,350.6 L402.6,350.5 L402.8,350.5 L403.0,350.4 L403.2,350.4 L403.5,350.4 L403.7,350.4 L403.9,350.4 L404.2,350.4 L404.4,350.4 L404.6,350.5 L404.9,350.5 L405.1,350.5 L405.3,350.6 L405.6,350.6 L405.8,350.7 L406.0,350.7 L406.3,350.8 L406.5,350.8 L406.7,350.9 L407.0,350.9 L407.2,350.9 L407.4,351.0 L407.7,351.0 L407.9,351.0 L408.1,351.0 L408.4,350.9 L408.6,350.9 L408.8,350.9 L409.0,350.9 L409.3,350.8 L409.5,350.8 L409.7,350.7 L410.0,350.7 L410.2,350.6 L410.4,350.6 L410.7,350.5 L410.9,350.5 L411.1,350.4 L411.4,350.4 L411.6,350.4 L411.8,350.4 L412.1,350.4 L412.3,350.4 L412.5,350.4 L412.8,350.5 L413.0,350.5 L413.2,350.5 L413.5,350.6 L413.7,350.6 L413.9,350.7 L414.2,350.7 L414.4,350.8 L414.6,350.8 L414.8,350.9 L415.1,350.9 L415.3,350.9 L415.5,351.0 L415.8,351.0 L416.0,351.0 L416.2,351.0 L416.5,350.9 L416.7,350.9 L416.9,350.9 L417.2,350.9 L417.4,350.8 L417.6,350.8 L417.9,350.7 L418.1,350.7 L418.3,350.6 L418.6,350.6 L418.8,350.5 L419.0,350.5 L419.3,350.4 L419.5,350.4 L419.7,350.4 L420.0,350.4 L420.2,350.4 L420.4,350.4 L420.6,350.4 L420.9,350.5 L421.1,350.5 L421.3,350.5 L421.6,350.6 L421.8,350.6 L422.0,350.7 L422.3,350.7 L422.5,350.8 L422.7,350.8 L423.0,350.9 L423.2,350.9 L423.4,350.9 L423.7,351.0 L423.9,351.0 L424.1,351.0 L424.4,351.0 L424.6,350.9 L424.8,350.9 L425.1,350.9 L425.3,350.9 L425.5,350.8 L425.8,350.8 L426.0,350.7 L426.2,350.7 L426.4,350.6 L426.7,350.6 L426.9,350.5 L427.1,350.5 L427.4,350.4 L427.6,350.4 L427.8,350.4 L428.1,350.4 L428.3,350.4 L428.5,350.4 L428.8,350.4 L429.0,350.5 L429.2,350.5 L429.5,350.5 L429.7,350.6 L429.9,350.6 L430.2,350.7 L430.4,350.7 L430.6,350.8 L430.9,350.8 L431.1,350.9 L431.3,350.9 L431.6,350.9 L431.8,351.0 L432.0,351.0 L432.2,351.0 L432.5,351.0 L432.7,350.9 L432.9,350.9 L433.2,350.9 L433.4,350.9 L433.6,350.8 L433.9,350.8 L434.1,350.7 L434.3,350.7 L434.6,350.6 L434.8,350.6 L435.0,351.2 L435.3,352.3 L435.5,353.5 L435.7,354.9 L436.0,356.7 L436.2,358.8 L436.4,361.0 L436.7,363.3 L436.9,365.5 L437.1,367.5 L437.4,369.2 L437.6,370.6 L437.8,371.4 L438.0,372.0 L438.3,372.4 L438.5,372.8 L438.7,373.1 L439.0,373.4 L439.2,373.7 L439.4,374.0 L439.7,374.3 L439.9,374.5 L440.1,374.7 L440.4,375.0 L440.6,375.1 L440.8,375.3 L441.1,375.5 L441.3,375.7 L441.5,375.9 L441.8,376.1 L442.0,376.3 L442.2,376.6 L442.5,376.9 L442.7,377.2 L442.9,377.6 L443.2,378.1 L443.4,378.6 L443.6,379.2 L443.8,379.8 L444.1,380.5 L444.3,381.1 L444.5,381.8 L444.8,382.4 L445.0,383.1 L445.2,384.0 L445.5,384.9 L445.7,385.7 L445.9,386.5 L446.2,387.1 L446.4,387.5 L446.6,387.6 L446.9,387.5 L447.1,387.5 L447.3,387.4 L447.6,387.2 L447.8,387.1 L448.0,386.9 L448.3,386.6 L448.5,386.4 L448.7,386.1 L449.0,385.8 L449.2,385.5 L449.4,385.2 L449.6,384.9 L449.9,384.6 L450.1,384.2 L450.3,383.9 L450.6,383.5 L450.8,383.2 L451.0,382.9 L451.3,382.6 L451.5,382.3 L451.7,382.0 L452.0,381.7 L452.2,381.3 L452.4,381.0 L452.7,380.6 L452.9,380.3 L453.1,379.9 L453.4,379.5 L453.6,379.1 L453.8,378.7 L454.1,378.3 L454.3,377.9 L454.5,377.5 L454.8,377.1 L455.0,376.8 L455.2,376.5 L455.4,376.2 L455.7,375.9 L455.9,375.7 L456.1,375.5 L456.4,375.3 L456.6,375.2 L456.8,375.2 L457.1,375.1 L457.3,375.0 L457.5,374.9 L457.8,374.8 L458.0,374.7 L458.2,374.6 L458.5,374.5 L458.7,374.3 L458.9,374.2 L459.2,374.1 L459.4,373.9 L459.6,373.8 L459.9,373.7 L460.1,373.6 L460.3,373.5 L460.6,373.4 L460.8,373.3 L461.0,373.3 L461.2,373.2 L461.5,373.2 L461.7,373.2 L461.9,373.2 L462.2,373.3 L462.4,373.3 L462.6,373.3 L462.9,373.3 L463.1,373.4 L463.3,373.4 L463.6,373.4 L463.8,373.4 L464.0,373.3 L464.3,373.3 L464.5,373.2 L464.7,373.1 L465.0,373.0 L465.2,372.8 L465.4,372.6 L465.7,372.4 L465.9,372.2 L466.1,371.9 L466.4,371.7 L466.6,371.4 L466.8,371.1 L467.0,370.8 L467.3,370.6 L467.5,370.3 L467.7,370.0 L468.0,369.8 L468.2,369.6 L468.4,369.4 L468.7,369.2 L468.9,369.1 L469.1,369.0 L469.4,368.9 L469.6,368.9 L469.8,368.9 L470.1,368.9 L470.3,369.0 L470.5,369.0 L470.8,369.1 L471.0,369.2 L471.2,369.2 L471.5,369.3 L471.7,369.3 L471.9,369.4 L472.2,369.4 L472.4,369.3 L472.6,369.3 L472.8,369.2 L473.1,369.1 L473.3,369.0 L473.5,368.8 L473.8,368.6 L474.0,368.3 L474.2,368.1 L474.5,367.8 L474.7,367.5 L474.9,367.3 L475.2,367.0 L475.4,366.7 L475.6,366.4 L475.9,366.2 L476.1,366.0 L476.3,365.8 L476.6,365.6 L476.8,365.5 L477.0,365.4 L477.3,365.4 L477.5,365.3 L477.7,365.4 L478.0,365.4 L478.2,365.5 L478.4,365.6 L478.6,365.7 L478.9,365.8 L479.1,365.9 L479.3,366.0 L479.6,366.1 L479.8,366.2 L480.0,366.2 L480.3,366.3 L480.5,366.3 L480.7,366.2 L481.0,366.2 L481.2,366.0 L481.4,365.9 L481.7,365.7 L481.9,365.5 L482.1,365.2 L482.4,365.0 L482.6,364.7 L482.8,364.4 L483.1,364.1 L483.3,363.8 L483.5,363.5 L483.8,363.2 L484.0,363.0 L484.2,362.8 L484.4,362.6 L484.7,362.4 L484.9,362.3 L485.1,362.2 L485.4,362.2 L485.6,362.2 L485.8,362.2 L486.1,362.3 L486.3,362.3 L486.5,362.5 L486.8,362.6 L487.0,362.7 L487.2,362.8 L487.5,363.0 L487.7,363.1 L487.9,363.2 L488.2,363.2 L488.4,363.3 L488.6,363.3 L488.9,363.2 L489.1,363.2 L489.3,363.1 L489.6,362.9 L489.8,362.7 L490.0,362.5 L490.2,362.2 L490.5,362.0 L490.7,361.7 L490.9,361.3 L491.2,361.0 L491.4,360.7 L491.6,360.4 L491.9,360.2 L492.1,359.9 L492.3,359.7 L492.6,359.5 L492.8,359.3 L493.0,359.2 L493.3,359.1 L493.5,359.1 L493.7,359.1 L494.0,359.2 L494.2,359.2 L494.4,359.3 L494.7,359.5 L494.9,359.6 L495.1,359.8 L495.4,360.0 L495.6,360.1 L495.8,360.2 L496.0,360.4 L496.3,360.5 L496.5,360.5 L496.7,360.6 L497.0,360.5 L497.2,360.5 L497.4,360.4 L497.7,360.3 L497.9,360.1 L498.1,359.9 L498.4,359.7 L498.6,359.4 L498.8,359.2 L499.1,358.9 L499.3,358.6 L499.5,358.3 L499.8,358.0 L500.0,357.8 L500.2,357.5 L500.5,357.3 L500.7,357.2 L500.9,357.1 L501.2,357.0 L501.4,356.9 L501.6,356.9 L501.8,357.0 L502.1,357.1 L502.3,357.2 L502.5,357.3 L502.8,357.5 L503.0,357.7 L503.2,357.9 L503.5,358.0 L503.7,358.2 L503.9,358.4 L504.2,358.6 L504.4,358.7 L504.6,358.8 L504.9,358.9 L505.1,358.9 L505.3,358.9 L505.6,358.8 L505.8,358.7 L506.0,358.6 L506.3,358.4 L506.5,358.2 L506.7,358.0 L507.0,357.7 L507.2,357.5 L507.4,357.2 L507.6,356.9 L507.9,356.7 L508.1,356.5 L508.3,356.3 L508.6,356.1 L508.8,355.9 L509.0,355.8 L509.3,355.8 L509.5,355.8 L509.7,355.8 L510.0,355.8 L510.2,355.9 L510.4,356.1 L510.7,356.2 L510.9,356.4 L511.1,356.6 L511.4,356.8 L511.6,357.0 L511.8,357.2 L512.1,357.4 L512.3,357.5 L512.5,357.7 L512.8,357.8 L513.0,357.8 L513.2,357.8 L513.4,357.8 L513.7,357.7 L513.9,357.6 L514.1,357.4 L514.4,357.2 L514.6,357.0 L514.8,356.7 L515.1,356.5 L515.3,356.2 L515.5,355.9 L515.8,355.6 L516.0,355.3 L516.2,355.0 L516.5,354.8 L516.7,354.6 L516.9,354.4 L517.2,354.3 L517.4,354.2 L517.6,354.2 L517.9,354.2 L518.1,354.2 L518.3,354.3 L518.6,354.4 L518.8,354.6 L519.0,354.8 L519.2,354.9 L519.5,355.2 L519.7,355.4 L519.9,355.6 L520.2,355.7 L520.4,355.9 L520.6,356.0 L520.9,356.1 L521.1,356.2 L521.3,356.2 L521.6,356.2 L521.8,356.2 L522.0,356.1 L522.3,355.9 L522.5,355.7 L522.7,355.5 L523.0,355.3 L523.2,355.0 L523.4,354.8 L523.7,354.5 L523.9,354.2 L524.1,354.0 L524.4,353.7 L524.6,353.5 L524.8,353.3 L525.0,353.2 L525.3,353.1 L525.5,353.0 L525.7,353.0 L526.0,353.0 L526.2,353.1 L526.4,353.2 L526.7,353.3 L526.9,353.5 L527.1,353.7 L527.4,353.9 L527.6,354.1 L527.8,354.3 L528.1,354.6 L528.3,354.8 L528.5,354.9 L528.8,355.1 L529.0,355.2 L529.2,355.3 L529.5,355.3 L529.7,355.3 L529.9,355.2 L530.2,355.1 L530.4,355.0 L530.6,354.8 L530.8,354.6 L531.1,354.4 L531.3,354.1 L531.5,353.8 L531.8,353.5 L532.0,353.3 L532.2,353.0 L532.5,352.8 L532.7,352.5 L532.9,352.4 L533.2,352.2 L533.4,352.1 L533.6,352.0 L533.9,352.0 L534.1,352.1 L534.3,352.1 L534.6,352.3 L534.8,352.4 L535.0,352.6 L535.3,352.8 L535.5,353.0 L535.7,353.2 L536.0,353.5 L536.2,353.7 L536.4,353.9 L536.6,354.1 L536.9,354.3 L537.1,354.4 L537.3,354.5 L537.6,354.5 L537.8,354.5 L538.0,354.4 L538.3,354.3 L538.5,354.2 L538.7,354.0 L539.0,353.8 L539.2,353.6 L539.4,353.3 L539.7,353.0 L539.9,352.8 L540.1,352.5 L540.4,352.2 L540.6,352.0 L540.8,351.7 L541.1,351.6 L541.3,351.4 L541.5,351.3 L541.8,351.2 L542.0,351.2 L542.2,351.3 L542.4,351.3 L542.7,351.5 L542.9,351.6 L543.1,351.8 L543.4,352.0 L543.6,352.3 L543.8,352.5 L544.1,352.7 L544.3,353.0 L544.5,353.2 L544.8,353.4 L545.0,353.5 L545.2,353.7 L545.5,353.8 L545.7,353.8 L545.9,353.8 L546.2,353.7 L546.4,353.6 L546.6,353.5 L546.9,353.3 L547.1,353.1 L547.3,352.9 L547.6,352.6 L547.8,352.3 L548.0,352.0 L548.2,351.8 L548.5,351.5 L548.7,351.2 L548.9,351.0 L549.2,350.8 L549.4,350.7 L549.6,350.6 L549.9,350.5 L550.1,350.5 L550.3,350.5 L550.6,350.6 L550.8,350.8 L551.0,350.9 L551.3,351.1 L551.5,351.4 L551.7,351.6 L552.0,351.8 L552.2,352.1 L552.4,352.3 L552.7,352.6 L552.9,352.8 L553.1,353.0 L553.4,353.1 L553.6,353.2 L553.8,353.2 L554.0,353.2 L554.3,353.2 L554.5,353.1 L554.7,353.0 L555.0,352.8 L555.2,352.6 L555.4,352.3 L555.7,352.1 L555.9,351.8 L556.1,351.5 L556.4,351.2 L556.6,351.0 L556.8,350.7 L557.1,350.5 L557.3,350.3 L557.5,350.2 L557.8,350.1 L558.0,350.0 L558.2,350.0 L558.5,350.1 L558.7,350.2 L558.9,350.3 L559.2,350.5 L559.4,350.7 L559.6,350.9 L559.8,351.2 L560.1,351.4 L560.3,351.7 L560.5,352.0 L560.8,352.2 L561.0,352.4 L561.2,352.6 L561.5,352.8 L561.7,352.9 L561.9,352.9 L562.2,352.9 L562.4,352.9 L562.6,352.8 L562.9,352.6 L563.1,352.5 L563.3,352.3 L563.6,352.0 L563.8,351.7 L564.0,351.5 L564.3,351.2 L564.5,350.9 L564.7,350.6 L565.0,350.4 L565.2,350.2 L565.4,350.0 L565.6,349.8 L565.9,349.7 L566.1,349.7 L566.3,349.7 L566.6,349.7 L566.8,349.8 L567.0,350.0 L567.3,350.2 L567.5,350.4 L567.7,350.6 L568.0,350.9 L568.2,351.2 L568.4,351.4 L568.7,351.7 L568.9,351.9 L569.1,352.2 L569.4,352.4 L569.6,352.5 L569.8,352.6 L570.1,352.7 L570.3,352.7 L570.5,352.7 L570.8,352.6 L571.0,352.4 L571.2,352.2 L571.4,352.0 L571.7,351.8 L571.9,351.5 L572.1,351.2 L572.4,350.9 L572.6,350.7 L572.8,350.4 L573.1,350.1 L573.3,349.9 L573.5,349.7 L573.8,349.6 L574.0,349.5 L574.2,349.4 L574.5,349.4 L574.7,349.5 L574.9,349.6 L575.2,349.7 L575.4,349.9 L575.6,350.2 L575.9,350.4 L576.1,350.7 L576.3,351.0 L576.6,351.2 L576.8,351.5 L577.0,351.8 L577.2,352.0 L577.5,352.2 L577.7,352.4 L577.9,352.5 L578.2,352.5 L578.4,352.5 L578.6,352.5 L578.9,352.4 L579.1,352.3 L579.3,352.1 L579.6,351.9 L579.8,351.6 L580.0,351.3 L580.3,351.1 L580.5,350.8 L580.7,350.5 L581.0,350.2 L581.2,350.0 L581.4,349.7 L581.7,349.5 L581.9,349.4 L582.1,349.3 L582.4,349.3 L582.6,349.3 L582.8,349.3 L583.0,349.4 L583.3,349.6 L583.5,349.8 L583.7,350.0 L584.0,350.3 L584.2,350.5 L584.4,350.8 L584.7,351.1 L584.9,351.4 L585.1,351.6 L585.4,351.9 L585.6,352.1 L585.8,352.2 L586.1,352.3 L586.3,352.4 L586.5,352.4 L586.8,352.4 L587.0,352.3 L587.2,352.1 L587.5,352.0 L587.7,351.7 L587.9,351.5 L588.2,351.2 L588.4,350.9 L588.6,350.6 L588.8,350.3 L589.1,350.1 L589.3,349.8 L589.5,349.6 L589.8,349.4 L590.0,349.3 L590.2,349.2 L590.5,349.1 L590.7,349.1 L590.9,349.2 L591.2,349.3 L591.4,349.4 L591.6,349.6 L591.9,349.9 L592.1,350.1 L592.3,350.4 L592.6,350.7 L592.8,351.0 L593.0,351.3 L593.3,351.5 L593.5,351.8 L593.7,352.0 L594.0,352.1 L594.2,352.2 L594.4,352.3 L594.6,352.3 L594.9,352.3 L595.1,352.2 L595.3,352.1 L595.6,351.9 L595.8,351.7 L596.0,351.4 L596.3,351.1 L596.5,350.8 L596.7,350.6 L597.0,350.3 L597.2,350.0 L597.4,349.7 L597.7,349.5 L597.9,349.3 L598.1,349.2 L598.4,349.1 L598.6,349.1 L598.8,349.1 L599.1,349.1 L599.3,349.2 L599.5,349.4 L599.8,349.6 L600.0,349.8 L600.2,350.1 L600.4,350.4 L600.7,350.7 L600.9,351.0 L601.1,351.2 L601.4,351.5 L601.6,351.7 L601.8,351.9 L602.1,352.1 L602.3,352.2 L602.5,352.3 L602.8,352.3 L603.0,352.3 L603.2,352.2 L603.5,352.0 L603.7,351.9 L603.9,351.6 L604.2,351.4 L604.4,351.1 L604.6,350.8 L604.9,350.5 L605.1,350.2 L605.3,350.0 L605.6,349.7 L605.8,349.5 L606.0,349.3 L606.2,349.2 L606.5,349.1 L606.7,349.0 L606.9,349.1 L607.2,349.1 L607.4,349.2 L607.6,349.4 L607.9,349.6 L608.1,349.8 L608.3,350.1 L608.6,350.4 L608.8,350.6 L609.0,350.9 L609.3,351.2 L609.5,351.5 L609.7,351.7 L610.0,351.9 L610.2,352.1 L610.4,352.2 L610.7,352.3 L610.9,352.3 L611.1,352.2 L611.4,352.2 L611.6,352.0 L611.8,351.8 L612.0,351.6 L612.3,351.4 L612.5,351.1 L612.7,350.8 L613.0,350.5 L613.2,350.2 L613.4,350.0 L613.7,349.7 L613.9,349.5 L614.1,349.3 L614.4,349.2 L614.6,349.1 L614.8,349.0 L615.1,349.0 L615.3,349.1 L615.5,349.2 L615.8,349.4 L616.0,349.6 L616.2,349.8 L616.5,350.1 L616.7,350.3 L616.9,350.6 L617.2,350.9 L617.4,351.2 L617.6,351.5 L617.8,351.7 L618.1,351.9 L618.3,352.1 L618.5,352.2 L618.8,352.3 L619.0,352.3 L619.2,352.2 L619.5,352.1 L619.7,352.0 L619.9,351.8 L620.2,351.6 L620.4,351.4 L620.6,351.1 L620.9,350.8 L621.1,350.5 L621.3,350.2 L621.6,350.0 L621.8,349.7 L622.0,349.5 L622.3,349.3 L622.5,349.2 L622.7,349.1 L623.0,349.0 L623.2,349.0 L623.4,349.1 L623.6,349.2 L623.9,349.4 L624.1,349.6 L624.3,349.8 L624.6,350.1 L624.8,350.3 L625.0,350.6 L625.3,350.9 L625.5,351.2 L625.7,351.5 L626.0,351.7 L626.2,351.9 L626.4,352.1 L626.7,352.2 L626.9,352.2 L627.1,352.3 L627.4,352.2 L627.6,352.1 L627.8,352.0 L628.1,351.8 L628.3,351.6 L628.5,351.4 L628.8,351.1 L629.0,350.8 L629.2,350.5 L629.4,350.2 L629.7,349.9 L629.9,349.7 L630.1,349.5 L630.4,349.3 L630.6,349.1 L630.8,349.1 L631.1,349.0 L631.3,349.0 L631.5,349.1 L631.8,349.2 L632.0,349.4 L632.2,349.6 L632.5,349.8 L632.7,350.0 L632.9,350.3 L633.2,350.6 L633.4,350.9 L633.6,351.2 L633.9,351.5 L634.1,351.7 L634.3,351.9 L634.6,352.1 L634.8,352.2 L635.0,352.2 L635.2,352.3 L635.5,352.2 L635.7,352.1 L635.9,352.0 L636.2,351.8 L636.4,351.6 L636.6,351.3 L636.9,351.1 L637.1,350.8 L637.3,350.5 L637.6,350.2 L637.8,349.9 L638.0,349.7 L638.3,349.5 L638.5,349.3 L638.7,349.1 L639.0,349.0 L639.2,349.0 L639.4,349.0 L639.7,349.1 L639.9,349.2 L640.1,349.3 L640.4,349.5 L640.6,349.8 L640.8,350.0 L641.0,350.3 L641.3,350.6 L641.5,350.9 L641.7,351.2 L642.0,351.4 L642.2,351.7 L642.4,351.9 L642.7,352.0 L642.9,352.2 L643.1,352.2 L643.4,352.2 L643.6,352.2 L643.8,352.1 L644.1,352.0 L644.3,351.8 L644.5,351.6 L644.8,351.3 L645.0,351.1 L645.2,350.8 L645.5,350.5 L645.7,350.2 L645.9,349.9 L646.2,349.7 L646.4,349.5 L646.6,349.3 L646.8,349.1 L647.1,349.0 L647.3,349.0 L647.5,349.0 L647.8,349.1 L648.0,349.2 L648.2,349.3 L648.5,349.5 L648.7,349.8 L648.9,350.0 L649.2,350.3 L649.4,350.6 L649.6,350.9 L649.9,351.2 L650.1,351.4 L650.3,351.7 L650.6,351.9 L650.8,352.0 L651.0,352.2 L651.3,352.2 L651.5,352.2 L651.7,352.2 L652.0,352.1 L652.2,352.0 L652.4,351.8 L652.6,351.6 L652.9,351.3 L653.1,351.1 L653.3,350.8 L653.6,350.5 L653.8,350.2 L654.0,349.9 L654.3,349.7 L654.5,349.5 L654.7,349.3 L655.0,349.1 L655.2,349.0 L655.4,349.0 L655.7,349.0 L655.9,349.1 L656.1,349.2 L656.4,349.3 L656.6,349.5 L656.8,349.8 L657.1,350.0 L657.3,350.3 L657.5,350.6 L657.8,350.9 L658.0,351.2 L658.2,351.4 L658.4,351.7 L658.7,351.9 L658.9,352.0 L659.1,352.2 L659.4,352.2 L659.6,352.2 L659.8,352.2 L660.1,352.1 L660.3,352.0 L660.5,351.8 L660.8,351.6 L661.0,351.3 L661.2,351.1 L661.5,350.8 L661.7,350.5 L661.9,350.2 L662.2,349.9 L662.4,349.7 L662.6,349.4 L662.9,349.3 L663.1,349.1 L663.3,349.0 L663.6,349.0 L663.8,349.0 L664.0,349.1 L664.2,349.2 L664.5,349.3 L664.7,349.5 L664.9,349.8 L665.2,350.0 L665.4,350.3 L665.6,350.6 L665.9,350.9 L666.1,351.2 L666.3,351.4 L666.6,351.7 L666.8,351.9 L667.0,352.0 L667.3,352.2 L667.5,352.2 L667.7,352.2 L668.0,352.2 L668.2,352.1 L668.4,352.0 L668.7,351.8 L668.9,351.6 L669.1,351.3 L669.4,351.1 L669.6,350.8 L669.8,350.5 L670.0,350.2 L670.3,349.9 L670.5,349.7 L670.7,349.4 L671.0,349.3 L671.2,349.1 L671.4,349.0 L671.7,349.0 L671.9,349.0 L672.1,349.1 L672.4,349.2 L672.6,349.3 L672.8,349.5 L673.1,349.8 L673.3,350.0 L673.5,350.3 L673.8,350.6 L674.0,350.9 L674.2,351.2 L674.5,351.4 L674.7,351.7 L674.9,351.9 L675.2,352.0 L675.4,352.2 L675.6,352.2 L675.8,352.2 L676.1,352.2 L676.3,352.1 L676.5,352.0 L676.8,351.8 L677.0,351.6 L677.2,351.3 L677.5,351.1 L677.7,350.8 L677.9,350.5 L678.2,350.2 L678.4,349.9" stroke="#0000ff" stroke-width="2.1" fill="none" stroke-linejoin="round" stroke-linecap="round"/></g>
<g clip-path="url(#cdL)"><path d="M44.0,471.4 L44.2,471.4 L44.5,471.4 L44.7,471.4 L44.9,471.4 L45.2,471.4 L45.4,471.4 L45.6,471.4 L45.8,471.4 L46.1,471.4 L46.3,471.4 L46.5,471.4 L46.8,471.4 L47.0,471.4 L47.2,471.4 L47.5,471.4 L47.7,471.4 L47.9,471.4 L48.2,471.4 L48.4,471.4 L48.6,471.4 L48.9,471.4 L49.1,471.4 L49.3,471.4 L49.5,471.4 L49.8,471.4 L50.0,471.4 L50.2,471.4 L50.5,471.4 L50.7,471.4 L50.9,471.4 L51.2,471.4 L51.4,471.4 L51.6,471.4 L51.9,471.4 L52.1,471.4 L52.3,471.4 L52.6,471.4 L52.8,471.4 L53.0,471.4 L53.2,471.4 L53.5,471.4 L53.7,471.4 L53.9,471.4 L54.2,471.4 L54.4,471.4 L54.6,471.4 L54.9,471.4 L55.1,471.4 L55.3,471.4 L55.6,471.4 L55.8,471.4 L56.0,471.4 L56.2,471.4 L56.5,471.4 L56.7,471.4 L56.9,471.4 L57.2,471.4 L57.4,471.4 L57.6,471.4 L57.9,471.4 L58.1,471.4 L58.3,471.4 L58.6,471.4 L58.8,471.4 L59.0,471.4 L59.3,471.4 L59.5,471.4 L59.7,471.4 L59.9,471.4 L60.2,471.4 L60.4,471.4 L60.6,471.4 L60.9,471.4 L61.1,471.4 L61.3,471.4 L61.6,471.4 L61.8,471.4 L62.0,471.4 L62.3,471.4 L62.5,471.4 L62.7,471.4 L63.0,471.4 L63.2,471.4 L63.4,471.4 L63.6,471.4 L63.9,471.4 L64.1,471.4 L64.3,471.4 L64.6,471.4 L64.8,471.4 L65.0,471.4 L65.3,471.4 L65.5,471.4 L65.7,471.4 L66.0,471.4 L66.2,471.4 L66.4,471.4 L66.6,471.4 L66.9,471.4 L67.1,471.4 L67.3,471.4 L67.6,471.4 L67.8,471.4 L68.0,471.4 L68.3,471.4 L68.5,471.4 L68.7,471.4 L69.0,471.4 L69.2,471.4 L69.4,471.4 L69.7,471.4 L69.9,471.4 L70.1,471.4 L70.3,471.4 L70.6,471.4 L70.8,471.4 L71.0,471.4 L71.3,471.4 L71.5,471.4 L71.7,471.4 L72.0,471.4 L72.2,471.4 L72.4,471.4 L72.7,471.4 L72.9,471.4 L73.1,471.4 L73.3,471.4 L73.6,471.4 L73.8,471.4 L74.0,471.4 L74.3,471.4 L74.5,471.4 L74.7,471.4 L75.0,471.4 L75.2,471.4 L75.4,471.4 L75.7,471.4 L75.9,471.4 L76.1,471.4 L76.4,471.4 L76.6,471.4 L76.8,471.4 L77.0,471.4 L77.3,471.4 L77.5,471.4 L77.7,471.4 L78.0,471.4 L78.2,471.4 L78.4,471.4 L78.7,471.4 L78.9,471.4 L79.1,471.4 L79.4,471.4 L79.6,471.4 L79.8,471.4 L80.1,471.4 L80.3,471.4 L80.5,471.4 L80.7,471.4 L81.0,471.4 L81.2,471.4 L81.4,471.4 L81.7,471.4 L81.9,471.4 L82.1,471.4 L82.4,471.4 L82.6,471.4 L82.8,471.4 L83.1,471.4 L83.3,471.4 L83.5,471.4 L83.7,471.4 L84.0,471.4 L84.2,471.4 L84.4,471.4 L84.7,471.5 L84.9,471.5 L85.1,471.6 L85.4,471.7 L85.6,471.9 L85.8,472.0 L86.1,472.1 L86.3,472.3 L86.5,472.5 L86.8,472.6 L87.0,472.9 L87.2,473.1 L87.4,473.3 L87.7,473.6 L87.9,473.8 L88.1,474.1 L88.4,474.4 L88.6,474.7 L88.8,475.0 L89.1,475.3 L89.3,475.6 L89.5,475.9 L89.8,476.2 L90.0,476.5 L90.2,476.8 L90.5,477.1 L90.7,477.5 L90.9,477.8 L91.1,478.1 L91.4,478.4 L91.6,478.7 L91.8,479.0 L92.1,479.3 L92.3,479.6 L92.5,479.9 L92.8,480.2 L93.0,480.4 L93.2,480.7 L93.5,481.0 L93.7,481.3 L93.9,481.6 L94.1,481.9 L94.4,482.2 L94.6,482.5 L94.8,482.8 L95.1,483.1 L95.3,483.5 L95.5,483.8 L95.8,484.2 L96.0,484.5 L96.2,484.8 L96.5,485.2 L96.7,485.6 L96.9,485.9 L97.2,486.3 L97.4,486.6 L97.6,486.9 L97.8,487.3 L98.1,487.6 L98.3,488.0 L98.5,488.3 L98.8,488.6 L99.0,488.9 L99.2,489.2 L99.5,489.5 L99.7,489.8 L99.9,490.1 L100.2,490.4 L100.4,490.7 L100.6,491.0 L100.9,491.3 L101.1,491.6 L101.3,491.8 L101.5,492.1 L101.8,492.4 L102.0,492.7 L102.2,493.0 L102.5,493.3 L102.7,493.6 L102.9,493.9 L103.2,494.3 L103.4,494.6 L103.6,494.9 L103.9,495.2 L104.1,495.6 L104.3,495.9 L104.5,496.2 L104.8,496.6 L105.0,496.9 L105.2,497.2 L105.5,497.5 L105.7,497.9 L105.9,498.2 L106.2,498.5 L106.4,498.8 L106.6,499.1 L106.9,499.4 L107.1,499.6 L107.3,499.9 L107.6,500.2 L107.8,500.4 L108.0,500.6 L108.2,500.9 L108.5,501.1 L108.7,501.3 L108.9,501.6 L109.2,501.8 L109.4,502.0 L109.6,502.2 L109.9,502.4 L110.1,502.7 L110.3,502.9 L110.6,503.1 L110.8,503.4 L111.0,503.6 L111.3,503.8 L111.5,504.1 L111.7,504.3 L111.9,504.5 L112.2,504.8 L112.4,505.0 L112.6,505.3 L112.9,505.5 L113.1,505.8 L113.3,506.0 L113.6,506.2 L113.8,506.5 L114.0,506.7 L114.3,506.9 L114.5,507.1 L114.7,507.3 L114.9,507.5 L115.2,507.7 L115.4,507.9 L115.6,508.0 L115.9,508.2 L116.1,508.4 L116.3,508.5 L116.6,508.7 L116.8,508.9 L117.0,509.0 L117.3,509.2 L117.5,509.3 L117.7,509.5 L118.0,509.6 L118.2,509.8 L118.4,509.9 L118.6,510.1 L118.9,510.3 L119.1,510.4 L119.3,510.6 L119.6,510.8 L119.8,511.0 L120.0,511.1 L120.3,511.3 L120.5,511.5 L120.7,511.7 L121.0,511.9 L121.2,512.1 L121.4,512.2 L121.7,512.4 L121.9,512.6 L122.1,512.8 L122.3,512.9 L122.6,513.1 L122.8,513.2 L123.0,513.4 L123.3,513.5 L123.5,513.6 L123.7,513.8 L124.0,513.9 L124.2,514.0 L124.4,514.1 L124.7,514.3 L124.9,514.4 L125.1,514.5 L125.3,514.6 L125.6,514.7 L125.8,514.8 L126.0,515.0 L126.3,515.1 L126.5,515.2 L126.7,515.3 L127.0,515.5 L127.2,515.6 L127.4,515.7 L127.7,515.9 L127.9,516.0 L128.1,516.2 L128.4,516.3 L128.6,516.5 L128.8,516.7 L129.0,516.8 L129.3,517.0 L129.5,517.1 L129.7,517.3 L130.0,517.4 L130.2,517.6 L130.4,517.7 L130.7,517.8 L130.9,517.9 L131.1,518.1 L131.4,518.2 L131.6,518.3 L131.8,518.4 L132.0,518.5 L132.3,518.6 L132.5,518.7 L132.7,518.8 L133.0,518.9 L133.2,518.9 L133.4,519.0 L133.7,519.1 L133.9,519.2 L134.1,519.3 L134.4,519.4 L134.6,519.5 L134.8,519.6 L135.1,519.7 L135.3,519.8 L135.5,519.9 L135.7,520.1 L136.0,520.2 L136.2,520.3 L136.4,520.4 L136.7,520.6 L136.9,520.7 L137.1,520.8 L137.4,520.9 L137.6,521.1 L137.8,521.2 L138.1,521.3 L138.3,521.4 L138.5,521.5 L138.8,521.7 L139.0,521.8 L139.2,521.8 L139.4,521.9 L139.7,522.0 L139.9,522.1 L140.1,522.2 L140.4,522.2 L140.6,522.3 L140.8,522.4 L141.1,522.4 L141.3,522.5 L141.5,522.6 L141.8,522.6 L142.0,522.7 L142.2,522.8 L142.4,522.8 L142.7,522.9 L142.9,523.0 L143.1,523.1 L143.4,523.1 L143.6,523.2 L143.8,523.3 L144.1,523.4 L144.3,523.5 L144.5,523.6 L144.8,523.7 L145.0,523.8 L145.2,523.9 L145.5,524.0 L145.7,524.1 L145.9,524.2 L146.1,524.3 L146.4,524.4 L146.6,524.5 L146.8,524.6 L147.1,524.6 L147.3,524.7 L147.5,524.8 L147.8,524.8 L148.0,524.9 L148.2,524.9 L148.5,525.0 L148.7,525.0 L148.9,525.1 L149.2,525.1 L149.4,525.1 L149.6,525.2 L149.8,525.2 L150.1,525.3 L150.3,525.3 L150.5,525.4 L150.8,525.4 L151.0,525.5 L151.2,525.5 L151.5,525.6 L151.7,525.7 L151.9,525.7 L152.2,525.8 L152.4,525.9 L152.6,526.0 L152.8,526.1 L153.1,526.2 L153.3,526.2 L153.5,526.3 L153.8,526.4 L154.0,526.5 L154.2,526.6 L154.5,526.7 L154.7,526.7 L154.9,526.8 L155.2,526.9 L155.4,526.9 L155.6,527.0 L155.9,527.0 L156.1,527.1 L156.3,527.1 L156.5,527.2 L156.8,527.2 L157.0,527.2 L157.2,527.3 L157.5,527.3 L157.7,527.3 L157.9,527.4 L158.2,527.4 L158.4,527.4 L158.6,527.5 L158.9,527.5 L159.1,527.6 L159.3,527.6 L159.6,527.7 L159.8,527.7 L160.0,527.8 L160.2,527.9 L160.5,528.0 L160.7,528.0 L160.9,528.1 L161.2,528.2 L161.4,528.3 L161.6,528.4 L161.9,528.4 L162.1,528.5 L162.3,528.6 L162.6,528.6 L162.8,528.7 L163.0,528.8 L163.2,528.8 L163.5,528.8 L163.7,528.9 L163.9,528.9 L164.2,528.9 L164.4,529.0 L164.6,529.0 L164.9,529.0 L165.1,529.0 L165.3,529.0 L165.6,529.0 L165.8,529.1 L166.0,529.1 L166.3,529.1 L166.5,529.1 L166.7,529.1 L166.9,529.1 L167.2,529.2 L167.4,529.2 L167.6,529.2 L167.9,529.3 L168.1,529.3 L168.3,529.4 L168.6,529.4 L168.8,529.5 L169.0,529.5 L169.3,529.6 L169.5,529.6 L169.7,529.7 L170.0,529.8 L170.2,529.8 L170.4,529.9 L170.6,529.9 L170.9,529.9 L171.1,530.0 L171.3,530.0 L171.6,530.0 L171.8,530.1 L172.0,530.1 L172.3,530.1 L172.5,530.1 L172.7,530.1 L173.0,530.1 L173.2,530.1 L173.4,530.1 L173.6,530.1 L173.9,530.1 L174.1,530.1 L174.3,530.1 L174.6,530.1 L174.8,530.1 L175.0,530.1 L175.3,530.2 L175.5,530.2 L175.7,530.2 L176.0,530.2 L176.2,530.3 L176.4,530.3 L176.7,530.4 L176.9,530.4 L177.1,530.5 L177.3,530.5 L177.6,530.6 L177.8,530.6 L178.0,530.7 L178.3,530.7 L178.5,530.8 L178.7,530.8 L179.0,530.9 L179.2,530.9 L179.4,530.9 L179.7,531.0 L179.9,531.0 L180.1,531.0 L180.4,531.0 L180.6,531.0 L180.8,531.0 L181.0,531.0 L181.3,531.0 L181.5,531.0 L181.7,531.0 L182.0,531.0 L182.2,531.0 L182.4,531.0 L182.7,531.0 L182.9,531.0 L183.1,531.0 L183.4,531.1 L183.6,531.1 L183.8,531.1 L184.0,531.1 L184.3,531.2 L184.5,531.2 L184.7,531.3 L185.0,531.3 L185.2,531.3 L185.4,531.4 L185.7,531.4 L185.9,531.5 L186.1,531.5 L186.4,531.6 L186.6,531.6 L186.8,531.7 L187.1,531.7 L187.3,531.7 L187.5,531.7 L187.7,531.7 L188.0,531.8 L188.2,531.8 L188.4,531.8 L188.7,531.8 L188.9,531.8 L189.1,531.7 L189.4,531.7 L189.6,531.7 L189.8,531.7 L190.1,531.7 L190.3,531.7 L190.5,531.7 L190.7,531.7 L191.0,531.7 L191.2,531.7 L191.4,531.7 L191.7,531.7 L191.9,531.7 L192.1,531.7 L192.4,531.8 L192.6,531.8 L192.8,531.8 L193.1,531.8 L193.3,531.9 L193.5,531.9 L193.8,532.0 L194.0,532.0 L194.2,532.0 L194.4,532.1 L194.7,532.1 L194.9,532.1 L195.1,532.2 L195.4,532.2 L195.6,532.2 L195.8,532.2 L196.1,532.2 L196.3,532.2 L196.5,532.2 L196.8,532.2 L197.0,532.2 L197.2,532.2 L197.5,532.2 L197.7,532.1 L197.9,532.1 L198.1,532.1 L198.4,532.1 L198.6,532.1 L198.8,532.1 L199.1,532.1 L199.3,532.1 L199.5,532.1 L199.8,532.1 L200.0,532.1 L200.2,532.1 L200.5,532.1 L200.7,532.2 L200.9,532.2 L201.1,532.2 L201.4,532.2 L201.6,532.3 L201.8,532.3 L202.1,532.3 L202.3,532.4 L202.5,532.4 L202.8,532.4 L203.0,532.5 L203.2,532.5 L203.5,532.5 L203.7,532.5 L203.9,532.5 L204.2,532.5 L204.4,532.5 L204.6,532.5 L204.8,532.5 L205.1,532.5 L205.3,532.5 L205.5,532.4 L205.8,532.4 L206.0,532.4 L206.2,532.4 L206.5,532.4 L206.7,532.3 L206.9,532.3 L207.2,532.3 L207.4,532.3 L207.6,532.3 L207.9,532.3 L208.1,532.3 L208.3,532.3 L208.5,532.4 L208.8,532.4 L209.0,532.4 L209.2,532.4 L209.5,532.5 L209.7,532.5 L209.9,532.5 L210.2,532.6 L210.4,532.6 L210.6,532.6 L210.9,532.6 L211.1,532.7 L211.3,532.7 L211.5,532.7 L211.8,532.7 L212.0,532.7 L212.2,532.7 L212.5,532.7 L212.7,532.7 L212.9,532.7 L213.2,532.7 L213.4,532.6 L213.6,532.6 L213.9,532.6 L214.1,532.6 L214.3,532.5 L214.6,532.5 L214.8,532.5 L215.0,532.5 L215.2,532.5 L215.5,532.5 L215.7,532.5 L215.9,532.5 L216.2,532.5 L216.4,532.5 L216.6,532.5 L216.9,532.5 L217.1,532.6 L217.3,532.6 L217.6,532.6 L217.8,532.7 L218.0,532.7 L218.3,532.7 L218.5,532.7 L218.7,532.8 L218.9,532.8 L219.2,532.8 L219.4,532.8 L219.6,532.8 L219.9,532.9 L220.1,532.9 L220.3,532.9 L220.6,532.8 L220.8,532.8 L221.0,532.8 L221.3,532.8 L221.5,532.8 L221.7,532.8 L221.9,532.7 L222.2,532.7 L222.4,532.7 L222.6,532.7 L222.9,532.7 L223.1,532.6 L223.3,532.6 L223.6,532.6 L223.8,532.6 L224.0,532.6 L224.3,532.6 L224.5,532.6 L224.7,532.7 L225.0,532.7 L225.2,532.7 L225.4,532.7 L225.6,532.8 L225.9,532.8 L226.1,532.8 L226.3,532.8 L226.6,532.9 L226.8,532.9 L227.0,532.9 L227.3,532.9 L227.5,533.0 L227.7,533.0 L228.0,533.0 L228.2,533.0 L228.4,533.0 L228.7,533.0 L228.9,533.0 L229.1,532.9 L229.3,532.9 L229.6,532.9 L229.8,532.9 L230.0,532.9 L230.3,532.8 L230.5,532.8 L230.7,532.8 L231.0,532.8 L231.2,532.8 L231.4,532.7 L231.7,532.7 L231.9,532.7 L232.1,532.7 L232.3,532.7 L232.6,532.7 L232.8,532.8 L233.0,532.8 L233.3,532.8 L233.5,532.8 L233.7,532.9 L234.0,532.9 L234.2,532.9 L234.4,532.9 L234.7,533.0 L234.9,533.0 L235.1,533.0 L235.4,533.0 L235.6,533.1 L235.8,533.1 L236.0,533.1 L236.3,533.1 L236.5,533.1 L236.7,533.1 L237.0,533.1 L237.2,533.0 L237.4,533.0 L237.7,533.0 L237.9,533.0 L238.1,532.9 L238.4,532.9 L238.6,532.9 L238.8,532.9 L239.1,532.9 L239.3,532.8 L239.5,532.8 L239.7,532.8 L240.0,532.8 L240.2,532.8 L240.4,532.8 L240.7,532.8 L240.9,532.8 L241.1,532.9 L241.4,532.9 L241.6,532.9 L241.8,532.9 L242.1,533.0 L242.3,533.0 L242.5,533.0 L242.7,533.1 L243.0,533.1 L243.2,533.1 L243.4,533.1 L243.7,533.1 L243.9,533.1 L244.1,533.1 L244.4,533.1 L244.6,533.1 L244.8,533.1 L245.1,533.1 L245.3,533.1 L245.5,533.1 L245.8,533.1 L246.0,533.0 L246.2,533.0 L246.4,533.0 L246.7,533.0 L246.9,532.9 L247.1,532.9 L247.4,532.9 L247.6,532.9 L247.8,532.9 L248.1,532.9 L248.3,532.9 L248.5,532.9 L248.8,532.9 L249.0,532.9 L249.2,532.9 L249.4,532.9 L249.7,533.0 L249.9,533.0 L250.1,533.0 L250.4,533.1 L250.6,533.1 L250.8,533.1 L251.1,533.1 L251.3,533.2 L251.5,533.2 L251.8,533.2 L252.0,533.2 L252.2,533.2 L252.5,533.2 L252.7,533.2 L252.9,533.2 L253.1,533.2 L253.4,533.2 L253.6,533.1 L253.8,533.1 L254.1,533.1 L254.3,533.1 L254.5,533.0 L254.8,533.0 L255.0,533.0 L255.2,533.0 L255.5,533.0 L255.7,532.9 L255.9,532.9 L256.2,532.9 L256.4,532.9 L256.6,532.9 L256.8,532.9 L257.1,533.0 L257.3,533.0 L257.5,533.0 L257.8,533.0 L258.0,533.0 L258.2,533.1 L258.5,533.1 L258.7,533.1 L258.9,533.2 L259.2,533.2 L259.4,533.2 L259.6,533.2 L259.8,533.2 L260.1,533.2 L260.3,533.2 L260.5,533.2 L260.8,533.2 L261.0,533.2 L261.2,533.2 L261.5,533.2 L261.7,533.2 L261.9,533.2 L262.2,533.1 L262.4,533.1 L262.6,533.1 L262.9,533.1 L263.1,533.0 L263.3,533.0 L263.5,533.0 L263.8,533.0 L264.0,533.0 L264.2,533.0 L264.5,533.0 L264.7,533.0 L264.9,533.0 L265.2,533.0 L265.4,533.0 L265.6,533.0 L265.9,533.1 L266.1,533.1 L266.3,533.1 L266.6,533.1 L266.8,533.2 L267.0,533.2 L267.2,533.2 L267.5,533.2 L267.7,533.3 L267.9,533.3 L268.2,533.3 L268.4,533.3 L268.6,533.3 L268.9,533.3 L269.1,533.3 L269.3,533.3 L269.6,533.2 L269.8,533.2 L270.0,533.2 L270.2,533.2 L270.5,533.1 L270.7,533.1 L270.9,533.1 L271.2,533.1 L271.4,533.0 L271.6,533.0 L271.9,533.0 L272.1,533.0 L272.3,533.0 L272.6,533.0 L272.8,533.0 L273.0,533.0 L273.3,533.0 L273.5,533.0 L273.7,533.1 L273.9,533.1 L274.2,533.1 L274.4,533.1 L274.6,533.2 L274.9,533.2 L275.1,533.2 L275.3,533.3 L275.6,533.3 L275.8,533.3 L276.0,533.3 L276.3,533.3 L276.5,533.3 L276.7,533.3 L277.0,533.3 L277.2,533.3 L277.4,533.3 L277.6,533.3 L277.9,533.2 L278.1,533.2 L278.3,533.2 L278.6,533.2 L278.8,533.1 L279.0,533.1 L279.3,533.1 L279.5,533.1 L279.7,533.1 L280.0,533.0 L280.2,533.0 L280.4,533.0 L280.6,533.0 L280.9,533.0 L281.1,533.0 L281.3,533.1 L281.6,533.1 L281.8,533.1 L282.0,533.1 L282.3,533.1 L282.5,533.2 L282.7,533.2 L283.0,533.2 L283.2,533.3 L283.4,533.3 L283.7,533.3 L283.9,533.3 L284.1,533.3 L284.3,533.3 L284.6,533.3 L284.8,533.3 L285.0,533.3 L285.3,533.3 L285.5,533.3 L285.7,533.3 L286.0,533.3 L286.2,533.2 L286.4,533.2 L286.7,533.2 L286.9,533.2 L287.1,533.1 L287.4,533.1 L287.6,533.1 L287.8,533.1 L288.0,533.1 L288.3,533.1 L288.5,533.1 L288.7,533.0 L289.0,533.1 L289.2,533.1 L289.4,533.1 L289.7,533.1 L289.9,533.1 L290.1,533.1 L290.4,533.2 L290.6,533.2 L290.8,533.2 L291.0,533.2 L291.3,533.3 L291.5,533.3 L291.7,533.3 L292.0,533.3 L292.2,533.3 L292.4,533.4 L292.7,533.4 L292.9,533.4 L293.1,533.4 L293.4,533.3 L293.6,533.3 L293.8,533.3 L294.1,533.3 L294.3,533.3 L294.5,533.2 L294.7,533.2 L295.0,533.2 L295.2,533.2 L295.4,533.1 L295.7,533.1 L295.9,533.1 L296.1,533.1 L296.4,533.1 L296.6,533.1 L296.8,533.1 L297.1,533.1 L297.3,533.1 L297.5,533.1 L297.8,533.1 L298.0,533.1 L298.2,533.2 L298.4,533.2 L298.7,533.2 L298.9,533.2 L299.1,533.3 L299.4,533.3 L299.6,533.3 L299.8,533.3 L300.1,533.3 L300.3,533.4 L300.5,533.4 L300.8,533.4 L301.0,533.4 L301.2,533.4 L301.4,533.4 L301.7,533.3 L301.9,533.3 L302.1,533.3 L302.4,533.3 L302.6,533.3 L302.8,533.2 L303.1,533.2 L303.3,533.2 L303.5,533.2 L303.8,533.1 L304.0,533.1 L304.2,533.1 L304.5,533.1 L304.7,533.1 L304.9,533.1 L305.1,533.1 L305.4,533.1 L305.6,533.1 L305.8,533.1 L306.1,533.1 L306.3,533.2 L306.5,533.2 L306.8,533.2 L307.0,533.2 L307.2,533.3 L307.5,533.3 L307.7,533.3 L307.9,533.3 L308.1,533.4 L308.4,533.4 L308.6,533.4 L308.8,533.4 L309.1,533.4 L309.3,533.4 L309.5,533.4 L309.8,533.4 L310.0,533.3 L310.2,533.3 L310.5,533.3 L310.7,533.3 L310.9,533.2 L311.2,533.2 L311.4,533.2 L311.6,533.2 L311.8,533.1 L312.1,533.1 L312.3,533.1 L312.5,533.1 L312.8,533.1 L313.0,533.1 L313.2,533.1 L313.5,533.1 L313.7,533.1 L313.9,533.1 L314.2,533.2 L314.4,533.2 L314.6,533.2 L314.9,533.2 L315.1,533.3 L315.3,533.3 L315.5,533.3 L315.8,533.3 L316.0,533.4 L316.2,533.4 L316.5,533.4 L316.7,533.4 L316.9,533.4 L317.2,533.4 L317.4,533.4 L317.6,533.4 L317.9,533.4 L318.1,533.3 L318.3,533.3 L318.5,533.3 L318.8,533.3 L319.0,533.3 L319.2,533.2 L319.5,533.2 L319.7,533.2 L319.9,533.2 L320.2,533.1 L320.4,533.1 L320.6,533.1 L320.9,533.1 L321.1,533.1 L321.3,533.1 L321.6,533.1 L321.8,533.1 L322.0,533.1 L322.2,533.2 L322.5,533.2 L322.7,533.2 L322.9,533.2 L323.2,533.3 L323.4,533.3 L323.6,533.3 L323.9,533.3 L324.1,533.4 L324.3,533.4 L324.6,533.4 L324.8,533.4 L325.0,533.4 L325.3,533.4 L325.5,533.4 L325.7,533.4 L325.9,533.4 L326.2,533.4 L326.4,533.3 L326.6,533.3 L326.9,533.3 L327.1,533.3" stroke="#0000ff" stroke-width="1.9" fill="none" stroke-linejoin="round" stroke-linecap="round"/></g>
<g clip-path="url(#cdL)"><path d="M44.0,471.1 L44.2,471.1 L44.5,471.1 L44.7,471.1 L44.9,471.1 L45.2,471.1 L45.4,471.1 L45.6,471.1 L45.8,471.1 L46.1,471.1 L46.3,471.1 L46.5,471.1 L46.8,471.1 L47.0,471.1 L47.2,471.1 L47.5,471.1 L47.7,471.1 L47.9,471.1 L48.2,471.1 L48.4,471.1 L48.6,471.1 L48.9,471.1 L49.1,471.1 L49.3,471.1 L49.5,471.1 L49.8,471.1 L50.0,471.1 L50.2,471.1 L50.5,471.1 L50.7,471.1 L50.9,471.1 L51.2,471.1 L51.4,471.1 L51.6,471.1 L51.9,471.1 L52.1,471.1 L52.3,471.1 L52.6,471.1 L52.8,471.1 L53.0,471.1 L53.2,471.1 L53.5,471.1 L53.7,471.1 L53.9,471.1 L54.2,471.1 L54.4,471.1 L54.6,471.1 L54.9,471.1 L55.1,471.1 L55.3,471.1 L55.6,471.1 L55.8,471.1 L56.0,471.1 L56.2,471.1 L56.5,471.1 L56.7,471.1 L56.9,471.1 L57.2,471.1 L57.4,471.1 L57.6,471.1 L57.9,471.1 L58.1,471.1 L58.3,471.1 L58.6,471.1 L58.8,471.1 L59.0,471.1 L59.3,471.1 L59.5,471.1 L59.7,471.1 L59.9,471.1 L60.2,471.1 L60.4,471.1 L60.6,471.1 L60.9,471.1 L61.1,471.1 L61.3,471.1 L61.6,471.1 L61.8,471.1 L62.0,471.1 L62.3,471.1 L62.5,471.1 L62.7,471.1 L63.0,471.1 L63.2,471.1 L63.4,471.1 L63.6,471.1 L63.9,471.1 L64.1,471.1 L64.3,471.1 L64.6,471.1 L64.8,471.1 L65.0,471.1 L65.3,471.1 L65.5,471.1 L65.7,471.1 L66.0,471.1 L66.2,471.1 L66.4,471.1 L66.6,471.1 L66.9,471.1 L67.1,471.1 L67.3,471.1 L67.6,471.1 L67.8,471.1 L68.0,471.1 L68.3,471.1 L68.5,471.1 L68.7,471.1 L69.0,471.1 L69.2,471.1 L69.4,471.1 L69.7,471.1 L69.9,471.1 L70.1,471.1 L70.3,471.1 L70.6,471.1 L70.8,471.1 L71.0,471.1 L71.3,471.1 L71.5,471.1 L71.7,471.1 L72.0,471.1 L72.2,471.1 L72.4,471.1 L72.7,471.1 L72.9,471.1 L73.1,471.1 L73.3,471.1 L73.6,471.1 L73.8,471.1 L74.0,471.1 L74.3,471.1 L74.5,471.1 L74.7,471.1 L75.0,471.1 L75.2,471.1 L75.4,471.1 L75.7,471.1 L75.9,471.1 L76.1,471.1 L76.4,471.1 L76.6,471.1 L76.8,471.1 L77.0,471.1 L77.3,471.1 L77.5,471.1 L77.7,471.1 L78.0,471.1 L78.2,471.1 L78.4,471.1 L78.7,471.1 L78.9,471.1 L79.1,471.1 L79.4,471.1 L79.6,471.1 L79.8,471.1 L80.1,471.1 L80.3,471.1 L80.5,471.1 L80.7,471.1 L81.0,471.1 L81.2,471.1 L81.4,471.1 L81.7,471.1 L81.9,471.1 L82.1,471.1 L82.4,471.1 L82.6,471.1 L82.8,471.1 L83.1,471.1 L83.3,471.1 L83.5,471.1 L83.7,471.1 L84.0,471.1 L84.2,471.1 L84.4,471.1 L84.7,471.1 L84.9,471.2 L85.1,471.2 L85.4,471.3 L85.6,471.3 L85.8,471.4 L86.1,471.4 L86.3,471.5 L86.5,471.5 L86.8,471.6 L87.0,471.6 L87.2,471.6 L87.4,471.5 L87.7,471.5 L87.9,471.4 L88.1,471.2 L88.4,471.1 L88.6,470.9 L88.8,470.8 L89.1,470.6 L89.3,470.4 L89.5,470.3 L89.8,470.1 L90.0,470.0 L90.2,469.9 L90.5,469.8 L90.7,469.8 L90.9,469.9 L91.1,469.9 L91.4,470.1 L91.6,470.3 L91.8,470.5 L92.1,470.7 L92.3,471.0 L92.5,471.4 L92.8,471.7 L93.0,472.0 L93.2,472.3 L93.5,472.6 L93.7,472.9 L93.9,473.1 L94.1,473.2 L94.4,473.3 L94.6,473.3 L94.8,473.3 L95.1,473.1 L95.3,472.9 L95.5,472.7 L95.8,472.3 L96.0,471.9 L96.2,471.5 L96.5,471.0 L96.7,470.6 L96.9,470.1 L97.2,469.6 L97.4,469.2 L97.6,468.8 L97.8,468.5 L98.1,468.3 L98.3,468.2 L98.5,468.1 L98.8,468.2 L99.0,468.3 L99.2,468.5 L99.5,468.9 L99.7,469.3 L99.9,469.8 L100.2,470.4 L100.4,471.0 L100.6,471.6 L100.9,472.2 L101.1,472.8 L101.3,473.3 L101.5,473.8 L101.8,474.3 L102.0,474.6 L102.2,474.8 L102.5,474.9 L102.7,474.9 L102.9,474.8 L103.2,474.5 L103.4,474.1 L103.6,473.6 L103.9,473.1 L104.1,472.4 L104.3,471.7 L104.5,471.0 L104.8,470.2 L105.0,469.5 L105.2,468.8 L105.5,468.2 L105.7,467.7 L105.9,467.2 L106.2,466.9 L106.4,466.7 L106.6,466.7 L106.9,466.8 L107.1,467.0 L107.3,467.4 L107.6,467.9 L107.8,468.5 L108.0,469.3 L108.2,470.0 L108.5,470.9 L108.7,471.7 L108.9,472.6 L109.2,473.4 L109.4,474.2 L109.6,474.8 L109.9,475.4 L110.1,475.8 L110.3,476.1 L110.6,476.2 L110.8,476.2 L111.0,475.9 L111.3,475.6 L111.5,475.1 L111.7,474.4 L111.9,473.7 L112.2,472.8 L112.4,471.9 L112.6,470.9 L112.9,470.0 L113.1,469.1 L113.3,468.2 L113.6,467.4 L113.8,466.7 L114.0,466.2 L114.3,465.8 L114.5,465.6 L114.7,465.6 L114.9,465.7 L115.2,466.0 L115.4,466.5 L115.6,467.2 L115.9,467.9 L116.1,468.8 L116.3,469.8 L116.6,470.8 L116.8,471.9 L117.0,472.9 L117.3,473.9 L117.5,474.8 L117.7,475.6 L118.0,476.2 L118.2,476.7 L118.4,477.0 L118.6,477.2 L118.9,477.1 L119.1,476.9 L119.3,476.4 L119.6,475.8 L119.8,475.0 L120.0,474.1 L120.3,473.1 L120.5,472.0 L120.7,470.9 L121.0,469.8 L121.2,468.7 L121.4,467.7 L121.7,466.8 L121.9,466.0 L122.1,465.4 L122.3,465.0 L122.6,464.7 L122.8,464.7 L123.0,464.9 L123.3,465.3 L123.5,465.8 L123.7,466.6 L124.0,467.5 L124.2,468.5 L124.4,469.6 L124.7,470.8 L124.9,472.0 L125.1,473.1 L125.3,474.2 L125.6,475.3 L125.8,476.1 L126.0,476.9 L126.3,477.4 L126.5,477.8 L126.7,477.9 L127.0,477.8 L127.2,477.5 L127.4,477.0 L127.7,476.3 L127.9,475.5 L128.1,474.4 L128.4,473.3 L128.6,472.1 L128.8,470.9 L129.0,469.6 L129.3,468.5 L129.5,467.3 L129.7,466.3 L130.0,465.5 L130.2,464.8 L130.4,464.4 L130.7,464.1 L130.9,464.1 L131.1,464.3 L131.4,464.7 L131.6,465.3 L131.8,466.2 L132.0,467.1 L132.3,468.3 L132.5,469.5 L132.7,470.7 L133.0,472.0 L133.2,473.3 L133.4,474.5 L133.7,475.6 L133.9,476.6 L134.1,477.3 L134.4,477.9 L134.6,478.3 L134.8,478.4 L135.1,478.4 L135.3,478.0 L135.5,477.5 L135.7,476.7 L136.0,475.8 L136.2,474.7 L136.4,473.5 L136.7,472.2 L136.9,470.9 L137.1,469.5 L137.4,468.3 L137.6,467.1 L137.8,466.0 L138.1,465.1 L138.3,464.4 L138.5,463.9 L138.8,463.7 L139.0,463.6 L139.2,463.8 L139.4,464.3 L139.7,465.0 L139.9,465.9 L140.1,466.9 L140.4,468.1 L140.6,469.4 L140.8,470.7 L141.1,472.1 L141.3,473.4 L141.5,474.7 L141.8,475.9 L142.0,476.9 L142.2,477.7 L142.4,478.3 L142.7,478.7 L142.9,478.8 L143.1,478.7 L143.4,478.4 L143.6,477.8 L143.8,477.0 L144.1,476.0 L144.3,474.9 L144.5,473.6 L144.8,472.2 L145.0,470.9 L145.2,469.5 L145.5,468.1 L145.7,466.9 L145.9,465.8 L146.1,464.8 L146.4,464.1 L146.6,463.6 L146.8,463.3 L147.1,463.3 L147.3,463.5 L147.5,464.0 L147.8,464.7 L148.0,465.6 L148.2,466.7 L148.5,468.0 L148.7,469.3 L148.9,470.7 L149.2,472.1 L149.4,473.5 L149.6,474.8 L149.8,476.0 L150.1,477.1 L150.3,477.9 L150.5,478.6 L150.8,479.0 L151.0,479.1 L151.2,479.0 L151.5,478.6 L151.7,478.0 L151.9,477.2 L152.2,476.2 L152.4,475.0 L152.6,473.7 L152.8,472.3 L153.1,470.8 L153.3,469.4 L153.5,468.0 L153.8,466.8 L154.0,465.6 L154.2,464.6 L154.5,463.9 L154.7,463.4 L154.9,463.1 L155.2,463.1 L155.4,463.3 L155.6,463.8 L155.9,464.5 L156.1,465.5 L156.3,466.6 L156.5,467.9 L156.8,469.3 L157.0,470.7 L157.2,472.2 L157.5,473.6 L157.7,474.9 L157.9,476.2 L158.2,477.2 L158.4,478.1 L158.6,478.8 L158.9,479.2 L159.1,479.3 L159.3,479.2 L159.6,478.8 L159.8,478.2 L160.0,477.4 L160.2,476.3 L160.5,475.1 L160.7,473.7 L160.9,472.3 L161.2,470.8 L161.4,469.4 L161.6,468.0 L161.9,466.7 L162.1,465.5 L162.3,464.5 L162.6,463.7 L162.8,463.2 L163.0,462.9 L163.2,462.9 L163.5,463.2 L163.7,463.7 L163.9,464.4 L164.2,465.4 L164.4,466.5 L164.6,467.8 L164.9,469.2 L165.1,470.7 L165.3,472.2 L165.6,473.6 L165.8,475.0 L166.0,476.3 L166.3,477.3 L166.5,478.2 L166.7,478.9 L166.9,479.3 L167.2,479.5 L167.4,479.3 L167.6,479.0 L167.9,478.3 L168.1,477.5 L168.3,476.4 L168.6,475.2 L168.8,473.8 L169.0,472.3 L169.3,470.8 L169.5,469.3 L169.7,467.9 L170.0,466.6 L170.2,465.4 L170.4,464.4 L170.6,463.6 L170.9,463.1 L171.1,462.8 L171.3,462.8 L171.6,463.0 L171.8,463.6 L172.0,464.3 L172.3,465.3 L172.5,466.5 L172.7,467.8 L173.0,469.2 L173.2,470.7 L173.4,472.2 L173.6,473.7 L173.9,475.0 L174.1,476.3 L174.3,477.4 L174.6,478.3 L174.8,479.0 L175.0,479.4 L175.3,479.6 L175.5,479.4 L175.7,479.0 L176.0,478.4 L176.2,477.5 L176.4,476.4 L176.7,475.2 L176.9,473.8 L177.1,472.3 L177.3,470.8 L177.6,469.3 L177.8,467.9 L178.0,466.5 L178.3,465.4 L178.5,464.3 L178.7,463.6 L179.0,463.0 L179.2,462.7 L179.4,462.7 L179.7,463.0 L179.9,463.5 L180.1,464.2 L180.4,465.2 L180.6,466.4 L180.8,467.7 L181.0,469.2 L181.3,470.7 L181.5,472.2 L181.7,473.7 L182.0,475.1 L182.2,476.4 L182.4,477.5 L182.7,478.4 L182.9,479.0 L183.1,479.5 L183.4,479.6 L183.6,479.5 L183.8,479.1 L184.0,478.5 L184.3,477.6 L184.5,476.5 L184.7,475.2 L185.0,473.8 L185.2,472.3 L185.4,470.8 L185.7,469.3 L185.9,467.9 L186.1,466.5 L186.4,465.3 L186.6,464.3 L186.8,463.5 L187.1,463.0 L187.3,462.7 L187.5,462.7 L187.7,462.9 L188.0,463.4 L188.2,464.2 L188.4,465.2 L188.7,466.4 L188.9,467.7 L189.1,469.2 L189.4,470.7 L189.6,472.2 L189.8,473.7 L190.1,475.1 L190.3,476.4 L190.5,477.5 L190.7,478.4 L191.0,479.1 L191.2,479.5 L191.4,479.7 L191.7,479.5 L191.9,479.1 L192.1,478.5 L192.4,477.6 L192.6,476.5 L192.8,475.2 L193.1,473.8 L193.3,472.4 L193.5,470.8 L193.8,469.3 L194.0,467.8 L194.2,466.5 L194.4,465.3 L194.7,464.3 L194.9,463.5 L195.1,462.9 L195.4,462.6 L195.6,462.6 L195.8,462.9 L196.1,463.4 L196.3,464.2 L196.5,465.2 L196.8,466.4 L197.0,467.7 L197.2,469.2 L197.5,470.7 L197.7,472.2 L197.9,473.7 L198.1,475.1 L198.4,476.4 L198.6,477.5 L198.8,478.4 L199.1,479.1 L199.3,479.5 L199.5,479.7 L199.8,479.6 L200.0,479.2 L200.2,478.5 L200.5,477.6 L200.7,476.5 L200.9,475.3 L201.1,473.9 L201.4,472.4 L201.6,470.8 L201.8,469.3 L202.1,467.8 L202.3,466.5 L202.5,465.3 L202.8,464.2 L203.0,463.4 L203.2,462.9 L203.5,462.6 L203.7,462.6 L203.9,462.8 L204.2,463.4 L204.4,464.1 L204.6,465.2 L204.8,466.3 L205.1,467.7 L205.3,469.1 L205.5,470.7 L205.8,472.2 L206.0,473.7 L206.2,475.1 L206.5,476.4 L206.7,477.5 L206.9,478.5 L207.2,479.1 L207.4,479.6 L207.6,479.7 L207.9,479.6 L208.1,479.2 L208.3,478.5 L208.5,477.7 L208.8,476.5 L209.0,475.3 L209.2,473.9 L209.5,472.4 L209.7,470.8 L209.9,469.3 L210.2,467.8 L210.4,466.5 L210.6,465.3 L210.9,464.2 L211.1,463.4 L211.3,462.9 L211.5,462.6 L211.8,462.6 L212.0,462.8 L212.2,463.4 L212.5,464.1 L212.7,465.1 L212.9,466.3 L213.2,467.7 L213.4,469.1 L213.6,470.7 L213.9,472.2 L214.1,473.7 L214.3,475.1 L214.6,476.4 L214.8,477.6 L215.0,478.5 L215.2,479.2 L215.5,479.6 L215.7,479.7 L215.9,479.6 L216.2,479.2 L216.4,478.6 L216.6,477.7 L216.9,476.6 L217.1,475.3 L217.3,473.9 L217.6,472.4 L217.8,470.8 L218.0,469.3 L218.3,467.8 L218.5,466.5 L218.7,465.2 L218.9,464.2 L219.2,463.4 L219.4,462.9 L219.6,462.6 L219.9,462.6 L220.1,462.8 L220.3,463.3 L220.6,464.1 L220.8,465.1 L221.0,466.3 L221.3,467.7 L221.5,469.1 L221.7,470.7 L221.9,472.2 L222.2,473.7 L222.4,475.1 L222.6,476.4 L222.9,477.6 L223.1,478.5 L223.3,479.2 L223.6,479.6 L223.8,479.7 L224.0,479.6 L224.3,479.2 L224.5,478.6 L224.7,477.7 L225.0,476.6 L225.2,475.3 L225.4,473.9 L225.6,472.4 L225.9,470.8 L226.1,469.3 L226.3,467.8 L226.6,466.5 L226.8,465.2 L227.0,464.2 L227.3,463.4 L227.5,462.9 L227.7,462.6 L228.0,462.5 L228.2,462.8 L228.4,463.3 L228.7,464.1 L228.9,465.1 L229.1,466.3 L229.3,467.7 L229.6,469.1 L229.8,470.7 L230.0,472.2 L230.3,473.7 L230.5,475.1 L230.7,476.4 L231.0,477.6 L231.2,478.5 L231.4,479.2 L231.7,479.6 L231.9,479.8 L232.1,479.6 L232.3,479.2 L232.6,478.6 L232.8,477.7 L233.0,476.6 L233.3,475.3 L233.5,473.9 L233.7,472.4 L234.0,470.8 L234.2,469.3 L234.4,467.8 L234.7,466.5 L234.9,465.2 L235.1,464.2 L235.4,463.4 L235.6,462.8 L235.8,462.6 L236.0,462.5 L236.3,462.8 L236.5,463.3 L236.7,464.1 L237.0,465.1 L237.2,466.3 L237.4,467.7 L237.7,469.1 L237.9,470.7 L238.1,472.2 L238.4,473.7 L238.6,475.2 L238.8,476.4 L239.1,477.6 L239.3,478.5 L239.5,479.2 L239.7,479.6 L240.0,479.8 L240.2,479.6 L240.4,479.2 L240.7,478.6 L240.9,477.7 L241.1,476.6 L241.4,475.3 L241.6,473.9 L241.8,472.4 L242.1,470.8 L242.3,469.3 L242.5,467.8 L242.7,466.4 L243.0,465.2 L243.2,464.2 L243.4,463.4 L243.7,462.8 L243.9,462.6 L244.1,462.5 L244.4,462.8 L244.6,463.3 L244.8,464.1 L245.1,465.1 L245.3,466.3 L245.5,467.7 L245.8,469.1 L246.0,470.7 L246.2,472.2 L246.4,473.7 L246.7,475.2 L246.9,476.4 L247.1,477.6 L247.4,478.5 L247.6,479.2 L247.8,479.6 L248.1,479.8 L248.3,479.6 L248.5,479.2 L248.8,478.6 L249.0,477.7 L249.2,476.6 L249.4,475.3 L249.7,473.9 L249.9,472.4 L250.1,470.8 L250.4,469.3 L250.6,467.8 L250.8,466.4 L251.1,465.2 L251.3,464.2 L251.5,463.4 L251.8,462.8 L252.0,462.5 L252.2,462.5 L252.5,462.8 L252.7,463.3 L252.9,464.1 L253.1,465.1 L253.4,466.3 L253.6,467.7 L253.8,469.1 L254.1,470.7 L254.3,472.2 L254.5,473.7 L254.8,475.2 L255.0,476.5 L255.2,477.6 L255.5,478.5 L255.7,479.2 L255.9,479.6 L256.2,479.8 L256.4,479.6 L256.6,479.2 L256.8,478.6 L257.1,477.7 L257.3,476.6 L257.5,475.3 L257.8,473.9 L258.0,472.4 L258.2,470.8 L258.5,469.3 L258.7,467.8 L258.9,466.4 L259.2,465.2 L259.4,464.2 L259.6,463.4 L259.8,462.8 L260.1,462.5 L260.3,462.5 L260.5,462.8 L260.8,463.3 L261.0,464.1 L261.2,465.1 L261.5,466.3 L261.7,467.7 L261.9,469.1 L262.2,470.7 L262.4,472.2 L262.6,473.7 L262.9,475.2 L263.1,476.5 L263.3,477.6 L263.5,478.5 L263.8,479.2 L264.0,479.6 L264.2,479.8 L264.5,479.6 L264.7,479.2 L264.9,478.6 L265.2,477.7 L265.4,476.6 L265.6,475.3 L265.9,473.9 L266.1,472.4 L266.3,470.8 L266.6,469.3 L266.8,467.8 L267.0,466.4 L267.2,465.2 L267.5,464.2 L267.7,463.4 L267.9,462.8 L268.2,462.5 L268.4,462.5 L268.6,462.8 L268.9,463.3 L269.1,464.1 L269.3,465.1 L269.6,466.3 L269.8,467.7 L270.0,469.1 L270.2,470.7 L270.5,472.2 L270.7,473.7 L270.9,475.2 L271.2,476.5 L271.4,477.6 L271.6,478.5 L271.9,479.2 L272.1,479.6 L272.3,479.8 L272.6,479.6 L272.8,479.2 L273.0,478.6 L273.3,477.7 L273.5,476.6 L273.7,475.3 L273.9,473.9 L274.2,472.4 L274.4,470.8 L274.6,469.3 L274.9,467.8 L275.1,466.4 L275.3,465.2 L275.6,464.2 L275.8,463.4 L276.0,462.8 L276.3,462.5 L276.5,462.5 L276.7,462.8 L277.0,463.3 L277.2,464.1 L277.4,465.1 L277.6,466.3 L277.9,467.7 L278.1,469.1 L278.3,470.7 L278.6,472.2 L278.8,473.7 L279.0,475.2 L279.3,476.5 L279.5,477.6 L279.7,478.5 L280.0,479.2 L280.2,479.6 L280.4,479.8 L280.6,479.6 L280.9,479.2 L281.1,478.6 L281.3,477.7 L281.6,476.6 L281.8,475.3 L282.0,473.9 L282.3,472.4 L282.5,470.8 L282.7,469.3 L283.0,467.8 L283.2,466.4 L283.4,465.2 L283.7,464.2 L283.9,463.4 L284.1,462.8 L284.3,462.5 L284.6,462.5 L284.8,462.8 L285.0,463.3 L285.3,464.1 L285.5,465.1 L285.7,466.3 L286.0,467.7 L286.2,469.1 L286.4,470.7 L286.7,472.2 L286.9,473.7 L287.1,475.2 L287.4,476.5 L287.6,477.6 L287.8,478.5 L288.0,479.2 L288.3,479.6 L288.5,479.8 L288.7,479.6 L289.0,479.2 L289.2,478.6 L289.4,477.7 L289.7,476.6 L289.9,475.3 L290.1,473.9 L290.4,472.4 L290.6,470.8 L290.8,469.3 L291.0,467.8 L291.3,466.4 L291.5,465.2 L291.7,464.2 L292.0,463.4 L292.2,462.8 L292.4,462.5 L292.7,462.5 L292.9,462.8 L293.1,463.3 L293.4,464.1 L293.6,465.1 L293.8,466.3 L294.1,467.7 L294.3,469.1 L294.5,470.7 L294.7,472.2 L295.0,473.7 L295.2,475.2 L295.4,476.5 L295.7,477.6 L295.9,478.5 L296.1,479.2 L296.4,479.6 L296.6,479.8 L296.8,479.6 L297.1,479.2 L297.3,478.6 L297.5,477.7 L297.8,476.6 L298.0,475.3 L298.2,473.9 L298.4,472.4 L298.7,470.8 L298.9,469.3 L299.1,467.8 L299.4,466.4 L299.6,465.2 L299.8,464.2 L300.1,463.4 L300.3,462.8 L300.5,462.5 L300.8,462.5 L301.0,462.8 L301.2,463.3 L301.4,464.1 L301.7,465.1 L301.9,466.3 L302.1,467.7 L302.4,469.1 L302.6,470.7 L302.8,472.2 L303.1,473.7 L303.3,475.2 L303.5,476.5 L303.8,477.6 L304.0,478.5 L304.2,479.2 L304.5,479.6 L304.7,479.8 L304.9,479.6 L305.1,479.2 L305.4,478.6 L305.6,477.7 L305.8,476.6 L306.1,475.3 L306.3,473.9 L306.5,472.4 L306.8,470.8 L307.0,469.3 L307.2,467.8 L307.5,466.4 L307.7,465.2 L307.9,464.2 L308.1,463.4 L308.4,462.8 L308.6,462.5 L308.8,462.5 L309.1,462.8 L309.3,463.3 L309.5,464.1 L309.8,465.1 L310.0,466.3 L310.2,467.7 L310.5,469.1 L310.7,470.7 L310.9,472.2 L311.2,473.7 L311.4,475.2 L311.6,476.5 L311.8,477.6 L312.1,478.5 L312.3,479.2 L312.5,479.6 L312.8,479.8 L313.0,479.6 L313.2,479.2 L313.5,478.6 L313.7,477.7 L313.9,476.6 L314.2,475.3 L314.4,473.9 L314.6,472.4 L314.9,470.8 L315.1,469.3 L315.3,467.8 L315.5,466.4 L315.8,465.2 L316.0,464.2 L316.2,463.4 L316.5,462.8 L316.7,462.5 L316.9,462.5 L317.2,462.8 L317.4,463.3 L317.6,464.1 L317.9,465.1 L318.1,466.3 L318.3,467.7 L318.5,469.1 L318.8,470.7 L319.0,472.2 L319.2,473.7 L319.5,475.2 L319.7,476.5 L319.9,477.6 L320.2,478.5 L320.4,479.2 L320.6,479.6 L320.9,479.8 L321.1,479.6 L321.3,479.2 L321.6,478.6 L321.8,477.7 L322.0,476.6 L322.2,475.3 L322.5,473.9 L322.7,472.4 L322.9,470.8 L323.2,469.3 L323.4,467.8 L323.6,466.4 L323.9,465.2 L324.1,464.2 L324.3,463.4 L324.6,462.8 L324.8,462.5 L325.0,462.5 L325.3,462.8 L325.5,463.3 L325.7,464.1 L325.9,465.1 L326.2,466.3 L326.4,467.7 L326.6,469.1 L326.9,470.7 L327.1,472.2" stroke="#ff0000" stroke-width="1.5" fill="none" stroke-linejoin="round" stroke-linecap="round"/></g>
<g clip-path="url(#cdR)"><path d="M394.2,472.6 L394.4,472.6 L394.7,472.6 L394.9,472.6 L395.1,472.6 L395.4,472.6 L395.6,472.6 L395.8,472.6 L396.1,472.6 L396.3,472.6 L396.5,472.6 L396.8,472.6 L397.0,472.6 L397.2,472.6 L397.4,472.6 L397.7,472.6 L397.9,472.6 L398.1,472.6 L398.4,472.6 L398.6,472.6 L398.8,472.6 L399.1,472.6 L399.3,472.6 L399.5,472.6 L399.8,472.6 L400.0,472.6 L400.2,472.6 L400.5,472.6 L400.7,472.6 L400.9,472.6 L401.2,472.6 L401.4,472.6 L401.6,472.6 L401.9,472.6 L402.1,472.6 L402.3,472.6 L402.6,472.6 L402.8,472.6 L403.0,472.6 L403.2,472.6 L403.5,472.6 L403.7,472.6 L403.9,472.6 L404.2,472.6 L404.4,472.6 L404.6,472.6 L404.9,472.6 L405.1,472.6 L405.3,472.6 L405.6,472.6 L405.8,472.6 L406.0,472.6 L406.3,472.6 L406.5,472.6 L406.7,472.6 L407.0,472.6 L407.2,472.6 L407.4,472.6 L407.7,472.6 L407.9,472.6 L408.1,472.6 L408.4,472.6 L408.6,472.6 L408.8,472.6 L409.0,472.6 L409.3,472.6 L409.5,472.6 L409.7,472.6 L410.0,472.6 L410.2,472.6 L410.4,472.6 L410.7,472.6 L410.9,472.6 L411.1,472.6 L411.4,472.6 L411.6,472.6 L411.8,472.6 L412.1,472.6 L412.3,472.6 L412.5,472.6 L412.8,472.6 L413.0,472.6 L413.2,472.6 L413.5,472.6 L413.7,472.6 L413.9,472.6 L414.2,472.6 L414.4,472.6 L414.6,472.6 L414.8,472.6 L415.1,472.6 L415.3,472.6 L415.5,472.6 L415.8,472.6 L416.0,472.6 L416.2,472.6 L416.5,472.6 L416.7,472.6 L416.9,472.6 L417.2,472.6 L417.4,472.6 L417.6,472.6 L417.9,472.6 L418.1,472.6 L418.3,472.6 L418.6,472.6 L418.8,472.6 L419.0,472.6 L419.3,472.6 L419.5,472.6 L419.7,472.6 L420.0,472.6 L420.2,472.6 L420.4,472.6 L420.6,472.6 L420.9,472.6 L421.1,472.6 L421.3,472.6 L421.6,472.6 L421.8,472.6 L422.0,472.6 L422.3,472.6 L422.5,472.6 L422.7,472.6 L423.0,472.6 L423.2,472.6 L423.4,472.6 L423.7,472.6 L423.9,472.6 L424.1,472.6 L424.4,472.6 L424.6,472.6 L424.8,472.6 L425.1,472.6 L425.3,472.6 L425.5,472.6 L425.8,472.6 L426.0,472.6 L426.2,472.6 L426.4,472.6 L426.7,472.6 L426.9,472.6 L427.1,472.6 L427.4,472.6 L427.6,472.6 L427.8,472.6 L428.1,472.6 L428.3,472.6 L428.5,472.6 L428.8,472.6 L429.0,472.6 L429.2,472.6 L429.5,472.6 L429.7,472.6 L429.9,472.6 L430.2,472.6 L430.4,472.6 L430.6,472.6 L430.9,472.6 L431.1,472.6 L431.3,472.6 L431.6,472.6 L431.8,472.6 L432.0,472.6 L432.2,472.6 L432.5,472.6 L432.7,472.6 L432.9,472.6 L433.2,472.6 L433.4,472.6 L433.6,472.6 L433.9,472.6 L434.1,472.6 L434.3,472.6 L434.6,472.6 L434.8,472.6 L435.0,472.7 L435.3,472.7 L435.5,472.8 L435.7,472.9 L436.0,473.1 L436.2,473.2 L436.4,473.3 L436.7,473.5 L436.9,473.6 L437.1,473.8 L437.4,474.0 L437.6,474.3 L437.8,474.5 L438.0,474.7 L438.3,475.0 L438.5,475.2 L438.7,475.5 L439.0,475.8 L439.2,476.1 L439.4,476.4 L439.7,476.7 L439.9,477.0 L440.1,477.3 L440.4,477.6 L440.6,477.9 L440.8,478.2 L441.1,478.6 L441.3,478.9 L441.5,479.2 L441.8,479.5 L442.0,479.8 L442.2,480.1 L442.5,480.4 L442.7,480.7 L442.9,481.0 L443.2,481.2 L443.4,481.4 L443.6,481.7 L443.8,481.9 L444.1,482.2 L444.3,482.5 L444.5,482.8 L444.8,483.1 L445.0,483.4 L445.2,483.7 L445.5,484.1 L445.7,484.5 L445.9,484.9 L446.2,485.2 L446.4,485.7 L446.6,486.1 L446.9,486.5 L447.1,486.9 L447.3,487.3 L447.6,487.7 L447.8,488.1 L448.0,488.5 L448.3,488.9 L448.5,489.2 L448.7,489.6 L449.0,489.9 L449.2,490.2 L449.4,490.5 L449.6,490.8 L449.9,491.1 L450.1,491.3 L450.3,491.6 L450.6,491.8 L450.8,492.0 L451.0,492.2 L451.3,492.4 L451.5,492.6 L451.7,492.8 L452.0,493.0 L452.2,493.2 L452.4,493.4 L452.7,493.6 L452.9,493.9 L453.1,494.1 L453.4,494.4 L453.6,494.6 L453.8,494.9 L454.1,495.2 L454.3,495.5 L454.5,495.8 L454.8,496.1 L455.0,496.4 L455.2,496.7 L455.4,497.0 L455.7,497.3 L455.9,497.6 L456.1,497.9 L456.4,498.2 L456.6,498.4 L456.8,498.7 L457.1,498.9 L457.3,499.1 L457.5,499.3 L457.8,499.5 L458.0,499.7 L458.2,499.8 L458.5,500.0 L458.7,500.1 L458.9,500.3 L459.2,500.4 L459.4,500.6 L459.6,500.7 L459.9,500.9 L460.1,501.0 L460.3,501.2 L460.6,501.3 L460.8,501.5 L461.0,501.7 L461.2,501.9 L461.5,502.1 L461.7,502.4 L461.9,502.6 L462.2,502.9 L462.4,503.1 L462.6,503.4 L462.9,503.7 L463.1,504.0 L463.3,504.2 L463.6,504.5 L463.8,504.8 L464.0,505.1 L464.3,505.3 L464.5,505.6 L464.7,505.8 L465.0,506.0 L465.2,506.2 L465.4,506.4 L465.7,506.6 L465.9,506.7 L466.1,506.9 L466.4,507.0 L466.6,507.2 L466.8,507.3 L467.0,507.4 L467.3,507.5 L467.5,507.6 L467.7,507.7 L468.0,507.8 L468.2,507.9 L468.4,508.1 L468.7,508.2 L468.9,508.4 L469.1,508.5 L469.4,508.7 L469.6,508.9 L469.8,509.1 L470.1,509.3 L470.3,509.5 L470.5,509.7 L470.8,510.0 L471.0,510.2 L471.2,510.5 L471.5,510.7 L471.7,510.9 L471.9,511.2 L472.2,511.4 L472.4,511.6 L472.6,511.8 L472.8,512.0 L473.1,512.2 L473.3,512.4 L473.5,512.5 L473.8,512.7 L474.0,512.8 L474.2,512.9 L474.5,513.0 L474.7,513.1 L474.9,513.1 L475.2,513.2 L475.4,513.3 L475.6,513.3 L475.9,513.4 L476.1,513.5 L476.3,513.5 L476.6,513.6 L476.8,513.7 L477.0,513.8 L477.3,513.9 L477.5,514.0 L477.7,514.1 L478.0,514.3 L478.2,514.4 L478.4,514.6 L478.6,514.8 L478.9,515.0 L479.1,515.1 L479.3,515.3 L479.6,515.5 L479.8,515.7 L480.0,515.9 L480.3,516.1 L480.5,516.2 L480.7,516.4 L481.0,516.5 L481.2,516.7 L481.4,516.8 L481.7,516.9 L481.9,517.0 L482.1,517.1 L482.4,517.1 L482.6,517.2 L482.8,517.2 L483.1,517.3 L483.3,517.3 L483.5,517.3 L483.8,517.4 L484.0,517.4 L484.2,517.4 L484.4,517.5 L484.7,517.6 L484.9,517.6 L485.1,517.7 L485.4,517.8 L485.6,517.9 L485.8,518.0 L486.1,518.2 L486.3,518.3 L486.5,518.5 L486.8,518.6 L487.0,518.8 L487.2,519.0 L487.5,519.2 L487.7,519.4 L487.9,519.5 L488.2,519.7 L488.4,519.9 L488.6,520.0 L488.9,520.2 L489.1,520.3 L489.3,520.5 L489.6,520.6 L489.8,520.7 L490.0,520.8 L490.2,520.8 L490.5,520.9 L490.7,521.0 L490.9,521.0 L491.2,521.0 L491.4,521.1 L491.6,521.1 L491.9,521.1 L492.1,521.1 L492.3,521.1 L492.6,521.2 L492.8,521.2 L493.0,521.3 L493.3,521.3 L493.5,521.4 L493.7,521.5 L494.0,521.6 L494.2,521.7 L494.4,521.8 L494.7,522.0 L494.9,522.1 L495.1,522.2 L495.4,522.4 L495.6,522.6 L495.8,522.7 L496.0,522.9 L496.3,523.0 L496.5,523.2 L496.7,523.3 L497.0,523.5 L497.2,523.6 L497.4,523.7 L497.7,523.8 L497.9,523.8 L498.1,523.9 L498.4,524.0 L498.6,524.0 L498.8,524.0 L499.1,524.0 L499.3,524.0 L499.5,524.1 L499.8,524.1 L500.0,524.1 L500.2,524.1 L500.5,524.1 L500.7,524.1 L500.9,524.1 L501.2,524.1 L501.4,524.2 L501.6,524.2 L501.8,524.3 L502.1,524.4 L502.3,524.5 L502.5,524.6 L502.8,524.7 L503.0,524.8 L503.2,524.9 L503.5,525.1 L503.7,525.2 L503.9,525.4 L504.2,525.5 L504.4,525.6 L504.6,525.8 L504.9,525.9 L505.1,526.0 L505.3,526.1 L505.6,526.2 L505.8,526.2 L506.0,526.3 L506.3,526.3 L506.5,526.4 L506.7,526.4 L507.0,526.4 L507.2,526.4 L507.4,526.4 L507.6,526.4 L507.9,526.4 L508.1,526.3 L508.3,526.3 L508.6,526.3 L508.8,526.3 L509.0,526.3 L509.3,526.3 L509.5,526.4 L509.7,526.4 L510.0,526.4 L510.2,526.5 L510.4,526.6 L510.7,526.7 L510.9,526.8 L511.1,526.9 L511.4,527.0 L511.6,527.1 L511.8,527.2 L512.1,527.4 L512.3,527.5 L512.5,527.6 L512.8,527.7 L513.0,527.8 L513.2,527.9 L513.4,528.0 L513.7,528.1 L513.9,528.2 L514.1,528.2 L514.4,528.2 L514.6,528.2 L514.8,528.3 L515.1,528.2 L515.3,528.2 L515.5,528.2 L515.8,528.2 L516.0,528.2 L516.2,528.1 L516.5,528.1 L516.7,528.1 L516.9,528.1 L517.2,528.1 L517.4,528.1 L517.6,528.1 L517.9,528.1 L518.1,528.1 L518.3,528.2 L518.6,528.3 L518.8,528.3 L519.0,528.4 L519.2,528.5 L519.5,528.6 L519.7,528.7 L519.9,528.9 L520.2,529.0 L520.4,529.1 L520.6,529.2 L520.9,529.3 L521.1,529.4 L521.3,529.5 L521.6,529.6 L521.8,529.6 L522.0,529.7 L522.3,529.7 L522.5,529.7 L522.7,529.7 L523.0,529.7 L523.2,529.7 L523.4,529.7 L523.7,529.7 L523.9,529.6 L524.1,529.6 L524.4,529.6 L524.6,529.5 L524.8,529.5 L525.0,529.5 L525.3,529.5 L525.5,529.5 L525.7,529.5 L526.0,529.5 L526.2,529.5 L526.4,529.6 L526.7,529.6 L526.9,529.7 L527.1,529.8 L527.4,529.9 L527.6,530.0 L527.8,530.1 L528.1,530.2 L528.3,530.3 L528.5,530.5 L528.8,530.6 L529.0,530.7 L529.2,530.8 L529.5,530.8 L529.7,530.9 L529.9,531.0 L530.2,531.0 L530.4,531.1 L530.6,531.1 L530.8,531.1 L531.1,531.1 L531.3,531.1 L531.5,531.1 L531.8,531.0 L532.0,531.0 L532.2,531.0 L532.5,530.9 L532.7,530.9 L532.9,530.9 L533.2,530.8 L533.4,530.8 L533.6,530.8 L533.9,530.8 L534.1,530.8 L534.3,530.9 L534.6,530.9 L534.8,531.0 L535.0,531.1 L535.3,531.1 L535.5,531.2 L535.7,531.3 L536.0,531.4 L536.2,531.5 L536.4,531.6 L536.6,531.7 L536.9,531.8 L537.1,531.9 L537.3,532.0 L537.6,532.1 L537.8,532.1 L538.0,532.2 L538.3,532.2 L538.5,532.2 L538.7,532.2 L539.0,532.2 L539.2,532.2 L539.4,532.2 L539.7,532.1 L539.9,532.1 L540.1,532.0 L540.4,532.0 L540.6,531.9 L540.8,531.9 L541.1,531.8 L541.3,531.8 L541.5,531.8 L541.8,531.7 L542.0,531.7 L542.2,531.7 L542.4,531.7 L542.7,531.8 L542.9,531.8 L543.1,531.9 L543.4,531.9 L543.6,532.0 L543.8,532.1 L544.1,532.2 L544.3,532.2 L544.5,532.3 L544.8,532.4 L545.0,532.5 L545.2,532.6 L545.5,532.7 L545.7,532.7 L545.9,532.8 L546.2,532.8 L546.4,532.8 L546.6,532.9 L546.9,532.8 L547.1,532.8 L547.3,532.8 L547.6,532.8 L547.8,532.7 L548.0,532.7 L548.2,532.6 L548.5,532.5 L548.7,532.5 L548.9,532.4 L549.2,532.4 L549.4,532.3 L549.6,532.3 L549.9,532.3 L550.1,532.2 L550.3,532.2 L550.6,532.2 L550.8,532.3 L551.0,532.3 L551.3,532.3 L551.5,532.4 L551.7,532.5 L552.0,532.5 L552.2,532.6 L552.4,532.7 L552.7,532.8 L552.9,532.9 L553.1,533.0 L553.4,533.0 L553.6,533.1 L553.8,533.2 L554.0,533.2 L554.3,533.2 L554.5,533.3 L554.7,533.3 L555.0,533.3 L555.2,533.2 L555.4,533.2 L555.7,533.2 L555.9,533.1 L556.1,533.1 L556.4,533.0 L556.6,532.9 L556.8,532.9 L557.1,532.8 L557.3,532.7 L557.5,532.7 L557.8,532.6 L558.0,532.6 L558.2,532.6 L558.5,532.6 L558.7,532.6 L558.9,532.6 L559.2,532.6 L559.4,532.7 L559.6,532.7 L559.8,532.8 L560.1,532.9 L560.3,533.0 L560.5,533.0 L560.8,533.1 L561.0,533.2 L561.2,533.3 L561.5,533.4 L561.7,533.4 L561.9,533.5 L562.2,533.5 L562.4,533.5 L562.6,533.6 L562.9,533.6 L563.1,533.6 L563.3,533.5 L563.6,533.5 L563.8,533.5 L564.0,533.4 L564.3,533.3 L564.5,533.3 L564.7,533.2 L565.0,533.1 L565.2,533.1 L565.4,533.0 L565.6,533.0 L565.9,532.9 L566.1,532.9 L566.3,532.9 L566.6,532.9 L566.8,532.9 L567.0,532.9 L567.3,532.9 L567.5,532.9 L567.7,533.0 L568.0,533.1 L568.2,533.1 L568.4,533.2 L568.7,533.3 L568.9,533.4 L569.1,533.5 L569.4,533.5 L569.6,533.6 L569.8,533.7 L570.1,533.7 L570.3,533.8 L570.5,533.8 L570.8,533.8 L571.0,533.8 L571.2,533.8 L571.4,533.8 L571.7,533.7 L571.9,533.7 L572.1,533.6 L572.4,533.6 L572.6,533.5 L572.8,533.5 L573.1,533.4 L573.3,533.3 L573.5,533.3 L573.8,533.2 L574.0,533.2 L574.2,533.1 L574.5,533.1 L574.7,533.1 L574.9,533.1 L575.2,533.1 L575.4,533.1 L575.6,533.2 L575.9,533.2 L576.1,533.3 L576.3,533.4 L576.6,533.4 L576.8,533.5 L577.0,533.6 L577.2,533.7 L577.5,533.8 L577.7,533.8 L577.9,533.9 L578.2,533.9 L578.4,534.0 L578.6,534.0 L578.9,534.0 L579.1,534.0 L579.3,534.0 L579.6,534.0 L579.8,534.0 L580.0,533.9 L580.3,533.9 L580.5,533.8 L580.7,533.7 L581.0,533.7 L581.2,533.6 L581.4,533.5 L581.7,533.5 L581.9,533.4 L582.1,533.4 L582.4,533.3 L582.6,533.3 L582.8,533.3 L583.0,533.3 L583.3,533.3 L583.5,533.3 L583.7,533.4 L584.0,533.4 L584.2,533.5 L584.4,533.6 L584.7,533.6 L584.9,533.7 L585.1,533.8 L585.4,533.9 L585.6,533.9 L585.8,534.0 L586.1,534.1 L586.3,534.1 L586.5,534.2 L586.8,534.2 L587.0,534.2 L587.2,534.2 L587.5,534.2 L587.7,534.2 L587.9,534.1 L588.2,534.1 L588.4,534.0 L588.6,534.0 L588.8,533.9 L589.1,533.8 L589.3,533.8 L589.5,533.7 L589.8,533.6 L590.0,533.6 L590.2,533.5 L590.5,533.5 L590.7,533.5 L590.9,533.5 L591.2,533.5 L591.4,533.5 L591.6,533.5 L591.9,533.5 L592.1,533.6 L592.3,533.7 L592.6,533.7 L592.8,533.8 L593.0,533.9 L593.3,534.0 L593.5,534.0 L593.7,534.1 L594.0,534.2 L594.2,534.2 L594.4,534.3 L594.6,534.3 L594.9,534.4 L595.1,534.4 L595.3,534.4 L595.6,534.4 L595.8,534.3 L596.0,534.3 L596.3,534.3 L596.5,534.2 L596.7,534.1 L597.0,534.1 L597.2,534.0 L597.4,533.9 L597.7,533.9 L597.9,533.8 L598.1,533.7 L598.4,533.7 L598.6,533.7 L598.8,533.6 L599.1,533.6 L599.3,533.6 L599.5,533.6 L599.8,533.7 L600.0,533.7 L600.2,533.8 L600.4,533.8 L600.7,533.9 L600.9,534.0 L601.1,534.0 L601.4,534.1 L601.6,534.2 L601.8,534.3 L602.1,534.3 L602.3,534.4 L602.5,534.5 L602.8,534.5 L603.0,534.5 L603.2,534.5 L603.5,534.5 L603.7,534.5 L603.9,534.5 L604.2,534.5 L604.4,534.4 L604.6,534.4 L604.9,534.3 L605.1,534.2 L605.3,534.2 L605.6,534.1 L605.8,534.0 L606.0,534.0 L606.2,533.9 L606.5,533.9 L606.7,533.8 L606.9,533.8 L607.2,533.8 L607.4,533.8 L607.6,533.8 L607.9,533.8 L608.1,533.9 L608.3,533.9 L608.6,534.0 L608.8,534.0 L609.0,534.1 L609.3,534.2 L609.5,534.3 L609.7,534.4 L610.0,534.4 L610.2,534.5 L610.4,534.6 L610.7,534.6 L610.9,534.6 L611.1,534.7 L611.4,534.7 L611.6,534.7 L611.8,534.7 L612.0,534.6 L612.3,534.6 L612.5,534.6 L612.7,534.5 L613.0,534.4 L613.2,534.4 L613.4,534.3 L613.7,534.2 L613.9,534.2 L614.1,534.1 L614.4,534.0 L614.6,534.0 L614.8,534.0 L615.1,533.9 L615.3,533.9 L615.5,533.9 L615.8,533.9 L616.0,534.0 L616.2,534.0 L616.5,534.0 L616.7,534.1 L616.9,534.2 L617.2,534.3 L617.4,534.3 L617.6,534.4 L617.8,534.5 L618.1,534.6 L618.3,534.6 L618.5,534.7 L618.8,534.7 L619.0,534.8 L619.2,534.8 L619.5,534.8 L619.7,534.8 L619.9,534.8 L620.2,534.8 L620.4,534.7 L620.6,534.7 L620.9,534.6 L621.1,534.6 L621.3,534.5 L621.6,534.4 L621.8,534.4 L622.0,534.3 L622.3,534.2 L622.5,534.2 L622.7,534.1 L623.0,534.1 L623.2,534.1 L623.4,534.0 L623.6,534.0 L623.9,534.1 L624.1,534.1 L624.3,534.1 L624.6,534.2 L624.8,534.2 L625.0,534.3 L625.3,534.4 L625.5,534.5 L625.7,534.5 L626.0,534.6 L626.2,534.7 L626.4,534.8 L626.7,534.8 L626.9,534.9 L627.1,534.9 L627.4,534.9 L627.6,534.9 L627.8,534.9 L628.1,534.9 L628.3,534.9 L628.5,534.9 L628.8,534.8 L629.0,534.8 L629.2,534.7 L629.4,534.6 L629.7,534.6 L629.9,534.5 L630.1,534.4 L630.4,534.3 L630.6,534.3 L630.8,534.2 L631.1,534.2 L631.3,534.2 L631.5,534.2 L631.8,534.2 L632.0,534.2 L632.2,534.2 L632.5,534.2 L632.7,534.3 L632.9,534.4 L633.2,534.4 L633.4,534.5 L633.6,534.6 L633.9,534.6 L634.1,534.7 L634.3,534.8 L634.6,534.9 L634.8,534.9 L635.0,535.0 L635.2,535.0 L635.5,535.0 L635.7,535.1 L635.9,535.1 L636.2,535.0 L636.4,535.0 L636.6,535.0 L636.9,534.9 L637.1,534.9 L637.3,534.8 L637.6,534.7 L637.8,534.7 L638.0,534.6 L638.3,534.5 L638.5,534.5 L638.7,534.4 L639.0,534.4 L639.2,534.3 L639.4,534.3 L639.7,534.3 L639.9,534.3 L640.1,534.3 L640.4,534.3 L640.6,534.3 L640.8,534.4 L641.0,534.5 L641.3,534.5 L641.5,534.6 L641.7,534.7 L642.0,534.8 L642.2,534.8 L642.4,534.9 L642.7,535.0 L642.9,535.0 L643.1,535.1 L643.4,535.1 L643.6,535.1 L643.8,535.2 L644.1,535.2 L644.3,535.1 L644.5,535.1 L644.8,535.1 L645.0,535.0 L645.2,535.0 L645.5,534.9 L645.7,534.8 L645.9,534.8 L646.2,534.7 L646.4,534.6 L646.6,534.6 L646.8,534.5 L647.1,534.5 L647.3,534.4 L647.5,534.4 L647.8,534.4 L648.0,534.4 L648.2,534.4 L648.5,534.4 L648.7,534.5 L648.9,534.5 L649.2,534.6 L649.4,534.6 L649.6,534.7 L649.9,534.8 L650.1,534.9 L650.3,534.9 L650.6,535.0 L650.8,535.1 L651.0,535.1 L651.3,535.2 L651.5,535.2 L651.7,535.2 L652.0,535.3 L652.2,535.3 L652.4,535.2 L652.6,535.2 L652.9,535.2 L653.1,535.1 L653.3,535.1 L653.6,535.0 L653.8,534.9 L654.0,534.9 L654.3,534.8 L654.5,534.7 L654.7,534.7 L655.0,534.6 L655.2,534.6 L655.4,534.5 L655.7,534.5 L655.9,534.5 L656.1,534.5 L656.4,534.5 L656.6,534.5 L656.8,534.5 L657.1,534.6 L657.3,534.7 L657.5,534.7 L657.8,534.8 L658.0,534.9 L658.2,535.0 L658.4,535.0 L658.7,535.1 L658.9,535.2 L659.1,535.2 L659.4,535.3 L659.6,535.3 L659.8,535.3 L660.1,535.4 L660.3,535.4 L660.5,535.3 L660.8,535.3 L661.0,535.3 L661.2,535.2 L661.5,535.2 L661.7,535.1 L661.9,535.0 L662.2,535.0 L662.4,534.9 L662.6,534.8 L662.9,534.7 L663.1,534.7 L663.3,534.6 L663.6,534.6 L663.8,534.6 L664.0,534.6 L664.2,534.6 L664.5,534.6 L664.7,534.6 L664.9,534.6 L665.2,534.7 L665.4,534.7 L665.6,534.8 L665.9,534.9 L666.1,535.0 L666.3,535.0 L666.6,535.1 L666.8,535.2 L667.0,535.3 L667.3,535.3 L667.5,535.4 L667.7,535.4 L668.0,535.4 L668.2,535.4 L668.4,535.4 L668.7,535.4 L668.9,535.4 L669.1,535.4 L669.4,535.3 L669.6,535.2 L669.8,535.2 L670.0,535.1 L670.3,535.0 L670.5,535.0 L670.7,534.9 L671.0,534.8 L671.2,534.8 L671.4,534.7 L671.7,534.7 L671.9,534.7 L672.1,534.6 L672.4,534.6 L672.6,534.7 L672.8,534.7 L673.1,534.7 L673.3,534.8 L673.5,534.8 L673.8,534.9 L674.0,535.0 L674.2,535.0 L674.5,535.1 L674.7,535.2 L674.9,535.3 L675.2,535.3 L675.4,535.4 L675.6,535.4 L675.8,535.5 L676.1,535.5 L676.3,535.5 L676.5,535.5 L676.8,535.5 L677.0,535.5 L677.2,535.4 L677.5,535.4 L677.7,535.3 L677.9,535.3 L678.2,535.2 L678.4,535.1" stroke="#0000ff" stroke-width="1.9" fill="none" stroke-linejoin="round" stroke-linecap="round"/></g>
<g clip-path="url(#cdR)"><path d="M394.2,470.6 L394.4,470.6 L394.7,470.5 L394.9,470.5 L395.1,470.5 L395.4,470.4 L395.6,470.4 L395.8,470.4 L396.1,470.4 L396.3,470.4 L396.5,470.4 L396.8,470.4 L397.0,470.4 L397.2,470.5 L397.4,470.5 L397.7,470.5 L397.9,470.6 L398.1,470.6 L398.4,470.6 L398.6,470.7 L398.8,470.7 L399.1,470.8 L399.3,470.8 L399.5,470.8 L399.8,470.8 L400.0,470.9 L400.2,470.9 L400.5,470.9 L400.7,470.9 L400.9,470.8 L401.2,470.8 L401.4,470.8 L401.6,470.7 L401.9,470.7 L402.1,470.7 L402.3,470.6 L402.6,470.6 L402.8,470.5 L403.0,470.5 L403.2,470.5 L403.5,470.4 L403.7,470.4 L403.9,470.4 L404.2,470.4 L404.4,470.4 L404.6,470.4 L404.9,470.4 L405.1,470.4 L405.3,470.5 L405.6,470.5 L405.8,470.5 L406.0,470.6 L406.3,470.6 L406.5,470.6 L406.7,470.7 L407.0,470.7 L407.2,470.8 L407.4,470.8 L407.7,470.8 L407.9,470.8 L408.1,470.9 L408.4,470.9 L408.6,470.9 L408.8,470.9 L409.0,470.8 L409.3,470.8 L409.5,470.8 L409.7,470.7 L410.0,470.7 L410.2,470.7 L410.4,470.6 L410.7,470.6 L410.9,470.5 L411.1,470.5 L411.4,470.5 L411.6,470.4 L411.8,470.4 L412.1,470.4 L412.3,470.4 L412.5,470.4 L412.8,470.4 L413.0,470.4 L413.2,470.4 L413.5,470.5 L413.7,470.5 L413.9,470.5 L414.2,470.6 L414.4,470.6 L414.6,470.6 L414.8,470.7 L415.1,470.7 L415.3,470.8 L415.5,470.8 L415.8,470.8 L416.0,470.8 L416.2,470.9 L416.5,470.9 L416.7,470.9 L416.9,470.9 L417.2,470.8 L417.4,470.8 L417.6,470.8 L417.9,470.7 L418.1,470.7 L418.3,470.7 L418.6,470.6 L418.8,470.6 L419.0,470.5 L419.3,470.5 L419.5,470.5 L419.7,470.4 L420.0,470.4 L420.2,470.4 L420.4,470.4 L420.6,470.4 L420.9,470.4 L421.1,470.4 L421.3,470.4 L421.6,470.5 L421.8,470.5 L422.0,470.5 L422.3,470.6 L422.5,470.6 L422.7,470.6 L423.0,470.7 L423.2,470.7 L423.4,470.8 L423.7,470.8 L423.9,470.8 L424.1,470.8 L424.4,470.9 L424.6,470.9 L424.8,470.9 L425.1,470.9 L425.3,470.8 L425.5,470.8 L425.8,470.8 L426.0,470.7 L426.2,470.7 L426.4,470.7 L426.7,470.6 L426.9,470.6 L427.1,470.5 L427.4,470.5 L427.6,470.5 L427.8,470.4 L428.1,470.4 L428.3,470.4 L428.5,470.4 L428.8,470.4 L429.0,470.4 L429.2,470.4 L429.5,470.4 L429.7,470.5 L429.9,470.5 L430.2,470.5 L430.4,470.6 L430.6,470.6 L430.9,470.6 L431.1,470.7 L431.3,470.7 L431.6,470.8 L431.8,470.8 L432.0,470.8 L432.2,470.8 L432.5,470.9 L432.7,470.9 L432.9,470.9 L433.2,470.9 L433.4,470.8 L433.6,470.8 L433.9,470.8 L434.1,470.7 L434.3,470.7 L434.6,470.7 L434.8,470.6 L435.0,471.0 L435.3,471.0 L435.5,471.0 L435.7,471.0 L436.0,471.1 L436.2,471.1 L436.4,471.2 L436.7,471.3 L436.9,471.4 L437.1,471.4 L437.4,471.5 L437.6,471.5 L437.8,471.5 L438.0,471.5 L438.3,471.5 L438.5,471.4 L438.7,471.3 L439.0,471.2 L439.2,471.1 L439.4,470.9 L439.7,470.7 L439.9,470.5 L440.1,470.3 L440.4,470.2 L440.6,470.0 L440.8,469.8 L441.1,469.7 L441.3,469.6 L441.5,469.6 L441.8,469.6 L442.0,469.6 L442.2,469.7 L442.5,469.9 L442.7,470.1 L442.9,470.3 L443.2,470.6 L443.4,471.0 L443.6,471.3 L443.8,471.6 L444.1,472.0 L444.3,472.3 L444.5,472.6 L444.8,472.8 L445.0,473.0 L445.2,473.2 L445.5,473.3 L445.7,473.3 L445.9,473.2 L446.2,473.0 L446.4,472.8 L446.6,472.5 L446.9,472.1 L447.1,471.7 L447.3,471.3 L447.6,470.8 L447.8,470.3 L448.0,469.8 L448.3,469.4 L448.5,468.9 L448.7,468.6 L449.0,468.3 L449.2,468.1 L449.4,467.9 L449.6,467.9 L449.9,468.0 L450.1,468.1 L450.3,468.4 L450.6,468.8 L450.8,469.2 L451.0,469.7 L451.3,470.3 L451.5,470.9 L451.7,471.5 L452.0,472.2 L452.2,472.8 L452.4,473.3 L452.7,473.8 L452.9,474.2 L453.1,474.5 L453.4,474.7 L453.6,474.8 L453.8,474.8 L454.1,474.6 L454.3,474.3 L454.5,473.9 L454.8,473.4 L455.0,472.8 L455.2,472.1 L455.4,471.4 L455.7,470.7 L455.9,469.9 L456.1,469.2 L456.4,468.5 L456.6,467.9 L456.8,467.4 L457.1,467.0 L457.3,466.7 L457.5,466.5 L457.8,466.5 L458.0,466.7 L458.2,466.9 L458.5,467.3 L458.7,467.9 L458.9,468.5 L459.2,469.3 L459.4,470.1 L459.6,470.9 L459.9,471.8 L460.1,472.6 L460.3,473.4 L460.6,474.1 L460.8,474.8 L461.0,475.3 L461.2,475.7 L461.5,475.9 L461.7,476.0 L461.9,476.0 L462.2,475.7 L462.4,475.3 L462.6,474.8 L462.9,474.1 L463.1,473.3 L463.3,472.5 L463.6,471.6 L463.8,470.6 L464.0,469.7 L464.3,468.7 L464.5,467.9 L464.7,467.1 L465.0,466.5 L465.2,466.0 L465.4,465.6 L465.7,465.5 L465.9,465.5 L466.1,465.6 L466.4,466.0 L466.6,466.5 L466.8,467.2 L467.0,468.0 L467.3,468.9 L467.5,469.9 L467.7,470.9 L468.0,471.9 L468.2,472.9 L468.4,473.9 L468.7,474.8 L468.9,475.5 L469.1,476.1 L469.4,476.6 L469.6,476.9 L469.8,477.0 L470.1,476.9 L470.3,476.6 L470.5,476.1 L470.8,475.4 L471.0,474.7 L471.2,473.7 L471.5,472.7 L471.7,471.6 L471.9,470.5 L472.2,469.4 L472.4,468.4 L472.6,467.4 L472.8,466.5 L473.1,465.8 L473.3,465.2 L473.5,464.8 L473.8,464.6 L474.0,464.7 L474.2,464.9 L474.5,465.3 L474.7,465.9 L474.9,466.7 L475.2,467.6 L475.4,468.6 L475.6,469.7 L475.9,470.9 L476.1,472.0 L476.3,473.2 L476.6,474.3 L476.8,475.2 L477.0,476.1 L477.3,476.8 L477.5,477.3 L477.7,477.6 L478.0,477.7 L478.2,477.5 L478.4,477.2 L478.6,476.7 L478.9,475.9 L479.1,475.1 L479.3,474.0 L479.6,472.9 L479.8,471.7 L480.0,470.5 L480.3,469.3 L480.5,468.1 L480.7,467.0 L481.0,466.1 L481.2,465.3 L481.4,464.7 L481.7,464.2 L481.9,464.0 L482.1,464.1 L482.4,464.3 L482.6,464.8 L482.8,465.4 L483.1,466.3 L483.3,467.3 L483.5,468.4 L483.8,469.6 L484.0,470.9 L484.2,472.1 L484.4,473.4 L484.7,474.5 L484.9,475.6 L485.1,476.5 L485.4,477.2 L485.6,477.8 L485.8,478.1 L486.1,478.2 L486.3,478.0 L486.5,477.7 L486.8,477.1 L487.0,476.3 L487.2,475.4 L487.5,474.3 L487.7,473.0 L487.9,471.8 L488.2,470.5 L488.4,469.2 L488.6,467.9 L488.9,466.8 L489.1,465.8 L489.3,464.9 L489.6,464.3 L489.8,463.8 L490.0,463.6 L490.2,463.6 L490.5,463.9 L490.7,464.4 L490.9,465.1 L491.2,466.0 L491.4,467.0 L491.6,468.2 L491.9,469.5 L492.1,470.8 L492.3,472.2 L492.6,473.5 L492.8,474.7 L493.0,475.8 L493.3,476.8 L493.5,477.6 L493.7,478.1 L494.0,478.5 L494.2,478.5 L494.4,478.4 L494.7,478.0 L494.9,477.4 L495.1,476.6 L495.4,475.6 L495.6,474.4 L495.8,473.1 L496.0,471.8 L496.3,470.4 L496.5,469.1 L496.7,467.8 L497.0,466.6 L497.2,465.5 L497.4,464.6 L497.7,464.0 L497.9,463.5 L498.1,463.3 L498.4,463.3 L498.6,463.6 L498.8,464.1 L499.1,464.8 L499.3,465.8 L499.5,466.9 L499.8,468.1 L500.0,469.5 L500.2,470.8 L500.5,472.2 L500.7,473.6 L500.9,474.9 L501.2,476.0 L501.4,477.0 L501.6,477.8 L501.8,478.4 L502.1,478.7 L502.3,478.8 L502.5,478.7 L502.8,478.3 L503.0,477.6 L503.2,476.8 L503.5,475.7 L503.7,474.5 L503.9,473.2 L504.2,471.8 L504.4,470.4 L504.6,469.0 L504.9,467.7 L505.1,466.5 L505.3,465.4 L505.6,464.5 L505.8,463.8 L506.0,463.3 L506.3,463.1 L506.5,463.1 L506.7,463.4 L507.0,463.9 L507.2,464.7 L507.4,465.6 L507.6,466.8 L507.9,468.0 L508.1,469.4 L508.3,470.8 L508.6,472.3 L508.8,473.7 L509.0,475.0 L509.3,476.1 L509.5,477.2 L509.7,478.0 L510.0,478.6 L510.2,478.9 L510.4,479.0 L510.7,478.8 L510.9,478.4 L511.1,477.8 L511.4,476.9 L511.6,475.8 L511.8,474.6 L512.1,473.3 L512.3,471.8 L512.5,470.4 L512.8,469.0 L513.0,467.6 L513.2,466.4 L513.4,465.2 L513.7,464.3 L513.9,463.6 L514.1,463.1 L514.4,462.9 L514.6,462.9 L514.8,463.2 L515.1,463.8 L515.3,464.6 L515.5,465.5 L515.8,466.7 L516.0,468.0 L516.2,469.4 L516.5,470.8 L516.7,472.3 L516.9,473.7 L517.2,475.0 L517.4,476.2 L517.6,477.3 L517.9,478.1 L518.1,478.7 L518.3,479.0 L518.6,479.1 L518.8,479.0 L519.0,478.5 L519.2,477.9 L519.5,477.0 L519.7,475.9 L519.9,474.7 L520.2,473.3 L520.4,471.9 L520.6,470.4 L520.9,468.9 L521.1,467.6 L521.3,466.3 L521.6,465.2 L521.8,464.2 L522.0,463.5 L522.3,463.0 L522.5,462.8 L522.7,462.8 L523.0,463.1 L523.2,463.7 L523.4,464.5 L523.7,465.5 L523.9,466.6 L524.1,468.0 L524.4,469.4 L524.6,470.8 L524.8,472.3 L525.0,473.7 L525.3,475.1 L525.5,476.3 L525.7,477.3 L526.0,478.2 L526.2,478.8 L526.4,479.1 L526.7,479.2 L526.9,479.1 L527.1,478.6 L527.4,478.0 L527.6,477.1 L527.8,476.0 L528.1,474.7 L528.3,473.3 L528.5,471.9 L528.8,470.4 L529.0,468.9 L529.2,467.5 L529.5,466.2 L529.7,465.1 L529.9,464.2 L530.2,463.4 L530.4,462.9 L530.6,462.7 L530.8,462.8 L531.1,463.1 L531.3,463.6 L531.5,464.4 L531.8,465.4 L532.0,466.6 L532.2,467.9 L532.5,469.4 L532.7,470.8 L532.9,472.3 L533.2,473.8 L533.4,475.1 L533.6,476.3 L533.9,477.4 L534.1,478.2 L534.3,478.8 L534.6,479.2 L534.8,479.3 L535.0,479.1 L535.3,478.7 L535.5,478.0 L535.7,477.1 L536.0,476.0 L536.2,474.7 L536.4,473.3 L536.6,471.9 L536.9,470.4 L537.1,468.9 L537.3,467.5 L537.6,466.2 L537.8,465.1 L538.0,464.1 L538.3,463.4 L538.5,462.9 L538.7,462.7 L539.0,462.7 L539.2,463.0 L539.4,463.6 L539.7,464.4 L539.9,465.4 L540.1,466.6 L540.4,467.9 L540.6,469.3 L540.8,470.8 L541.1,472.3 L541.3,473.8 L541.5,475.1 L541.8,476.4 L542.0,477.4 L542.2,478.3 L542.4,478.9 L542.7,479.2 L542.9,479.3 L543.1,479.2 L543.4,478.7 L543.6,478.0 L543.8,477.1 L544.1,476.0 L544.3,474.7 L544.5,473.4 L544.8,471.9 L545.0,470.4 L545.2,468.9 L545.5,467.5 L545.7,466.2 L545.9,465.0 L546.2,464.1 L546.4,463.3 L546.6,462.9 L546.9,462.6 L547.1,462.7 L547.3,463.0 L547.6,463.5 L547.8,464.3 L548.0,465.4 L548.2,466.6 L548.5,467.9 L548.7,469.3 L548.9,470.8 L549.2,472.3 L549.4,473.8 L549.6,475.2 L549.9,476.4 L550.1,477.4 L550.3,478.3 L550.6,478.9 L550.8,479.3 L551.0,479.4 L551.3,479.2 L551.5,478.8 L551.7,478.1 L552.0,477.2 L552.2,476.0 L552.4,474.8 L552.7,473.4 L552.9,471.9 L553.1,470.4 L553.4,468.9 L553.6,467.5 L553.8,466.2 L554.0,465.0 L554.3,464.1 L554.5,463.3 L554.7,462.8 L555.0,462.6 L555.2,462.6 L555.4,463.0 L555.7,463.5 L555.9,464.3 L556.1,465.3 L556.4,466.5 L556.6,467.9 L556.8,469.3 L557.1,470.8 L557.3,472.3 L557.5,473.8 L557.8,475.2 L558.0,476.4 L558.2,477.5 L558.5,478.3 L558.7,478.9 L558.9,479.3 L559.2,479.4 L559.4,479.2 L559.6,478.8 L559.8,478.1 L560.1,477.2 L560.3,476.0 L560.5,474.8 L560.8,473.4 L561.0,471.9 L561.2,470.4 L561.5,468.9 L561.7,467.5 L561.9,466.2 L562.2,465.0 L562.4,464.0 L562.6,463.3 L562.9,462.8 L563.1,462.6 L563.3,462.6 L563.6,462.9 L563.8,463.5 L564.0,464.3 L564.3,465.3 L564.5,466.5 L564.7,467.9 L565.0,469.3 L565.2,470.8 L565.4,472.3 L565.6,473.8 L565.9,475.2 L566.1,476.4 L566.3,477.5 L566.6,478.3 L566.8,478.9 L567.0,479.3 L567.3,479.4 L567.5,479.2 L567.7,478.8 L568.0,478.1 L568.2,477.2 L568.4,476.1 L568.7,474.8 L568.9,473.4 L569.1,471.9 L569.4,470.4 L569.6,468.9 L569.8,467.5 L570.1,466.2 L570.3,465.0 L570.5,464.0 L570.8,463.3 L571.0,462.8 L571.2,462.6 L571.4,462.6 L571.7,462.9 L571.9,463.5 L572.1,464.3 L572.4,465.3 L572.6,466.5 L572.8,467.9 L573.1,469.3 L573.3,470.8 L573.5,472.3 L573.8,473.8 L574.0,475.2 L574.2,476.4 L574.5,477.5 L574.7,478.3 L574.9,479.0 L575.2,479.3 L575.4,479.4 L575.6,479.2 L575.9,478.8 L576.1,478.1 L576.3,477.2 L576.6,476.1 L576.8,474.8 L577.0,473.4 L577.2,471.9 L577.5,470.4 L577.7,468.9 L577.9,467.5 L578.2,466.1 L578.4,465.0 L578.6,464.0 L578.9,463.3 L579.1,462.8 L579.3,462.6 L579.6,462.6 L579.8,462.9 L580.0,463.5 L580.3,464.3 L580.5,465.3 L580.7,466.5 L581.0,467.9 L581.2,469.3 L581.4,470.8 L581.7,472.3 L581.9,473.8 L582.1,475.2 L582.4,476.4 L582.6,477.5 L582.8,478.3 L583.0,479.0 L583.3,479.3 L583.5,479.4 L583.7,479.2 L584.0,478.8 L584.2,478.1 L584.4,477.2 L584.7,476.1 L584.9,474.8 L585.1,473.4 L585.4,471.9 L585.6,470.4 L585.8,468.9 L586.1,467.5 L586.3,466.1 L586.5,465.0 L586.8,464.0 L587.0,463.3 L587.2,462.8 L587.5,462.6 L587.7,462.6 L587.9,462.9 L588.2,463.5 L588.4,464.3 L588.6,465.3 L588.8,466.5 L589.1,467.9 L589.3,469.3 L589.5,470.8 L589.8,472.3 L590.0,473.8 L590.2,475.2 L590.5,476.4 L590.7,477.5 L590.9,478.3 L591.2,479.0 L591.4,479.3 L591.6,479.4 L591.9,479.2 L592.1,478.8 L592.3,478.1 L592.6,477.2 L592.8,476.1 L593.0,474.8 L593.3,473.4 L593.5,471.9 L593.7,470.4 L594.0,468.9 L594.2,467.5 L594.4,466.1 L594.6,465.0 L594.9,464.0 L595.1,463.3 L595.3,462.8 L595.6,462.6 L595.8,462.6 L596.0,462.9 L596.3,463.5 L596.5,464.3 L596.7,465.3 L597.0,466.5 L597.2,467.9 L597.4,469.3 L597.7,470.8 L597.9,472.3 L598.1,473.8 L598.4,475.2 L598.6,476.4 L598.8,477.5 L599.1,478.3 L599.3,479.0 L599.5,479.3 L599.8,479.4 L600.0,479.2 L600.2,478.8 L600.4,478.1 L600.7,477.2 L600.9,476.1 L601.1,474.8 L601.4,473.4 L601.6,471.9 L601.8,470.4 L602.1,468.9 L602.3,467.5 L602.5,466.1 L602.8,465.0 L603.0,464.0 L603.2,463.3 L603.5,462.8 L603.7,462.6 L603.9,462.6 L604.2,462.9 L604.4,463.5 L604.6,464.3 L604.9,465.3 L605.1,466.5 L605.3,467.9 L605.6,469.3 L605.8,470.8 L606.0,472.3 L606.2,473.8 L606.5,475.2 L606.7,476.4 L606.9,477.5 L607.2,478.3 L607.4,479.0 L607.6,479.3 L607.9,479.4 L608.1,479.3 L608.3,478.8 L608.6,478.1 L608.8,477.2 L609.0,476.1 L609.3,474.8 L609.5,473.4 L609.7,471.9 L610.0,470.4 L610.2,468.9 L610.4,467.5 L610.7,466.1 L610.9,465.0 L611.1,464.0 L611.4,463.3 L611.6,462.8 L611.8,462.6 L612.0,462.6 L612.3,462.9 L612.5,463.5 L612.7,464.3 L613.0,465.3 L613.2,466.5 L613.4,467.9 L613.7,469.3 L613.9,470.8 L614.1,472.3 L614.4,473.8 L614.6,475.2 L614.8,476.4 L615.1,477.5 L615.3,478.3 L615.5,479.0 L615.8,479.3 L616.0,479.4 L616.2,479.3 L616.5,478.8 L616.7,478.1 L616.9,477.2 L617.2,476.1 L617.4,474.8 L617.6,473.4 L617.8,471.9 L618.1,470.4 L618.3,468.9 L618.5,467.5 L618.8,466.1 L619.0,465.0 L619.2,464.0 L619.5,463.3 L619.7,462.8 L619.9,462.6 L620.2,462.6 L620.4,462.9 L620.6,463.5 L620.9,464.3 L621.1,465.3 L621.3,466.5 L621.6,467.9 L621.8,469.3 L622.0,470.8 L622.3,472.3 L622.5,473.8 L622.7,475.2 L623.0,476.4 L623.2,477.5 L623.4,478.4 L623.6,479.0 L623.9,479.3 L624.1,479.4 L624.3,479.3 L624.6,478.8 L624.8,478.1 L625.0,477.2 L625.3,476.1 L625.5,474.8 L625.7,473.4 L626.0,471.9 L626.2,470.4 L626.4,468.9 L626.7,467.5 L626.9,466.1 L627.1,465.0 L627.4,464.0 L627.6,463.3 L627.8,462.8 L628.1,462.6 L628.3,462.6 L628.5,462.9 L628.8,463.5 L629.0,464.3 L629.2,465.3 L629.4,466.5 L629.7,467.9 L629.9,469.3 L630.1,470.8 L630.4,472.3 L630.6,473.8 L630.8,475.2 L631.1,476.4 L631.3,477.5 L631.5,478.4 L631.8,479.0 L632.0,479.3 L632.2,479.4 L632.5,479.3 L632.7,478.8 L632.9,478.1 L633.2,477.2 L633.4,476.1 L633.6,474.8 L633.9,473.4 L634.1,471.9 L634.3,470.4 L634.6,468.9 L634.8,467.5 L635.0,466.1 L635.2,465.0 L635.5,464.0 L635.7,463.3 L635.9,462.8 L636.2,462.6 L636.4,462.6 L636.6,462.9 L636.9,463.5 L637.1,464.3 L637.3,465.3 L637.6,466.5 L637.8,467.9 L638.0,469.3 L638.3,470.8 L638.5,472.3 L638.7,473.8 L639.0,475.2 L639.2,476.4 L639.4,477.5 L639.7,478.4 L639.9,479.0 L640.1,479.3 L640.4,479.4 L640.6,479.3 L640.8,478.8 L641.0,478.1 L641.3,477.2 L641.5,476.1 L641.7,474.8 L642.0,473.4 L642.2,471.9 L642.4,470.4 L642.7,468.9 L642.9,467.5 L643.1,466.1 L643.4,465.0 L643.6,464.0 L643.8,463.3 L644.1,462.8 L644.3,462.6 L644.5,462.6 L644.8,462.9 L645.0,463.5 L645.2,464.3 L645.5,465.3 L645.7,466.5 L645.9,467.9 L646.2,469.3 L646.4,470.8 L646.6,472.3 L646.8,473.8 L647.1,475.2 L647.3,476.4 L647.5,477.5 L647.8,478.4 L648.0,479.0 L648.2,479.3 L648.5,479.4 L648.7,479.3 L648.9,478.8 L649.2,478.1 L649.4,477.2 L649.6,476.1 L649.9,474.8 L650.1,473.4 L650.3,471.9 L650.6,470.4 L650.8,468.9 L651.0,467.5 L651.3,466.1 L651.5,465.0 L651.7,464.0 L652.0,463.3 L652.2,462.8 L652.4,462.6 L652.6,462.6 L652.9,462.9 L653.1,463.5 L653.3,464.3 L653.6,465.3 L653.8,466.5 L654.0,467.9 L654.3,469.3 L654.5,470.8 L654.7,472.3 L655.0,473.8 L655.2,475.2 L655.4,476.4 L655.7,477.5 L655.9,478.4 L656.1,479.0 L656.4,479.3 L656.6,479.4 L656.8,479.3 L657.1,478.8 L657.3,478.1 L657.5,477.2 L657.8,476.1 L658.0,474.8 L658.2,473.4 L658.4,471.9 L658.7,470.4 L658.9,468.9 L659.1,467.5 L659.4,466.1 L659.6,465.0 L659.8,464.0 L660.1,463.3 L660.3,462.8 L660.5,462.5 L660.8,462.6 L661.0,462.9 L661.2,463.5 L661.5,464.3 L661.7,465.3 L661.9,466.5 L662.2,467.9 L662.4,469.3 L662.6,470.8 L662.9,472.3 L663.1,473.8 L663.3,475.2 L663.6,476.4 L663.8,477.5 L664.0,478.4 L664.2,479.0 L664.5,479.3 L664.7,479.4 L664.9,479.3 L665.2,478.8 L665.4,478.1 L665.6,477.2 L665.9,476.1 L666.1,474.8 L666.3,473.4 L666.6,471.9 L666.8,470.4 L667.0,468.9 L667.3,467.5 L667.5,466.1 L667.7,465.0 L668.0,464.0 L668.2,463.3 L668.4,462.8 L668.7,462.5 L668.9,462.6 L669.1,462.9 L669.4,463.5 L669.6,464.3 L669.8,465.3 L670.0,466.5 L670.3,467.9 L670.5,469.3 L670.7,470.8 L671.0,472.3 L671.2,473.8 L671.4,475.2 L671.7,476.4 L671.9,477.5 L672.1,478.4 L672.4,479.0 L672.6,479.3 L672.8,479.4 L673.1,479.3 L673.3,478.8 L673.5,478.1 L673.8,477.2 L674.0,476.1 L674.2,474.8 L674.5,473.4 L674.7,471.9 L674.9,470.4 L675.2,468.9 L675.4,467.5 L675.6,466.1 L675.8,465.0 L676.1,464.0 L676.3,463.3 L676.5,462.8 L676.8,462.5 L677.0,462.6 L677.2,462.9 L677.5,463.5 L677.7,464.3 L677.9,465.3 L678.2,466.5 L678.4,467.9" stroke="#ff0000" stroke-width="1.5" fill="none" stroke-linejoin="round" stroke-linecap="round"/></g>
<rect x="130.40" y="13.67" width="93.00" height="48.83" fill="#fff"/>
<clipPath id="iaL"><rect x="130.40" y="13.67" width="93.00" height="48.83"/></clipPath>
<path d="M130.4,48.3 L131.0,47.3 L131.6,46.2 L132.2,45.0 L132.7,43.7 L133.3,42.4 L133.9,41.0 L134.5,39.6 L135.1,38.2 L135.7,36.7 L136.2,35.3 L136.8,33.9 L137.4,32.6 L138.0,31.4 L138.6,30.2 L139.2,29.0 L139.8,28.0 L140.3,27.0 L140.9,26.1 L141.5,25.2 L142.1,24.4 L142.7,23.6 L143.3,22.9 L143.9,22.3 L144.4,21.8 L145.0,21.3 L145.6,21.0 L146.2,20.9 L146.8,20.8 L147.4,20.9 L147.9,21.2 L148.5,21.5 L149.1,22.0 L149.7,22.6 L150.3,23.3 L150.9,24.0 L151.5,24.8 L152.0,25.6 L152.6,26.5 L153.2,27.5 L153.8,28.5 L154.4,29.6 L155.0,30.8 L155.6,32.0 L156.1,33.3 L156.7,34.6 L157.3,36.0 L157.9,37.5 L158.5,38.9 L159.1,40.3 L159.6,41.7 L160.2,43.1 L160.8,44.4 L161.4,45.6 L162.0,46.7 L162.6,47.8 L163.2,48.8 L163.7,49.8 L164.3,50.7 L164.9,51.5 L165.5,52.3 L166.1,53.0 L166.7,53.7 L167.2,54.2 L167.8,54.7 L168.4,55.0 L169.0,55.3 L169.6,55.4 L170.2,55.3 L170.8,55.1 L171.3,54.8 L171.9,54.3 L172.5,53.8 L173.1,53.1 L173.7,52.4 L174.3,51.7 L174.9,50.8 L175.4,50.0 L176.0,49.0 L176.6,48.0 L177.2,47.0 L177.8,45.8 L178.4,44.6 L178.9,43.4 L179.5,42.0 L180.1,40.6 L180.7,39.2 L181.3,37.8 L181.9,36.3 L182.5,34.9 L183.0,33.6 L183.6,32.2 L184.2,31.0 L184.8,29.8 L185.4,28.7 L186.0,27.7 L186.6,26.7 L187.1,25.8 L187.7,25.0 L188.3,24.2 L188.9,23.4 L189.5,22.7 L190.1,22.1 L190.6,21.6 L191.2,21.2 L191.8,21.0 L192.4,20.8 L193.0,20.8 L193.6,21.0 L194.2,21.3 L194.7,21.7 L195.3,22.2 L195.9,22.8 L196.5,23.5 L197.1,24.2 L197.7,25.0 L198.2,25.9 L198.8,26.8 L199.4,27.8 L200.0,28.8 L200.6,29.9 L201.2,31.1 L201.8,32.3 L202.3,33.7 L202.9,35.0 L203.5,36.4 L204.1,37.9 L204.7,39.3 L205.3,40.8 L205.9,42.1 L206.4,43.5 L207.0,44.7 L207.6,45.9 L208.2,47.1 L208.8,48.1 L209.4,49.1 L209.9,50.0 L210.5,50.9 L211.1,51.7 L211.7,52.5 L212.3,53.2 L212.9,53.8 L213.5,54.4 L214.0,54.8 L214.6,55.1 L215.2,55.3 L215.8,55.4 L216.4,55.3 L217.0,55.0 L217.6,54.7 L218.1,54.2 L218.7,53.6 L219.3,53.0 L219.9,52.2 L220.5,51.4 L221.1,50.6 L221.6,49.7 L222.2,48.7 L222.8,47.7 L223.4,46.6" stroke="#008000" stroke-width="4.2" fill="none" clip-path="url(#iaL)"/>
<path d="M130.4,43.7 L131.0,44.7 L131.6,45.7 L132.2,46.6 L132.7,47.4 L133.3,48.2 L133.9,48.9 L134.5,49.6 L135.1,50.3 L135.7,50.9 L136.2,51.4 L136.8,51.8 L137.4,52.2 L138.0,52.4 L138.6,52.6 L139.2,52.6 L139.8,52.5 L140.3,52.3 L140.9,52.0 L141.5,51.6 L142.1,51.1 L142.7,50.6 L143.3,50.0 L143.9,49.3 L144.4,48.6 L145.0,47.8 L145.6,47.0 L146.2,46.2 L146.8,45.2 L147.4,44.3 L147.9,43.2 L148.5,42.1 L149.1,41.0 L149.7,39.8 L150.3,38.6 L150.9,37.4 L151.5,36.2 L152.0,35.0 L152.6,33.9 L153.2,32.8 L153.8,31.8 L154.4,30.8 L155.0,29.9 L155.6,29.1 L156.1,28.3 L156.7,27.5 L157.3,26.8 L157.9,26.1 L158.5,25.5 L159.1,25.0 L159.6,24.5 L160.2,24.1 L160.8,23.8 L161.4,23.6 L162.0,23.5 L162.6,23.6 L163.2,23.7 L163.7,24.0 L164.3,24.4 L164.9,24.9 L165.5,25.4 L166.1,26.0 L166.7,26.6 L167.2,27.3 L167.8,28.1 L168.4,28.9 L169.0,29.7 L169.6,30.6 L170.2,31.5 L170.8,32.6 L171.3,33.6 L171.9,34.8 L172.5,35.9 L173.1,37.1 L173.7,38.3 L174.3,39.5 L174.9,40.7 L175.4,41.9 L176.0,43.0 L176.6,44.0 L177.2,45.0 L177.8,46.0 L178.4,46.8 L178.9,47.6 L179.5,48.4 L180.1,49.1 L180.7,49.8 L181.3,50.4 L181.9,51.0 L182.5,51.5 L183.0,51.9 L183.6,52.3 L184.2,52.5 L184.8,52.6 L185.4,52.6 L186.0,52.5 L186.6,52.3 L187.1,51.9 L187.7,51.5 L188.3,51.0 L188.9,50.4 L189.5,49.8 L190.1,49.1 L190.6,48.4 L191.2,47.6 L191.8,46.8 L192.4,45.9 L193.0,45.0 L193.6,44.0 L194.2,42.9 L194.7,41.8 L195.3,40.7 L195.9,39.5 L196.5,38.3 L197.1,37.1 L197.7,35.9 L198.2,34.7 L198.8,33.6 L199.4,32.5 L200.0,31.5 L200.6,30.5 L201.2,29.7 L201.8,28.8 L202.3,28.0 L202.9,27.3 L203.5,26.6 L204.1,26.0 L204.7,25.4 L205.3,24.8 L205.9,24.4 L206.4,24.0 L207.0,23.7 L207.6,23.6 L208.2,23.5 L208.8,23.6 L209.4,23.8 L209.9,24.1 L210.5,24.5 L211.1,25.0 L211.7,25.6 L212.3,26.2 L212.9,26.8 L213.5,27.5 L214.0,28.3 L214.6,29.1 L215.2,30.0 L215.8,30.9 L216.4,31.8 L217.0,32.9 L217.6,33.9 L218.1,35.1 L218.7,36.3 L219.3,37.5 L219.9,38.7 L220.5,39.9 L221.1,41.1 L221.6,42.2 L222.2,43.3 L222.8,44.3 L223.4,45.3" stroke="#0000ff" stroke-width="4.2" fill="none" clip-path="url(#iaL)"/>
<path d="M130.4,23.7 L131.0,23.6 L131.6,23.5 L132.2,23.6 L132.7,23.8 L133.3,24.1 L133.9,24.5 L134.5,25.0 L135.1,25.6 L135.7,26.2 L136.2,26.9 L136.8,27.6 L137.4,28.3 L138.0,29.1 L138.6,30.0 L139.2,30.9 L139.8,31.9 L140.3,32.9 L140.9,34.0 L141.5,35.1 L142.1,36.3 L142.7,37.5 L143.3,38.8 L143.9,40.0 L144.4,41.1 L145.0,42.3 L145.6,43.4 L146.2,44.4 L146.8,45.4 L147.4,46.3 L147.9,47.1 L148.5,47.9 L149.1,48.7 L149.7,49.4 L150.3,50.0 L150.9,50.6 L151.5,51.2 L152.0,51.7 L152.6,52.1 L153.2,52.4 L153.8,52.6 L154.4,52.6 L155.0,52.6 L155.6,52.4 L156.1,52.2 L156.7,51.8 L157.3,51.3 L157.9,50.8 L158.5,50.2 L159.1,49.5 L159.6,48.8 L160.2,48.1 L160.8,47.3 L161.4,46.5 L162.0,45.6 L162.6,44.6 L163.2,43.6 L163.7,42.6 L164.3,41.4 L164.9,40.3 L165.5,39.1 L166.1,37.8 L166.7,36.6 L167.2,35.4 L167.8,34.3 L168.4,33.2 L169.0,32.1 L169.6,31.2 L170.2,30.2 L170.8,29.4 L171.3,28.5 L171.9,27.8 L172.5,27.1 L173.1,26.4 L173.7,25.7 L174.3,25.2 L174.9,24.7 L175.4,24.2 L176.0,23.9 L176.6,23.7 L177.2,23.6 L177.8,23.6 L178.4,23.7 L178.9,23.9 L179.5,24.2 L180.1,24.7 L180.7,25.2 L181.3,25.8 L181.9,26.4 L182.5,27.1 L183.0,27.8 L183.6,28.6 L184.2,29.4 L184.8,30.3 L185.4,31.2 L186.0,32.2 L186.6,33.2 L187.1,34.3 L187.7,35.5 L188.3,36.7 L188.9,37.9 L189.5,39.1 L190.1,40.3 L190.6,41.5 L191.2,42.6 L191.8,43.7 L192.4,44.7 L193.0,45.6 L193.6,46.5 L194.2,47.3 L194.7,48.1 L195.3,48.9 L195.9,49.6 L196.5,50.2 L197.1,50.8 L197.7,51.3 L198.2,51.8 L198.8,52.2 L199.4,52.4 L200.0,52.6 L200.6,52.6 L201.2,52.6 L201.8,52.4 L202.3,52.1 L202.9,51.7 L203.5,51.2 L204.1,50.6 L204.7,50.0 L205.3,49.3 L205.9,48.6 L206.4,47.9 L207.0,47.1 L207.6,46.2 L208.2,45.3 L208.8,44.4 L209.4,43.3 L209.9,42.2 L210.5,41.1 L211.1,39.9 L211.7,38.7 L212.3,37.5 L212.9,36.3 L213.5,35.1 L214.0,34.0 L214.6,32.9 L215.2,31.9 L215.8,30.9 L216.4,30.0 L217.0,29.1 L217.6,28.3 L218.1,27.6 L218.7,26.9 L219.3,26.2 L219.9,25.6 L220.5,25.0 L221.1,24.5 L221.6,24.1 L222.2,23.8 L222.8,23.6 L223.4,23.5" stroke="#ff0000" stroke-width="4.2" fill="none" clip-path="url(#iaL)"/>
<path d="M175.40,62.50v-2.2" stroke="#111" stroke-width="0.9"/>
<path d="M130.40,13.67V62.50H223.40V13.67" fill="none" stroke="#222" stroke-width="0.9"/>
<text x="128.60" y="71.80" text-anchor="middle" class="in">0.3</text>
<text x="174.30" y="71.80" text-anchor="middle" class="in">0.325</text>
<text x="221.80" y="71.80" text-anchor="middle" class="in">0.35</text>
<rect x="483.50" y="19.40" width="95.60" height="40.30" fill="#fff"/>
<clipPath id="iaR"><rect x="483.50" y="19.40" width="95.60" height="40.30"/></clipPath>
<path d="M483.5,47.9 L484.1,47.0 L484.7,46.1 L485.3,45.1 L485.9,44.1 L486.5,43.0 L487.1,41.8 L487.7,40.6 L488.3,39.4 L488.9,38.2 L489.5,37.1 L490.1,35.9 L490.7,34.8 L491.3,33.8 L491.9,32.8 L492.5,31.9 L493.1,31.0 L493.7,30.2 L494.3,29.5 L494.9,28.7 L495.5,28.1 L496.1,27.4 L496.7,26.9 L497.3,26.3 L497.9,25.9 L498.5,25.6 L499.1,25.3 L499.7,25.2 L500.3,25.2 L500.9,25.2 L501.5,25.5 L502.1,25.8 L502.7,26.2 L503.3,26.7 L503.9,27.2 L504.5,27.8 L505.1,28.5 L505.7,29.2 L506.3,29.9 L506.9,30.7 L507.6,31.6 L508.2,32.5 L508.8,33.4 L509.4,34.4 L510.0,35.5 L510.6,36.6 L511.2,37.8 L511.8,39.0 L512.4,40.2 L513.0,41.4 L513.6,42.5 L514.2,43.7 L514.8,44.7 L515.4,45.7 L516.0,46.7 L516.6,47.6 L517.2,48.4 L517.8,49.2 L518.4,50.0 L519.0,50.7 L519.6,51.3 L520.2,51.9 L520.8,52.5 L521.4,53.0 L522.0,53.4 L522.6,53.7 L523.2,53.9 L523.8,54.0 L524.4,53.9 L525.0,53.8 L525.6,53.5 L526.2,53.2 L526.8,52.7 L527.4,52.2 L528.0,51.6 L528.6,51.0 L529.2,50.3 L529.8,49.6 L530.4,48.8 L531.0,48.0 L531.6,47.1 L532.2,46.2 L532.8,45.2 L533.4,44.2 L534.0,43.1 L534.6,41.9 L535.2,40.8 L535.8,39.6 L536.4,38.4 L537.0,37.2 L537.6,36.0 L538.2,34.9 L538.8,33.9 L539.4,32.9 L540.0,32.0 L540.6,31.1 L541.2,30.3 L541.8,29.5 L542.4,28.8 L543.0,28.1 L543.6,27.5 L544.2,26.9 L544.8,26.4 L545.4,25.9 L546.0,25.6 L546.6,25.3 L547.2,25.2 L547.8,25.1 L548.4,25.2 L549.0,25.4 L549.6,25.7 L550.2,26.1 L550.8,26.6 L551.4,27.1 L552.0,27.8 L552.6,28.4 L553.2,29.1 L553.8,29.9 L554.4,30.6 L555.0,31.5 L555.7,32.4 L556.3,33.3 L556.9,34.3 L557.5,35.4 L558.1,36.5 L558.7,37.7 L559.3,38.9 L559.9,40.1 L560.5,41.3 L561.1,42.4 L561.7,43.6 L562.3,44.6 L562.9,45.6 L563.5,46.6 L564.1,47.5 L564.7,48.4 L565.3,49.1 L565.9,49.9 L566.5,50.6 L567.1,51.3 L567.7,51.9 L568.3,52.4 L568.9,52.9 L569.5,53.3 L570.1,53.6 L570.7,53.8 L571.3,53.9 L571.9,53.9 L572.5,53.8 L573.1,53.6 L573.7,53.2 L574.3,52.8 L574.9,52.3 L575.5,51.7 L576.1,51.1 L576.7,50.4 L577.3,49.7 L577.9,48.9 L578.5,48.1 L579.1,47.2" stroke="#008000" stroke-width="2.6" fill="none" clip-path="url(#iaR)"/>
<path d="M483.5,44.4 L484.1,45.2 L484.7,45.9 L485.3,46.6 L485.9,47.3 L486.5,48.0 L487.1,48.5 L487.7,49.1 L488.3,49.6 L488.9,50.1 L489.5,50.5 L490.1,50.9 L490.7,51.2 L491.3,51.4 L491.9,51.5 L492.5,51.5 L493.1,51.4 L493.7,51.2 L494.3,51.0 L494.9,50.6 L495.5,50.2 L496.1,49.8 L496.7,49.2 L497.3,48.7 L497.9,48.1 L498.5,47.5 L499.1,46.8 L499.7,46.1 L500.3,45.4 L500.9,44.6 L501.5,43.7 L502.1,42.8 L502.7,41.9 L503.3,40.9 L503.9,40.0 L504.5,39.0 L505.1,38.0 L505.7,37.0 L506.3,36.1 L506.9,35.2 L507.6,34.4 L508.2,33.6 L508.8,32.8 L509.4,32.1 L510.0,31.5 L510.6,30.9 L511.2,30.3 L511.8,29.8 L512.4,29.3 L513.0,28.8 L513.6,28.4 L514.2,28.1 L514.8,27.8 L515.4,27.7 L516.0,27.6 L516.6,27.6 L517.2,27.8 L517.8,28.0 L518.4,28.3 L519.0,28.7 L519.6,29.1 L520.2,29.6 L520.8,30.1 L521.4,30.7 L522.0,31.3 L522.6,31.9 L523.2,32.6 L523.8,33.3 L524.4,34.1 L525.0,34.9 L525.6,35.8 L526.2,36.7 L526.8,37.6 L527.4,38.6 L528.0,39.6 L528.6,40.6 L529.2,41.6 L529.8,42.5 L530.4,43.4 L531.0,44.3 L531.6,45.1 L532.2,45.9 L532.8,46.6 L533.4,47.2 L534.0,47.9 L534.6,48.5 L535.2,49.0 L535.8,49.6 L536.4,50.1 L537.0,50.5 L537.6,50.8 L538.2,51.1 L538.8,51.3 L539.4,51.5 L540.0,51.5 L540.6,51.4 L541.2,51.2 L541.8,51.0 L542.4,50.7 L543.0,50.3 L543.6,49.8 L544.2,49.3 L544.8,48.8 L545.4,48.2 L546.0,47.6 L546.6,46.9 L547.2,46.2 L547.8,45.5 L548.4,44.7 L549.0,43.8 L549.6,42.9 L550.2,42.0 L550.8,41.0 L551.4,40.1 L552.0,39.1 L552.6,38.1 L553.2,37.1 L553.8,36.2 L554.4,35.3 L555.0,34.5 L555.7,33.7 L556.3,32.9 L556.9,32.2 L557.5,31.6 L558.1,30.9 L558.7,30.4 L559.3,29.8 L559.9,29.3 L560.5,28.8 L561.1,28.4 L561.7,28.1 L562.3,27.9 L562.9,27.7 L563.5,27.6 L564.1,27.6 L564.7,27.7 L565.3,28.0 L565.9,28.2 L566.5,28.6 L567.1,29.0 L567.7,29.5 L568.3,30.0 L568.9,30.6 L569.5,31.2 L570.1,31.8 L570.7,32.5 L571.3,33.2 L571.9,34.0 L572.5,34.8 L573.1,35.7 L573.7,36.6 L574.3,37.5 L574.9,38.5 L575.5,39.5 L576.1,40.5 L576.7,41.5 L577.3,42.4 L577.9,43.3 L578.5,44.2 L579.1,45.0" stroke="#0000ff" stroke-width="2.6" fill="none" clip-path="url(#iaR)"/>
<path d="M483.5,27.7 L484.1,27.6 L484.7,27.6 L485.3,27.7 L485.9,27.9 L486.5,28.2 L487.1,28.5 L487.7,28.9 L488.3,29.4 L488.9,29.9 L489.5,30.4 L490.1,31.0 L490.7,31.6 L491.3,32.3 L491.9,33.0 L492.5,33.8 L493.1,34.6 L493.7,35.4 L494.3,36.3 L494.9,37.2 L495.5,38.2 L496.1,39.2 L496.7,40.2 L497.3,41.2 L497.9,42.1 L498.5,43.1 L499.1,43.9 L499.7,44.8 L500.3,45.6 L500.9,46.3 L501.5,47.0 L502.1,47.6 L502.7,48.3 L503.3,48.8 L503.9,49.4 L504.5,49.9 L505.1,50.3 L505.7,50.7 L506.3,51.0 L506.9,51.3 L507.6,51.4 L508.2,51.5 L508.8,51.5 L509.4,51.3 L510.0,51.1 L510.6,50.8 L511.2,50.4 L511.8,50.0 L512.4,49.5 L513.0,49.0 L513.6,48.4 L514.2,47.8 L514.8,47.2 L515.4,46.5 L516.0,45.8 L516.6,45.0 L517.2,44.2 L517.8,43.3 L518.4,42.4 L519.0,41.4 L519.6,40.5 L520.2,39.5 L520.8,38.5 L521.4,37.5 L522.0,36.6 L522.6,35.6 L523.2,34.8 L523.8,34.0 L524.4,33.2 L525.0,32.5 L525.6,31.8 L526.2,31.2 L526.8,30.6 L527.4,30.0 L528.0,29.5 L528.6,29.0 L529.2,28.6 L529.8,28.2 L530.4,28.0 L531.0,27.7 L531.6,27.6 L532.2,27.6 L532.8,27.7 L533.4,27.9 L534.0,28.1 L534.6,28.5 L535.2,28.9 L535.8,29.3 L536.4,29.8 L537.0,30.4 L537.6,31.0 L538.2,31.6 L538.8,32.2 L539.4,32.9 L540.0,33.7 L540.6,34.5 L541.2,35.3 L541.8,36.2 L542.4,37.1 L543.0,38.1 L543.6,39.1 L544.2,40.1 L544.8,41.1 L545.4,42.0 L546.0,43.0 L546.6,43.8 L547.2,44.7 L547.8,45.5 L548.4,46.2 L549.0,46.9 L549.6,47.6 L550.2,48.2 L550.8,48.8 L551.4,49.3 L552.0,49.8 L552.6,50.3 L553.2,50.7 L553.8,51.0 L554.4,51.3 L555.0,51.4 L555.7,51.5 L556.3,51.5 L556.9,51.3 L557.5,51.1 L558.1,50.8 L558.7,50.5 L559.3,50.0 L559.9,49.6 L560.5,49.0 L561.1,48.5 L561.7,47.9 L562.3,47.2 L562.9,46.6 L563.5,45.8 L564.1,45.1 L564.7,44.3 L565.3,43.4 L565.9,42.5 L566.5,41.5 L567.1,40.6 L567.7,39.6 L568.3,38.6 L568.9,37.6 L569.5,36.6 L570.1,35.7 L570.7,34.9 L571.3,34.1 L571.9,33.3 L572.5,32.6 L573.1,31.9 L573.7,31.2 L574.3,30.6 L574.9,30.1 L575.5,29.6 L576.1,29.1 L576.7,28.6 L577.3,28.3 L577.9,28.0 L578.5,27.8 L579.1,27.6" stroke="#ff0000" stroke-width="2.6" fill="none" clip-path="url(#iaR)"/>
<path d="M530.50,59.70v-2.2" stroke="#111" stroke-width="0.9"/>
<rect x="483.50" y="19.40" width="95.60" height="40.30" fill="none" stroke="#222" stroke-width="0.9"/>
<text x="484.00" y="68.60" text-anchor="middle" class="in">0.3</text>
<text x="531.00" y="68.60" text-anchor="middle" class="in">0.325</text>
<text x="578.50" y="68.60" text-anchor="middle" class="in">0.35</text>
<rect x="135.50" y="166.05" width="86.30" height="39.25" fill="#fff"/>
<clipPath id="ibL"><rect x="135.50" y="166.05" width="86.30" height="39.25"/></clipPath>
<path d="M135.5,175.4 L136.0,176.4 L136.6,177.4 L137.1,178.5 L137.7,179.6 L138.2,180.8 L138.8,182.0 L139.3,183.2 L139.8,184.5 L140.4,185.7 L140.9,187.0 L141.5,188.2 L142.0,189.4 L142.6,190.6 L143.1,191.8 L143.6,192.9 L144.2,194.0 L144.7,195.0 L145.3,196.0 L145.8,196.9 L146.4,197.7 L146.9,198.5 L147.4,199.1 L148.0,199.7 L148.5,200.2 L149.1,200.6 L149.6,200.9 L150.2,201.1 L150.7,201.2 L151.2,201.2 L151.8,201.1 L152.3,200.9 L152.9,200.5 L153.4,200.1 L154.0,199.7 L154.5,199.1 L155.0,198.4 L155.6,197.6 L156.1,196.8 L156.7,195.9 L157.2,194.9 L157.8,193.9 L158.3,192.8 L158.8,191.7 L159.4,190.5 L159.9,189.3 L160.5,188.1 L161.0,186.8 L161.6,185.6 L162.1,184.3 L162.6,183.1 L163.2,181.9 L163.7,180.7 L164.3,179.5 L164.8,178.4 L165.4,177.3 L165.9,176.3 L166.4,175.3 L167.0,174.4 L167.5,173.6 L168.1,172.9 L168.6,172.2 L169.2,171.6 L169.7,171.1 L170.2,170.8 L170.8,170.5 L171.3,170.3 L171.9,170.2 L172.4,170.2 L173.0,170.3 L173.5,170.5 L174.0,170.8 L174.6,171.2 L175.1,171.7 L175.7,172.3 L176.2,173.0 L176.8,173.7 L177.3,174.6 L177.8,175.5 L178.4,176.5 L178.9,177.5 L179.5,178.6 L180.0,179.7 L180.5,180.9 L181.1,182.1 L181.6,183.3 L182.2,184.5 L182.7,185.8 L183.3,187.0 L183.8,188.3 L184.3,189.5 L184.9,190.7 L185.4,191.9 L186.0,193.0 L186.5,194.1 L187.1,195.1 L187.6,196.1 L188.1,196.9 L188.7,197.8 L189.2,198.5 L189.8,199.2 L190.3,199.7 L190.9,200.2 L191.4,200.6 L191.9,200.9 L192.5,201.1 L193.0,201.2 L193.6,201.2 L194.1,201.0 L194.7,200.8 L195.2,200.5 L195.7,200.1 L196.3,199.6 L196.8,199.0 L197.4,198.4 L197.9,197.6 L198.5,196.8 L199.0,195.8 L199.5,194.9 L200.1,193.8 L200.6,192.7 L201.2,191.6 L201.7,190.4 L202.3,189.2 L202.8,188.0 L203.3,186.8 L203.9,185.5 L204.4,184.3 L205.0,183.0 L205.5,181.8 L206.1,180.6 L206.6,179.5 L207.1,178.3 L207.7,177.3 L208.2,176.2 L208.8,175.3 L209.3,174.4 L209.9,173.6 L210.4,172.8 L210.9,172.2 L211.5,171.6 L212.0,171.1 L212.6,170.7 L213.1,170.5 L213.7,170.3 L214.2,170.2 L214.7,170.2 L215.3,170.3 L215.8,170.5 L216.4,170.8 L216.9,171.2 L217.5,171.7 L218.0,172.3 L218.5,173.0 L219.1,173.8 L219.6,174.6 L220.2,175.5 L220.7,176.5 L221.3,177.5 L221.8,178.6" stroke="#0000ff" stroke-width="2.3" fill="none" clip-path="url(#ibL)"/>
<path d="M135.5,180.4 L136.0,179.2 L136.6,178.1 L137.1,177.0 L137.7,175.9 L138.2,175.0 L138.8,174.1 L139.3,173.3 L139.8,172.5 L140.4,171.9 L140.9,171.3 L141.5,170.9 L142.0,170.5 L142.6,170.2 L143.1,170.0 L143.6,170.0 L144.2,170.0 L144.7,170.1 L145.3,170.4 L145.8,170.7 L146.4,171.1 L146.9,171.7 L147.4,172.3 L148.0,173.0 L148.5,173.8 L149.1,174.6 L149.6,175.6 L150.2,176.6 L150.7,177.6 L151.2,178.7 L151.8,179.9 L152.3,181.1 L152.9,182.3 L153.4,183.6 L154.0,184.8 L154.5,186.1 L155.0,187.3 L155.6,188.6 L156.1,189.8 L156.7,191.0 L157.2,192.2 L157.8,193.3 L158.3,194.4 L158.8,195.4 L159.4,196.4 L159.9,197.3 L160.5,198.1 L161.0,198.8 L161.6,199.5 L162.1,200.0 L162.6,200.5 L163.2,200.9 L163.7,201.1 L164.3,201.3 L164.8,201.4 L165.4,201.3 L165.9,201.2 L166.4,201.0 L167.0,200.6 L167.5,200.2 L168.1,199.7 L168.6,199.1 L169.2,198.3 L169.7,197.6 L170.2,196.7 L170.8,195.8 L171.3,194.8 L171.9,193.7 L172.4,192.6 L173.0,191.4 L173.5,190.2 L174.0,189.0 L174.6,187.8 L175.1,186.5 L175.7,185.2 L176.2,184.0 L176.8,182.7 L177.3,181.5 L177.8,180.3 L178.4,179.1 L178.9,178.0 L179.5,176.9 L180.0,175.9 L180.5,174.9 L181.1,174.0 L181.6,173.2 L182.2,172.5 L182.7,171.9 L183.3,171.3 L183.8,170.8 L184.3,170.5 L184.9,170.2 L185.4,170.0 L186.0,170.0 L186.5,170.0 L187.1,170.2 L187.6,170.4 L188.1,170.7 L188.7,171.2 L189.2,171.7 L189.8,172.3 L190.3,173.0 L190.9,173.8 L191.4,174.7 L191.9,175.6 L192.5,176.6 L193.0,177.7 L193.6,178.8 L194.1,180.0 L194.7,181.2 L195.2,182.4 L195.7,183.6 L196.3,184.9 L196.8,186.1 L197.4,187.4 L197.9,188.7 L198.5,189.9 L199.0,191.1 L199.5,192.3 L200.1,193.4 L200.6,194.5 L201.2,195.5 L201.7,196.4 L202.3,197.3 L202.8,198.1 L203.3,198.9 L203.9,199.5 L204.4,200.1 L205.0,200.5 L205.5,200.9 L206.1,201.1 L206.6,201.3 L207.1,201.4 L207.7,201.3 L208.2,201.2 L208.8,201.0 L209.3,200.6 L209.9,200.2 L210.4,199.6 L210.9,199.0 L211.5,198.3 L212.0,197.5 L212.6,196.6 L213.1,195.7 L213.7,194.7 L214.2,193.6 L214.7,192.5 L215.3,191.4 L215.8,190.2 L216.4,188.9 L216.9,187.7 L217.5,186.4 L218.0,185.2 L218.5,183.9 L219.1,182.7 L219.6,181.4 L220.2,180.2 L220.7,179.0 L221.3,177.9 L221.8,176.9" stroke="#ff0000" stroke-width="2.3" fill="none" clip-path="url(#ibL)"/>
<path d="M135.5,201.5 L136.0,201.7 L136.6,201.8 L137.1,201.7 L137.7,201.6 L138.2,201.4 L138.8,201.1 L139.3,200.6 L139.8,200.1 L140.4,199.5 L140.9,198.8 L141.5,198.0 L142.0,197.1 L142.6,196.2 L143.1,195.2 L143.6,194.1 L144.2,193.0 L144.7,191.8 L145.3,190.6 L145.8,189.3 L146.4,188.0 L146.9,186.7 L147.4,185.4 L148.0,184.2 L148.5,182.9 L149.1,181.6 L149.6,180.4 L150.2,179.2 L150.7,178.0 L151.2,176.9 L151.8,175.8 L152.3,174.8 L152.9,173.9 L153.4,173.1 L154.0,172.3 L154.5,171.6 L155.0,171.0 L155.6,170.5 L156.1,170.2 L156.7,169.9 L157.2,169.7 L157.8,169.6 L158.3,169.6 L158.8,169.7 L159.4,170.0 L159.9,170.3 L160.5,170.7 L161.0,171.2 L161.6,171.9 L162.1,172.6 L162.6,173.4 L163.2,174.2 L163.7,175.2 L164.3,176.2 L164.8,177.3 L165.4,178.4 L165.9,179.6 L166.4,180.8 L167.0,182.1 L167.5,183.4 L168.1,184.6 L168.6,185.9 L169.2,187.2 L169.7,188.5 L170.2,189.8 L170.8,191.0 L171.3,192.2 L171.9,193.4 L172.4,194.5 L173.0,195.6 L173.5,196.6 L174.0,197.5 L174.6,198.3 L175.1,199.1 L175.7,199.7 L176.2,200.3 L176.8,200.8 L177.3,201.2 L177.8,201.5 L178.4,201.7 L178.9,201.8 L179.5,201.7 L180.0,201.6 L180.5,201.4 L181.1,201.0 L181.6,200.6 L182.2,200.1 L182.7,199.5 L183.3,198.7 L183.8,198.0 L184.3,197.1 L184.9,196.1 L185.4,195.1 L186.0,194.0 L186.5,192.9 L187.1,191.7 L187.6,190.5 L188.1,189.2 L188.7,188.0 L189.2,186.7 L189.8,185.4 L190.3,184.1 L190.9,182.8 L191.4,181.5 L191.9,180.3 L192.5,179.1 L193.0,177.9 L193.6,176.8 L194.1,175.8 L194.7,174.8 L195.2,173.9 L195.7,173.0 L196.3,172.3 L196.8,171.6 L197.4,171.0 L197.9,170.5 L198.5,170.1 L199.0,169.8 L199.5,169.7 L200.1,169.6 L200.6,169.6 L201.2,169.7 L201.7,170.0 L202.3,170.3 L202.8,170.7 L203.3,171.3 L203.9,171.9 L204.4,172.6 L205.0,173.4 L205.5,174.3 L206.1,175.3 L206.6,176.3 L207.1,177.4 L207.7,178.5 L208.2,179.7 L208.8,180.9 L209.3,182.2 L209.9,183.4 L210.4,184.7 L210.9,186.0 L211.5,187.3 L212.0,188.6 L212.6,189.9 L213.1,191.1 L213.7,192.3 L214.2,193.5 L214.7,194.6 L215.3,195.6 L215.8,196.6 L216.4,197.5 L216.9,198.4 L217.5,199.1 L218.0,199.8 L218.5,200.4 L219.1,200.8 L219.6,201.2 L220.2,201.5 L220.7,201.7 L221.3,201.8 L221.8,201.7" stroke="#008000" stroke-width="2.3" fill="none" clip-path="url(#ibL)"/>
<path d="M178.50,205.30v-2.2" stroke="#111" stroke-width="0.9"/>
<rect x="135.50" y="166.05" width="86.30" height="39.25" fill="none" stroke="#222" stroke-width="0.9"/>
<text x="136.00" y="213.60" text-anchor="middle" class="in">0.3</text>
<text x="178.50" y="213.60" text-anchor="middle" class="in">0.325</text>
<text x="221.00" y="213.60" text-anchor="middle" class="in">0.35</text>
<rect x="487.60" y="164.80" width="98.10" height="40.50" fill="#fff"/>
<clipPath id="ibR"><rect x="487.60" y="164.80" width="98.10" height="40.50"/></clipPath>
<path d="M487.6,174.0 L488.2,174.9 L488.8,175.8 L489.5,176.8 L490.1,177.9 L490.7,179.0 L491.3,180.1 L491.9,181.3 L492.5,182.4 L493.2,183.6 L493.8,184.9 L494.4,186.1 L495.0,187.3 L495.6,188.5 L496.2,189.6 L496.9,190.8 L497.5,191.9 L498.1,192.9 L498.7,193.9 L499.3,194.9 L499.9,195.8 L500.6,196.6 L501.2,197.3 L501.8,198.0 L502.4,198.6 L503.0,199.1 L503.6,199.5 L504.3,199.8 L504.9,200.0 L505.5,200.1 L506.1,200.1 L506.7,200.1 L507.3,199.9 L508.0,199.6 L508.6,199.2 L509.2,198.8 L509.8,198.2 L510.4,197.6 L511.0,196.9 L511.7,196.1 L512.3,195.2 L512.9,194.3 L513.5,193.3 L514.1,192.3 L514.7,191.2 L515.4,190.1 L516.0,188.9 L516.6,187.7 L517.2,186.5 L517.8,185.3 L518.4,184.1 L519.1,182.9 L519.7,181.7 L520.3,180.5 L520.9,179.4 L521.5,178.3 L522.2,177.2 L522.8,176.2 L523.4,175.3 L524.0,174.4 L524.6,173.5 L525.2,172.8 L525.9,172.1 L526.5,171.5 L527.1,171.0 L527.7,170.6 L528.3,170.3 L528.9,170.1 L529.6,170.0 L530.2,170.0 L530.8,170.0 L531.4,170.2 L532.0,170.5 L532.6,170.8 L533.3,171.3 L533.9,171.8 L534.5,172.4 L535.1,173.2 L535.7,173.9 L536.3,174.8 L537.0,175.7 L537.6,176.7 L538.2,177.7 L538.8,178.8 L539.4,179.9 L540.0,181.1 L540.7,182.3 L541.3,183.5 L541.9,184.7 L542.5,185.9 L543.1,187.1 L543.7,188.3 L544.4,189.5 L545.0,190.6 L545.6,191.7 L546.2,192.8 L546.8,193.8 L547.4,194.8 L548.1,195.7 L548.7,196.5 L549.3,197.3 L549.9,197.9 L550.5,198.5 L551.1,199.0 L551.8,199.4 L552.4,199.8 L553.0,200.0 L553.6,200.1 L554.2,200.1 L554.9,200.1 L555.5,199.9 L556.1,199.7 L556.7,199.3 L557.3,198.9 L557.9,198.3 L558.6,197.7 L559.2,197.0 L559.8,196.2 L560.4,195.4 L561.0,194.4 L561.6,193.5 L562.3,192.4 L562.9,191.4 L563.5,190.2 L564.1,189.1 L564.7,187.9 L565.3,186.7 L566.0,185.5 L566.6,184.3 L567.2,183.1 L567.8,181.9 L568.4,180.7 L569.0,179.5 L569.7,178.4 L570.3,177.4 L570.9,176.3 L571.5,175.4 L572.1,174.5 L572.7,173.7 L573.4,172.9 L574.0,172.2 L574.6,171.6 L575.2,171.1 L575.8,170.7 L576.4,170.4 L577.1,170.1 L577.7,170.0 L578.3,170.0 L578.9,170.0 L579.5,170.2 L580.1,170.4 L580.8,170.8 L581.4,171.2 L582.0,171.7 L582.6,172.4 L583.2,173.1 L583.8,173.8 L584.5,174.7 L585.1,175.6 L585.7,176.6" stroke="#0000ff" stroke-width="2.3" fill="none" clip-path="url(#ibR)"/>
<path d="M487.6,181.3 L488.2,180.1 L488.8,179.0 L489.5,177.9 L490.1,176.9 L490.7,175.9 L491.3,174.9 L491.9,174.1 L492.5,173.3 L493.2,172.6 L493.8,171.9 L494.4,171.4 L495.0,170.9 L495.6,170.5 L496.2,170.2 L496.9,170.1 L497.5,170.0 L498.1,170.0 L498.7,170.1 L499.3,170.3 L499.9,170.6 L500.6,171.0 L501.2,171.5 L501.8,172.0 L502.4,172.7 L503.0,173.4 L503.6,174.2 L504.3,175.1 L504.9,176.1 L505.5,177.1 L506.1,178.1 L506.7,179.2 L507.3,180.3 L508.0,181.5 L508.6,182.7 L509.2,183.9 L509.8,185.1 L510.4,186.3 L511.0,187.5 L511.7,188.7 L512.3,189.9 L512.9,191.0 L513.5,192.1 L514.1,193.2 L514.7,194.2 L515.4,195.1 L516.0,196.0 L516.6,196.8 L517.2,197.5 L517.8,198.1 L518.4,198.7 L519.1,199.2 L519.7,199.6 L520.3,199.8 L520.9,200.0 L521.5,200.1 L522.2,200.1 L522.8,200.0 L523.4,199.8 L524.0,199.5 L524.6,199.2 L525.2,198.7 L525.9,198.1 L526.5,197.5 L527.1,196.7 L527.7,195.9 L528.3,195.1 L528.9,194.1 L529.6,193.1 L530.2,192.1 L530.8,191.0 L531.4,189.8 L532.0,188.7 L532.6,187.5 L533.3,186.3 L533.9,185.1 L534.5,183.8 L535.1,182.6 L535.7,181.5 L536.3,180.3 L537.0,179.2 L537.6,178.1 L538.2,177.0 L538.8,176.0 L539.4,175.1 L540.0,174.2 L540.7,173.4 L541.3,172.6 L541.9,172.0 L542.5,171.4 L543.1,171.0 L543.7,170.6 L544.4,170.3 L545.0,170.1 L545.6,170.0 L546.2,170.0 L546.8,170.1 L547.4,170.3 L548.1,170.5 L548.7,170.9 L549.3,171.4 L549.9,171.9 L550.5,172.6 L551.1,173.3 L551.8,174.1 L552.4,175.0 L553.0,175.9 L553.6,176.9 L554.2,178.0 L554.9,179.1 L555.5,180.2 L556.1,181.4 L556.7,182.5 L557.3,183.7 L557.9,185.0 L558.6,186.2 L559.2,187.4 L559.8,188.6 L560.4,189.7 L561.0,190.9 L561.6,192.0 L562.3,193.0 L562.9,194.0 L563.5,195.0 L564.1,195.9 L564.7,196.7 L565.3,197.4 L566.0,198.1 L566.6,198.6 L567.2,199.1 L567.8,199.5 L568.4,199.8 L569.0,200.0 L569.7,200.1 L570.3,200.1 L570.9,200.0 L571.5,199.9 L572.1,199.6 L572.7,199.2 L573.4,198.7 L574.0,198.2 L574.6,197.6 L575.2,196.8 L575.8,196.0 L576.4,195.2 L577.1,194.2 L577.7,193.2 L578.3,192.2 L578.9,191.1 L579.5,190.0 L580.1,188.8 L580.8,187.6 L581.4,186.4 L582.0,185.2 L582.6,184.0 L583.2,182.8 L583.8,181.6 L584.5,180.4 L585.1,179.3 L585.7,178.2" stroke="#ff0000" stroke-width="2.3" fill="none" clip-path="url(#ibR)"/>
<path d="M487.6,201.0 L488.2,201.3 L488.8,201.5 L489.5,201.7 L490.1,201.7 L490.7,201.6 L491.3,201.3 L491.9,201.0 L492.5,200.6 L493.2,200.1 L493.8,199.5 L494.4,198.7 L495.0,197.9 L495.6,197.1 L496.2,196.1 L496.9,195.1 L497.5,194.0 L498.1,192.8 L498.7,191.6 L499.3,190.4 L499.9,189.1 L500.6,187.8 L501.2,186.5 L501.8,185.1 L502.4,183.8 L503.0,182.5 L503.6,181.1 L504.3,179.9 L504.9,178.6 L505.5,177.4 L506.1,176.2 L506.7,175.1 L507.3,174.1 L508.0,173.1 L508.6,172.2 L509.2,171.4 L509.8,170.7 L510.4,170.1 L511.0,169.5 L511.7,169.1 L512.3,168.8 L512.9,168.6 L513.5,168.4 L514.1,168.4 L514.7,168.5 L515.4,168.7 L516.0,169.1 L516.6,169.5 L517.2,170.0 L517.8,170.6 L518.4,171.3 L519.1,172.1 L519.7,173.0 L520.3,173.9 L520.9,175.0 L521.5,176.1 L522.2,177.2 L522.8,178.4 L523.4,179.6 L524.0,180.9 L524.6,182.2 L525.2,183.6 L525.9,184.9 L526.5,186.2 L527.1,187.6 L527.7,188.9 L528.3,190.2 L528.9,191.4 L529.6,192.6 L530.2,193.8 L530.8,194.9 L531.4,195.9 L532.0,196.9 L532.6,197.8 L533.3,198.6 L533.9,199.4 L534.5,200.0 L535.1,200.5 L535.7,201.0 L536.3,201.3 L537.0,201.5 L537.6,201.6 L538.2,201.7 L538.8,201.6 L539.4,201.4 L540.0,201.1 L540.7,200.7 L541.3,200.2 L541.9,199.5 L542.5,198.8 L543.1,198.1 L543.7,197.2 L544.4,196.2 L545.0,195.2 L545.6,194.1 L546.2,193.0 L546.8,191.8 L547.4,190.5 L548.1,189.3 L548.7,188.0 L549.3,186.6 L549.9,185.3 L550.5,184.0 L551.1,182.6 L551.8,181.3 L552.4,180.0 L553.0,178.8 L553.6,177.6 L554.2,176.4 L554.9,175.3 L555.5,174.2 L556.1,173.2 L556.7,172.3 L557.3,171.5 L557.9,170.8 L558.6,170.2 L559.2,169.6 L559.8,169.2 L560.4,168.8 L561.0,168.6 L561.6,168.5 L562.3,168.4 L562.9,168.5 L563.5,168.7 L564.1,169.0 L564.7,169.4 L565.3,169.9 L566.0,170.5 L566.6,171.2 L567.2,172.0 L567.8,172.9 L568.4,173.8 L569.0,174.8 L569.7,175.9 L570.3,177.0 L570.9,178.2 L571.5,179.5 L572.1,180.8 L572.7,182.1 L573.4,183.4 L574.0,184.7 L574.6,186.1 L575.2,187.4 L575.8,188.7 L576.4,190.0 L577.1,191.2 L577.7,192.5 L578.3,193.6 L578.9,194.8 L579.5,195.8 L580.1,196.8 L580.8,197.7 L581.4,198.5 L582.0,199.3 L582.6,199.9 L583.2,200.5 L583.8,200.9 L584.5,201.3 L585.1,201.5 L585.7,201.6" stroke="#008000" stroke-width="2.3" fill="none" clip-path="url(#ibR)"/>
<path d="M536.00,205.30v-2.2" stroke="#111" stroke-width="0.9"/>
<rect x="487.60" y="164.80" width="98.10" height="40.50" fill="none" stroke="#222" stroke-width="0.9"/>
<text x="486.60" y="213.60" text-anchor="middle" class="in">0.3</text>
<text x="536.00" y="213.60" text-anchor="middle" class="in">0.325</text>
<text x="585.00" y="213.60" text-anchor="middle" class="in">0.35</text>
<rect x="262.40" y="491.50" width="64.40" height="31.90" fill="#fff" stroke="#333" stroke-width="1.2"/>
<path d="M267.4,500.3H310.6" stroke="#0000ff" stroke-width="1.8"/>
<path d="M267.4,514.9H310.6" stroke="#ff0000" stroke-width="1.8"/>
<text x="315.1" y="504.10" class="lg">p</text>
<text x="315.1" y="518.70" class="lg">q</text>
<rect x="611.20" y="490.50" width="63.90" height="33.50" fill="#fff" stroke="#333" stroke-width="1.2"/>
<path d="M616.0,499.9H658.7" stroke="#0000ff" stroke-width="1.8"/>
<path d="M616.0,514.2H658.7" stroke="#ff0000" stroke-width="1.8"/>
<text x="663.1" y="503.70" class="lg">p</text>
<text x="663.1" y="518.00" class="lg">q</text>
<text x="44.90" y="133.50" text-anchor="middle" class="tk">0.15</text>
<text x="85.35" y="133.50" text-anchor="middle" class="tk">0.2</text>
<text x="125.80" y="133.50" text-anchor="middle" class="tk">0.25</text>
<text x="166.25" y="133.50" text-anchor="middle" class="tk">0.3</text>
<text x="206.70" y="133.50" text-anchor="middle" class="tk">0.35</text>
<text x="247.15" y="133.50" text-anchor="middle" class="tk">0.4</text>
<text x="287.60" y="133.50" text-anchor="middle" class="tk">0.45</text>
<text x="328.05" y="133.50" text-anchor="middle" class="tk">0.5</text>
<text x="42.50" y="113.50" text-anchor="end" class="tk">-200</text>
<text x="42.50" y="92.29" text-anchor="end" class="tk">-100</text>
<text x="42.50" y="71.09" text-anchor="end" class="tk">0</text>
<text x="42.50" y="49.88" text-anchor="end" class="tk">100</text>
<text x="42.50" y="28.67" text-anchor="end" class="tk">200</text>
<text x="186.47" y="8.87" text-anchor="middle" class="tt">(a)</text>
<text x="44.00" y="280.70" text-anchor="middle" class="tk">0.15</text>
<text x="84.44" y="280.70" text-anchor="middle" class="tk">0.2</text>
<text x="124.89" y="280.70" text-anchor="middle" class="tk">0.25</text>
<text x="165.33" y="280.70" text-anchor="middle" class="tk">0.3</text>
<text x="205.77" y="280.70" text-anchor="middle" class="tk">0.35</text>
<text x="246.21" y="280.70" text-anchor="middle" class="tk">0.4</text>
<text x="286.66" y="280.70" text-anchor="middle" class="tk">0.45</text>
<text x="327.10" y="280.70" text-anchor="middle" class="tk">0.5</text>
<text x="41.60" y="271.30" text-anchor="end" class="tk">-10</text>
<text x="41.60" y="244.92" text-anchor="end" class="tk">-5</text>
<text x="41.60" y="218.55" text-anchor="end" class="tk">0</text>
<text x="41.60" y="192.18" text-anchor="end" class="tk">5</text>
<text x="41.60" y="165.80" text-anchor="end" class="tk">10</text>
<text x="185.55" y="156.60" text-anchor="middle" class="tt">(b)</text>
<text x="44.10" y="427.80" text-anchor="middle" class="tk">0.15</text>
<text x="84.53" y="427.80" text-anchor="middle" class="tk">0.2</text>
<text x="124.96" y="427.80" text-anchor="middle" class="tk">0.25</text>
<text x="165.39" y="427.80" text-anchor="middle" class="tk">0.3</text>
<text x="205.81" y="427.80" text-anchor="middle" class="tk">0.35</text>
<text x="246.24" y="427.80" text-anchor="middle" class="tk">0.4</text>
<text x="286.67" y="427.80" text-anchor="middle" class="tk">0.45</text>
<text x="327.10" y="427.80" text-anchor="middle" class="tk">0.5</text>
<text x="41.70" y="418.40" text-anchor="end" class="tk">300</text>
<text x="41.70" y="383.07" text-anchor="end" class="tk">350</text>
<text x="41.70" y="347.73" text-anchor="end" class="tk">400</text>
<text x="41.70" y="312.40" text-anchor="end" class="tk">450</text>
<text x="185.60" y="303.20" text-anchor="middle" class="tt">(c)</text>
<text x="44.00" y="560.00" text-anchor="middle" class="tk">0.15</text>
<text x="84.44" y="560.00" text-anchor="middle" class="tk">0.2</text>
<text x="124.89" y="560.00" text-anchor="middle" class="tk">0.25</text>
<text x="165.33" y="560.00" text-anchor="middle" class="tk">0.3</text>
<text x="205.77" y="560.00" text-anchor="middle" class="tk">0.35</text>
<text x="246.21" y="560.00" text-anchor="middle" class="tk">0.4</text>
<text x="286.66" y="560.00" text-anchor="middle" class="tk">0.45</text>
<text x="327.10" y="560.00" text-anchor="middle" class="tk">0.5</text>
<text x="41.60" y="535.62" text-anchor="end" class="tk">-2000</text>
<text x="41.60" y="505.65" text-anchor="end" class="tk">-1000</text>
<text x="41.60" y="475.68" text-anchor="end" class="tk">0</text>
<text x="185.55" y="451.50" text-anchor="middle" class="tt">(d)</text>
<text x="394.10" y="133.50" text-anchor="middle" class="tk">0.15</text>
<text x="434.71" y="133.50" text-anchor="middle" class="tk">0.2</text>
<text x="475.33" y="133.50" text-anchor="middle" class="tk">0.25</text>
<text x="515.94" y="133.50" text-anchor="middle" class="tk">0.3</text>
<text x="556.56" y="133.50" text-anchor="middle" class="tk">0.35</text>
<text x="597.17" y="133.50" text-anchor="middle" class="tk">0.4</text>
<text x="637.79" y="133.50" text-anchor="middle" class="tk">0.45</text>
<text x="678.40" y="133.50" text-anchor="middle" class="tk">0.5</text>
<text x="391.70" y="113.50" text-anchor="end" class="tk">-200</text>
<text x="391.70" y="92.29" text-anchor="end" class="tk">-100</text>
<text x="391.70" y="71.09" text-anchor="end" class="tk">0</text>
<text x="391.70" y="49.88" text-anchor="end" class="tk">100</text>
<text x="391.70" y="28.67" text-anchor="end" class="tk">200</text>
<text x="536.25" y="8.87" text-anchor="middle" class="tt">(a)</text>
<text x="394.20" y="280.70" text-anchor="middle" class="tk">0.15</text>
<text x="434.80" y="280.70" text-anchor="middle" class="tk">0.2</text>
<text x="475.40" y="280.70" text-anchor="middle" class="tk">0.25</text>
<text x="516.00" y="280.70" text-anchor="middle" class="tk">0.3</text>
<text x="556.60" y="280.70" text-anchor="middle" class="tk">0.35</text>
<text x="597.20" y="280.70" text-anchor="middle" class="tk">0.4</text>
<text x="637.80" y="280.70" text-anchor="middle" class="tk">0.45</text>
<text x="678.40" y="280.70" text-anchor="middle" class="tk">0.5</text>
<text x="391.80" y="271.30" text-anchor="end" class="tk">-10</text>
<text x="391.80" y="244.92" text-anchor="end" class="tk">-5</text>
<text x="391.80" y="218.55" text-anchor="end" class="tk">0</text>
<text x="391.80" y="192.18" text-anchor="end" class="tk">5</text>
<text x="391.80" y="165.80" text-anchor="end" class="tk">10</text>
<text x="536.30" y="156.60" text-anchor="middle" class="tt">(b)</text>
<text x="394.20" y="427.80" text-anchor="middle" class="tk">0.15</text>
<text x="434.80" y="427.80" text-anchor="middle" class="tk">0.2</text>
<text x="475.40" y="427.80" text-anchor="middle" class="tk">0.25</text>
<text x="516.00" y="427.80" text-anchor="middle" class="tk">0.3</text>
<text x="556.60" y="427.80" text-anchor="middle" class="tk">0.35</text>
<text x="597.20" y="427.80" text-anchor="middle" class="tk">0.4</text>
<text x="637.80" y="427.80" text-anchor="middle" class="tk">0.45</text>
<text x="678.40" y="427.80" text-anchor="middle" class="tk">0.5</text>
<text x="391.80" y="418.40" text-anchor="end" class="tk">300</text>
<text x="391.80" y="383.07" text-anchor="end" class="tk">350</text>
<text x="391.80" y="347.73" text-anchor="end" class="tk">400</text>
<text x="391.80" y="312.40" text-anchor="end" class="tk">450</text>
<text x="536.30" y="303.20" text-anchor="middle" class="tt">(c)</text>
<text x="394.20" y="560.00" text-anchor="middle" class="tk">0.15</text>
<text x="434.80" y="560.00" text-anchor="middle" class="tk">0.2</text>
<text x="475.40" y="560.00" text-anchor="middle" class="tk">0.25</text>
<text x="516.00" y="560.00" text-anchor="middle" class="tk">0.3</text>
<text x="556.60" y="560.00" text-anchor="middle" class="tk">0.35</text>
<text x="597.20" y="560.00" text-anchor="middle" class="tk">0.4</text>
<text x="637.80" y="560.00" text-anchor="middle" class="tk">0.45</text>
<text x="678.40" y="560.00" text-anchor="middle" class="tk">0.5</text>
<text x="391.80" y="535.62" text-anchor="end" class="tk">-2000</text>
<text x="391.80" y="505.65" text-anchor="end" class="tk">-1000</text>
<text x="391.80" y="475.68" text-anchor="end" class="tk">0</text>
<text x="536.30" y="451.50" text-anchor="middle" class="tt">(d)</text>
<text transform="translate(10.10,66.98) rotate(-90)" text-anchor="middle" class="yl">V<tspan dy="6.6" font-size="10.3">g</tspan><tspan dy="-6.6"> (V)</tspan></text>
<text transform="translate(15.50,214.35) rotate(-90)" text-anchor="middle" class="yl">I<tspan dy="6.6" font-size="10.3">g</tspan><tspan dy="-6.6"> (A)</tspan></text>
<text transform="translate(13.60,361.30) rotate(-90)" text-anchor="middle" class="yl">V<tspan dy="6.6" font-size="10.3">dc</tspan><tspan dy="-6.6"> (V)</tspan></text>
<text transform="translate(9.00,501.25) rotate(-90)" text-anchor="middle" class="yl">PQ (VA)</text>
<text transform="translate(360.00,66.98) rotate(-90)" text-anchor="middle" class="yl">V<tspan dy="6.6" font-size="10.3">g</tspan><tspan dy="-6.6"> (V)</tspan></text>
<text transform="translate(365.40,214.35) rotate(-90)" text-anchor="middle" class="yl">I<tspan dy="6.6" font-size="10.3">g</tspan><tspan dy="-6.6"> (A)</tspan></text>
<text transform="translate(363.50,361.30) rotate(-90)" text-anchor="middle" class="yl">V<tspan dy="6.6" font-size="10.3">dc</tspan><tspan dy="-6.6"> (V)</tspan></text>
<text transform="translate(358.90,501.25) rotate(-90)" text-anchor="middle" class="yl">PQ (VA)</text>
<text x="187.35" y="574.8" text-anchor="middle" class="xl">Time(s)</text>
<text x="538.10" y="574.8" text-anchor="middle" class="xl">Time(s)</text>
</svg>
</body></html>
